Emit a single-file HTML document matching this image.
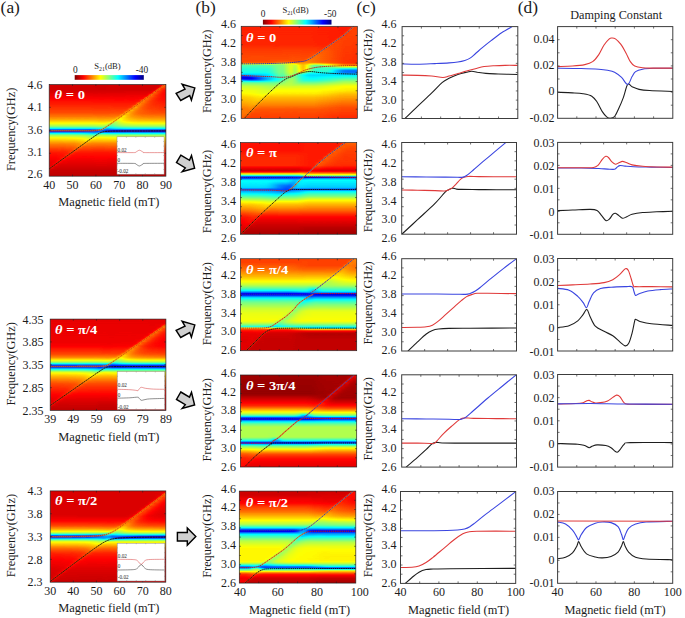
<!DOCTYPE html>
<html><head><meta charset="utf-8"><style>
html,body{margin:0;padding:0;background:#fff;}
body{width:685px;height:618px;overflow:hidden;}
svg text{font-family:'Liberation Serif',serif;}
.q0{stop-color:#000000}.q1{stop-color:#010101}.q2{stop-color:#020202}.q3{stop-color:#030303}.q4{stop-color:#040404}.q5{stop-color:#050505}.q6{stop-color:#060606}.q7{stop-color:#070707}.q8{stop-color:#080808}.q9{stop-color:#090909}.qa{stop-color:#0a0a0a}.qb{stop-color:#0b0b0b}.qc{stop-color:#0c0c0c}.qd{stop-color:#0d0d0d}.qe{stop-color:#0e0e0e}.qf{stop-color:#0f0f0f}.q10{stop-color:#101010}.q11{stop-color:#111111}.q12{stop-color:#121212}.q13{stop-color:#131313}.q14{stop-color:#141414}.q15{stop-color:#151515}.q16{stop-color:#161616}.q17{stop-color:#171717}.q18{stop-color:#181818}.q19{stop-color:#191919}.q1a{stop-color:#1a1a1a}.q1b{stop-color:#1b1b1b}.q1c{stop-color:#1c1c1c}.q1d{stop-color:#1d1d1d}.q1e{stop-color:#1e1e1e}.q1f{stop-color:#1f1f1f}.q20{stop-color:#202020}.q21{stop-color:#212121}.q22{stop-color:#222222}.q23{stop-color:#232323}.q24{stop-color:#242424}.q25{stop-color:#252525}.q26{stop-color:#262626}.q27{stop-color:#272727}.q28{stop-color:#282828}.q29{stop-color:#292929}.q2a{stop-color:#2a2a2a}.q2b{stop-color:#2b2b2b}.q2c{stop-color:#2c2c2c}.q2d{stop-color:#2d2d2d}.q2e{stop-color:#2e2e2e}.q2f{stop-color:#2f2f2f}.q30{stop-color:#303030}.q31{stop-color:#313131}.q32{stop-color:#323232}.q33{stop-color:#333333}.q34{stop-color:#343434}.q35{stop-color:#353535}.q36{stop-color:#363636}.q37{stop-color:#373737}.q38{stop-color:#383838}.q39{stop-color:#393939}.q3a{stop-color:#3a3a3a}.q3b{stop-color:#3b3b3b}.q3c{stop-color:#3c3c3c}.q3d{stop-color:#3d3d3d}.q3e{stop-color:#3e3e3e}.q3f{stop-color:#3f3f3f}.q40{stop-color:#404040}.q41{stop-color:#414141}.q42{stop-color:#424242}.q43{stop-color:#434343}.q44{stop-color:#444444}.q45{stop-color:#454545}.q46{stop-color:#464646}.q47{stop-color:#474747}.q48{stop-color:#484848}.q49{stop-color:#494949}.q4a{stop-color:#4a4a4a}.q4b{stop-color:#4b4b4b}.q4c{stop-color:#4c4c4c}.q4d{stop-color:#4d4d4d}.q4e{stop-color:#4e4e4e}.q4f{stop-color:#4f4f4f}.q50{stop-color:#505050}.q51{stop-color:#515151}.q52{stop-color:#525252}.q53{stop-color:#535353}.q54{stop-color:#545454}.q55{stop-color:#555555}.q56{stop-color:#565656}.q57{stop-color:#575757}.q58{stop-color:#585858}.q59{stop-color:#595959}.q5a{stop-color:#5a5a5a}.q5b{stop-color:#5b5b5b}.q5c{stop-color:#5c5c5c}.q5d{stop-color:#5d5d5d}.q5e{stop-color:#5e5e5e}.q5f{stop-color:#5f5f5f}.q60{stop-color:#606060}.q61{stop-color:#616161}.q62{stop-color:#626262}.q63{stop-color:#636363}.q64{stop-color:#646464}.q65{stop-color:#656565}.q66{stop-color:#666666}.q67{stop-color:#676767}.q68{stop-color:#686868}.q69{stop-color:#696969}.q6a{stop-color:#6a6a6a}.q6b{stop-color:#6b6b6b}.q6c{stop-color:#6c6c6c}.q6d{stop-color:#6d6d6d}.q6e{stop-color:#6e6e6e}.q6f{stop-color:#6f6f6f}.q70{stop-color:#707070}.q71{stop-color:#717171}.q72{stop-color:#727272}.q73{stop-color:#737373}.q74{stop-color:#747474}.q75{stop-color:#757575}.q76{stop-color:#767676}.q77{stop-color:#777777}.q78{stop-color:#787878}.q79{stop-color:#797979}.q7a{stop-color:#7a7a7a}.q7b{stop-color:#7b7b7b}.q7c{stop-color:#7c7c7c}.q7d{stop-color:#7d7d7d}.q7e{stop-color:#7e7e7e}.q7f{stop-color:#7f7f7f}.q80{stop-color:#808080}.q81{stop-color:#818181}.q82{stop-color:#828282}.q83{stop-color:#838383}.q84{stop-color:#848484}.q85{stop-color:#858585}.q86{stop-color:#868686}.q87{stop-color:#878787}.q88{stop-color:#888888}.q89{stop-color:#898989}.q8a{stop-color:#8a8a8a}.q8b{stop-color:#8b8b8b}.q8c{stop-color:#8c8c8c}.q8d{stop-color:#8d8d8d}.q8e{stop-color:#8e8e8e}.q8f{stop-color:#8f8f8f}.q90{stop-color:#909090}.q91{stop-color:#919191}.q92{stop-color:#929292}.q93{stop-color:#939393}.q94{stop-color:#949494}.q95{stop-color:#959595}.q96{stop-color:#969696}.q97{stop-color:#979797}.q98{stop-color:#989898}.q99{stop-color:#999999}.q9a{stop-color:#9a9a9a}.q9b{stop-color:#9b9b9b}.q9c{stop-color:#9c9c9c}.q9d{stop-color:#9d9d9d}.q9e{stop-color:#9e9e9e}.q9f{stop-color:#9f9f9f}.qa0{stop-color:#a0a0a0}.qa1{stop-color:#a1a1a1}.qa2{stop-color:#a2a2a2}.qa3{stop-color:#a3a3a3}.qa4{stop-color:#a4a4a4}.qa5{stop-color:#a5a5a5}.qa6{stop-color:#a6a6a6}.qa7{stop-color:#a7a7a7}.qa8{stop-color:#a8a8a8}.qa9{stop-color:#a9a9a9}.qaa{stop-color:#aaaaaa}.qab{stop-color:#ababab}.qac{stop-color:#acacac}.qad{stop-color:#adadad}.qae{stop-color:#aeaeae}.qaf{stop-color:#afafaf}.qb0{stop-color:#b0b0b0}.qb1{stop-color:#b1b1b1}.qb2{stop-color:#b2b2b2}.qb3{stop-color:#b3b3b3}.qb4{stop-color:#b4b4b4}.qb5{stop-color:#b5b5b5}.qb6{stop-color:#b6b6b6}.qb7{stop-color:#b7b7b7}.qb8{stop-color:#b8b8b8}.qb9{stop-color:#b9b9b9}.qba{stop-color:#bababa}.qbb{stop-color:#bbbbbb}.qbc{stop-color:#bcbcbc}.qbd{stop-color:#bdbdbd}.qbe{stop-color:#bebebe}.qbf{stop-color:#bfbfbf}.qc0{stop-color:#c0c0c0}.qc1{stop-color:#c1c1c1}.qc2{stop-color:#c2c2c2}.qc3{stop-color:#c3c3c3}.qc4{stop-color:#c4c4c4}.qc5{stop-color:#c5c5c5}.qc6{stop-color:#c6c6c6}.qc7{stop-color:#c7c7c7}.qc8{stop-color:#c8c8c8}.qc9{stop-color:#c9c9c9}.qca{stop-color:#cacaca}.qcb{stop-color:#cbcbcb}.qcc{stop-color:#cccccc}.qcd{stop-color:#cdcdcd}.qce{stop-color:#cecece}.qcf{stop-color:#cfcfcf}.qd0{stop-color:#d0d0d0}.qd1{stop-color:#d1d1d1}.qd2{stop-color:#d2d2d2}.qd3{stop-color:#d3d3d3}.qd4{stop-color:#d4d4d4}.qd5{stop-color:#d5d5d5}.qd6{stop-color:#d6d6d6}.qd7{stop-color:#d7d7d7}.qd8{stop-color:#d8d8d8}.qd9{stop-color:#d9d9d9}.qda{stop-color:#dadada}.qdb{stop-color:#dbdbdb}.qdc{stop-color:#dcdcdc}.qdd{stop-color:#dddddd}.qde{stop-color:#dedede}.qdf{stop-color:#dfdfdf}.qe0{stop-color:#e0e0e0}.qe1{stop-color:#e1e1e1}.qe2{stop-color:#e2e2e2}.qe3{stop-color:#e3e3e3}.qe4{stop-color:#e4e4e4}.qe5{stop-color:#e5e5e5}.qe6{stop-color:#e6e6e6}.qe7{stop-color:#e7e7e7}.qe8{stop-color:#e8e8e8}.qe9{stop-color:#e9e9e9}.qea{stop-color:#eaeaea}.qeb{stop-color:#ebebeb}.qec{stop-color:#ececec}.qed{stop-color:#ededed}.qee{stop-color:#eeeeee}.qef{stop-color:#efefef}.qf0{stop-color:#f0f0f0}.qf1{stop-color:#f1f1f1}.qf2{stop-color:#f2f2f2}.qf3{stop-color:#f3f3f3}.qf4{stop-color:#f4f4f4}.qf5{stop-color:#f5f5f5}.qf6{stop-color:#f6f6f6}.qf7{stop-color:#f7f7f7}.qf8{stop-color:#f8f8f8}.qf9{stop-color:#f9f9f9}.qfa{stop-color:#fafafa}.qfb{stop-color:#fbfbfb}.qfc{stop-color:#fcfcfc}.qfd{stop-color:#fdfdfd}.qfe{stop-color:#fefefe}.qff{stop-color:#ffffff}
</style></head><body>
<svg width="685" height="618" viewBox="0 0 685 618" style="display:block">
<defs><clipPath id="clip0"><rect x="49.2" y="84.4" width="116.70" height="91.80"/></clipPath><filter id="cm0" x="45.2" y="83.4" width="124.7" height="93.79999999999998" filterUnits="userSpaceOnUse" color-interpolation-filters="sRGB"><feGaussianBlur stdDeviation="1.6 0"/><feComponentTransfer><feFuncR type="table" tableValues="0.5000 1.0000 1.0000 1.0000 0.5000 0.0000 0.0000 0.0000 0.0000"/><feFuncG type="table" tableValues="0.0000 0.0000 0.5000 1.0000 1.0000 1.0000 0.5000 0.0000 0.0000"/><feFuncB type="table" tableValues="0.0000 0.0000 0.0000 0.0000 0.5000 1.0000 1.0000 1.0000 0.5000"/></feComponentTransfer></filter><linearGradient id="g0" x2="0" y2="1"><stop offset=.000 class=q15 /><stop offset=.065 class=q15 /><stop offset=.087 class=q17 /><stop offset=.305 class=q32 /><stop offset=.349 class=q3d /><stop offset=.381 class=q49 /><stop offset=.425 class=q61 /><stop offset=.447 class=q71 /><stop offset=.458 class=q7c /><stop offset=.468 class=q8b /><stop offset=.479 class=q9f /><stop offset=.490 class=qbd /><stop offset=.501 class=qe9 /><stop offset=.512 class=qe4 /><stop offset=.523 class=qbc /><stop offset=.534 class=qa0 /><stop offset=.545 class=q88 /><stop offset=.556 class=q76 /><stop offset=.577 class=q63 /><stop offset=.588 class=q5d /><stop offset=.610 class=q51 /><stop offset=.654 class=q3e /><stop offset=.730 class=q28 /><stop offset=.763 class=q23 /><stop offset=.882 class=q18 /><stop offset=.904 class=q18 /><stop offset=.915 class=q21 /><stop offset=.926 class=q1d /><stop offset=.937 class=q14 /><stop offset=.948 class=q12 /><stop offset=1.000 class=q10 /></linearGradient><linearGradient id="g1" x2="0" y2="1"><stop offset=.000 class=q15 /><stop offset=.065 class=q15 /><stop offset=.087 class=q17 /><stop offset=.305 class=q32 /><stop offset=.349 class=q3d /><stop offset=.381 class=q49 /><stop offset=.425 class=q61 /><stop offset=.447 class=q71 /><stop offset=.458 class=q7c /><stop offset=.468 class=q8b /><stop offset=.479 class=q9f /><stop offset=.490 class=qbd /><stop offset=.501 class=qe9 /><stop offset=.512 class=qe4 /><stop offset=.523 class=qbc /><stop offset=.534 class=qa0 /><stop offset=.545 class=q88 /><stop offset=.556 class=q76 /><stop offset=.577 class=q63 /><stop offset=.588 class=q5d /><stop offset=.610 class=q51 /><stop offset=.654 class=q3e /><stop offset=.719 class=q2b /><stop offset=.752 class=q24 /><stop offset=.763 class=q23 /><stop offset=.861 class=q1a /><stop offset=.882 class=q1a /><stop offset=.893 class=q1f /><stop offset=.904 class=q1f /><stop offset=.915 class=q1d /><stop offset=.926 class=q15 /><stop offset=.937 class=q13 /><stop offset=1.000 class=qf /></linearGradient><linearGradient id="g2" x2="0" y2="1"><stop offset=.000 class=q15 /><stop offset=.065 class=q15 /><stop offset=.087 class=q17 /><stop offset=.305 class=q32 /><stop offset=.349 class=q3d /><stop offset=.381 class=q49 /><stop offset=.425 class=q61 /><stop offset=.447 class=q71 /><stop offset=.458 class=q7c /><stop offset=.468 class=q8b /><stop offset=.479 class=q9f /><stop offset=.490 class=qbd /><stop offset=.501 class=qe9 /><stop offset=.512 class=qe4 /><stop offset=.523 class=qbc /><stop offset=.534 class=qa0 /><stop offset=.545 class=q88 /><stop offset=.556 class=q76 /><stop offset=.577 class=q63 /><stop offset=.588 class=q5d /><stop offset=.610 class=q51 /><stop offset=.654 class=q3e /><stop offset=.719 class=q2b /><stop offset=.752 class=q24 /><stop offset=.763 class=q23 /><stop offset=.828 class=q1d /><stop offset=.850 class=q1d /><stop offset=.861 class=q22 /><stop offset=.882 class=q20 /><stop offset=.893 class=q19 /><stop offset=.904 class=q16 /><stop offset=.937 class=q12 /><stop offset=1.000 class=qf /></linearGradient><linearGradient id="g3" x2="0" y2="1"><stop offset=.000 class=q15 /><stop offset=.065 class=q15 /><stop offset=.087 class=q17 /><stop offset=.305 class=q32 /><stop offset=.349 class=q3d /><stop offset=.381 class=q49 /><stop offset=.425 class=q61 /><stop offset=.447 class=q71 /><stop offset=.458 class=q7c /><stop offset=.468 class=q8b /><stop offset=.479 class=q9f /><stop offset=.490 class=qbe /><stop offset=.501 class=qe9 /><stop offset=.512 class=qe4 /><stop offset=.523 class=qbb /><stop offset=.534 class=qa0 /><stop offset=.545 class=q88 /><stop offset=.556 class=q77 /><stop offset=.577 class=q63 /><stop offset=.588 class=q5d /><stop offset=.610 class=q51 /><stop offset=.654 class=q3e /><stop offset=.741 class=q26 /><stop offset=.806 class=q20 /><stop offset=.817 class=q20 /><stop offset=.828 class=q25 /><stop offset=.839 class=q25 /><stop offset=.850 class=q23 /><stop offset=.861 class=q1c /><stop offset=.871 class=q19 /><stop offset=.937 class=q12 /><stop offset=1.000 class=qf /></linearGradient><linearGradient id="g4" x2="0" y2="1"><stop offset=.000 class=q15 /><stop offset=.065 class=q15 /><stop offset=.087 class=q17 /><stop offset=.305 class=q32 /><stop offset=.349 class=q3d /><stop offset=.381 class=q49 /><stop offset=.425 class=q61 /><stop offset=.447 class=q71 /><stop offset=.458 class=q7c /><stop offset=.468 class=q8b /><stop offset=.479 class=qa0 /><stop offset=.490 class=qbe /><stop offset=.501 class=qea /><stop offset=.512 class=qe3 /><stop offset=.523 class=qbb /><stop offset=.534 class=qa0 /><stop offset=.545 class=q88 /><stop offset=.556 class=q77 /><stop offset=.577 class=q63 /><stop offset=.588 class=q5d /><stop offset=.643 class=q42 /><stop offset=.697 class=q31 /><stop offset=.730 class=q29 /><stop offset=.773 class=q23 /><stop offset=.784 class=q23 /><stop offset=.806 class=q29 /><stop offset=.817 class=q26 /><stop offset=.828 class=q1f /><stop offset=.839 class=q1c /><stop offset=.871 class=q18 /><stop offset=.937 class=q12 /><stop offset=1.000 class=qf /></linearGradient><linearGradient id="g5" x2="0" y2="1"><stop offset=.000 class=q15 /><stop offset=.065 class=q15 /><stop offset=.087 class=q17 /><stop offset=.305 class=q32 /><stop offset=.349 class=q3d /><stop offset=.381 class=q49 /><stop offset=.425 class=q61 /><stop offset=.447 class=q71 /><stop offset=.458 class=q7c /><stop offset=.468 class=q8b /><stop offset=.479 class=qa0 /><stop offset=.490 class=qbe /><stop offset=.501 class=qea /><stop offset=.512 class=qe3 /><stop offset=.523 class=qbb /><stop offset=.534 class=qa0 /><stop offset=.545 class=q88 /><stop offset=.556 class=q77 /><stop offset=.577 class=q64 /><stop offset=.588 class=q5d /><stop offset=.654 class=q3f /><stop offset=.730 class=q2a /><stop offset=.752 class=q27 /><stop offset=.773 class=q2c /><stop offset=.784 class=q29 /><stop offset=.806 class=q1f /><stop offset=.937 class=q12 /><stop offset=1.000 class=qf /></linearGradient><linearGradient id="g6" x2="0" y2="1"><stop offset=.000 class=q15 /><stop offset=.065 class=q15 /><stop offset=.087 class=q17 /><stop offset=.305 class=q32 /><stop offset=.349 class=q3d /><stop offset=.381 class=q49 /><stop offset=.425 class=q61 /><stop offset=.447 class=q71 /><stop offset=.458 class=q7c /><stop offset=.468 class=q8b /><stop offset=.479 class=qa0 /><stop offset=.490 class=qbe /><stop offset=.501 class=qea /><stop offset=.512 class=qe2 /><stop offset=.523 class=qbb /><stop offset=.534 class=qa0 /><stop offset=.545 class=q89 /><stop offset=.556 class=q77 /><stop offset=.577 class=q64 /><stop offset=.588 class=q5e /><stop offset=.610 class=q52 /><stop offset=.643 class=q43 /><stop offset=.697 class=q33 /><stop offset=.719 class=q2f /><stop offset=.741 class=q30 /><stop offset=.752 class=q2d /><stop offset=.773 class=q23 /><stop offset=.828 class=q1c /><stop offset=.937 class=q12 /><stop offset=1.000 class=qf /></linearGradient><linearGradient id="g7" x2="0" y2="1"><stop offset=.000 class=q15 /><stop offset=.065 class=q15 /><stop offset=.087 class=q17 /><stop offset=.305 class=q32 /><stop offset=.349 class=q3d /><stop offset=.381 class=q49 /><stop offset=.425 class=q61 /><stop offset=.447 class=q71 /><stop offset=.458 class=q7c /><stop offset=.468 class=q8c /><stop offset=.479 class=qa0 /><stop offset=.490 class=qbe /><stop offset=.501 class=qea /><stop offset=.512 class=qe2 /><stop offset=.523 class=qbb /><stop offset=.545 class=q89 /><stop offset=.556 class=q78 /><stop offset=.577 class=q65 /><stop offset=.588 class=q5f /><stop offset=.610 class=q53 /><stop offset=.643 class=q44 /><stop offset=.686 class=q38 /><stop offset=.708 class=q39 /><stop offset=.719 class=q35 /><stop offset=.741 class=q27 /><stop offset=.752 class=q24 /><stop offset=.937 class=q12 /><stop offset=1.000 class=qf /></linearGradient><linearGradient id="g8" x2="0" y2="1"><stop offset=.000 class=q15 /><stop offset=.065 class=q15 /><stop offset=.087 class=q17 /><stop offset=.305 class=q32 /><stop offset=.349 class=q3d /><stop offset=.381 class=q49 /><stop offset=.425 class=q61 /><stop offset=.447 class=q71 /><stop offset=.458 class=q7c /><stop offset=.468 class=q8c /><stop offset=.479 class=qa0 /><stop offset=.490 class=qbf /><stop offset=.501 class=qeb /><stop offset=.512 class=qe1 /><stop offset=.523 class=qbb /><stop offset=.534 class=qa1 /><stop offset=.545 class=q8a /><stop offset=.556 class=q79 /><stop offset=.577 class=q66 /><stop offset=.599 class=q5a /><stop offset=.643 class=q47 /><stop offset=.654 class=q44 /><stop offset=.675 class=q43 /><stop offset=.686 class=q3e /><stop offset=.708 class=q2f /><stop offset=.741 class=q26 /><stop offset=.806 class=q1e /><stop offset=.937 class=q12 /><stop offset=1.000 class=qf /></linearGradient><linearGradient id="g9" x2="0" y2="1"><stop offset=.000 class=q15 /><stop offset=.065 class=q15 /><stop offset=.087 class=q17 /><stop offset=.305 class=q32 /><stop offset=.349 class=q3d /><stop offset=.381 class=q49 /><stop offset=.425 class=q61 /><stop offset=.447 class=q71 /><stop offset=.458 class=q7c /><stop offset=.468 class=q8c /><stop offset=.479 class=qa0 /><stop offset=.490 class=qbf /><stop offset=.501 class=qeb /><stop offset=.512 class=qe0 /><stop offset=.523 class=qbc /><stop offset=.534 class=qa2 /><stop offset=.545 class=q8b /><stop offset=.556 class=q7a /><stop offset=.577 class=q68 /><stop offset=.599 class=q5d /><stop offset=.621 class=q53 /><stop offset=.643 class=q4e /><stop offset=.654 class=q49 /><stop offset=.675 class=q39 /><stop offset=.686 class=q34 /><stop offset=.730 class=q28 /><stop offset=.752 class=q24 /><stop offset=.828 class=q1c /><stop offset=.937 class=q12 /><stop offset=1.000 class=qf /></linearGradient><linearGradient id="g10" x2="0" y2="1"><stop offset=.000 class=q15 /><stop offset=.065 class=q15 /><stop offset=.087 class=q17 /><stop offset=.305 class=q32 /><stop offset=.349 class=q3d /><stop offset=.381 class=q49 /><stop offset=.425 class=q61 /><stop offset=.447 class=q71 /><stop offset=.458 class=q7c /><stop offset=.468 class=q8c /><stop offset=.479 class=qa0 /><stop offset=.490 class=qc0 /><stop offset=.501 class=qec /><stop offset=.512 class=qde /><stop offset=.523 class=qbc /><stop offset=.545 class=q8e /><stop offset=.556 class=q7d /><stop offset=.566 class=q74 /><stop offset=.588 class=q66 /><stop offset=.610 class=q5f /><stop offset=.621 class=q58 /><stop offset=.643 class=q43 /><stop offset=.675 class=q37 /><stop offset=.730 class=q28 /><stop offset=.752 class=q24 /><stop offset=.828 class=q1c /><stop offset=.937 class=q12 /><stop offset=1.000 class=qf /></linearGradient><linearGradient id="g11" x2="0" y2="1"><stop offset=.000 class=q15 /><stop offset=.065 class=q15 /><stop offset=.087 class=q17 /><stop offset=.305 class=q32 /><stop offset=.349 class=q3d /><stop offset=.381 class=q49 /><stop offset=.425 class=q61 /><stop offset=.447 class=q71 /><stop offset=.458 class=q7c /><stop offset=.468 class=q8c /><stop offset=.479 class=qa0 /><stop offset=.490 class=qc1 /><stop offset=.501 class=qec /><stop offset=.512 class=qdc /><stop offset=.523 class=qbe /><stop offset=.534 class=qa7 /><stop offset=.545 class=q92 /><stop offset=.556 class=q82 /><stop offset=.588 class=q6a /><stop offset=.599 class=q5d /><stop offset=.610 class=q53 /><stop offset=.621 class=q4c /><stop offset=.643 class=q42 /><stop offset=.675 class=q37 /><stop offset=.730 class=q28 /><stop offset=.752 class=q24 /><stop offset=.828 class=q1c /><stop offset=.937 class=q12 /><stop offset=1.000 class=qf /></linearGradient><linearGradient id="g12" x2="0" y2="1"><stop offset=.000 class=q14 /><stop offset=.065 class=q15 /><stop offset=.098 class=q18 /><stop offset=.316 class=q33 /><stop offset=.381 class=q49 /><stop offset=.425 class=q61 /><stop offset=.447 class=q71 /><stop offset=.458 class=q7c /><stop offset=.468 class=q8b /><stop offset=.479 class=qa0 /><stop offset=.490 class=qc1 /><stop offset=.501 class=qe9 /><stop offset=.534 class=qad /><stop offset=.545 class=q96 /><stop offset=.556 class=q84 /><stop offset=.566 class=q76 /><stop offset=.577 class=q64 /><stop offset=.588 class=q5d /><stop offset=.643 class=q41 /><stop offset=.697 class=q30 /><stop offset=.741 class=q25 /><stop offset=.937 class=q12 /><stop offset=1.000 class=qf /></linearGradient><linearGradient id="g13" x2="0" y2="1"><stop offset=.000 class=q14 /><stop offset=.054 class=q14 /><stop offset=.098 class=q18 /><stop offset=.316 class=q33 /><stop offset=.359 class=q40 /><stop offset=.392 class=q4d /><stop offset=.425 class=q60 /><stop offset=.447 class=q6f /><stop offset=.458 class=q7a /><stop offset=.468 class=q89 /><stop offset=.479 class=q9d /><stop offset=.490 class=qc0 /><stop offset=.501 class=qcf /><stop offset=.512 class=qc7 /><stop offset=.523 class=qbb /><stop offset=.534 class=qa6 /><stop offset=.545 class=q88 /><stop offset=.556 class=q74 /><stop offset=.577 class=q61 /><stop offset=.643 class=q41 /><stop offset=.686 class=q33 /><stop offset=.741 class=q25 /><stop offset=.937 class=q12 /><stop offset=1.000 class=qf /></linearGradient><linearGradient id="g14" x2="0" y2="1"><stop offset=.000 class=q14 /><stop offset=.054 class=q14 /><stop offset=.098 class=q18 /><stop offset=.316 class=q33 /><stop offset=.370 class=q44 /><stop offset=.392 class=q4d /><stop offset=.425 class=q60 /><stop offset=.447 class=q6f /><stop offset=.458 class=q79 /><stop offset=.468 class=q89 /><stop offset=.479 class=q9e /><stop offset=.490 class=qbd /><stop offset=.501 class=qc8 /><stop offset=.512 class=qcb /><stop offset=.523 class=qc0 /><stop offset=.534 class=q9e /><stop offset=.545 class=q85 /><stop offset=.556 class=q74 /><stop offset=.577 class=q61 /><stop offset=.643 class=q41 /><stop offset=.686 class=q33 /><stop offset=.741 class=q25 /><stop offset=.937 class=q12 /><stop offset=1.000 class=qf /></linearGradient><linearGradient id="g15" x2="0" y2="1"><stop offset=.000 class=q14 /><stop offset=.065 class=q15 /><stop offset=.098 class=q18 /><stop offset=.316 class=q33 /><stop offset=.349 class=q3d /><stop offset=.392 class=q4d /><stop offset=.425 class=q61 /><stop offset=.447 class=q75 /><stop offset=.458 class=q8f /><stop offset=.468 class=qa0 /><stop offset=.490 class=qc1 /><stop offset=.501 class=qd6 /><stop offset=.512 class=qe8 /><stop offset=.523 class=qc2 /><stop offset=.534 class=qa2 /><stop offset=.545 class=q88 /><stop offset=.556 class=q76 /><stop offset=.577 class=q63 /><stop offset=.588 class=q5c /><stop offset=.643 class=q41 /><stop offset=.741 class=q25 /><stop offset=.937 class=q12 /><stop offset=1.000 class=qf /></linearGradient><linearGradient id="g16" x2="0" y2="1"><stop offset=.000 class=q15 /><stop offset=.065 class=q15 /><stop offset=.087 class=q17 /><stop offset=.305 class=q32 /><stop offset=.349 class=q3d /><stop offset=.392 class=q4e /><stop offset=.403 class=q55 /><stop offset=.414 class=q60 /><stop offset=.425 class=q77 /><stop offset=.436 class=q84 /><stop offset=.458 class=q90 /><stop offset=.468 class=q9b /><stop offset=.479 class=qa9 /><stop offset=.490 class=qbe /><stop offset=.501 class=qdc /><stop offset=.512 class=qec /><stop offset=.523 class=qc2 /><stop offset=.534 class=qa2 /><stop offset=.545 class=q89 /><stop offset=.556 class=q77 /><stop offset=.577 class=q63 /><stop offset=.588 class=q5d /><stop offset=.643 class=q41 /><stop offset=.730 class=q28 /><stop offset=.752 class=q24 /><stop offset=.828 class=q1c /><stop offset=.937 class=q12 /><stop offset=1.000 class=qf /></linearGradient><linearGradient id="g17" x2="0" y2="1"><stop offset=.000 class=q15 /><stop offset=.065 class=q15 /><stop offset=.087 class=q17 /><stop offset=.240 class=q29 /><stop offset=.316 class=q34 /><stop offset=.359 class=q41 /><stop offset=.370 class=q46 /><stop offset=.381 class=q4f /><stop offset=.392 class=q5d /><stop offset=.403 class=q70 /><stop offset=.414 class=q77 /><stop offset=.425 class=q78 /><stop offset=.447 class=q80 /><stop offset=.458 class=q88 /><stop offset=.468 class=q94 /><stop offset=.479 class=qa4 /><stop offset=.490 class=qbc /><stop offset=.501 class=qdf /><stop offset=.512 class=qec /><stop offset=.523 class=qc1 /><stop offset=.534 class=qa2 /><stop offset=.545 class=q89 /><stop offset=.556 class=q77 /><stop offset=.577 class=q63 /><stop offset=.588 class=q5d /><stop offset=.610 class=q51 /><stop offset=.643 class=q42 /><stop offset=.675 class=q37 /><stop offset=.730 class=q28 /><stop offset=.752 class=q24 /><stop offset=.828 class=q1c /><stop offset=.937 class=q12 /><stop offset=1.000 class=qf /></linearGradient><linearGradient id="g18" x2="0" y2="1"><stop offset=.000 class=q15 /><stop offset=.065 class=q15 /><stop offset=.087 class=q17 /><stop offset=.240 class=q29 /><stop offset=.316 class=q34 /><stop offset=.338 class=q3b /><stop offset=.349 class=q42 /><stop offset=.370 class=q62 /><stop offset=.381 class=q67 /><stop offset=.392 class=q65 /><stop offset=.414 class=q6a /><stop offset=.425 class=q6e /><stop offset=.447 class=q7a /><stop offset=.458 class=q83 /><stop offset=.468 class=q90 /><stop offset=.479 class=qa2 /><stop offset=.490 class=qbb /><stop offset=.501 class=qe0 /><stop offset=.512 class=qeb /><stop offset=.523 class=qc0 /><stop offset=.534 class=qa2 /><stop offset=.545 class=q89 /><stop offset=.556 class=q77 /><stop offset=.577 class=q63 /><stop offset=.588 class=q5d /><stop offset=.610 class=q51 /><stop offset=.643 class=q42 /><stop offset=.675 class=q37 /><stop offset=.730 class=q28 /><stop offset=.752 class=q24 /><stop offset=.828 class=q1c /><stop offset=.937 class=q12 /><stop offset=1.000 class=qf /></linearGradient><linearGradient id="g19" x2="0" y2="1"><stop offset=.000 class=q15 /><stop offset=.065 class=q15 /><stop offset=.087 class=q17 /><stop offset=.240 class=q29 /><stop offset=.305 class=q33 /><stop offset=.316 class=q37 /><stop offset=.338 class=q58 /><stop offset=.349 class=q5d /><stop offset=.359 class=q59 /><stop offset=.370 class=q59 /><stop offset=.392 class=q5b /><stop offset=.414 class=q64 /><stop offset=.436 class=q6f /><stop offset=.447 class=q76 /><stop offset=.458 class=q80 /><stop offset=.468 class=q8e /><stop offset=.479 class=qa0 /><stop offset=.490 class=qbb /><stop offset=.501 class=qe1 /><stop offset=.512 class=qeb /><stop offset=.523 class=qc0 /><stop offset=.534 class=qa2 /><stop offset=.545 class=q89 /><stop offset=.556 class=q77 /><stop offset=.577 class=q63 /><stop offset=.588 class=q5d /><stop offset=.610 class=q51 /><stop offset=.643 class=q42 /><stop offset=.675 class=q37 /><stop offset=.730 class=q28 /><stop offset=.752 class=q24 /><stop offset=.828 class=q1c /><stop offset=.937 class=q12 /><stop offset=1.000 class=qf /></linearGradient><linearGradient id="g20" x2="0" y2="1"><stop offset=.000 class=q15 /><stop offset=.065 class=q15 /><stop offset=.261 class=q2c /><stop offset=.283 class=q32 /><stop offset=.294 class=q40 /><stop offset=.316 class=q54 /><stop offset=.327 class=q4f /><stop offset=.359 class=q4f /><stop offset=.392 class=q56 /><stop offset=.414 class=q60 /><stop offset=.447 class=q74 /><stop offset=.458 class=q7e /><stop offset=.468 class=q8d /><stop offset=.479 class=q9f /><stop offset=.490 class=qba /><stop offset=.501 class=qe2 /><stop offset=.512 class=qea /><stop offset=.523 class=qbf /><stop offset=.534 class=qa1 /><stop offset=.545 class=q89 /><stop offset=.556 class=q77 /><stop offset=.577 class=q63 /><stop offset=.588 class=q5d /><stop offset=.610 class=q51 /><stop offset=.654 class=q3e /><stop offset=.730 class=q28 /><stop offset=.763 class=q23 /><stop offset=.937 class=q12 /><stop offset=1.000 class=qf /></linearGradient><linearGradient id="g21" x2="0" y2="1"><stop offset=.000 class=q15 /><stop offset=.065 class=q15 /><stop offset=.174 class=q21 /><stop offset=.240 class=q2a /><stop offset=.251 class=q2d /><stop offset=.261 class=q3c /><stop offset=.272 class=q45 /><stop offset=.283 class=q51 /><stop offset=.294 class=q4a /><stop offset=.316 class=q45 /><stop offset=.349 class=q47 /><stop offset=.392 class=q52 /><stop offset=.425 class=q64 /><stop offset=.447 class=q73 /><stop offset=.458 class=q7d /><stop offset=.468 class=q8c /><stop offset=.479 class=q9f /><stop offset=.490 class=qba /><stop offset=.501 class=qe3 /><stop offset=.512 class=qea /><stop offset=.523 class=qbf /><stop offset=.534 class=qa1 /><stop offset=.545 class=q89 /><stop offset=.556 class=q77 /><stop offset=.577 class=q63 /><stop offset=.588 class=q5d /><stop offset=.610 class=q51 /><stop offset=.654 class=q3e /><stop offset=.730 class=q28 /><stop offset=.763 class=q23 /><stop offset=.937 class=q12 /><stop offset=1.000 class=qf /></linearGradient><linearGradient id="g22" x2="0" y2="1"><stop offset=.000 class=q15 /><stop offset=.065 class=q15 /><stop offset=.196 class=q24 /><stop offset=.218 class=q29 /><stop offset=.229 class=q38 /><stop offset=.240 class=q41 /><stop offset=.251 class=q4e /><stop offset=.261 class=q46 /><stop offset=.283 class=q40 /><stop offset=.305 class=q3e /><stop offset=.327 class=q3f /><stop offset=.370 class=q49 /><stop offset=.403 class=q56 /><stop offset=.425 class=q63 /><stop offset=.447 class=q72 /><stop offset=.458 class=q7d /><stop offset=.468 class=q8b /><stop offset=.479 class=q9f /><stop offset=.490 class=qba /><stop offset=.501 class=qe3 /><stop offset=.512 class=qe9 /><stop offset=.523 class=qbf /><stop offset=.534 class=qa1 /><stop offset=.545 class=q89 /><stop offset=.556 class=q77 /><stop offset=.577 class=q63 /><stop offset=.588 class=q5d /><stop offset=.610 class=q51 /><stop offset=.654 class=q3e /><stop offset=.730 class=q28 /><stop offset=.763 class=q23 /><stop offset=.937 class=q12 /><stop offset=1.000 class=qf /></linearGradient><linearGradient id="g23" x2="0" y2="1"><stop offset=.000 class=q15 /><stop offset=.065 class=q15 /><stop offset=.174 class=q22 /><stop offset=.185 class=q25 /><stop offset=.196 class=q34 /><stop offset=.207 class=q3d /><stop offset=.218 class=q43 /><stop offset=.229 class=q42 /><stop offset=.251 class=q3c /><stop offset=.283 class=q39 /><stop offset=.316 class=q39 /><stop offset=.370 class=q47 /><stop offset=.392 class=q4f /><stop offset=.425 class=q62 /><stop offset=.447 class=q72 /><stop offset=.458 class=q7c /><stop offset=.468 class=q8b /><stop offset=.479 class=q9e /><stop offset=.490 class=qba /><stop offset=.501 class=qe4 /><stop offset=.512 class=qe9 /><stop offset=.523 class=qbf /><stop offset=.534 class=qa1 /><stop offset=.545 class=q89 /><stop offset=.556 class=q77 /><stop offset=.577 class=q63 /><stop offset=.588 class=q5d /><stop offset=.610 class=q51 /><stop offset=.654 class=q3e /><stop offset=.730 class=q28 /><stop offset=.763 class=q23 /><stop offset=.937 class=q12 /><stop offset=1.000 class=qf /></linearGradient><linearGradient id="g24" x2="0" y2="1"><stop offset=.000 class=q15 /><stop offset=.065 class=q15 /><stop offset=.120 class=q1b /><stop offset=.153 class=q21 /><stop offset=.163 class=q30 /><stop offset=.185 class=q40 /><stop offset=.196 class=q3f /><stop offset=.207 class=q3b /><stop offset=.229 class=q37 /><stop offset=.251 class=q35 /><stop offset=.316 class=q37 /><stop offset=.349 class=q3f /><stop offset=.392 class=q4f /><stop offset=.425 class=q62 /><stop offset=.447 class=q71 /><stop offset=.458 class=q7c /><stop offset=.468 class=q8b /><stop offset=.479 class=q9e /><stop offset=.490 class=qba /><stop offset=.501 class=qe4 /><stop offset=.512 class=qe9 /><stop offset=.523 class=qbe /><stop offset=.534 class=qa1 /><stop offset=.545 class=q89 /><stop offset=.556 class=q77 /><stop offset=.577 class=q63 /><stop offset=.588 class=q5d /><stop offset=.610 class=q51 /><stop offset=.654 class=q3e /><stop offset=.730 class=q28 /><stop offset=.763 class=q23 /><stop offset=.937 class=q12 /><stop offset=1.000 class=qf /></linearGradient><linearGradient id="g25" x2="0" y2="1"><stop offset=.000 class=q15 /><stop offset=.065 class=q15 /><stop offset=.109 class=q1a /><stop offset=.120 class=q1d /><stop offset=.131 class=q24 /><stop offset=.142 class=q36 /><stop offset=.153 class=q3c /><stop offset=.163 class=q3c /><stop offset=.185 class=q35 /><stop offset=.218 class=q31 /><stop offset=.261 class=q31 /><stop offset=.316 class=q36 /><stop offset=.359 class=q42 /><stop offset=.392 class=q4e /><stop offset=.425 class=q62 /><stop offset=.447 class=q71 /><stop offset=.458 class=q7c /><stop offset=.468 class=q8b /><stop offset=.479 class=q9e /><stop offset=.490 class=qbb /><stop offset=.501 class=qe4 /><stop offset=.512 class=qe9 /><stop offset=.523 class=qbe /><stop offset=.534 class=qa1 /><stop offset=.545 class=q89 /><stop offset=.556 class=q77 /><stop offset=.577 class=q63 /><stop offset=.588 class=q5d /><stop offset=.610 class=q51 /><stop offset=.654 class=q3e /><stop offset=.730 class=q28 /><stop offset=.763 class=q23 /><stop offset=.937 class=q12 /><stop offset=1.000 class=qf /></linearGradient><linearGradient id="g26" x2="0" y2="1"><stop offset=.000 class=q15 /><stop offset=.065 class=q15 /><stop offset=.087 class=q19 /><stop offset=.098 class=q20 /><stop offset=.109 class=q33 /><stop offset=.120 class=q39 /><stop offset=.131 class=q39 /><stop offset=.142 class=q34 /><stop offset=.153 class=q31 /><stop offset=.185 class=q2d /><stop offset=.251 class=q2e /><stop offset=.316 class=q35 /><stop offset=.359 class=q41 /><stop offset=.392 class=q4e /><stop offset=.425 class=q62 /><stop offset=.447 class=q71 /><stop offset=.458 class=q7c /><stop offset=.468 class=q8b /><stop offset=.479 class=q9e /><stop offset=.490 class=qbb /><stop offset=.501 class=qe4 /><stop offset=.512 class=qe9 /><stop offset=.523 class=qbe /><stop offset=.534 class=qa1 /><stop offset=.545 class=q89 /><stop offset=.556 class=q77 /><stop offset=.577 class=q63 /><stop offset=.588 class=q5d /><stop offset=.610 class=q51 /><stop offset=.654 class=q3e /><stop offset=.730 class=q28 /><stop offset=.763 class=q23 /><stop offset=.937 class=q12 /><stop offset=1.000 class=qf /></linearGradient><linearGradient id="g27" x2="0" y2="1"><stop offset=.000 class=q15 /><stop offset=.044 class=q15 /><stop offset=.054 class=q16 /><stop offset=.065 class=q1b /><stop offset=.087 class=q35 /><stop offset=.098 class=q36 /><stop offset=.120 class=q2e /><stop offset=.163 class=q29 /><stop offset=.218 class=q2a /><stop offset=.316 class=q34 /><stop offset=.370 class=q45 /><stop offset=.392 class=q4e /><stop offset=.425 class=q61 /><stop offset=.447 class=q71 /><stop offset=.458 class=q7c /><stop offset=.468 class=q8b /><stop offset=.479 class=q9e /><stop offset=.490 class=qbb /><stop offset=.501 class=qe5 /><stop offset=.512 class=qe9 /><stop offset=.523 class=qbe /><stop offset=.534 class=qa1 /><stop offset=.545 class=q88 /><stop offset=.556 class=q77 /><stop offset=.577 class=q63 /><stop offset=.588 class=q5d /><stop offset=.610 class=q51 /><stop offset=.654 class=q3e /><stop offset=.730 class=q28 /><stop offset=.763 class=q23 /><stop offset=.937 class=q12 /><stop offset=1.000 class=qf /></linearGradient><linearGradient id="g28" x2="0" y2="1"><stop offset=.000 class=q15 /><stop offset=.022 class=q16 /><stop offset=.033 class=q1a /><stop offset=.054 class=q33 /><stop offset=.065 class=q33 /><stop offset=.076 class=q2e /><stop offset=.109 class=q27 /><stop offset=.163 class=q25 /><stop offset=.272 class=q2e /><stop offset=.316 class=q34 /><stop offset=.370 class=q45 /><stop offset=.392 class=q4e /><stop offset=.425 class=q61 /><stop offset=.447 class=q71 /><stop offset=.458 class=q7c /><stop offset=.468 class=q8b /><stop offset=.479 class=q9e /><stop offset=.490 class=qbb /><stop offset=.501 class=qe5 /><stop offset=.512 class=qe8 /><stop offset=.523 class=qbe /><stop offset=.534 class=qa1 /><stop offset=.545 class=q88 /><stop offset=.556 class=q77 /><stop offset=.577 class=q63 /><stop offset=.588 class=q5d /><stop offset=.610 class=q51 /><stop offset=.654 class=q3e /><stop offset=.730 class=q28 /><stop offset=.763 class=q23 /><stop offset=.937 class=q12 /><stop offset=1.000 class=qf /></linearGradient><linearGradient id="g29" x2="0" y2="1"><stop offset=.000 class=q19 /><stop offset=.022 class=q34 /><stop offset=.033 class=q34 /><stop offset=.054 class=q28 /><stop offset=.065 class=q25 /><stop offset=.098 class=q22 /><stop offset=.163 class=q23 /><stop offset=.251 class=q2b /><stop offset=.305 class=q32 /><stop offset=.338 class=q3a /><stop offset=.370 class=q45 /><stop offset=.392 class=q4e /><stop offset=.425 class=q61 /><stop offset=.447 class=q71 /><stop offset=.458 class=q7c /><stop offset=.468 class=q8b /><stop offset=.479 class=q9e /><stop offset=.490 class=qbb /><stop offset=.501 class=qe5 /><stop offset=.512 class=qe8 /><stop offset=.523 class=qbe /><stop offset=.534 class=qa1 /><stop offset=.545 class=q88 /><stop offset=.556 class=q77 /><stop offset=.577 class=q63 /><stop offset=.588 class=q5d /><stop offset=.610 class=q51 /><stop offset=.654 class=q3e /><stop offset=.730 class=q28 /><stop offset=.763 class=q23 /><stop offset=.937 class=q12 /><stop offset=1.000 class=qf /></linearGradient><linearGradient id="g30" x2="0" y2="1"><stop offset=.000 class=q41 /><stop offset=.011 class=q32 /><stop offset=.022 class=q2c /><stop offset=.054 class=q22 /><stop offset=.065 class=q20 /><stop offset=.131 class=q20 /><stop offset=.207 class=q26 /><stop offset=.305 class=q32 /><stop offset=.338 class=q3a /><stop offset=.381 class=q49 /><stop offset=.425 class=q61 /><stop offset=.447 class=q71 /><stop offset=.458 class=q7c /><stop offset=.468 class=q8b /><stop offset=.479 class=q9e /><stop offset=.490 class=qbb /><stop offset=.501 class=qe5 /><stop offset=.512 class=qe8 /><stop offset=.523 class=qbe /><stop offset=.534 class=qa1 /><stop offset=.545 class=q88 /><stop offset=.556 class=q77 /><stop offset=.577 class=q63 /><stop offset=.588 class=q5d /><stop offset=.610 class=q51 /><stop offset=.654 class=q3e /><stop offset=.730 class=q28 /><stop offset=.763 class=q23 /><stop offset=.937 class=q12 /><stop offset=1.000 class=qf /></linearGradient><linearGradient id="g31" x2="0" y2="1"><stop offset=.000 class=q40 /><stop offset=.011 class=q32 /><stop offset=.022 class=q2c /><stop offset=.054 class=q22 /><stop offset=.065 class=q20 /><stop offset=.131 class=q20 /><stop offset=.218 class=q27 /><stop offset=.305 class=q32 /><stop offset=.338 class=q3a /><stop offset=.381 class=q49 /><stop offset=.425 class=q61 /><stop offset=.447 class=q71 /><stop offset=.458 class=q7c /><stop offset=.468 class=q8b /><stop offset=.479 class=q9e /><stop offset=.490 class=qbb /><stop offset=.501 class=qe5 /><stop offset=.512 class=qe8 /><stop offset=.523 class=qbe /><stop offset=.534 class=qa1 /><stop offset=.545 class=q88 /><stop offset=.556 class=q77 /><stop offset=.577 class=q63 /><stop offset=.588 class=q5d /><stop offset=.610 class=q51 /><stop offset=.654 class=q3e /><stop offset=.730 class=q28 /><stop offset=.763 class=q23 /><stop offset=.937 class=q12 /><stop offset=1.000 class=qf /></linearGradient><clipPath id="ov_a1"><rect x="49.2" y="84.4" width="116.70" height="91.80"/></clipPath><clipPath id="clip1"><rect x="50.2" y="319.1" width="115.70" height="91.40"/></clipPath><filter id="cm1" x="46.2" y="318.1" width="123.7" height="93.39999999999998" filterUnits="userSpaceOnUse" color-interpolation-filters="sRGB"><feGaussianBlur stdDeviation="1.6 0"/><feComponentTransfer><feFuncR type="table" tableValues="0.5000 1.0000 1.0000 1.0000 0.5000 0.0000 0.0000 0.0000 0.0000"/><feFuncG type="table" tableValues="0.0000 0.0000 0.5000 1.0000 1.0000 1.0000 0.5000 0.0000 0.0000"/><feFuncB type="table" tableValues="0.0000 0.0000 0.0000 0.0000 0.5000 1.0000 1.0000 1.0000 0.5000"/></feComponentTransfer></filter><linearGradient id="g32" x2="0" y2="1"><stop offset=.000 class=q1a /><stop offset=.252 class=q1c /><stop offset=.295 class=q1e /><stop offset=.306 class=q21 /><stop offset=.383 class=q31 /><stop offset=.416 class=q40 /><stop offset=.427 class=q49 /><stop offset=.460 class=q6a /><stop offset=.470 class=q76 /><stop offset=.481 class=q8c /><stop offset=.492 class=qad /><stop offset=.503 class=qc4 /><stop offset=.514 class=qee /><stop offset=.525 class=qe2 /><stop offset=.536 class=qbc /><stop offset=.558 class=q8d /><stop offset=.569 class=q79 /><stop offset=.580 class=q68 /><stop offset=.591 class=q5f /><stop offset=.624 class=q4e /><stop offset=.667 class=q3e /><stop offset=.711 class=q31 /><stop offset=.810 class=q22 /><stop offset=.864 class=q1b /><stop offset=.919 class=q16 /><stop offset=.930 class=q16 /><stop offset=.941 class=q20 /><stop offset=.952 class=q1c /><stop offset=.963 class=q14 /><stop offset=1.000 class=q10 /></linearGradient><linearGradient id="g33" x2="0" y2="1"><stop offset=.000 class=q1a /><stop offset=.252 class=q1c /><stop offset=.295 class=q1e /><stop offset=.306 class=q21 /><stop offset=.383 class=q31 /><stop offset=.416 class=q40 /><stop offset=.427 class=q49 /><stop offset=.460 class=q6a /><stop offset=.470 class=q76 /><stop offset=.481 class=q8c /><stop offset=.492 class=qad /><stop offset=.503 class=qc4 /><stop offset=.514 class=qee /><stop offset=.525 class=qe2 /><stop offset=.536 class=qbc /><stop offset=.558 class=q8d /><stop offset=.569 class=q79 /><stop offset=.580 class=q68 /><stop offset=.591 class=q5f /><stop offset=.624 class=q4e /><stop offset=.667 class=q3e /><stop offset=.711 class=q31 /><stop offset=.810 class=q22 /><stop offset=.897 class=q18 /><stop offset=.908 class=q18 /><stop offset=.919 class=q1d /><stop offset=.941 class=q1c /><stop offset=.952 class=q14 /><stop offset=.974 class=q11 /><stop offset=1.000 class=q10 /></linearGradient><linearGradient id="g34" x2="0" y2="1"><stop offset=.000 class=q1a /><stop offset=.252 class=q1c /><stop offset=.295 class=q1e /><stop offset=.306 class=q21 /><stop offset=.383 class=q31 /><stop offset=.416 class=q40 /><stop offset=.427 class=q49 /><stop offset=.460 class=q6a /><stop offset=.470 class=q76 /><stop offset=.481 class=q8c /><stop offset=.492 class=qad /><stop offset=.503 class=qc4 /><stop offset=.514 class=qee /><stop offset=.525 class=qe2 /><stop offset=.536 class=qbc /><stop offset=.558 class=q8d /><stop offset=.569 class=q79 /><stop offset=.580 class=q68 /><stop offset=.591 class=q5f /><stop offset=.624 class=q4e /><stop offset=.667 class=q3e /><stop offset=.711 class=q31 /><stop offset=.832 class=q1f /><stop offset=.864 class=q1c /><stop offset=.875 class=q1c /><stop offset=.886 class=q20 /><stop offset=.897 class=q21 /><stop offset=.908 class=q1f /><stop offset=.919 class=q17 /><stop offset=.930 class=q15 /><stop offset=1.000 class=qf /></linearGradient><linearGradient id="g35" x2="0" y2="1"><stop offset=.000 class=q1a /><stop offset=.252 class=q1c /><stop offset=.295 class=q1e /><stop offset=.306 class=q21 /><stop offset=.383 class=q31 /><stop offset=.416 class=q40 /><stop offset=.427 class=q49 /><stop offset=.460 class=q6a /><stop offset=.470 class=q76 /><stop offset=.481 class=q8c /><stop offset=.492 class=qad /><stop offset=.503 class=qc4 /><stop offset=.514 class=qee /><stop offset=.525 class=qe1 /><stop offset=.536 class=qbc /><stop offset=.558 class=q8d /><stop offset=.569 class=q79 /><stop offset=.580 class=q68 /><stop offset=.591 class=q5f /><stop offset=.613 class=q53 /><stop offset=.635 class=q4a /><stop offset=.711 class=q31 /><stop offset=.832 class=q20 /><stop offset=.842 class=q1f /><stop offset=.864 class=q25 /><stop offset=.875 class=q23 /><stop offset=.886 class=q1c /><stop offset=.908 class=q16 /><stop offset=1.000 class=qf /></linearGradient><linearGradient id="g36" x2="0" y2="1"><stop offset=.000 class=q1a /><stop offset=.252 class=q1c /><stop offset=.295 class=q1e /><stop offset=.306 class=q21 /><stop offset=.383 class=q31 /><stop offset=.416 class=q40 /><stop offset=.427 class=q49 /><stop offset=.460 class=q6a /><stop offset=.470 class=q76 /><stop offset=.481 class=q8c /><stop offset=.492 class=qad /><stop offset=.503 class=qc4 /><stop offset=.514 class=qee /><stop offset=.525 class=qe1 /><stop offset=.536 class=qbc /><stop offset=.558 class=q8d /><stop offset=.580 class=q68 /><stop offset=.591 class=q5f /><stop offset=.613 class=q53 /><stop offset=.635 class=q4a /><stop offset=.678 class=q3b /><stop offset=.711 class=q32 /><stop offset=.766 class=q29 /><stop offset=.810 class=q24 /><stop offset=.832 class=q28 /><stop offset=.842 class=q27 /><stop offset=.864 class=q1c /><stop offset=.897 class=q17 /><stop offset=1.000 class=qf /></linearGradient><linearGradient id="g37" x2="0" y2="1"><stop offset=.000 class=q1a /><stop offset=.252 class=q1c /><stop offset=.295 class=q1e /><stop offset=.306 class=q21 /><stop offset=.383 class=q31 /><stop offset=.416 class=q40 /><stop offset=.427 class=q49 /><stop offset=.460 class=q6a /><stop offset=.470 class=q76 /><stop offset=.481 class=q8c /><stop offset=.492 class=qad /><stop offset=.503 class=qc4 /><stop offset=.514 class=qee /><stop offset=.525 class=qe1 /><stop offset=.536 class=qbc /><stop offset=.547 class=qa6 /><stop offset=.558 class=q8d /><stop offset=.569 class=q7a /><stop offset=.580 class=q68 /><stop offset=.602 class=q59 /><stop offset=.624 class=q4f /><stop offset=.667 class=q3f /><stop offset=.711 class=q32 /><stop offset=.777 class=q29 /><stop offset=.788 class=q29 /><stop offset=.799 class=q2d /><stop offset=.810 class=q2c /><stop offset=.821 class=q28 /><stop offset=.832 class=q20 /><stop offset=.886 class=q18 /><stop offset=1.000 class=qf /></linearGradient><linearGradient id="g38" x2="0" y2="1"><stop offset=.000 class=q1a /><stop offset=.252 class=q1c /><stop offset=.295 class=q1e /><stop offset=.306 class=q21 /><stop offset=.383 class=q31 /><stop offset=.416 class=q40 /><stop offset=.427 class=q49 /><stop offset=.460 class=q6a /><stop offset=.470 class=q76 /><stop offset=.481 class=q8c /><stop offset=.492 class=qad /><stop offset=.503 class=qc4 /><stop offset=.514 class=qee /><stop offset=.525 class=qe1 /><stop offset=.536 class=qbc /><stop offset=.547 class=qa6 /><stop offset=.558 class=q8d /><stop offset=.569 class=q7a /><stop offset=.580 class=q69 /><stop offset=.591 class=q60 /><stop offset=.602 class=q5a /><stop offset=.624 class=q4f /><stop offset=.656 class=q43 /><stop offset=.711 class=q33 /><stop offset=.755 class=q2e /><stop offset=.766 class=q32 /><stop offset=.777 class=q31 /><stop offset=.788 class=q2e /><stop offset=.799 class=q26 /><stop offset=.821 class=q21 /><stop offset=.886 class=q18 /><stop offset=1.000 class=qf /></linearGradient><linearGradient id="g39" x2="0" y2="1"><stop offset=.000 class=q1a /><stop offset=.252 class=q1c /><stop offset=.295 class=q1e /><stop offset=.306 class=q21 /><stop offset=.383 class=q31 /><stop offset=.416 class=q40 /><stop offset=.427 class=q49 /><stop offset=.460 class=q6a /><stop offset=.470 class=q76 /><stop offset=.481 class=q8c /><stop offset=.492 class=qad /><stop offset=.503 class=qc4 /><stop offset=.514 class=qee /><stop offset=.525 class=qe1 /><stop offset=.536 class=qbc /><stop offset=.558 class=q8e /><stop offset=.569 class=q7a /><stop offset=.580 class=q69 /><stop offset=.591 class=q60 /><stop offset=.602 class=q5a /><stop offset=.624 class=q50 /><stop offset=.667 class=q40 /><stop offset=.711 class=q34 /><stop offset=.722 class=q33 /><stop offset=.733 class=q36 /><stop offset=.744 class=q36 /><stop offset=.755 class=q33 /><stop offset=.766 class=q2b /><stop offset=.821 class=q20 /><stop offset=.886 class=q18 /><stop offset=1.000 class=qf /></linearGradient><linearGradient id="g40" x2="0" y2="1"><stop offset=.000 class=q1a /><stop offset=.252 class=q1c /><stop offset=.295 class=q1e /><stop offset=.306 class=q21 /><stop offset=.383 class=q31 /><stop offset=.416 class=q40 /><stop offset=.427 class=q49 /><stop offset=.460 class=q6a /><stop offset=.470 class=q76 /><stop offset=.481 class=q8c /><stop offset=.492 class=qad /><stop offset=.503 class=qc4 /><stop offset=.514 class=qee /><stop offset=.525 class=qe1 /><stop offset=.536 class=qbc /><stop offset=.547 class=qa7 /><stop offset=.558 class=q8e /><stop offset=.569 class=q7b /><stop offset=.580 class=q6a /><stop offset=.591 class=q61 /><stop offset=.602 class=q5b /><stop offset=.624 class=q51 /><stop offset=.656 class=q45 /><stop offset=.689 class=q3c /><stop offset=.711 class=q3c /><stop offset=.722 class=q39 /><stop offset=.744 class=q2d /><stop offset=.821 class=q20 /><stop offset=.886 class=q18 /><stop offset=1.000 class=qf /></linearGradient><linearGradient id="g41" x2="0" y2="1"><stop offset=.000 class=q1a /><stop offset=.252 class=q1c /><stop offset=.295 class=q1e /><stop offset=.306 class=q21 /><stop offset=.383 class=q31 /><stop offset=.416 class=q40 /><stop offset=.427 class=q49 /><stop offset=.460 class=q6a /><stop offset=.470 class=q76 /><stop offset=.481 class=q8c /><stop offset=.492 class=qad /><stop offset=.503 class=qc5 /><stop offset=.514 class=qee /><stop offset=.525 class=qe1 /><stop offset=.536 class=qbd /><stop offset=.558 class=q8f /><stop offset=.569 class=q7c /><stop offset=.580 class=q6b /><stop offset=.602 class=q5d /><stop offset=.613 class=q57 /><stop offset=.646 class=q4b /><stop offset=.689 class=q43 /><stop offset=.711 class=q32 /><stop offset=.821 class=q20 /><stop offset=.886 class=q18 /><stop offset=1.000 class=qf /></linearGradient><linearGradient id="g42" x2="0" y2="1"><stop offset=.000 class=q1a /><stop offset=.252 class=q1c /><stop offset=.295 class=q1e /><stop offset=.306 class=q21 /><stop offset=.383 class=q31 /><stop offset=.416 class=q40 /><stop offset=.427 class=q49 /><stop offset=.460 class=q6a /><stop offset=.470 class=q76 /><stop offset=.481 class=q8c /><stop offset=.492 class=qad /><stop offset=.503 class=qc5 /><stop offset=.514 class=qef /><stop offset=.525 class=qe0 /><stop offset=.536 class=qbe /><stop offset=.547 class=qa9 /><stop offset=.558 class=q91 /><stop offset=.569 class=q7e /><stop offset=.580 class=q6d /><stop offset=.591 class=q65 /><stop offset=.602 class=q5f /><stop offset=.635 class=q53 /><stop offset=.646 class=q53 /><stop offset=.656 class=q4d /><stop offset=.678 class=q3c /><stop offset=.711 class=q31 /><stop offset=.821 class=q20 /><stop offset=.886 class=q18 /><stop offset=1.000 class=qf /></linearGradient><linearGradient id="g43" x2="0" y2="1"><stop offset=.000 class=q1a /><stop offset=.252 class=q1c /><stop offset=.295 class=q1e /><stop offset=.306 class=q21 /><stop offset=.383 class=q31 /><stop offset=.416 class=q40 /><stop offset=.427 class=q49 /><stop offset=.460 class=q6a /><stop offset=.470 class=q76 /><stop offset=.481 class=q8c /><stop offset=.492 class=qad /><stop offset=.503 class=qc5 /><stop offset=.514 class=qef /><stop offset=.525 class=qe0 /><stop offset=.536 class=qbf /><stop offset=.547 class=qab /><stop offset=.558 class=q94 /><stop offset=.569 class=q81 /><stop offset=.580 class=q71 /><stop offset=.591 class=q69 /><stop offset=.602 class=q64 /><stop offset=.613 class=q63 /><stop offset=.624 class=q5b /><stop offset=.635 class=q53 /><stop offset=.646 class=q48 /><stop offset=.656 class=q42 /><stop offset=.711 class=q31 /><stop offset=.821 class=q20 /><stop offset=.886 class=q18 /><stop offset=1.000 class=qf /></linearGradient><linearGradient id="g44" x2="0" y2="1"><stop offset=.000 class=q1a /><stop offset=.252 class=q1c /><stop offset=.295 class=q1e /><stop offset=.306 class=q21 /><stop offset=.383 class=q31 /><stop offset=.416 class=q40 /><stop offset=.438 class=q53 /><stop offset=.460 class=q6a /><stop offset=.470 class=q76 /><stop offset=.481 class=q8c /><stop offset=.492 class=qae /><stop offset=.503 class=qc5 /><stop offset=.514 class=qef /><stop offset=.525 class=qe0 /><stop offset=.536 class=qc1 /><stop offset=.547 class=qaf /><stop offset=.558 class=q98 /><stop offset=.569 class=q87 /><stop offset=.580 class=q79 /><stop offset=.602 class=q63 /><stop offset=.613 class=q56 /><stop offset=.635 class=q4a /><stop offset=.667 class=q3e /><stop offset=.711 class=q31 /><stop offset=.821 class=q20 /><stop offset=.886 class=q18 /><stop offset=1.000 class=qf /></linearGradient><linearGradient id="g45" x2="0" y2="1"><stop offset=.000 class=q1a /><stop offset=.252 class=q1c /><stop offset=.295 class=q1e /><stop offset=.306 class=q21 /><stop offset=.383 class=q31 /><stop offset=.416 class=q40 /><stop offset=.427 class=q48 /><stop offset=.460 class=q6a /><stop offset=.470 class=q75 /><stop offset=.481 class=q8b /><stop offset=.492 class=qad /><stop offset=.503 class=qc6 /><stop offset=.514 class=qed /><stop offset=.525 class=qde /><stop offset=.536 class=qc5 /><stop offset=.547 class=qb6 /><stop offset=.558 class=q9e /><stop offset=.569 class=q83 /><stop offset=.580 class=q6b /><stop offset=.591 class=q60 /><stop offset=.602 class=q59 /><stop offset=.624 class=q4e /><stop offset=.667 class=q3e /><stop offset=.711 class=q31 /><stop offset=.821 class=q20 /><stop offset=.919 class=q14 /><stop offset=1.000 class=qf /></linearGradient><linearGradient id="g46" x2="0" y2="1"><stop offset=.000 class=q1a /><stop offset=.252 class=q1c /><stop offset=.284 class=q1d /><stop offset=.306 class=q20 /><stop offset=.372 class=q2d /><stop offset=.416 class=q3f /><stop offset=.438 class=q52 /><stop offset=.460 class=q68 /><stop offset=.470 class=q73 /><stop offset=.481 class=q89 /><stop offset=.492 class=qaa /><stop offset=.503 class=qc1 /><stop offset=.514 class=qdb /><stop offset=.525 class=qd1 /><stop offset=.536 class=qc0 /><stop offset=.547 class=qa3 /><stop offset=.558 class=q8a /><stop offset=.569 class=q77 /><stop offset=.580 class=q66 /><stop offset=.591 class=q5d /><stop offset=.635 class=q49 /><stop offset=.678 class=q3a /><stop offset=.711 class=q31 /><stop offset=.799 class=q23 /><stop offset=.875 class=q19 /><stop offset=.919 class=q14 /><stop offset=1.000 class=qf /></linearGradient><linearGradient id="g47" x2="0" y2="1"><stop offset=.000 class=q1a /><stop offset=.252 class=q1c /><stop offset=.284 class=q1d /><stop offset=.306 class=q20 /><stop offset=.372 class=q2d /><stop offset=.416 class=q3f /><stop offset=.427 class=q47 /><stop offset=.460 class=q67 /><stop offset=.470 class=q72 /><stop offset=.481 class=q89 /><stop offset=.492 class=qb2 /><stop offset=.514 class=qd7 /><stop offset=.525 class=qd9 /><stop offset=.536 class=qb9 /><stop offset=.558 class=q8a /><stop offset=.580 class=q66 /><stop offset=.591 class=q5e /><stop offset=.613 class=q52 /><stop offset=.635 class=q49 /><stop offset=.678 class=q3a /><stop offset=.711 class=q31 /><stop offset=.799 class=q23 /><stop offset=.919 class=q14 /><stop offset=1.000 class=qf /></linearGradient><linearGradient id="g48" x2="0" y2="1"><stop offset=.000 class=q1a /><stop offset=.164 class=q1b /><stop offset=.252 class=q1c /><stop offset=.295 class=q1e /><stop offset=.328 class=q25 /><stop offset=.383 class=q31 /><stop offset=.416 class=q40 /><stop offset=.438 class=q53 /><stop offset=.449 class=q5f /><stop offset=.460 class=q6f /><stop offset=.481 class=qa2 /><stop offset=.492 class=qc1 /><stop offset=.503 class=qcc /><stop offset=.514 class=qe7 /><stop offset=.525 class=qe6 /><stop offset=.536 class=qbe /><stop offset=.558 class=q8d /><stop offset=.569 class=q79 /><stop offset=.580 class=q68 /><stop offset=.591 class=q5f /><stop offset=.624 class=q4e /><stop offset=.667 class=q3e /><stop offset=.711 class=q31 /><stop offset=.821 class=q20 /><stop offset=.919 class=q14 /><stop offset=1.000 class=qf /></linearGradient><linearGradient id="g49" x2="0" y2="1"><stop offset=.000 class=q1a /><stop offset=.252 class=q1c /><stop offset=.295 class=q1e /><stop offset=.306 class=q21 /><stop offset=.372 class=q2e /><stop offset=.383 class=q31 /><stop offset=.405 class=q3b /><stop offset=.416 class=q41 /><stop offset=.427 class=q4d /><stop offset=.438 class=q62 /><stop offset=.449 class=q7a /><stop offset=.460 class=q85 /><stop offset=.470 class=q8b /><stop offset=.481 class=q9c /><stop offset=.492 class=qb9 /><stop offset=.503 class=qc9 /><stop offset=.514 class=qe9 /><stop offset=.525 class=qe6 /><stop offset=.536 class=qbe /><stop offset=.558 class=q8d /><stop offset=.569 class=q79 /><stop offset=.580 class=q68 /><stop offset=.591 class=q5f /><stop offset=.624 class=q4e /><stop offset=.667 class=q3e /><stop offset=.711 class=q31 /><stop offset=.821 class=q20 /><stop offset=.886 class=q18 /><stop offset=1.000 class=qf /></linearGradient><linearGradient id="g50" x2="0" y2="1"><stop offset=.000 class=q1a /><stop offset=.252 class=q1c /><stop offset=.295 class=q1e /><stop offset=.306 class=q21 /><stop offset=.372 class=q2e /><stop offset=.383 class=q32 /><stop offset=.394 class=q3a /><stop offset=.416 class=q5e /><stop offset=.427 class=q67 /><stop offset=.438 class=q6b /><stop offset=.460 class=q79 /><stop offset=.470 class=q82 /><stop offset=.481 class=q95 /><stop offset=.492 class=qb4 /><stop offset=.503 class=qc6 /><stop offset=.514 class=qea /><stop offset=.525 class=qe5 /><stop offset=.536 class=qbe /><stop offset=.558 class=q8d /><stop offset=.569 class=q79 /><stop offset=.580 class=q68 /><stop offset=.591 class=q5f /><stop offset=.624 class=q4e /><stop offset=.667 class=q3e /><stop offset=.711 class=q31 /><stop offset=.821 class=q20 /><stop offset=.886 class=q18 /><stop offset=1.000 class=qf /></linearGradient><linearGradient id="g51" x2="0" y2="1"><stop offset=.000 class=q1a /><stop offset=.241 class=q1c /><stop offset=.295 class=q1e /><stop offset=.306 class=q21 /><stop offset=.350 class=q2a /><stop offset=.361 class=q2e /><stop offset=.372 class=q3e /><stop offset=.383 class=q49 /><stop offset=.394 class=q58 /><stop offset=.405 class=q54 /><stop offset=.416 class=q54 /><stop offset=.427 class=q59 /><stop offset=.438 class=q61 /><stop offset=.470 class=q7d /><stop offset=.481 class=q91 /><stop offset=.492 class=qb1 /><stop offset=.503 class=qc5 /><stop offset=.514 class=qeb /><stop offset=.525 class=qe5 /><stop offset=.536 class=qbd /><stop offset=.558 class=q8d /><stop offset=.569 class=q79 /><stop offset=.580 class=q68 /><stop offset=.591 class=q5f /><stop offset=.624 class=q4e /><stop offset=.667 class=q3e /><stop offset=.711 class=q31 /><stop offset=.821 class=q20 /><stop offset=.886 class=q18 /><stop offset=1.000 class=qf /></linearGradient><linearGradient id="g52" x2="0" y2="1"><stop offset=.000 class=q1a /><stop offset=.241 class=q1c /><stop offset=.274 class=q1d /><stop offset=.306 class=q21 /><stop offset=.328 class=q27 /><stop offset=.339 class=q38 /><stop offset=.361 class=q48 /><stop offset=.383 class=q47 /><stop offset=.416 class=q4c /><stop offset=.427 class=q53 /><stop offset=.449 class=q65 /><stop offset=.470 class=q7a /><stop offset=.481 class=q8f /><stop offset=.492 class=qaf /><stop offset=.503 class=qc4 /><stop offset=.514 class=qeb /><stop offset=.525 class=qe5 /><stop offset=.536 class=qbd /><stop offset=.558 class=q8d /><stop offset=.569 class=q79 /><stop offset=.580 class=q68 /><stop offset=.591 class=q5f /><stop offset=.624 class=q4e /><stop offset=.667 class=q3e /><stop offset=.711 class=q31 /><stop offset=.821 class=q20 /><stop offset=.886 class=q18 /><stop offset=1.000 class=qf /></linearGradient><linearGradient id="g53" x2="0" y2="1"><stop offset=.000 class=q1a /><stop offset=.241 class=q1c /><stop offset=.284 class=q1e /><stop offset=.295 class=q20 /><stop offset=.306 class=q28 /><stop offset=.317 class=q3c /><stop offset=.328 class=q43 /><stop offset=.339 class=q44 /><stop offset=.361 class=q3e /><stop offset=.383 class=q3e /><stop offset=.416 class=q47 /><stop offset=.438 class=q58 /><stop offset=.449 class=q63 /><stop offset=.470 class=q78 /><stop offset=.481 class=q8e /><stop offset=.492 class=qae /><stop offset=.503 class=qc3 /><stop offset=.514 class=qeb /><stop offset=.525 class=qe4 /><stop offset=.536 class=qbd /><stop offset=.558 class=q8d /><stop offset=.569 class=q79 /><stop offset=.580 class=q68 /><stop offset=.591 class=q5f /><stop offset=.624 class=q4e /><stop offset=.667 class=q3e /><stop offset=.711 class=q31 /><stop offset=.821 class=q20 /><stop offset=.886 class=q18 /><stop offset=1.000 class=qf /></linearGradient><linearGradient id="g54" x2="0" y2="1"><stop offset=.000 class=q1a /><stop offset=.164 class=q1b /><stop offset=.263 class=q1e /><stop offset=.274 class=q22 /><stop offset=.295 class=q3d /><stop offset=.306 class=q3f /><stop offset=.317 class=q3a /><stop offset=.350 class=q37 /><stop offset=.372 class=q37 /><stop offset=.383 class=q39 /><stop offset=.416 class=q44 /><stop offset=.427 class=q4c /><stop offset=.449 class=q61 /><stop offset=.470 class=q77 /><stop offset=.481 class=q8d /><stop offset=.492 class=qad /><stop offset=.503 class=qc3 /><stop offset=.514 class=qeb /><stop offset=.525 class=qe4 /><stop offset=.536 class=qbd /><stop offset=.558 class=q8d /><stop offset=.569 class=q79 /><stop offset=.580 class=q68 /><stop offset=.591 class=q5f /><stop offset=.624 class=q4e /><stop offset=.667 class=q3e /><stop offset=.711 class=q31 /><stop offset=.821 class=q20 /><stop offset=.886 class=q18 /><stop offset=1.000 class=qf /></linearGradient><linearGradient id="g55" x2="0" y2="1"><stop offset=.000 class=q1a /><stop offset=.219 class=q1c /><stop offset=.241 class=q20 /><stop offset=.252 class=q2d /><stop offset=.274 class=q3e /><stop offset=.284 class=q36 /><stop offset=.295 class=q32 /><stop offset=.339 class=q31 /><stop offset=.372 class=q33 /><stop offset=.394 class=q3a /><stop offset=.416 class=q43 /><stop offset=.427 class=q4b /><stop offset=.449 class=q60 /><stop offset=.470 class=q76 /><stop offset=.481 class=q8c /><stop offset=.492 class=qad /><stop offset=.503 class=qc3 /><stop offset=.514 class=qeb /><stop offset=.525 class=qe4 /><stop offset=.536 class=qbd /><stop offset=.558 class=q8d /><stop offset=.569 class=q79 /><stop offset=.580 class=q68 /><stop offset=.591 class=q5f /><stop offset=.624 class=q4e /><stop offset=.667 class=q3e /><stop offset=.711 class=q31 /><stop offset=.821 class=q20 /><stop offset=.886 class=q18 /><stop offset=1.000 class=qf /></linearGradient><linearGradient id="g56" x2="0" y2="1"><stop offset=.000 class=q1a /><stop offset=.153 class=q1b /><stop offset=.208 class=q1e /><stop offset=.219 class=q2c /><stop offset=.230 class=q34 /><stop offset=.241 class=q40 /><stop offset=.252 class=q36 /><stop offset=.274 class=q2e /><stop offset=.295 class=q2a /><stop offset=.372 class=q31 /><stop offset=.394 class=q38 /><stop offset=.416 class=q42 /><stop offset=.427 class=q4a /><stop offset=.460 class=q6a /><stop offset=.470 class=q76 /><stop offset=.481 class=q8c /><stop offset=.492 class=qad /><stop offset=.503 class=qc3 /><stop offset=.514 class=qec /><stop offset=.525 class=qe4 /><stop offset=.536 class=qbd /><stop offset=.558 class=q8d /><stop offset=.569 class=q79 /><stop offset=.580 class=q68 /><stop offset=.591 class=q5f /><stop offset=.624 class=q4e /><stop offset=.667 class=q3e /><stop offset=.711 class=q31 /><stop offset=.821 class=q20 /><stop offset=.886 class=q18 /><stop offset=1.000 class=qf /></linearGradient><linearGradient id="g57" x2="0" y2="1"><stop offset=.000 class=q1a /><stop offset=.142 class=q1b /><stop offset=.175 class=q1d /><stop offset=.186 class=q24 /><stop offset=.197 class=q34 /><stop offset=.208 class=q39 /><stop offset=.219 class=q37 /><stop offset=.252 class=q2b /><stop offset=.295 class=q25 /><stop offset=.361 class=q2e /><stop offset=.383 class=q33 /><stop offset=.416 class=q41 /><stop offset=.427 class=q49 /><stop offset=.460 class=q6a /><stop offset=.470 class=q76 /><stop offset=.481 class=q8c /><stop offset=.492 class=qad /><stop offset=.503 class=qc3 /><stop offset=.514 class=qec /><stop offset=.525 class=qe4 /><stop offset=.536 class=qbd /><stop offset=.558 class=q8d /><stop offset=.569 class=q79 /><stop offset=.580 class=q68 /><stop offset=.591 class=q5f /><stop offset=.624 class=q4e /><stop offset=.667 class=q3e /><stop offset=.711 class=q31 /><stop offset=.821 class=q20 /><stop offset=.886 class=q18 /><stop offset=1.000 class=qf /></linearGradient><linearGradient id="g58" x2="0" y2="1"><stop offset=.000 class=q1a /><stop offset=.077 class=q1a /><stop offset=.142 class=q1c /><stop offset=.153 class=q22 /><stop offset=.164 class=q35 /><stop offset=.175 class=q3a /><stop offset=.186 class=q38 /><stop offset=.208 class=q2f /><stop offset=.230 class=q29 /><stop offset=.274 class=q23 /><stop offset=.306 class=q24 /><stop offset=.350 class=q2b /><stop offset=.383 class=q32 /><stop offset=.416 class=q41 /><stop offset=.427 class=q49 /><stop offset=.460 class=q6a /><stop offset=.470 class=q76 /><stop offset=.481 class=q8c /><stop offset=.492 class=qad /><stop offset=.503 class=qc3 /><stop offset=.514 class=qec /><stop offset=.525 class=qe4 /><stop offset=.536 class=qbd /><stop offset=.558 class=q8d /><stop offset=.569 class=q79 /><stop offset=.580 class=q68 /><stop offset=.591 class=q5f /><stop offset=.624 class=q4e /><stop offset=.667 class=q3e /><stop offset=.711 class=q31 /><stop offset=.821 class=q20 /><stop offset=.886 class=q18 /><stop offset=1.000 class=qf /></linearGradient><linearGradient id="g59" x2="0" y2="1"><stop offset=.000 class=q1a /><stop offset=.098 class=q1b /><stop offset=.120 class=q1f /><stop offset=.142 class=q3a /><stop offset=.153 class=q3a /><stop offset=.164 class=q33 /><stop offset=.175 class=q2f /><stop offset=.197 class=q29 /><stop offset=.219 class=q25 /><stop offset=.263 class=q21 /><stop offset=.295 class=q21 /><stop offset=.372 class=q2f /><stop offset=.405 class=q3b /><stop offset=.416 class=q40 /><stop offset=.427 class=q49 /><stop offset=.460 class=q6a /><stop offset=.470 class=q76 /><stop offset=.481 class=q8c /><stop offset=.492 class=qad /><stop offset=.503 class=qc3 /><stop offset=.514 class=qec /><stop offset=.525 class=qe4 /><stop offset=.536 class=qbd /><stop offset=.558 class=q8d /><stop offset=.569 class=q79 /><stop offset=.580 class=q68 /><stop offset=.591 class=q5f /><stop offset=.624 class=q4e /><stop offset=.667 class=q3e /><stop offset=.711 class=q31 /><stop offset=.821 class=q20 /><stop offset=.886 class=q18 /><stop offset=1.000 class=qf /></linearGradient><linearGradient id="g60" x2="0" y2="1"><stop offset=.000 class=q1a /><stop offset=.055 class=q1a /><stop offset=.077 class=q1b /><stop offset=.088 class=q1d /><stop offset=.098 class=q2b /><stop offset=.120 class=q3d /><stop offset=.131 class=q34 /><stop offset=.142 class=q2f /><stop offset=.164 class=q29 /><stop offset=.186 class=q25 /><stop offset=.241 class=q20 /><stop offset=.295 class=q20 /><stop offset=.372 class=q2e /><stop offset=.394 class=q36 /><stop offset=.416 class=q40 /><stop offset=.427 class=q49 /><stop offset=.460 class=q6a /><stop offset=.470 class=q75 /><stop offset=.481 class=q8c /><stop offset=.492 class=qad /><stop offset=.503 class=qc3 /><stop offset=.514 class=qec /><stop offset=.525 class=qe4 /><stop offset=.536 class=qbd /><stop offset=.558 class=q8d /><stop offset=.569 class=q79 /><stop offset=.580 class=q68 /><stop offset=.591 class=q5f /><stop offset=.624 class=q4e /><stop offset=.667 class=q3e /><stop offset=.711 class=q31 /><stop offset=.821 class=q20 /><stop offset=.886 class=q18 /><stop offset=1.000 class=qf /></linearGradient><linearGradient id="g61" x2="0" y2="1"><stop offset=.000 class=q1a /><stop offset=.033 class=q1a /><stop offset=.055 class=q1c /><stop offset=.066 class=q2b /><stop offset=.077 class=q33 /><stop offset=.088 class=q3f /><stop offset=.098 class=q35 /><stop offset=.109 class=q30 /><stop offset=.120 class=q2c /><stop offset=.153 class=q25 /><stop offset=.208 class=q20 /><stop offset=.252 class=q1e /><stop offset=.306 class=q21 /><stop offset=.383 class=q31 /><stop offset=.416 class=q40 /><stop offset=.427 class=q49 /><stop offset=.460 class=q6a /><stop offset=.470 class=q75 /><stop offset=.481 class=q8c /><stop offset=.492 class=qad /><stop offset=.503 class=qc3 /><stop offset=.514 class=qec /><stop offset=.525 class=qe4 /><stop offset=.536 class=qbd /><stop offset=.558 class=q8d /><stop offset=.569 class=q79 /><stop offset=.580 class=q68 /><stop offset=.591 class=q5f /><stop offset=.624 class=q4e /><stop offset=.667 class=q3e /><stop offset=.711 class=q31 /><stop offset=.821 class=q20 /><stop offset=.886 class=q18 /><stop offset=1.000 class=qf /></linearGradient><linearGradient id="g62" x2="0" y2="1"><stop offset=.000 class=q1a /><stop offset=.044 class=q1c /><stop offset=.055 class=q21 /><stop offset=.066 class=q4b /><stop offset=.077 class=q39 /><stop offset=.088 class=q33 /><stop offset=.109 class=q2b /><stop offset=.153 class=q23 /><stop offset=.186 class=q20 /><stop offset=.230 class=q1e /><stop offset=.284 class=q1e /><stop offset=.306 class=q21 /><stop offset=.383 class=q31 /><stop offset=.416 class=q40 /><stop offset=.427 class=q49 /><stop offset=.460 class=q6a /><stop offset=.470 class=q75 /><stop offset=.481 class=q8c /><stop offset=.492 class=qad /><stop offset=.503 class=qc3 /><stop offset=.514 class=qec /><stop offset=.525 class=qe4 /><stop offset=.536 class=qbd /><stop offset=.558 class=q8d /><stop offset=.569 class=q79 /><stop offset=.580 class=q68 /><stop offset=.591 class=q5f /><stop offset=.624 class=q4e /><stop offset=.667 class=q3e /><stop offset=.711 class=q31 /><stop offset=.821 class=q20 /><stop offset=.886 class=q18 /><stop offset=1.000 class=qf /></linearGradient><clipPath id="ov_a2"><rect x="50.2" y="319.1" width="115.70" height="91.40"/></clipPath><clipPath id="clip2"><rect x="50.2" y="490.9" width="115.60" height="91.30"/></clipPath><filter id="cm2" x="46.2" y="489.9" width="123.60000000000001" height="93.30000000000007" filterUnits="userSpaceOnUse" color-interpolation-filters="sRGB"><feGaussianBlur stdDeviation="1.6 0"/><feComponentTransfer><feFuncR type="table" tableValues="0.5000 1.0000 1.0000 1.0000 0.5000 0.0000 0.0000 0.0000 0.0000"/><feFuncG type="table" tableValues="0.0000 0.0000 0.5000 1.0000 1.0000 1.0000 0.5000 0.0000 0.0000"/><feFuncB type="table" tableValues="0.0000 0.0000 0.0000 0.0000 0.5000 1.0000 1.0000 1.0000 0.5000"/></feComponentTransfer></filter><linearGradient id="g63" x2="0" y2="1"><stop offset=.000 class=q17 /><stop offset=.263 class=q17 /><stop offset=.329 class=q20 /><stop offset=.383 class=q32 /><stop offset=.416 class=q47 /><stop offset=.449 class=q64 /><stop offset=.460 class=q75 /><stop offset=.471 class=q8b /><stop offset=.482 class=qad /><stop offset=.493 class=qd8 /><stop offset=.504 class=qf2 /><stop offset=.515 class=qc9 /><stop offset=.526 class=qa5 /><stop offset=.548 class=q6d /><stop offset=.559 class=q61 /><stop offset=.570 class=q5a /><stop offset=.613 class=q42 /><stop offset=.635 class=q38 /><stop offset=.679 class=q29 /><stop offset=.745 class=q20 /><stop offset=.865 class=q17 /><stop offset=.953 class=q14 /><stop offset=.975 class=q15 /><stop offset=.986 class=q1c /><stop offset=.997 class=q1f /><stop offset=1.000 class=q19 /></linearGradient><linearGradient id="g64" x2="0" y2="1"><stop offset=.000 class=q17 /><stop offset=.263 class=q17 /><stop offset=.329 class=q20 /><stop offset=.383 class=q32 /><stop offset=.416 class=q47 /><stop offset=.449 class=q64 /><stop offset=.460 class=q75 /><stop offset=.471 class=q8b /><stop offset=.482 class=qad /><stop offset=.493 class=qd9 /><stop offset=.504 class=qf2 /><stop offset=.515 class=qc9 /><stop offset=.526 class=qa5 /><stop offset=.548 class=q6d /><stop offset=.559 class=q61 /><stop offset=.570 class=q5a /><stop offset=.613 class=q42 /><stop offset=.635 class=q38 /><stop offset=.679 class=q29 /><stop offset=.745 class=q20 /><stop offset=.865 class=q17 /><stop offset=.931 class=q15 /><stop offset=.953 class=q16 /><stop offset=.964 class=q1c /><stop offset=.975 class=q1c /><stop offset=.986 class=q1b /><stop offset=1.000 class=q13 /></linearGradient><linearGradient id="g65" x2="0" y2="1"><stop offset=.000 class=q17 /><stop offset=.263 class=q17 /><stop offset=.329 class=q20 /><stop offset=.383 class=q32 /><stop offset=.416 class=q47 /><stop offset=.449 class=q64 /><stop offset=.460 class=q75 /><stop offset=.471 class=q8c /><stop offset=.482 class=qae /><stop offset=.493 class=qd9 /><stop offset=.504 class=qf1 /><stop offset=.515 class=qc8 /><stop offset=.526 class=qa5 /><stop offset=.537 class=q87 /><stop offset=.548 class=q6d /><stop offset=.559 class=q61 /><stop offset=.570 class=q5a /><stop offset=.613 class=q42 /><stop offset=.646 class=q34 /><stop offset=.690 class=q27 /><stop offset=.745 class=q20 /><stop offset=.876 class=q17 /><stop offset=.920 class=q17 /><stop offset=.931 class=q1d /><stop offset=.942 class=q1d /><stop offset=.953 class=q1c /><stop offset=.964 class=q16 /><stop offset=1.000 class=q12 /></linearGradient><linearGradient id="g66" x2="0" y2="1"><stop offset=.000 class=q17 /><stop offset=.263 class=q17 /><stop offset=.329 class=q20 /><stop offset=.383 class=q32 /><stop offset=.416 class=q47 /><stop offset=.449 class=q64 /><stop offset=.460 class=q75 /><stop offset=.471 class=q8c /><stop offset=.482 class=qae /><stop offset=.493 class=qda /><stop offset=.504 class=qf0 /><stop offset=.515 class=qc7 /><stop offset=.526 class=qa4 /><stop offset=.537 class=q87 /><stop offset=.548 class=q6d /><stop offset=.559 class=q61 /><stop offset=.570 class=q5a /><stop offset=.613 class=q42 /><stop offset=.646 class=q34 /><stop offset=.690 class=q27 /><stop offset=.745 class=q20 /><stop offset=.865 class=q18 /><stop offset=.887 class=q19 /><stop offset=.898 class=q1f /><stop offset=.920 class=q1d /><stop offset=.931 class=q17 /><stop offset=.942 class=q15 /><stop offset=1.000 class=q12 /></linearGradient><linearGradient id="g67" x2="0" y2="1"><stop offset=.000 class=q17 /><stop offset=.263 class=q17 /><stop offset=.329 class=q20 /><stop offset=.383 class=q32 /><stop offset=.416 class=q47 /><stop offset=.449 class=q64 /><stop offset=.460 class=q76 /><stop offset=.471 class=q8c /><stop offset=.482 class=qaf /><stop offset=.493 class=qdb /><stop offset=.504 class=qf0 /><stop offset=.515 class=qc7 /><stop offset=.526 class=qa4 /><stop offset=.537 class=q87 /><stop offset=.548 class=q6d /><stop offset=.559 class=q61 /><stop offset=.570 class=q5a /><stop offset=.613 class=q42 /><stop offset=.635 class=q38 /><stop offset=.668 class=q2d /><stop offset=.701 class=q26 /><stop offset=.745 class=q21 /><stop offset=.843 class=q1a /><stop offset=.854 class=q1b /><stop offset=.865 class=q20 /><stop offset=.876 class=q20 /><stop offset=.887 class=q1f /><stop offset=.898 class=q18 /><stop offset=.909 class=q16 /><stop offset=1.000 class=q12 /></linearGradient><linearGradient id="g68" x2="0" y2="1"><stop offset=.000 class=q17 /><stop offset=.263 class=q17 /><stop offset=.329 class=q20 /><stop offset=.383 class=q32 /><stop offset=.416 class=q47 /><stop offset=.449 class=q64 /><stop offset=.460 class=q76 /><stop offset=.471 class=q8c /><stop offset=.482 class=qaf /><stop offset=.493 class=qdc /><stop offset=.504 class=qee /><stop offset=.515 class=qc6 /><stop offset=.526 class=qa4 /><stop offset=.548 class=q6c /><stop offset=.559 class=q61 /><stop offset=.570 class=q5a /><stop offset=.635 class=q38 /><stop offset=.668 class=q2d /><stop offset=.701 class=q26 /><stop offset=.745 class=q21 /><stop offset=.800 class=q1d /><stop offset=.811 class=q1d /><stop offset=.821 class=q1e /><stop offset=.832 class=q23 /><stop offset=.854 class=q20 /><stop offset=.865 class=q19 /><stop offset=.876 class=q17 /><stop offset=1.000 class=q12 /></linearGradient><linearGradient id="g69" x2="0" y2="1"><stop offset=.000 class=q17 /><stop offset=.263 class=q17 /><stop offset=.329 class=q20 /><stop offset=.383 class=q32 /><stop offset=.416 class=q47 /><stop offset=.449 class=q64 /><stop offset=.460 class=q76 /><stop offset=.471 class=q8c /><stop offset=.482 class=qb0 /><stop offset=.493 class=qde /><stop offset=.504 class=qed /><stop offset=.515 class=qc5 /><stop offset=.526 class=qa3 /><stop offset=.548 class=q6c /><stop offset=.559 class=q61 /><stop offset=.570 class=q5a /><stop offset=.624 class=q3d /><stop offset=.657 class=q31 /><stop offset=.679 class=q2a /><stop offset=.745 class=q21 /><stop offset=.789 class=q20 /><stop offset=.800 class=q25 /><stop offset=.821 class=q23 /><stop offset=.832 class=q1c /><stop offset=.854 class=q18 /><stop offset=1.000 class=q12 /></linearGradient><linearGradient id="g70" x2="0" y2="1"><stop offset=.000 class=q17 /><stop offset=.263 class=q17 /><stop offset=.329 class=q20 /><stop offset=.383 class=q32 /><stop offset=.416 class=q47 /><stop offset=.449 class=q64 /><stop offset=.460 class=q76 /><stop offset=.471 class=q8d /><stop offset=.482 class=qb1 /><stop offset=.493 class=qdf /><stop offset=.504 class=qeb /><stop offset=.515 class=qc3 /><stop offset=.526 class=qa3 /><stop offset=.548 class=q6c /><stop offset=.559 class=q61 /><stop offset=.570 class=q5a /><stop offset=.613 class=q43 /><stop offset=.635 class=q39 /><stop offset=.668 class=q2e /><stop offset=.701 class=q27 /><stop offset=.745 class=q23 /><stop offset=.756 class=q23 /><stop offset=.767 class=q28 /><stop offset=.789 class=q25 /><stop offset=.800 class=q1e /><stop offset=.811 class=q1c /><stop offset=.854 class=q18 /><stop offset=1.000 class=q12 /></linearGradient><linearGradient id="g71" x2="0" y2="1"><stop offset=.000 class=q17 /><stop offset=.274 class=q17 /><stop offset=.329 class=q20 /><stop offset=.383 class=q32 /><stop offset=.416 class=q47 /><stop offset=.449 class=q64 /><stop offset=.460 class=q76 /><stop offset=.471 class=q8d /><stop offset=.482 class=qb2 /><stop offset=.493 class=qe1 /><stop offset=.504 class=qe8 /><stop offset=.515 class=qc2 /><stop offset=.526 class=qa2 /><stop offset=.548 class=q6d /><stop offset=.559 class=q62 /><stop offset=.570 class=q5b /><stop offset=.624 class=q3e /><stop offset=.668 class=q2f /><stop offset=.690 class=q2a /><stop offset=.712 class=q28 /><stop offset=.723 class=q28 /><stop offset=.734 class=q2c /><stop offset=.756 class=q27 /><stop offset=.767 class=q20 /><stop offset=.811 class=q1b /><stop offset=.865 class=q17 /><stop offset=1.000 class=q12 /></linearGradient><linearGradient id="g72" x2="0" y2="1"><stop offset=.000 class=q17 /><stop offset=.274 class=q17 /><stop offset=.329 class=q20 /><stop offset=.383 class=q32 /><stop offset=.416 class=q47 /><stop offset=.449 class=q64 /><stop offset=.460 class=q76 /><stop offset=.471 class=q8e /><stop offset=.482 class=qb3 /><stop offset=.493 class=qe4 /><stop offset=.504 class=qe5 /><stop offset=.515 class=qc0 /><stop offset=.526 class=qa2 /><stop offset=.548 class=q6d /><stop offset=.559 class=q62 /><stop offset=.570 class=q5b /><stop offset=.624 class=q3f /><stop offset=.635 class=q3b /><stop offset=.679 class=q2e /><stop offset=.690 class=q2d /><stop offset=.701 class=q31 /><stop offset=.723 class=q2b /><stop offset=.734 class=q23 /><stop offset=.745 class=q21 /><stop offset=.865 class=q17 /><stop offset=1.000 class=q12 /></linearGradient><linearGradient id="g73" x2="0" y2="1"><stop offset=.000 class=q17 /><stop offset=.274 class=q17 /><stop offset=.329 class=q20 /><stop offset=.383 class=q32 /><stop offset=.416 class=q47 /><stop offset=.449 class=q65 /><stop offset=.460 class=q76 /><stop offset=.471 class=q8e /><stop offset=.482 class=qb5 /><stop offset=.493 class=qe6 /><stop offset=.504 class=qe0 /><stop offset=.515 class=qbe /><stop offset=.537 class=q87 /><stop offset=.548 class=q6e /><stop offset=.559 class=q63 /><stop offset=.570 class=q5d /><stop offset=.591 class=q51 /><stop offset=.635 class=q3d /><stop offset=.657 class=q38 /><stop offset=.668 class=q39 /><stop offset=.690 class=q2f /><stop offset=.701 class=q28 /><stop offset=.723 class=q23 /><stop offset=.745 class=q20 /><stop offset=.865 class=q17 /><stop offset=1.000 class=q12 /></linearGradient><linearGradient id="g74" x2="0" y2="1"><stop offset=.000 class=q17 /><stop offset=.274 class=q17 /><stop offset=.329 class=q20 /><stop offset=.361 class=q2a /><stop offset=.383 class=q32 /><stop offset=.394 class=q38 /><stop offset=.416 class=q47 /><stop offset=.449 class=q65 /><stop offset=.460 class=q77 /><stop offset=.471 class=q8f /><stop offset=.482 class=qb8 /><stop offset=.493 class=qe9 /><stop offset=.504 class=qd8 /><stop offset=.515 class=qbc /><stop offset=.548 class=q6f /><stop offset=.559 class=q65 /><stop offset=.570 class=q5f /><stop offset=.613 class=q4a /><stop offset=.624 class=q46 /><stop offset=.635 class=q45 /><stop offset=.657 class=q39 /><stop offset=.668 class=q2f /><stop offset=.679 class=q2a /><stop offset=.712 class=q24 /><stop offset=.767 class=q1e /><stop offset=.865 class=q17 /><stop offset=1.000 class=q12 /></linearGradient><linearGradient id="g75" x2="0" y2="1"><stop offset=.000 class=q17 /><stop offset=.274 class=q17 /><stop offset=.329 class=q20 /><stop offset=.361 class=q2a /><stop offset=.383 class=q32 /><stop offset=.394 class=q38 /><stop offset=.416 class=q47 /><stop offset=.449 class=q65 /><stop offset=.460 class=q77 /><stop offset=.471 class=q91 /><stop offset=.493 class=qe8 /><stop offset=.504 class=qce /><stop offset=.515 class=qbb /><stop offset=.548 class=q72 /><stop offset=.559 class=q68 /><stop offset=.581 class=q5e /><stop offset=.602 class=q52 /><stop offset=.613 class=q4e /><stop offset=.635 class=q3b /><stop offset=.646 class=q35 /><stop offset=.679 class=q29 /><stop offset=.690 class=q27 /><stop offset=.734 class=q21 /><stop offset=.865 class=q17 /><stop offset=1.000 class=q12 /></linearGradient><linearGradient id="g76" x2="0" y2="1"><stop offset=.000 class=q17 /><stop offset=.274 class=q17 /><stop offset=.329 class=q20 /><stop offset=.361 class=q2a /><stop offset=.383 class=q32 /><stop offset=.394 class=q38 /><stop offset=.416 class=q46 /><stop offset=.449 class=q64 /><stop offset=.460 class=q77 /><stop offset=.471 class=q93 /><stop offset=.482 class=qc5 /><stop offset=.493 class=qda /><stop offset=.504 class=qc1 /><stop offset=.515 class=qbb /><stop offset=.548 class=q77 /><stop offset=.559 class=q6f /><stop offset=.570 class=q63 /><stop offset=.581 class=q5f /><stop offset=.591 class=q57 /><stop offset=.613 class=q43 /><stop offset=.635 class=q38 /><stop offset=.679 class=q29 /><stop offset=.734 class=q21 /><stop offset=.821 class=q1a /><stop offset=.909 class=q15 /><stop offset=1.000 class=q12 /></linearGradient><linearGradient id="g77" x2="0" y2="1"><stop offset=.000 class=q17 /><stop offset=.274 class=q17 /><stop offset=.329 class=q20 /><stop offset=.383 class=q31 /><stop offset=.416 class=q46 /><stop offset=.449 class=q64 /><stop offset=.460 class=q78 /><stop offset=.471 class=q9a /><stop offset=.482 class=qc7 /><stop offset=.493 class=qbc /><stop offset=.504 class=qb6 /><stop offset=.515 class=qbf /><stop offset=.526 class=qad /><stop offset=.537 class=q8a /><stop offset=.548 class=q74 /><stop offset=.570 class=q64 /><stop offset=.581 class=q55 /><stop offset=.591 class=q4d /><stop offset=.635 class=q37 /><stop offset=.679 class=q29 /><stop offset=.701 class=q25 /><stop offset=.832 class=q19 /><stop offset=1.000 class=q12 /></linearGradient><linearGradient id="g78" x2="0" y2="1"><stop offset=.000 class=q17 /><stop offset=.274 class=q17 /><stop offset=.329 class=q20 /><stop offset=.340 class=q22 /><stop offset=.372 class=q2d /><stop offset=.394 class=q37 /><stop offset=.416 class=q45 /><stop offset=.427 class=q4e /><stop offset=.438 class=q58 /><stop offset=.449 class=q65 /><stop offset=.471 class=q9e /><stop offset=.493 class=qa9 /><stop offset=.504 class=qc0 /><stop offset=.515 class=qb2 /><stop offset=.526 class=q9d /><stop offset=.537 class=q99 /><stop offset=.559 class=q64 /><stop offset=.570 class=q5a /><stop offset=.581 class=q53 /><stop offset=.624 class=q3c /><stop offset=.635 class=q37 /><stop offset=.679 class=q29 /><stop offset=.734 class=q21 /><stop offset=.865 class=q17 /><stop offset=1.000 class=q12 /></linearGradient><linearGradient id="g79" x2="0" y2="1"><stop offset=.000 class=q17 /><stop offset=.274 class=q17 /><stop offset=.340 class=q22 /><stop offset=.383 class=q31 /><stop offset=.405 class=q3e /><stop offset=.427 class=q50 /><stop offset=.449 class=q6f /><stop offset=.460 class=q7a /><stop offset=.471 class=q91 /><stop offset=.482 class=qac /><stop offset=.493 class=qc1 /><stop offset=.504 class=qc8 /><stop offset=.515 class=qb9 /><stop offset=.526 class=qc3 /><stop offset=.537 class=q9d /><stop offset=.548 class=q73 /><stop offset=.559 class=q62 /><stop offset=.570 class=q5a /><stop offset=.624 class=q3c /><stop offset=.679 class=q29 /><stop offset=.701 class=q25 /><stop offset=.778 class=q1d /><stop offset=.865 class=q17 /><stop offset=1.000 class=q12 /></linearGradient><linearGradient id="g80" x2="0" y2="1"><stop offset=.000 class=q17 /><stop offset=.274 class=q17 /><stop offset=.329 class=q20 /><stop offset=.361 class=q2a /><stop offset=.383 class=q32 /><stop offset=.394 class=q38 /><stop offset=.405 class=q41 /><stop offset=.416 class=q4f /><stop offset=.427 class=q59 /><stop offset=.438 class=q6d /><stop offset=.449 class=q76 /><stop offset=.460 class=q88 /><stop offset=.471 class=q95 /><stop offset=.482 class=qaa /><stop offset=.504 class=qc9 /><stop offset=.515 class=qd6 /><stop offset=.526 class=qc7 /><stop offset=.537 class=q94 /><stop offset=.548 class=q71 /><stop offset=.559 class=q63 /><stop offset=.570 class=q5b /><stop offset=.613 class=q42 /><stop offset=.635 class=q38 /><stop offset=.679 class=q29 /><stop offset=.690 class=q27 /><stop offset=.734 class=q21 /><stop offset=.865 class=q17 /><stop offset=1.000 class=q12 /></linearGradient><linearGradient id="g81" x2="0" y2="1"><stop offset=.000 class=q17 /><stop offset=.274 class=q17 /><stop offset=.329 class=q20 /><stop offset=.372 class=q2f /><stop offset=.383 class=q39 /><stop offset=.394 class=q4a /><stop offset=.405 class=q57 /><stop offset=.416 class=q5d /><stop offset=.427 class=q68 /><stop offset=.449 class=q72 /><stop offset=.460 class=q7e /><stop offset=.471 class=q8e /><stop offset=.482 class=qa6 /><stop offset=.493 class=qb9 /><stop offset=.515 class=qe7 /><stop offset=.526 class=qbe /><stop offset=.537 class=q91 /><stop offset=.548 class=q71 /><stop offset=.559 class=q63 /><stop offset=.570 class=q5b /><stop offset=.613 class=q42 /><stop offset=.635 class=q38 /><stop offset=.679 class=q29 /><stop offset=.690 class=q27 /><stop offset=.734 class=q21 /><stop offset=.865 class=q17 /><stop offset=1.000 class=q12 /></linearGradient><linearGradient id="g82" x2="0" y2="1"><stop offset=.000 class=q17 /><stop offset=.274 class=q17 /><stop offset=.329 class=q21 /><stop offset=.340 class=q24 /><stop offset=.350 class=q2d /><stop offset=.361 class=q3c /><stop offset=.372 class=q46 /><stop offset=.383 class=q49 /><stop offset=.394 class=q52 /><stop offset=.416 class=q57 /><stop offset=.438 class=q64 /><stop offset=.449 class=q6b /><stop offset=.460 class=q79 /><stop offset=.471 class=q8a /><stop offset=.482 class=qa4 /><stop offset=.493 class=qba /><stop offset=.504 class=qd8 /><stop offset=.515 class=qea /><stop offset=.526 class=qb9 /><stop offset=.537 class=q90 /><stop offset=.548 class=q70 /><stop offset=.559 class=q63 /><stop offset=.581 class=q54 /><stop offset=.613 class=q42 /><stop offset=.635 class=q38 /><stop offset=.679 class=q29 /><stop offset=.712 class=q24 /><stop offset=.767 class=q1e /><stop offset=.865 class=q17 /><stop offset=1.000 class=q12 /></linearGradient><linearGradient id="g83" x2="0" y2="1"><stop offset=.000 class=q17 /><stop offset=.252 class=q17 /><stop offset=.285 class=q19 /><stop offset=.307 class=q1e /><stop offset=.318 class=q24 /><stop offset=.329 class=q32 /><stop offset=.340 class=q3b /><stop offset=.361 class=q44 /><stop offset=.383 class=q43 /><stop offset=.405 class=q4b /><stop offset=.416 class=q50 /><stop offset=.449 class=q67 /><stop offset=.460 class=q76 /><stop offset=.471 class=q88 /><stop offset=.493 class=qbc /><stop offset=.504 class=qde /><stop offset=.515 class=qe9 /><stop offset=.526 class=qb5 /><stop offset=.537 class=q8f /><stop offset=.548 class=q70 /><stop offset=.559 class=q63 /><stop offset=.570 class=q5b /><stop offset=.613 class=q42 /><stop offset=.635 class=q38 /><stop offset=.679 class=q29 /><stop offset=.690 class=q27 /><stop offset=.734 class=q21 /><stop offset=.865 class=q17 /><stop offset=1.000 class=q12 /></linearGradient><linearGradient id="g84" x2="0" y2="1"><stop offset=.000 class=q17 /><stop offset=.230 class=q17 /><stop offset=.274 class=q19 /><stop offset=.285 class=q1e /><stop offset=.296 class=q2d /><stop offset=.307 class=q35 /><stop offset=.329 class=q3a /><stop offset=.350 class=q38 /><stop offset=.383 class=q3c /><stop offset=.394 class=q40 /><stop offset=.416 class=q4c /><stop offset=.449 class=q65 /><stop offset=.460 class=q75 /><stop offset=.471 class=q87 /><stop offset=.493 class=qbd /><stop offset=.504 class=qe3 /><stop offset=.515 class=qe6 /><stop offset=.526 class=qb3 /><stop offset=.537 class=q8e /><stop offset=.548 class=q70 /><stop offset=.559 class=q63 /><stop offset=.570 class=q5b /><stop offset=.602 class=q48 /><stop offset=.635 class=q38 /><stop offset=.679 class=q29 /><stop offset=.690 class=q27 /><stop offset=.734 class=q21 /><stop offset=.865 class=q17 /><stop offset=1.000 class=q12 /></linearGradient><linearGradient id="g85" x2="0" y2="1"><stop offset=.000 class=q17 /><stop offset=.208 class=q17 /><stop offset=.241 class=q18 /><stop offset=.252 class=q1c /><stop offset=.263 class=q29 /><stop offset=.274 class=q30 /><stop offset=.296 class=q35 /><stop offset=.318 class=q30 /><stop offset=.340 class=q2f /><stop offset=.383 class=q37 /><stop offset=.416 class=q49 /><stop offset=.449 class=q64 /><stop offset=.460 class=q74 /><stop offset=.471 class=q87 /><stop offset=.482 class=qa3 /><stop offset=.493 class=qbf /><stop offset=.504 class=qe7 /><stop offset=.515 class=qe4 /><stop offset=.526 class=qb2 /><stop offset=.537 class=q8d /><stop offset=.548 class=q70 /><stop offset=.559 class=q63 /><stop offset=.570 class=q5b /><stop offset=.602 class=q48 /><stop offset=.635 class=q38 /><stop offset=.679 class=q29 /><stop offset=.690 class=q27 /><stop offset=.734 class=q21 /><stop offset=.865 class=q17 /><stop offset=1.000 class=q12 /></linearGradient><linearGradient id="g86" x2="0" y2="1"><stop offset=.000 class=q17 /><stop offset=.186 class=q17 /><stop offset=.208 class=q18 /><stop offset=.219 class=q1c /><stop offset=.230 class=q29 /><stop offset=.241 class=q30 /><stop offset=.252 class=q31 /><stop offset=.263 class=q31 /><stop offset=.274 class=q2c /><stop offset=.285 class=q2a /><stop offset=.329 class=q28 /><stop offset=.350 class=q2c /><stop offset=.383 class=q35 /><stop offset=.416 class=q48 /><stop offset=.449 class=q63 /><stop offset=.460 class=q73 /><stop offset=.471 class=q87 /><stop offset=.482 class=qa4 /><stop offset=.493 class=qc1 /><stop offset=.504 class=qea /><stop offset=.515 class=qe2 /><stop offset=.526 class=qb1 /><stop offset=.537 class=q8d /><stop offset=.548 class=q70 /><stop offset=.559 class=q63 /><stop offset=.570 class=q5b /><stop offset=.602 class=q48 /><stop offset=.635 class=q38 /><stop offset=.679 class=q29 /><stop offset=.690 class=q27 /><stop offset=.734 class=q21 /><stop offset=.865 class=q17 /><stop offset=1.000 class=q12 /></linearGradient><linearGradient id="g87" x2="0" y2="1"><stop offset=.000 class=q17 /><stop offset=.153 class=q17 /><stop offset=.175 class=q18 /><stop offset=.186 class=q1c /><stop offset=.197 class=q29 /><stop offset=.208 class=q30 /><stop offset=.219 class=q31 /><stop offset=.230 class=q31 /><stop offset=.241 class=q2c /><stop offset=.274 class=q23 /><stop offset=.307 class=q23 /><stop offset=.329 class=q25 /><stop offset=.350 class=q2a /><stop offset=.383 class=q34 /><stop offset=.416 class=q47 /><stop offset=.449 class=q63 /><stop offset=.460 class=q73 /><stop offset=.471 class=q87 /><stop offset=.482 class=qa4 /><stop offset=.493 class=qc2 /><stop offset=.504 class=qec /><stop offset=.515 class=qe0 /><stop offset=.526 class=qb0 /><stop offset=.537 class=q8c /><stop offset=.548 class=q6f /><stop offset=.559 class=q63 /><stop offset=.570 class=q5b /><stop offset=.602 class=q48 /><stop offset=.635 class=q38 /><stop offset=.679 class=q29 /><stop offset=.690 class=q27 /><stop offset=.734 class=q21 /><stop offset=.865 class=q17 /><stop offset=1.000 class=q12 /></linearGradient><linearGradient id="g88" x2="0" y2="1"><stop offset=.000 class=q17 /><stop offset=.120 class=q17 /><stop offset=.142 class=q18 /><stop offset=.153 class=q1c /><stop offset=.164 class=q28 /><stop offset=.175 class=q2f /><stop offset=.186 class=q39 /><stop offset=.197 class=q31 /><stop offset=.219 class=q28 /><stop offset=.252 class=q21 /><stop offset=.274 class=q1e /><stop offset=.307 class=q20 /><stop offset=.329 class=q23 /><stop offset=.350 class=q28 /><stop offset=.383 class=q33 /><stop offset=.416 class=q47 /><stop offset=.449 class=q63 /><stop offset=.460 class=q73 /><stop offset=.471 class=q87 /><stop offset=.482 class=qa4 /><stop offset=.493 class=qc3 /><stop offset=.504 class=qed /><stop offset=.515 class=qdf /><stop offset=.526 class=qaf /><stop offset=.537 class=q8c /><stop offset=.548 class=q6f /><stop offset=.559 class=q63 /><stop offset=.570 class=q5b /><stop offset=.602 class=q48 /><stop offset=.635 class=q38 /><stop offset=.679 class=q29 /><stop offset=.690 class=q27 /><stop offset=.734 class=q21 /><stop offset=.865 class=q17 /><stop offset=1.000 class=q12 /></linearGradient><linearGradient id="g89" x2="0" y2="1"><stop offset=.000 class=q17 /><stop offset=.088 class=q17 /><stop offset=.110 class=q18 /><stop offset=.120 class=q1c /><stop offset=.131 class=q28 /><stop offset=.153 class=q38 /><stop offset=.164 class=q30 /><stop offset=.186 class=q28 /><stop offset=.219 class=q21 /><stop offset=.274 class=q1b /><stop offset=.318 class=q20 /><stop offset=.340 class=q24 /><stop offset=.383 class=q32 /><stop offset=.427 class=q4f /><stop offset=.449 class=q63 /><stop offset=.460 class=q73 /><stop offset=.471 class=q87 /><stop offset=.482 class=qa5 /><stop offset=.493 class=qc4 /><stop offset=.504 class=qee /><stop offset=.515 class=qde /><stop offset=.526 class=qae /><stop offset=.537 class=q8c /><stop offset=.548 class=q6f /><stop offset=.559 class=q63 /><stop offset=.581 class=q54 /><stop offset=.635 class=q38 /><stop offset=.679 class=q29 /><stop offset=.712 class=q24 /><stop offset=.767 class=q1e /><stop offset=.865 class=q17 /><stop offset=1.000 class=q12 /></linearGradient><linearGradient id="g90" x2="0" y2="1"><stop offset=.000 class=q17 /><stop offset=.077 class=q18 /><stop offset=.088 class=q1c /><stop offset=.099 class=q28 /><stop offset=.120 class=q38 /><stop offset=.131 class=q30 /><stop offset=.153 class=q28 /><stop offset=.186 class=q21 /><stop offset=.241 class=q1b /><stop offset=.263 class=q1a /><stop offset=.296 class=q1c /><stop offset=.329 class=q21 /><stop offset=.383 class=q32 /><stop offset=.405 class=q3f /><stop offset=.427 class=q4f /><stop offset=.449 class=q63 /><stop offset=.460 class=q73 /><stop offset=.471 class=q87 /><stop offset=.482 class=qa5 /><stop offset=.493 class=qc5 /><stop offset=.504 class=qef /><stop offset=.515 class=qdd /><stop offset=.526 class=qae /><stop offset=.537 class=q8c /><stop offset=.548 class=q6f /><stop offset=.559 class=q63 /><stop offset=.581 class=q54 /><stop offset=.635 class=q38 /><stop offset=.679 class=q29 /><stop offset=.712 class=q24 /><stop offset=.767 class=q1e /><stop offset=.865 class=q17 /><stop offset=1.000 class=q12 /></linearGradient><linearGradient id="g91" x2="0" y2="1"><stop offset=.000 class=q17 /><stop offset=.044 class=q18 /><stop offset=.055 class=q1c /><stop offset=.066 class=q28 /><stop offset=.088 class=q38 /><stop offset=.099 class=q30 /><stop offset=.110 class=q2b /><stop offset=.131 class=q25 /><stop offset=.164 class=q1f /><stop offset=.208 class=q1b /><stop offset=.252 class=q19 /><stop offset=.285 class=q1a /><stop offset=.329 class=q21 /><stop offset=.340 class=q23 /><stop offset=.383 class=q32 /><stop offset=.416 class=q46 /><stop offset=.449 class=q63 /><stop offset=.460 class=q73 /><stop offset=.471 class=q88 /><stop offset=.482 class=qa5 /><stop offset=.493 class=qc5 /><stop offset=.504 class=qf0 /><stop offset=.515 class=qdc /><stop offset=.526 class=qae /><stop offset=.537 class=q8c /><stop offset=.548 class=q6f /><stop offset=.559 class=q62 /><stop offset=.581 class=q54 /><stop offset=.635 class=q38 /><stop offset=.679 class=q29 /><stop offset=.712 class=q24 /><stop offset=.767 class=q1e /><stop offset=.865 class=q17 /><stop offset=1.000 class=q12 /></linearGradient><linearGradient id="g92" x2="0" y2="1"><stop offset=.000 class=q18 /><stop offset=.011 class=q18 /><stop offset=.022 class=q1d /><stop offset=.033 class=q28 /><stop offset=.044 class=q2e /><stop offset=.055 class=q37 /><stop offset=.077 class=q2b /><stop offset=.099 class=q25 /><stop offset=.131 class=q1f /><stop offset=.186 class=q1a /><stop offset=.274 class=q18 /><stop offset=.329 class=q20 /><stop offset=.361 class=q2a /><stop offset=.383 class=q32 /><stop offset=.394 class=q38 /><stop offset=.416 class=q46 /><stop offset=.449 class=q63 /><stop offset=.460 class=q73 /><stop offset=.471 class=q88 /><stop offset=.482 class=qa6 /><stop offset=.493 class=qc6 /><stop offset=.504 class=qf1 /><stop offset=.515 class=qdb /><stop offset=.526 class=qad /><stop offset=.537 class=q8b /><stop offset=.548 class=q6f /><stop offset=.559 class=q62 /><stop offset=.581 class=q54 /><stop offset=.635 class=q38 /><stop offset=.679 class=q29 /><stop offset=.701 class=q26 /><stop offset=.734 class=q21 /><stop offset=.865 class=q17 /><stop offset=1.000 class=q12 /></linearGradient><linearGradient id="g93" x2="0" y2="1"><stop offset=.000 class=q18 /><stop offset=.011 class=q1a /><stop offset=.022 class=q2a /><stop offset=.033 class=q3d /><stop offset=.044 class=q33 /><stop offset=.055 class=q2e /><stop offset=.088 class=q24 /><stop offset=.110 class=q20 /><stop offset=.175 class=q1a /><stop offset=.241 class=q18 /><stop offset=.274 class=q18 /><stop offset=.329 class=q20 /><stop offset=.361 class=q2a /><stop offset=.383 class=q32 /><stop offset=.394 class=q38 /><stop offset=.416 class=q46 /><stop offset=.449 class=q63 /><stop offset=.460 class=q73 /><stop offset=.471 class=q88 /><stop offset=.482 class=qa6 /><stop offset=.493 class=qc6 /><stop offset=.504 class=qf1 /><stop offset=.515 class=qdb /><stop offset=.526 class=qad /><stop offset=.537 class=q8b /><stop offset=.548 class=q6f /><stop offset=.559 class=q62 /><stop offset=.581 class=q54 /><stop offset=.635 class=q38 /><stop offset=.679 class=q29 /><stop offset=.701 class=q26 /><stop offset=.734 class=q21 /><stop offset=.865 class=q17 /><stop offset=1.000 class=q12 /></linearGradient><clipPath id="ov_a3"><rect x="50.2" y="490.9" width="115.60" height="91.30"/></clipPath><clipPath id="clip3"><rect x="241.2" y="26.3" width="116.10" height="92.10"/></clipPath><filter id="cm3" x="237.2" y="25.3" width="124.10000000000002" height="94.10000000000001" filterUnits="userSpaceOnUse" color-interpolation-filters="sRGB"><feGaussianBlur stdDeviation="1.6 0"/><feComponentTransfer><feFuncR type="table" tableValues="0.5000 1.0000 1.0000 1.0000 0.5000 0.0000 0.0000 0.0000 0.0000"/><feFuncG type="table" tableValues="0.0000 0.0000 0.5000 1.0000 1.0000 1.0000 0.5000 0.0000 0.0000"/><feFuncB type="table" tableValues="0.0000 0.0000 0.0000 0.0000 0.5000 1.0000 1.0000 1.0000 0.5000"/></feComponentTransfer></filter><linearGradient id="g94" x2="0" y2="1"><stop offset=.000 class=q28 /><stop offset=.206 class=q29 /><stop offset=.239 class=q2d /><stop offset=.358 class=q32 /><stop offset=.391 class=q33 /><stop offset=.402 class=q49 /><stop offset=.413 class=q6e /><stop offset=.423 class=q8a /><stop offset=.467 class=q96 /><stop offset=.499 class=q9a /><stop offset=.510 class=qa1 /><stop offset=.521 class=qac /><stop offset=.532 class=qbe /><stop offset=.543 class=qd3 /><stop offset=.554 class=qe1 /><stop offset=.565 class=qe2 /><stop offset=.575 class=qd4 /><stop offset=.586 class=qb7 /><stop offset=.597 class=q9b /><stop offset=.608 class=q8b /><stop offset=.619 class=q80 /><stop offset=.641 class=q74 /><stop offset=.651 class=q6e /><stop offset=.684 class=q65 /><stop offset=.717 class=q61 /><stop offset=.771 class=q53 /><stop offset=.858 class=q46 /><stop offset=.890 class=q3f /><stop offset=.977 class=q3b /><stop offset=.988 class=q39 /><stop offset=.999 class=q2e /><stop offset=1.000 class=q2e /></linearGradient><linearGradient id="g95" x2="0" y2="1"><stop offset=.000 class=q28 /><stop offset=.206 class=q29 /><stop offset=.239 class=q2d /><stop offset=.358 class=q32 /><stop offset=.391 class=q33 /><stop offset=.402 class=q49 /><stop offset=.413 class=q6e /><stop offset=.423 class=q8a /><stop offset=.467 class=q96 /><stop offset=.499 class=q9a /><stop offset=.510 class=qa1 /><stop offset=.521 class=qab /><stop offset=.532 class=qbd /><stop offset=.543 class=qd3 /><stop offset=.554 class=qe3 /><stop offset=.565 class=qe4 /><stop offset=.575 class=qd8 /><stop offset=.597 class=q9d /><stop offset=.608 class=q8b /><stop offset=.619 class=q81 /><stop offset=.641 class=q74 /><stop offset=.651 class=q6e /><stop offset=.684 class=q65 /><stop offset=.717 class=q61 /><stop offset=.771 class=q53 /><stop offset=.858 class=q46 /><stop offset=.890 class=q3f /><stop offset=.977 class=q3b /><stop offset=.988 class=q39 /><stop offset=.999 class=q2e /><stop offset=1.000 class=q2e /></linearGradient><linearGradient id="g96" x2="0" y2="1"><stop offset=.000 class=q28 /><stop offset=.206 class=q29 /><stop offset=.239 class=q2d /><stop offset=.358 class=q32 /><stop offset=.391 class=q33 /><stop offset=.402 class=q49 /><stop offset=.413 class=q6e /><stop offset=.423 class=q8a /><stop offset=.467 class=q96 /><stop offset=.499 class=q99 /><stop offset=.510 class=qa1 /><stop offset=.521 class=qaa /><stop offset=.532 class=qba /><stop offset=.543 class=qd0 /><stop offset=.554 class=qe2 /><stop offset=.565 class=qe6 /><stop offset=.575 class=qdc /><stop offset=.586 class=qc0 /><stop offset=.597 class=qa0 /><stop offset=.608 class=q8c /><stop offset=.619 class=q81 /><stop offset=.641 class=q74 /><stop offset=.651 class=q6e /><stop offset=.662 class=q6b /><stop offset=.695 class=q63 /><stop offset=.717 class=q61 /><stop offset=.727 class=q60 /><stop offset=.771 class=q54 /><stop offset=.858 class=q47 /><stop offset=.890 class=q40 /><stop offset=.912 class=q3e /><stop offset=.945 class=q3e /><stop offset=.988 class=q2f /><stop offset=1.000 class=q2e /></linearGradient><linearGradient id="g97" x2="0" y2="1"><stop offset=.000 class=q28 /><stop offset=.206 class=q29 /><stop offset=.239 class=q2d /><stop offset=.337 class=q32 /><stop offset=.369 class=q32 /><stop offset=.391 class=q33 /><stop offset=.402 class=q49 /><stop offset=.413 class=q6e /><stop offset=.423 class=q8a /><stop offset=.467 class=q96 /><stop offset=.499 class=q99 /><stop offset=.510 class=qa0 /><stop offset=.521 class=qa9 /><stop offset=.532 class=qb6 /><stop offset=.554 class=qdc /><stop offset=.565 class=qe2 /><stop offset=.575 class=qdb /><stop offset=.586 class=qc3 /><stop offset=.597 class=qa3 /><stop offset=.608 class=q8d /><stop offset=.619 class=q81 /><stop offset=.651 class=q6f /><stop offset=.695 class=q64 /><stop offset=.727 class=q61 /><stop offset=.771 class=q55 /><stop offset=.858 class=q49 /><stop offset=.901 class=q41 /><stop offset=.945 class=q32 /><stop offset=1.000 class=q2e /></linearGradient><linearGradient id="g98" x2="0" y2="1"><stop offset=.000 class=q28 /><stop offset=.206 class=q29 /><stop offset=.239 class=q2d /><stop offset=.337 class=q32 /><stop offset=.369 class=q32 /><stop offset=.391 class=q33 /><stop offset=.402 class=q49 /><stop offset=.413 class=q6e /><stop offset=.423 class=q8a /><stop offset=.467 class=q96 /><stop offset=.499 class=q99 /><stop offset=.510 class=qa0 /><stop offset=.521 class=qa7 /><stop offset=.532 class=qb2 /><stop offset=.554 class=qd2 /><stop offset=.565 class=qd9 /><stop offset=.575 class=qd4 /><stop offset=.586 class=qc1 /><stop offset=.597 class=qa3 /><stop offset=.608 class=q8e /><stop offset=.619 class=q82 /><stop offset=.641 class=q75 /><stop offset=.651 class=q6f /><stop offset=.695 class=q65 /><stop offset=.706 class=q64 /><stop offset=.727 class=q62 /><stop offset=.782 class=q55 /><stop offset=.847 class=q4c /><stop offset=.879 class=q3d /><stop offset=.890 class=q3b /><stop offset=.901 class=q35 /><stop offset=1.000 class=q2e /></linearGradient><linearGradient id="g99" x2="0" y2="1"><stop offset=.000 class=q28 /><stop offset=.206 class=q29 /><stop offset=.239 class=q2d /><stop offset=.337 class=q32 /><stop offset=.369 class=q32 /><stop offset=.391 class=q33 /><stop offset=.402 class=q49 /><stop offset=.413 class=q6e /><stop offset=.423 class=q8a /><stop offset=.467 class=q96 /><stop offset=.499 class=q99 /><stop offset=.510 class=qa0 /><stop offset=.521 class=qa6 /><stop offset=.532 class=qaf /><stop offset=.543 class=qb9 /><stop offset=.554 class=qc6 /><stop offset=.565 class=qcd /><stop offset=.575 class=qca /><stop offset=.586 class=qbc /><stop offset=.597 class=qa2 /><stop offset=.608 class=q8e /><stop offset=.619 class=q82 /><stop offset=.630 class=q7c /><stop offset=.651 class=q70 /><stop offset=.695 class=q66 /><stop offset=.727 class=q64 /><stop offset=.760 class=q5b /><stop offset=.803 class=q54 /><stop offset=.847 class=q41 /><stop offset=.901 class=q35 /><stop offset=1.000 class=q2e /></linearGradient><linearGradient id="g100" x2="0" y2="1"><stop offset=.000 class=q28 /><stop offset=.206 class=q29 /><stop offset=.239 class=q2d /><stop offset=.337 class=q32 /><stop offset=.369 class=q32 /><stop offset=.391 class=q33 /><stop offset=.402 class=q49 /><stop offset=.413 class=q6e /><stop offset=.423 class=q8a /><stop offset=.467 class=q96 /><stop offset=.499 class=q99 /><stop offset=.510 class=qa0 /><stop offset=.543 class=qb2 /><stop offset=.554 class=qbb /><stop offset=.565 class=qc0 /><stop offset=.575 class=qbe /><stop offset=.586 class=qb4 /><stop offset=.597 class=q9f /><stop offset=.608 class=q8d /><stop offset=.619 class=q82 /><stop offset=.651 class=q72 /><stop offset=.662 class=q6f /><stop offset=.695 class=q68 /><stop offset=.727 class=q66 /><stop offset=.760 class=q5d /><stop offset=.803 class=q49 /><stop offset=.858 class=q3f /><stop offset=.890 class=q37 /><stop offset=.912 class=q34 /><stop offset=1.000 class=q2e /></linearGradient><linearGradient id="g101" x2="0" y2="1"><stop offset=.000 class=q28 /><stop offset=.206 class=q29 /><stop offset=.239 class=q2d /><stop offset=.358 class=q32 /><stop offset=.391 class=q33 /><stop offset=.402 class=q49 /><stop offset=.413 class=q6e /><stop offset=.423 class=q89 /><stop offset=.467 class=q95 /><stop offset=.499 class=q98 /><stop offset=.521 class=qa4 /><stop offset=.565 class=qb5 /><stop offset=.575 class=qb4 /><stop offset=.586 class=qac /><stop offset=.608 class=q8c /><stop offset=.619 class=q82 /><stop offset=.651 class=q73 /><stop offset=.695 class=q6a /><stop offset=.717 class=q68 /><stop offset=.727 class=q65 /><stop offset=.760 class=q52 /><stop offset=.771 class=q4f /><stop offset=.858 class=q3f /><stop offset=.890 class=q37 /><stop offset=.912 class=q34 /><stop offset=1.000 class=q2e /></linearGradient><linearGradient id="g102" x2="0" y2="1"><stop offset=.000 class=q28 /><stop offset=.206 class=q29 /><stop offset=.239 class=q2d /><stop offset=.369 class=q33 /><stop offset=.391 class=q34 /><stop offset=.402 class=q4b /><stop offset=.413 class=q6f /><stop offset=.423 class=q88 /><stop offset=.434 class=q89 /><stop offset=.467 class=q91 /><stop offset=.499 class=q94 /><stop offset=.532 class=qa2 /><stop offset=.565 class=qab /><stop offset=.575 class=qaa /><stop offset=.586 class=qa5 /><stop offset=.608 class=q8b /><stop offset=.619 class=q82 /><stop offset=.651 class=q75 /><stop offset=.684 class=q6e /><stop offset=.706 class=q64 /><stop offset=.749 class=q55 /><stop offset=.771 class=q4f /><stop offset=.803 class=q49 /><stop offset=.858 class=q3f /><stop offset=.901 class=q35 /><stop offset=1.000 class=q2e /></linearGradient><linearGradient id="g103" x2="0" y2="1"><stop offset=.000 class=q28 /><stop offset=.206 class=q29 /><stop offset=.261 class=q2e /><stop offset=.358 class=q32 /><stop offset=.380 class=q34 /><stop offset=.391 class=q37 /><stop offset=.402 class=q51 /><stop offset=.413 class=q72 /><stop offset=.423 class=q83 /><stop offset=.456 class=q86 /><stop offset=.499 class=q8a /><stop offset=.543 class=q97 /><stop offset=.565 class=qa1 /><stop offset=.575 class=qa2 /><stop offset=.586 class=q9e /><stop offset=.608 class=q89 /><stop offset=.619 class=q82 /><stop offset=.641 class=q7b /><stop offset=.651 class=q73 /><stop offset=.684 class=q62 /><stop offset=.727 class=q5c /><stop offset=.771 class=q4f /><stop offset=.858 class=q3f /><stop offset=.901 class=q35 /><stop offset=1.000 class=q2e /></linearGradient><linearGradient id="g104" x2="0" y2="1"><stop offset=.000 class=q28 /><stop offset=.206 class=q29 /><stop offset=.250 class=q2e /><stop offset=.282 class=q2f /><stop offset=.358 class=q32 /><stop offset=.380 class=q35 /><stop offset=.391 class=q3b /><stop offset=.402 class=q5c /><stop offset=.413 class=q74 /><stop offset=.423 class=q7f /><stop offset=.456 class=q80 /><stop offset=.499 class=q81 /><stop offset=.521 class=q85 /><stop offset=.543 class=q8c /><stop offset=.565 class=q98 /><stop offset=.575 class=q98 /><stop offset=.586 class=q95 /><stop offset=.630 class=q78 /><stop offset=.651 class=q6b /><stop offset=.684 class=q62 /><stop offset=.727 class=q5c /><stop offset=.771 class=q4f /><stop offset=.858 class=q3f /><stop offset=.901 class=q35 /><stop offset=1.000 class=q2e /></linearGradient><linearGradient id="g105" x2="0" y2="1"><stop offset=.000 class=q28 /><stop offset=.206 class=q29 /><stop offset=.250 class=q2e /><stop offset=.315 class=q31 /><stop offset=.358 class=q32 /><stop offset=.380 class=q35 /><stop offset=.391 class=q3b /><stop offset=.402 class=q5b /><stop offset=.413 class=q72 /><stop offset=.423 class=q7f /><stop offset=.499 class=q82 /><stop offset=.554 class=q8f /><stop offset=.565 class=q8f /><stop offset=.586 class=q89 /><stop offset=.608 class=q7d /><stop offset=.651 class=q6b /><stop offset=.684 class=q62 /><stop offset=.727 class=q5c /><stop offset=.771 class=q4f /><stop offset=.858 class=q3f /><stop offset=.901 class=q35 /><stop offset=1.000 class=q2e /></linearGradient><linearGradient id="g106" x2="0" y2="1"><stop offset=.000 class=q28 /><stop offset=.206 class=q29 /><stop offset=.250 class=q2e /><stop offset=.369 class=q33 /><stop offset=.391 class=q3b /><stop offset=.402 class=q57 /><stop offset=.413 class=q68 /><stop offset=.423 class=q70 /><stop offset=.434 class=q6f /><stop offset=.467 class=q72 /><stop offset=.489 class=q72 /><stop offset=.510 class=q75 /><stop offset=.554 class=q84 /><stop offset=.608 class=q75 /><stop offset=.641 class=q6f /><stop offset=.684 class=q62 /><stop offset=.727 class=q5c /><stop offset=.771 class=q4f /><stop offset=.858 class=q3f /><stop offset=.890 class=q37 /><stop offset=.912 class=q34 /><stop offset=1.000 class=q2e /></linearGradient><linearGradient id="g107" x2="0" y2="1"><stop offset=.000 class=q28 /><stop offset=.206 class=q29 /><stop offset=.250 class=q2e /><stop offset=.369 class=q34 /><stop offset=.380 class=q36 /><stop offset=.391 class=q3d /><stop offset=.402 class=q56 /><stop offset=.413 class=q61 /><stop offset=.423 class=q66 /><stop offset=.445 class=q65 /><stop offset=.499 class=q67 /><stop offset=.521 class=q6e /><stop offset=.543 class=q7d /><stop offset=.554 class=q7d /><stop offset=.575 class=q77 /><stop offset=.597 class=q74 /><stop offset=.641 class=q70 /><stop offset=.651 class=q6b /><stop offset=.684 class=q62 /><stop offset=.727 class=q5c /><stop offset=.771 class=q4f /><stop offset=.858 class=q3f /><stop offset=.901 class=q35 /><stop offset=1.000 class=q2e /></linearGradient><linearGradient id="g108" x2="0" y2="1"><stop offset=.000 class=q28 /><stop offset=.206 class=q29 /><stop offset=.250 class=q2e /><stop offset=.380 class=q34 /><stop offset=.391 class=q3d /><stop offset=.413 class=q61 /><stop offset=.423 class=q71 /><stop offset=.467 class=q77 /><stop offset=.499 class=q78 /><stop offset=.532 class=q87 /><stop offset=.565 class=q7f /><stop offset=.619 class=q78 /><stop offset=.641 class=q71 /><stop offset=.651 class=q6b /><stop offset=.684 class=q62 /><stop offset=.727 class=q5c /><stop offset=.771 class=q4f /><stop offset=.858 class=q3f /><stop offset=.890 class=q37 /><stop offset=.912 class=q34 /><stop offset=1.000 class=q2e /></linearGradient><linearGradient id="g109" x2="0" y2="1"><stop offset=.000 class=q28 /><stop offset=.206 class=q29 /><stop offset=.250 class=q2e /><stop offset=.380 class=q34 /><stop offset=.402 class=q4a /><stop offset=.423 class=q5c /><stop offset=.467 class=q60 /><stop offset=.489 class=q61 /><stop offset=.499 class=q66 /><stop offset=.510 class=q76 /><stop offset=.521 class=q8a /><stop offset=.532 class=q92 /><stop offset=.586 class=q8b /><stop offset=.608 class=q83 /><stop offset=.651 class=q6b /><stop offset=.684 class=q62 /><stop offset=.727 class=q5c /><stop offset=.771 class=q4f /><stop offset=.858 class=q3f /><stop offset=.901 class=q35 /><stop offset=1.000 class=q2e /></linearGradient><linearGradient id="g110" x2="0" y2="1"><stop offset=.000 class=q28 /><stop offset=.206 class=q29 /><stop offset=.250 class=q2e /><stop offset=.358 class=q32 /><stop offset=.369 class=q34 /><stop offset=.380 class=q3d /><stop offset=.413 class=q4b /><stop offset=.423 class=q4e /><stop offset=.467 class=q4f /><stop offset=.478 class=q51 /><stop offset=.489 class=q57 /><stop offset=.499 class=q6b /><stop offset=.510 class=q88 /><stop offset=.521 class=q99 /><stop offset=.532 class=q9f /><stop offset=.586 class=q95 /><stop offset=.630 class=q78 /><stop offset=.651 class=q6b /><stop offset=.684 class=q62 /><stop offset=.727 class=q5c /><stop offset=.771 class=q4f /><stop offset=.858 class=q3f /><stop offset=.901 class=q35 /><stop offset=1.000 class=q2e /></linearGradient><linearGradient id="g111" x2="0" y2="1"><stop offset=.000 class=q28 /><stop offset=.206 class=q29 /><stop offset=.239 class=q2d /><stop offset=.347 class=q32 /><stop offset=.380 class=q40 /><stop offset=.391 class=q41 /><stop offset=.402 class=q49 /><stop offset=.423 class=q5f /><stop offset=.456 class=q62 /><stop offset=.478 class=q67 /><stop offset=.489 class=q73 /><stop offset=.510 class=q99 /><stop offset=.521 class=qa2 /><stop offset=.532 class=qa6 /><stop offset=.586 class=q97 /><stop offset=.619 class=q7f /><stop offset=.651 class=q6b /><stop offset=.684 class=q62 /><stop offset=.727 class=q5c /><stop offset=.771 class=q4f /><stop offset=.858 class=q3f /><stop offset=.901 class=q35 /><stop offset=1.000 class=q2e /></linearGradient><linearGradient id="g112" x2="0" y2="1"><stop offset=.000 class=q28 /><stop offset=.206 class=q29 /><stop offset=.239 class=q2d /><stop offset=.326 class=q32 /><stop offset=.358 class=q3e /><stop offset=.369 class=q3e /><stop offset=.391 class=q3e /><stop offset=.402 class=q4d /><stop offset=.423 class=q79 /><stop offset=.478 class=q85 /><stop offset=.489 class=q8b /><stop offset=.499 class=q93 /><stop offset=.510 class=q9e /><stop offset=.521 class=qa4 /><stop offset=.532 class=qa8 /><stop offset=.575 class=q9c /><stop offset=.586 class=q97 /><stop offset=.619 class=q7f /><stop offset=.651 class=q6b /><stop offset=.684 class=q62 /><stop offset=.727 class=q5c /><stop offset=.771 class=q4f /><stop offset=.858 class=q3f /><stop offset=.901 class=q35 /><stop offset=1.000 class=q2e /></linearGradient><linearGradient id="g113" x2="0" y2="1"><stop offset=.000 class=q28 /><stop offset=.152 class=q28 /><stop offset=.206 class=q29 /><stop offset=.228 class=q2b /><stop offset=.250 class=q2e /><stop offset=.293 class=q30 /><stop offset=.315 class=q36 /><stop offset=.326 class=q3c /><stop offset=.391 class=q3b /><stop offset=.402 class=q4e /><stop offset=.423 class=q86 /><stop offset=.434 class=q88 /><stop offset=.467 class=q91 /><stop offset=.499 class=q97 /><stop offset=.510 class=q9f /><stop offset=.521 class=qa4 /><stop offset=.532 class=qa8 /><stop offset=.565 class=q9f /><stop offset=.586 class=q97 /><stop offset=.619 class=q7f /><stop offset=.651 class=q6b /><stop offset=.684 class=q62 /><stop offset=.727 class=q5c /><stop offset=.771 class=q4f /><stop offset=.858 class=q3f /><stop offset=.901 class=q35 /><stop offset=1.000 class=q2e /></linearGradient><linearGradient id="g114" x2="0" y2="1"><stop offset=.000 class=q27 /><stop offset=.195 class=q28 /><stop offset=.239 class=q2c /><stop offset=.271 class=q2e /><stop offset=.282 class=q33 /><stop offset=.304 class=q39 /><stop offset=.391 class=q39 /><stop offset=.402 class=q4b /><stop offset=.423 class=q82 /><stop offset=.434 class=q86 /><stop offset=.456 class=q90 /><stop offset=.499 class=q99 /><stop offset=.510 class=qa0 /><stop offset=.521 class=qa5 /><stop offset=.532 class=qa7 /><stop offset=.586 class=q95 /><stop offset=.619 class=q7d /><stop offset=.641 class=q70 /><stop offset=.651 class=q6a /><stop offset=.673 class=q64 /><stop offset=.727 class=q5b /><stop offset=.771 class=q4e /><stop offset=.901 class=q35 /><stop offset=1.000 class=q2d /></linearGradient><linearGradient id="g115" x2="0" y2="1"><stop offset=.000 class=q27 /><stop offset=.206 class=q28 /><stop offset=.239 class=q2b /><stop offset=.271 class=q37 /><stop offset=.391 class=q37 /><stop offset=.402 class=q47 /><stop offset=.423 class=q7a /><stop offset=.445 class=q8a /><stop offset=.456 class=q8f /><stop offset=.489 class=q94 /><stop offset=.499 class=q98 /><stop offset=.510 class=qa0 /><stop offset=.521 class=qa6 /><stop offset=.532 class=qa7 /><stop offset=.575 class=q97 /><stop offset=.586 class=q92 /><stop offset=.608 class=q82 /><stop offset=.651 class=q68 /><stop offset=.695 class=q5e /><stop offset=.727 class=q59 /><stop offset=.771 class=q4d /><stop offset=.901 class=q34 /><stop offset=1.000 class=q2d /></linearGradient><linearGradient id="g116" x2="0" y2="1"><stop offset=.000 class=q27 /><stop offset=.206 class=q28 /><stop offset=.217 class=q2b /><stop offset=.228 class=q31 /><stop offset=.250 class=q35 /><stop offset=.391 class=q35 /><stop offset=.402 class=q42 /><stop offset=.423 class=q71 /><stop offset=.445 class=q88 /><stop offset=.456 class=q8e /><stop offset=.489 class=q94 /><stop offset=.499 class=q98 /><stop offset=.510 class=qa1 /><stop offset=.521 class=qa6 /><stop offset=.532 class=qa6 /><stop offset=.565 class=q99 /><stop offset=.586 class=q8f /><stop offset=.619 class=q79 /><stop offset=.651 class=q67 /><stop offset=.662 class=q64 /><stop offset=.727 class=q58 /><stop offset=.771 class=q4c /><stop offset=.890 class=q35 /><stop offset=1.000 class=q2c /></linearGradient><linearGradient id="g117" x2="0" y2="1"><stop offset=.000 class=q27 /><stop offset=.174 class=q27 /><stop offset=.195 class=q2c /><stop offset=.206 class=q32 /><stop offset=.228 class=q32 /><stop offset=.304 class=q34 /><stop offset=.380 class=q33 /><stop offset=.391 class=q33 /><stop offset=.402 class=q3e /><stop offset=.413 class=q52 /><stop offset=.423 class=q69 /><stop offset=.434 class=q78 /><stop offset=.445 class=q85 /><stop offset=.456 class=q8f /><stop offset=.467 class=q96 /><stop offset=.478 class=q9b /><stop offset=.489 class=q9c /><stop offset=.510 class=qa4 /><stop offset=.521 class=qa7 /><stop offset=.532 class=qa5 /><stop offset=.554 class=q9c /><stop offset=.586 class=q8c /><stop offset=.619 class=q76 /><stop offset=.651 class=q65 /><stop offset=.717 class=q59 /><stop offset=.760 class=q4d /><stop offset=.879 class=q36 /><stop offset=.912 class=q32 /><stop offset=1.000 class=q2b /></linearGradient><linearGradient id="g118" x2="0" y2="1"><stop offset=.000 class=q27 /><stop offset=.141 class=q27 /><stop offset=.185 class=q31 /><stop offset=.391 class=q31 /><stop offset=.402 class=q39 /><stop offset=.413 class=q4a /><stop offset=.423 class=q60 /><stop offset=.434 class=q71 /><stop offset=.467 class=q9f /><stop offset=.478 class=qa8 /><stop offset=.499 class=qab /><stop offset=.521 class=qaa /><stop offset=.543 class=qa0 /><stop offset=.586 class=q89 /><stop offset=.608 class=q7a /><stop offset=.651 class=q63 /><stop offset=.695 class=q5d /><stop offset=.760 class=q4c /><stop offset=.879 class=q35 /><stop offset=1.000 class=q2a /></linearGradient><linearGradient id="g119" x2="0" y2="1"><stop offset=.000 class=q26 /><stop offset=.119 class=q27 /><stop offset=.130 class=q2c /><stop offset=.152 class=q31 /><stop offset=.391 class=q2f /><stop offset=.402 class=q35 /><stop offset=.413 class=q43 /><stop offset=.423 class=q56 /><stop offset=.445 class=q7a /><stop offset=.467 class=qa6 /><stop offset=.478 class=qb4 /><stop offset=.499 class=qb8 /><stop offset=.565 class=q93 /><stop offset=.597 class=q7e /><stop offset=.651 class=q62 /><stop offset=.695 class=q5c /><stop offset=.749 class=q4d /><stop offset=.879 class=q34 /><stop offset=1.000 class=q2a /></linearGradient><linearGradient id="g120" x2="0" y2="1"><stop offset=.000 class=q26 /><stop offset=.087 class=q26 /><stop offset=.109 class=q2e /><stop offset=.119 class=q30 /><stop offset=.391 class=q2d /><stop offset=.402 class=q30 /><stop offset=.413 class=q3b /><stop offset=.423 class=q4d /><stop offset=.445 class=q75 /><stop offset=.456 class=q92 /><stop offset=.467 class=qab /><stop offset=.478 class=qbd /><stop offset=.489 class=qc1 /><stop offset=.499 class=qc0 /><stop offset=.510 class=qb8 /><stop offset=.532 class=qa4 /><stop offset=.565 class=q91 /><stop offset=.597 class=q7b /><stop offset=.651 class=q60 /><stop offset=.695 class=q5c /><stop offset=.749 class=q4c /><stop offset=.879 class=q33 /><stop offset=1.000 class=q29 /></linearGradient><linearGradient id="g121" x2="0" y2="1"><stop offset=.000 class=q26 /><stop offset=.043 class=q26 /><stop offset=.087 class=q30 /><stop offset=.391 class=q2c /><stop offset=.402 class=q2e /><stop offset=.413 class=q38 /><stop offset=.423 class=q49 /><stop offset=.445 class=q73 /><stop offset=.456 class=q92 /><stop offset=.467 class=qad /><stop offset=.478 class=qc0 /><stop offset=.489 class=qc4 /><stop offset=.499 class=qc4 /><stop offset=.532 class=qa4 /><stop offset=.597 class=q7a /><stop offset=.651 class=q60 /><stop offset=.695 class=q5b /><stop offset=.738 class=q4e /><stop offset=.879 class=q33 /><stop offset=1.000 class=q29 /></linearGradient><linearGradient id="g122" x2="0" y2="1"><stop offset=.000 class=q26 /><stop offset=.011 class=q26 /><stop offset=.022 class=q2b /><stop offset=.043 class=q30 /><stop offset=.337 class=q2d /><stop offset=.391 class=q2b /><stop offset=.402 class=q2e /><stop offset=.413 class=q38 /><stop offset=.423 class=q49 /><stop offset=.445 class=q73 /><stop offset=.456 class=q92 /><stop offset=.467 class=qad /><stop offset=.478 class=qc0 /><stop offset=.489 class=qc4 /><stop offset=.499 class=qc4 /><stop offset=.532 class=qa4 /><stop offset=.597 class=q7a /><stop offset=.651 class=q60 /><stop offset=.695 class=q5b /><stop offset=.738 class=q4e /><stop offset=.879 class=q33 /><stop offset=1.000 class=q29 /></linearGradient><linearGradient id="g123" x2="0" y2="1"><stop offset=.000 class=q2e /><stop offset=.011 class=q30 /><stop offset=.054 class=q30 /><stop offset=.391 class=q2b /><stop offset=.402 class=q2e /><stop offset=.413 class=q38 /><stop offset=.423 class=q49 /><stop offset=.445 class=q73 /><stop offset=.456 class=q92 /><stop offset=.467 class=qad /><stop offset=.478 class=qc0 /><stop offset=.489 class=qc4 /><stop offset=.499 class=qc4 /><stop offset=.532 class=qa4 /><stop offset=.597 class=q7a /><stop offset=.651 class=q60 /><stop offset=.695 class=q5b /><stop offset=.738 class=q4e /><stop offset=.879 class=q33 /><stop offset=1.000 class=q29 /></linearGradient><linearGradient id="g124" x2="0" y2="1"><stop offset=.000 class=q30 /><stop offset=.315 class=q2d /><stop offset=.391 class=q2b /><stop offset=.402 class=q2e /><stop offset=.413 class=q38 /><stop offset=.423 class=q49 /><stop offset=.445 class=q73 /><stop offset=.456 class=q92 /><stop offset=.467 class=qad /><stop offset=.478 class=qc0 /><stop offset=.489 class=qc4 /><stop offset=.499 class=qc4 /><stop offset=.532 class=qa4 /><stop offset=.597 class=q7a /><stop offset=.651 class=q60 /><stop offset=.695 class=q5b /><stop offset=.738 class=q4e /><stop offset=.879 class=q33 /><stop offset=1.000 class=q29 /></linearGradient><clipPath id="clip4"><rect x="240.4" y="142.4" width="116.30" height="91.90"/></clipPath><filter id="cm4" x="236.4" y="141.4" width="124.29999999999998" height="93.9" filterUnits="userSpaceOnUse" color-interpolation-filters="sRGB"><feGaussianBlur stdDeviation="1.6 0"/><feComponentTransfer><feFuncR type="table" tableValues="0.5000 1.0000 1.0000 1.0000 0.5000 0.0000 0.0000 0.0000 0.0000"/><feFuncG type="table" tableValues="0.0000 0.0000 0.5000 1.0000 1.0000 1.0000 0.5000 0.0000 0.0000"/><feFuncB type="table" tableValues="0.0000 0.0000 0.0000 0.0000 0.5000 1.0000 1.0000 1.0000 0.5000"/></feComponentTransfer></filter><linearGradient id="g125" x2="0" y2="1"><stop offset=.000 class=q24 /><stop offset=.087 class=q24 /><stop offset=.163 class=q2a /><stop offset=.239 class=q2a /><stop offset=.250 class=q2a /><stop offset=.283 class=q1a /><stop offset=.305 class=q13 /><stop offset=.316 class=q1d /><stop offset=.326 class=q2c /><stop offset=.348 class=q6e /><stop offset=.359 class=q91 /><stop offset=.370 class=qbe /><stop offset=.381 class=qef /><stop offset=.392 class=qcf /><stop offset=.403 class=qb3 /><stop offset=.413 class=qa1 /><stop offset=.424 class=q9f /><stop offset=.490 class=qa8 /><stop offset=.501 class=qb7 /><stop offset=.511 class=qca /><stop offset=.522 class=qc0 /><stop offset=.533 class=qb3 /><stop offset=.642 class=q62 /><stop offset=.686 class=q4e /><stop offset=.729 class=q41 /><stop offset=.773 class=q30 /><stop offset=.816 class=q23 /><stop offset=.914 class=q19 /><stop offset=1.000 class=q16 /></linearGradient><linearGradient id="g126" x2="0" y2="1"><stop offset=.000 class=q24 /><stop offset=.087 class=q24 /><stop offset=.163 class=q2a /><stop offset=.239 class=q2a /><stop offset=.250 class=q2a /><stop offset=.283 class=q1a /><stop offset=.305 class=q13 /><stop offset=.316 class=q1d /><stop offset=.326 class=q2c /><stop offset=.348 class=q6e /><stop offset=.359 class=q91 /><stop offset=.370 class=qbe /><stop offset=.381 class=qef /><stop offset=.392 class=qcf /><stop offset=.403 class=qb3 /><stop offset=.413 class=qa1 /><stop offset=.424 class=q9f /><stop offset=.490 class=qa8 /><stop offset=.501 class=qb7 /><stop offset=.511 class=qca /><stop offset=.522 class=qc0 /><stop offset=.533 class=qb3 /><stop offset=.642 class=q62 /><stop offset=.675 class=q52 /><stop offset=.718 class=q45 /><stop offset=.805 class=q26 /><stop offset=.838 class=q21 /><stop offset=.914 class=q1a /><stop offset=.958 class=q19 /><stop offset=1.000 class=qa /></linearGradient><linearGradient id="g127" x2="0" y2="1"><stop offset=.000 class=q24 /><stop offset=.087 class=q24 /><stop offset=.163 class=q2a /><stop offset=.239 class=q2a /><stop offset=.250 class=q2a /><stop offset=.283 class=q1a /><stop offset=.305 class=q13 /><stop offset=.316 class=q1d /><stop offset=.326 class=q2c /><stop offset=.348 class=q6e /><stop offset=.359 class=q91 /><stop offset=.370 class=qbe /><stop offset=.381 class=qef /><stop offset=.392 class=qcf /><stop offset=.403 class=qb3 /><stop offset=.413 class=qa1 /><stop offset=.424 class=q9f /><stop offset=.490 class=qa8 /><stop offset=.501 class=qb7 /><stop offset=.511 class=qca /><stop offset=.522 class=qc0 /><stop offset=.533 class=qb3 /><stop offset=.642 class=q63 /><stop offset=.686 class=q4f /><stop offset=.729 class=q42 /><stop offset=.783 class=q2e /><stop offset=.816 class=q25 /><stop offset=.914 class=q1d /><stop offset=.958 class=qe /><stop offset=1.000 class=qa /></linearGradient><linearGradient id="g128" x2="0" y2="1"><stop offset=.000 class=q24 /><stop offset=.087 class=q24 /><stop offset=.163 class=q2a /><stop offset=.239 class=q2a /><stop offset=.250 class=q2a /><stop offset=.283 class=q1a /><stop offset=.305 class=q13 /><stop offset=.316 class=q1d /><stop offset=.326 class=q2c /><stop offset=.348 class=q6e /><stop offset=.359 class=q91 /><stop offset=.370 class=qbe /><stop offset=.381 class=qef /><stop offset=.392 class=qcf /><stop offset=.403 class=qb3 /><stop offset=.413 class=qa1 /><stop offset=.424 class=q9f /><stop offset=.490 class=qa8 /><stop offset=.501 class=qb7 /><stop offset=.511 class=qca /><stop offset=.522 class=qc0 /><stop offset=.533 class=qb3 /><stop offset=.588 class=q8c /><stop offset=.642 class=q63 /><stop offset=.675 class=q53 /><stop offset=.751 class=q3c /><stop offset=.773 class=q33 /><stop offset=.816 class=q27 /><stop offset=.871 class=q23 /><stop offset=.881 class=q1f /><stop offset=.914 class=q12 /><stop offset=1.000 class=qa /></linearGradient><linearGradient id="g129" x2="0" y2="1"><stop offset=.000 class=q24 /><stop offset=.087 class=q24 /><stop offset=.163 class=q2a /><stop offset=.239 class=q2a /><stop offset=.250 class=q2a /><stop offset=.283 class=q1a /><stop offset=.305 class=q13 /><stop offset=.316 class=q1d /><stop offset=.326 class=q2c /><stop offset=.348 class=q6e /><stop offset=.359 class=q91 /><stop offset=.370 class=qbe /><stop offset=.381 class=qef /><stop offset=.392 class=qcf /><stop offset=.403 class=qb3 /><stop offset=.413 class=qa1 /><stop offset=.424 class=q9f /><stop offset=.490 class=qa8 /><stop offset=.501 class=qb7 /><stop offset=.511 class=qca /><stop offset=.533 class=qb4 /><stop offset=.555 class=qa3 /><stop offset=.598 class=q85 /><stop offset=.642 class=q64 /><stop offset=.653 class=q5f /><stop offset=.675 class=q54 /><stop offset=.718 class=q48 /><stop offset=.773 class=q35 /><stop offset=.805 class=q2c /><stop offset=.827 class=q29 /><stop offset=.849 class=q20 /><stop offset=.871 class=q18 /><stop offset=.881 class=q16 /><stop offset=1.000 class=qa /></linearGradient><linearGradient id="g130" x2="0" y2="1"><stop offset=.000 class=q24 /><stop offset=.087 class=q24 /><stop offset=.163 class=q2a /><stop offset=.239 class=q2a /><stop offset=.250 class=q2a /><stop offset=.283 class=q1a /><stop offset=.305 class=q13 /><stop offset=.316 class=q1d /><stop offset=.326 class=q2c /><stop offset=.348 class=q6e /><stop offset=.359 class=q91 /><stop offset=.370 class=qbe /><stop offset=.381 class=qef /><stop offset=.392 class=qcf /><stop offset=.403 class=qb3 /><stop offset=.413 class=qa1 /><stop offset=.424 class=q9f /><stop offset=.490 class=qa8 /><stop offset=.501 class=qb7 /><stop offset=.511 class=qca /><stop offset=.522 class=qc1 /><stop offset=.533 class=qb4 /><stop offset=.642 class=q65 /><stop offset=.653 class=q60 /><stop offset=.686 class=q52 /><stop offset=.718 class=q4a /><stop offset=.783 class=q34 /><stop offset=.816 class=q22 /><stop offset=.827 class=q1e /><stop offset=.849 class=q1a /><stop offset=.903 class=q13 /><stop offset=1.000 class=qa /></linearGradient><linearGradient id="g131" x2="0" y2="1"><stop offset=.000 class=q24 /><stop offset=.087 class=q24 /><stop offset=.163 class=q2a /><stop offset=.239 class=q2a /><stop offset=.250 class=q2a /><stop offset=.283 class=q1a /><stop offset=.305 class=q13 /><stop offset=.316 class=q1d /><stop offset=.326 class=q2c /><stop offset=.348 class=q6e /><stop offset=.359 class=q91 /><stop offset=.370 class=qbe /><stop offset=.381 class=qef /><stop offset=.392 class=qcf /><stop offset=.403 class=qb3 /><stop offset=.413 class=qa1 /><stop offset=.424 class=q9f /><stop offset=.490 class=qa9 /><stop offset=.501 class=qb8 /><stop offset=.511 class=qca /><stop offset=.522 class=qc1 /><stop offset=.533 class=qb5 /><stop offset=.642 class=q66 /><stop offset=.675 class=q57 /><stop offset=.751 class=q42 /><stop offset=.762 class=q3b /><stop offset=.773 class=q30 /><stop offset=.783 class=q29 /><stop offset=.805 class=q22 /><stop offset=.849 class=q1a /><stop offset=.903 class=q13 /><stop offset=1.000 class=qa /></linearGradient><linearGradient id="g132" x2="0" y2="1"><stop offset=.000 class=q24 /><stop offset=.087 class=q24 /><stop offset=.163 class=q2a /><stop offset=.239 class=q2a /><stop offset=.250 class=q2a /><stop offset=.283 class=q1a /><stop offset=.305 class=q13 /><stop offset=.316 class=q1d /><stop offset=.326 class=q2c /><stop offset=.348 class=q6e /><stop offset=.359 class=q91 /><stop offset=.370 class=qbe /><stop offset=.381 class=qef /><stop offset=.392 class=qcf /><stop offset=.403 class=qb3 /><stop offset=.413 class=qa1 /><stop offset=.424 class=q9f /><stop offset=.490 class=qaa /><stop offset=.501 class=qb9 /><stop offset=.511 class=qcb /><stop offset=.533 class=qb5 /><stop offset=.598 class=q88 /><stop offset=.642 class=q68 /><stop offset=.675 class=q59 /><stop offset=.707 class=q51 /><stop offset=.740 class=q3e /><stop offset=.751 class=q36 /><stop offset=.783 class=q29 /><stop offset=.805 class=q22 /><stop offset=.849 class=q1a /><stop offset=.903 class=q13 /><stop offset=1.000 class=qa /></linearGradient><linearGradient id="g133" x2="0" y2="1"><stop offset=.000 class=q24 /><stop offset=.087 class=q24 /><stop offset=.163 class=q2a /><stop offset=.239 class=q2a /><stop offset=.250 class=q2a /><stop offset=.283 class=q1a /><stop offset=.305 class=q13 /><stop offset=.316 class=q1d /><stop offset=.326 class=q2c /><stop offset=.348 class=q6e /><stop offset=.359 class=q91 /><stop offset=.370 class=qbe /><stop offset=.381 class=qef /><stop offset=.392 class=qcf /><stop offset=.403 class=qb3 /><stop offset=.413 class=qa2 /><stop offset=.424 class=qa0 /><stop offset=.457 class=qa9 /><stop offset=.490 class=qae /><stop offset=.501 class=qbb /><stop offset=.511 class=qcb /><stop offset=.533 class=qb7 /><stop offset=.642 class=q6a /><stop offset=.664 class=q61 /><stop offset=.686 class=q52 /><stop offset=.707 class=q46 /><stop offset=.783 class=q29 /><stop offset=.805 class=q22 /><stop offset=.849 class=q1a /><stop offset=.903 class=q13 /><stop offset=1.000 class=qa /></linearGradient><linearGradient id="g134" x2="0" y2="1"><stop offset=.000 class=q24 /><stop offset=.087 class=q24 /><stop offset=.163 class=q2a /><stop offset=.239 class=q2a /><stop offset=.250 class=q2a /><stop offset=.283 class=q1a /><stop offset=.305 class=q13 /><stop offset=.316 class=q1d /><stop offset=.326 class=q2c /><stop offset=.348 class=q6e /><stop offset=.359 class=q91 /><stop offset=.370 class=qbe /><stop offset=.381 class=qef /><stop offset=.392 class=qcf /><stop offset=.403 class=qb3 /><stop offset=.413 class=qa2 /><stop offset=.424 class=qa2 /><stop offset=.457 class=qaf /><stop offset=.490 class=qb5 /><stop offset=.501 class=qbe /><stop offset=.511 class=qcb /><stop offset=.522 class=qc4 /><stop offset=.533 class=qb9 /><stop offset=.620 class=q7c /><stop offset=.642 class=q66 /><stop offset=.664 class=q55 /><stop offset=.675 class=q50 /><stop offset=.707 class=q46 /><stop offset=.783 class=q29 /><stop offset=.805 class=q22 /><stop offset=.849 class=q1a /><stop offset=.903 class=q13 /><stop offset=1.000 class=qa /></linearGradient><linearGradient id="g135" x2="0" y2="1"><stop offset=.000 class=q24 /><stop offset=.087 class=q24 /><stop offset=.163 class=q2a /><stop offset=.239 class=q2a /><stop offset=.250 class=q2a /><stop offset=.283 class=q1a /><stop offset=.305 class=q13 /><stop offset=.316 class=q1d /><stop offset=.326 class=q2c /><stop offset=.348 class=q6e /><stop offset=.359 class=q91 /><stop offset=.370 class=qbe /><stop offset=.381 class=qef /><stop offset=.392 class=qcf /><stop offset=.403 class=qb3 /><stop offset=.413 class=qa3 /><stop offset=.424 class=qa3 /><stop offset=.468 class=qba /><stop offset=.490 class=qbd /><stop offset=.501 class=qc3 /><stop offset=.511 class=qcc /><stop offset=.522 class=qc6 /><stop offset=.533 class=qbc /><stop offset=.588 class=q95 /><stop offset=.631 class=q69 /><stop offset=.642 class=q60 /><stop offset=.675 class=q50 /><stop offset=.707 class=q46 /><stop offset=.805 class=q22 /><stop offset=.849 class=q1a /><stop offset=.903 class=q13 /><stop offset=1.000 class=qa /></linearGradient><linearGradient id="g136" x2="0" y2="1"><stop offset=.000 class=q24 /><stop offset=.087 class=q24 /><stop offset=.163 class=q2a /><stop offset=.239 class=q2a /><stop offset=.250 class=q2a /><stop offset=.283 class=q1a /><stop offset=.305 class=q13 /><stop offset=.316 class=q1d /><stop offset=.326 class=q2c /><stop offset=.348 class=q6e /><stop offset=.359 class=q91 /><stop offset=.370 class=qbe /><stop offset=.381 class=qef /><stop offset=.392 class=qcf /><stop offset=.403 class=qb3 /><stop offset=.413 class=qa3 /><stop offset=.424 class=qa3 /><stop offset=.468 class=qbf /><stop offset=.501 class=qc7 /><stop offset=.511 class=qcd /><stop offset=.522 class=qc8 /><stop offset=.544 class=qb8 /><stop offset=.588 class=q8a /><stop offset=.642 class=q60 /><stop offset=.675 class=q50 /><stop offset=.707 class=q46 /><stop offset=.805 class=q22 /><stop offset=.849 class=q1a /><stop offset=.903 class=q13 /><stop offset=1.000 class=qa /></linearGradient><linearGradient id="g137" x2="0" y2="1"><stop offset=.000 class=q24 /><stop offset=.087 class=q24 /><stop offset=.163 class=q2a /><stop offset=.239 class=q2a /><stop offset=.250 class=q2a /><stop offset=.283 class=q1a /><stop offset=.305 class=q13 /><stop offset=.316 class=q1d /><stop offset=.326 class=q2c /><stop offset=.348 class=q6e /><stop offset=.359 class=q91 /><stop offset=.370 class=qbe /><stop offset=.381 class=qef /><stop offset=.392 class=qcf /><stop offset=.403 class=qb3 /><stop offset=.413 class=qa4 /><stop offset=.424 class=qa4 /><stop offset=.435 class=qaa /><stop offset=.468 class=qc1 /><stop offset=.479 class=qc6 /><stop offset=.511 class=qd0 /><stop offset=.522 class=qcb /><stop offset=.555 class=qa5 /><stop offset=.577 class=q92 /><stop offset=.609 class=q7a /><stop offset=.642 class=q60 /><stop offset=.675 class=q50 /><stop offset=.707 class=q46 /><stop offset=.805 class=q22 /><stop offset=.849 class=q1a /><stop offset=.903 class=q13 /><stop offset=1.000 class=qa /></linearGradient><linearGradient id="g138" x2="0" y2="1"><stop offset=.000 class=q24 /><stop offset=.087 class=q24 /><stop offset=.163 class=q2a /><stop offset=.239 class=q2a /><stop offset=.250 class=q2a /><stop offset=.283 class=q1a /><stop offset=.305 class=q13 /><stop offset=.316 class=q1d /><stop offset=.326 class=q2c /><stop offset=.348 class=q6e /><stop offset=.359 class=q91 /><stop offset=.370 class=qbe /><stop offset=.381 class=qef /><stop offset=.392 class=qcf /><stop offset=.403 class=qb4 /><stop offset=.413 class=qa7 /><stop offset=.424 class=qa9 /><stop offset=.468 class=qc5 /><stop offset=.479 class=qc9 /><stop offset=.501 class=qc9 /><stop offset=.511 class=qcf /><stop offset=.522 class=qc4 /><stop offset=.533 class=qb6 /><stop offset=.555 class=qa2 /><stop offset=.609 class=q7a /><stop offset=.642 class=q60 /><stop offset=.675 class=q50 /><stop offset=.707 class=q46 /><stop offset=.805 class=q22 /><stop offset=.849 class=q1a /><stop offset=.903 class=q13 /><stop offset=1.000 class=qa /></linearGradient><linearGradient id="g139" x2="0" y2="1"><stop offset=.000 class=q24 /><stop offset=.087 class=q24 /><stop offset=.163 class=q2a /><stop offset=.239 class=q2a /><stop offset=.250 class=q2a /><stop offset=.283 class=q1a /><stop offset=.305 class=q13 /><stop offset=.316 class=q1d /><stop offset=.326 class=q2c /><stop offset=.348 class=q6f /><stop offset=.359 class=q92 /><stop offset=.381 class=qec /><stop offset=.392 class=qcf /><stop offset=.403 class=qb8 /><stop offset=.413 class=qae /><stop offset=.446 class=qb7 /><stop offset=.468 class=qb5 /><stop offset=.490 class=qaf /><stop offset=.501 class=qba /><stop offset=.511 class=qcc /><stop offset=.533 class=qb3 /><stop offset=.566 class=q99 /><stop offset=.609 class=q7a /><stop offset=.642 class=q60 /><stop offset=.675 class=q50 /><stop offset=.707 class=q46 /><stop offset=.805 class=q22 /><stop offset=.849 class=q1a /><stop offset=.903 class=q13 /><stop offset=1.000 class=qa /></linearGradient><linearGradient id="g140" x2="0" y2="1"><stop offset=.000 class=q24 /><stop offset=.087 class=q24 /><stop offset=.152 class=q29 /><stop offset=.239 class=q29 /><stop offset=.250 class=q29 /><stop offset=.283 class=q1a /><stop offset=.305 class=q14 /><stop offset=.316 class=q1f /><stop offset=.326 class=q2f /><stop offset=.348 class=q70 /><stop offset=.359 class=q92 /><stop offset=.381 class=qea /><stop offset=.392 class=qcc /><stop offset=.403 class=qb6 /><stop offset=.413 class=qa8 /><stop offset=.424 class=qa5 /><stop offset=.457 class=qa5 /><stop offset=.490 class=qa9 /><stop offset=.501 class=qb8 /><stop offset=.511 class=qcc /><stop offset=.533 class=qb0 /><stop offset=.642 class=q5f /><stop offset=.675 class=q50 /><stop offset=.718 class=q42 /><stop offset=.805 class=q22 /><stop offset=.903 class=q13 /><stop offset=1.000 class=qa /></linearGradient><linearGradient id="g141" x2="0" y2="1"><stop offset=.000 class=q25 /><stop offset=.087 class=q25 /><stop offset=.152 class=q28 /><stop offset=.229 class=q28 /><stop offset=.250 class=q28 /><stop offset=.305 class=q17 /><stop offset=.316 class=q23 /><stop offset=.326 class=q33 /><stop offset=.348 class=q69 /><stop offset=.359 class=q86 /><stop offset=.370 class=qb7 /><stop offset=.381 class=qed /><stop offset=.392 class=qc6 /><stop offset=.403 class=qae /><stop offset=.413 class=qa0 /><stop offset=.446 class=qa3 /><stop offset=.490 class=qab /><stop offset=.501 class=qb9 /><stop offset=.511 class=qcc /><stop offset=.533 class=qab /><stop offset=.566 class=q92 /><stop offset=.588 class=q84 /><stop offset=.631 class=q63 /><stop offset=.664 class=q53 /><stop offset=.707 class=q45 /><stop offset=.805 class=q22 /><stop offset=.914 class=q11 /><stop offset=1.000 class=q9 /></linearGradient><linearGradient id="g142" x2="0" y2="1"><stop offset=.000 class=q26 /><stop offset=.218 class=q27 /><stop offset=.250 class=q27 /><stop offset=.283 class=q1e /><stop offset=.305 class=q17 /><stop offset=.316 class=q21 /><stop offset=.326 class=q30 /><stop offset=.337 class=q45 /><stop offset=.348 class=q5e /><stop offset=.359 class=q7a /><stop offset=.370 class=qb0 /><stop offset=.381 class=qed /><stop offset=.392 class=qbf /><stop offset=.403 class=qaa /><stop offset=.413 class=q9f /><stop offset=.490 class=qac /><stop offset=.501 class=qba /><stop offset=.511 class=qcc /><stop offset=.533 class=qa6 /><stop offset=.566 class=q8d /><stop offset=.588 class=q80 /><stop offset=.631 class=q60 /><stop offset=.653 class=q56 /><stop offset=.686 class=q4a /><stop offset=.729 class=q3d /><stop offset=.805 class=q22 /><stop offset=.925 class=qf /><stop offset=1.000 class=q8 /></linearGradient><linearGradient id="g143" x2="0" y2="1"><stop offset=.000 class=q26 /><stop offset=.218 class=q26 /><stop offset=.250 class=q26 /><stop offset=.272 class=q22 /><stop offset=.283 class=q1e /><stop offset=.305 class=q18 /><stop offset=.316 class=q23 /><stop offset=.326 class=q31 /><stop offset=.337 class=q42 /><stop offset=.348 class=q5a /><stop offset=.359 class=q75 /><stop offset=.370 class=qad /><stop offset=.381 class=qed /><stop offset=.392 class=qbc /><stop offset=.403 class=qa8 /><stop offset=.413 class=q9f /><stop offset=.490 class=qad /><stop offset=.501 class=qbb /><stop offset=.511 class=qcc /><stop offset=.522 class=qb9 /><stop offset=.533 class=qa3 /><stop offset=.555 class=q92 /><stop offset=.588 class=q7e /><stop offset=.620 class=q65 /><stop offset=.631 class=q5e /><stop offset=.675 class=q4d /><stop offset=.740 class=q39 /><stop offset=.805 class=q22 /><stop offset=.925 class=qf /><stop offset=1.000 class=q8 /></linearGradient><linearGradient id="g144" x2="0" y2="1"><stop offset=.000 class=q26 /><stop offset=.250 class=q26 /><stop offset=.261 class=q28 /><stop offset=.272 class=q28 /><stop offset=.283 class=q25 /><stop offset=.294 class=q22 /><stop offset=.305 class=q1b /><stop offset=.316 class=q22 /><stop offset=.326 class=q30 /><stop offset=.337 class=q42 /><stop offset=.359 class=q74 /><stop offset=.370 class=qad /><stop offset=.381 class=qed /><stop offset=.392 class=qbc /><stop offset=.403 class=qa8 /><stop offset=.413 class=q9f /><stop offset=.490 class=qad /><stop offset=.501 class=qbb /><stop offset=.511 class=qcc /><stop offset=.522 class=qb9 /><stop offset=.533 class=qa3 /><stop offset=.555 class=q92 /><stop offset=.588 class=q7e /><stop offset=.620 class=q65 /><stop offset=.631 class=q5e /><stop offset=.675 class=q4d /><stop offset=.740 class=q39 /><stop offset=.805 class=q22 /><stop offset=.925 class=qf /><stop offset=1.000 class=q8 /></linearGradient><linearGradient id="g145" x2="0" y2="1"><stop offset=.000 class=q26 /><stop offset=.207 class=q26 /><stop offset=.229 class=q30 /><stop offset=.250 class=q36 /><stop offset=.294 class=q1e /><stop offset=.305 class=q19 /><stop offset=.316 class=q21 /><stop offset=.326 class=q2f /><stop offset=.337 class=q42 /><stop offset=.359 class=q74 /><stop offset=.370 class=qad /><stop offset=.381 class=qed /><stop offset=.392 class=qbc /><stop offset=.403 class=qa8 /><stop offset=.413 class=q9f /><stop offset=.490 class=qad /><stop offset=.501 class=qbb /><stop offset=.511 class=qcc /><stop offset=.522 class=qb9 /><stop offset=.533 class=qa3 /><stop offset=.555 class=q92 /><stop offset=.588 class=q7e /><stop offset=.620 class=q65 /><stop offset=.631 class=q5e /><stop offset=.675 class=q4d /><stop offset=.740 class=q39 /><stop offset=.805 class=q22 /><stop offset=.925 class=qf /><stop offset=1.000 class=q8 /></linearGradient><linearGradient id="g146" x2="0" y2="1"><stop offset=.000 class=q26 /><stop offset=.174 class=q26 /><stop offset=.218 class=q37 /><stop offset=.250 class=q31 /><stop offset=.294 class=q1c /><stop offset=.305 class=q17 /><stop offset=.316 class=q20 /><stop offset=.326 class=q2f /><stop offset=.337 class=q42 /><stop offset=.359 class=q74 /><stop offset=.370 class=qad /><stop offset=.381 class=qed /><stop offset=.392 class=qbc /><stop offset=.403 class=qa8 /><stop offset=.413 class=q9f /><stop offset=.490 class=qad /><stop offset=.501 class=qbb /><stop offset=.511 class=qcc /><stop offset=.522 class=qb9 /><stop offset=.533 class=qa3 /><stop offset=.555 class=q92 /><stop offset=.588 class=q7e /><stop offset=.620 class=q65 /><stop offset=.631 class=q5e /><stop offset=.675 class=q4d /><stop offset=.740 class=q39 /><stop offset=.805 class=q22 /><stop offset=.925 class=qf /><stop offset=1.000 class=q8 /></linearGradient><linearGradient id="g147" x2="0" y2="1"><stop offset=.000 class=q26 /><stop offset=.141 class=q26 /><stop offset=.152 class=q30 /><stop offset=.174 class=q38 /><stop offset=.250 class=q2e /><stop offset=.294 class=q1b /><stop offset=.305 class=q17 /><stop offset=.316 class=q20 /><stop offset=.326 class=q2f /><stop offset=.337 class=q42 /><stop offset=.359 class=q74 /><stop offset=.370 class=qad /><stop offset=.381 class=qed /><stop offset=.392 class=qbc /><stop offset=.403 class=qa8 /><stop offset=.413 class=q9f /><stop offset=.490 class=qad /><stop offset=.501 class=qbb /><stop offset=.511 class=qcc /><stop offset=.522 class=qb9 /><stop offset=.533 class=qa3 /><stop offset=.555 class=q92 /><stop offset=.588 class=q7e /><stop offset=.620 class=q65 /><stop offset=.631 class=q5e /><stop offset=.675 class=q4d /><stop offset=.740 class=q39 /><stop offset=.805 class=q22 /><stop offset=.925 class=qf /><stop offset=1.000 class=q8 /></linearGradient><linearGradient id="g148" x2="0" y2="1"><stop offset=.000 class=q26 /><stop offset=.109 class=q26 /><stop offset=.120 class=q30 /><stop offset=.141 class=q37 /><stop offset=.163 class=q34 /><stop offset=.250 class=q2d /><stop offset=.283 class=q1f /><stop offset=.305 class=q16 /><stop offset=.316 class=q20 /><stop offset=.326 class=q2f /><stop offset=.337 class=q42 /><stop offset=.359 class=q74 /><stop offset=.370 class=qad /><stop offset=.381 class=qed /><stop offset=.392 class=qbc /><stop offset=.403 class=qa8 /><stop offset=.413 class=q9f /><stop offset=.490 class=qad /><stop offset=.501 class=qbb /><stop offset=.511 class=qcc /><stop offset=.522 class=qb9 /><stop offset=.533 class=qa3 /><stop offset=.555 class=q92 /><stop offset=.588 class=q7e /><stop offset=.620 class=q65 /><stop offset=.631 class=q5e /><stop offset=.675 class=q4d /><stop offset=.740 class=q39 /><stop offset=.805 class=q22 /><stop offset=.925 class=qf /><stop offset=1.000 class=q8 /></linearGradient><linearGradient id="g149" x2="0" y2="1"><stop offset=.000 class=q26 /><stop offset=.076 class=q26 /><stop offset=.087 class=q30 /><stop offset=.109 class=q37 /><stop offset=.163 class=q31 /><stop offset=.250 class=q2c /><stop offset=.283 class=q1f /><stop offset=.305 class=q16 /><stop offset=.316 class=q1f /><stop offset=.326 class=q2f /><stop offset=.337 class=q42 /><stop offset=.359 class=q74 /><stop offset=.370 class=qad /><stop offset=.381 class=qed /><stop offset=.392 class=qbc /><stop offset=.403 class=qa8 /><stop offset=.413 class=q9f /><stop offset=.490 class=qad /><stop offset=.501 class=qbb /><stop offset=.511 class=qcc /><stop offset=.522 class=qb9 /><stop offset=.533 class=qa3 /><stop offset=.555 class=q92 /><stop offset=.588 class=q7e /><stop offset=.620 class=q65 /><stop offset=.631 class=q5e /><stop offset=.675 class=q4d /><stop offset=.740 class=q39 /><stop offset=.805 class=q22 /><stop offset=.925 class=qf /><stop offset=1.000 class=q8 /></linearGradient><linearGradient id="g150" x2="0" y2="1"><stop offset=.000 class=q26 /><stop offset=.044 class=q26 /><stop offset=.054 class=q30 /><stop offset=.076 class=q37 /><stop offset=.131 class=q31 /><stop offset=.250 class=q2b /><stop offset=.283 class=q1f /><stop offset=.305 class=q16 /><stop offset=.316 class=q1f /><stop offset=.326 class=q2f /><stop offset=.337 class=q42 /><stop offset=.359 class=q74 /><stop offset=.370 class=qad /><stop offset=.381 class=qed /><stop offset=.392 class=qbc /><stop offset=.403 class=qa8 /><stop offset=.413 class=q9f /><stop offset=.490 class=qad /><stop offset=.501 class=qbb /><stop offset=.511 class=qcc /><stop offset=.522 class=qb9 /><stop offset=.533 class=qa3 /><stop offset=.555 class=q92 /><stop offset=.588 class=q7e /><stop offset=.620 class=q65 /><stop offset=.631 class=q5e /><stop offset=.675 class=q4d /><stop offset=.740 class=q39 /><stop offset=.805 class=q22 /><stop offset=.925 class=qf /><stop offset=1.000 class=q8 /></linearGradient><linearGradient id="g151" x2="0" y2="1"><stop offset=.000 class=q26 /><stop offset=.011 class=q26 /><stop offset=.022 class=q30 /><stop offset=.044 class=q37 /><stop offset=.065 class=q34 /><stop offset=.131 class=q2f /><stop offset=.250 class=q2b /><stop offset=.283 class=q1f /><stop offset=.305 class=q16 /><stop offset=.316 class=q1f /><stop offset=.326 class=q2f /><stop offset=.337 class=q42 /><stop offset=.359 class=q74 /><stop offset=.370 class=qad /><stop offset=.381 class=qed /><stop offset=.392 class=qbc /><stop offset=.403 class=qa8 /><stop offset=.413 class=q9f /><stop offset=.490 class=qad /><stop offset=.501 class=qbb /><stop offset=.511 class=qcc /><stop offset=.522 class=qb9 /><stop offset=.533 class=qa3 /><stop offset=.555 class=q92 /><stop offset=.588 class=q7e /><stop offset=.620 class=q65 /><stop offset=.631 class=q5e /><stop offset=.675 class=q4d /><stop offset=.740 class=q39 /><stop offset=.805 class=q22 /><stop offset=.925 class=qf /><stop offset=1.000 class=q8 /></linearGradient><linearGradient id="g152" x2="0" y2="1"><stop offset=.000 class=q34 /><stop offset=.011 class=q38 /><stop offset=.087 class=q30 /><stop offset=.152 class=q2d /><stop offset=.229 class=q2c /><stop offset=.250 class=q2a /><stop offset=.283 class=q1e /><stop offset=.305 class=q16 /><stop offset=.316 class=q1f /><stop offset=.326 class=q2f /><stop offset=.337 class=q42 /><stop offset=.359 class=q74 /><stop offset=.370 class=qad /><stop offset=.381 class=qed /><stop offset=.392 class=qbc /><stop offset=.403 class=qa8 /><stop offset=.413 class=q9f /><stop offset=.490 class=qad /><stop offset=.501 class=qbb /><stop offset=.511 class=qcc /><stop offset=.522 class=qb9 /><stop offset=.533 class=qa3 /><stop offset=.555 class=q92 /><stop offset=.588 class=q7e /><stop offset=.620 class=q65 /><stop offset=.631 class=q5e /><stop offset=.675 class=q4d /><stop offset=.740 class=q39 /><stop offset=.805 class=q22 /><stop offset=.925 class=qf /><stop offset=1.000 class=q8 /></linearGradient><linearGradient id="g153" x2="0" y2="1"><stop offset=.000 class=q39 /><stop offset=.044 class=q33 /><stop offset=.098 class=q2f /><stop offset=.229 class=q2c /><stop offset=.250 class=q2a /><stop offset=.283 class=q1e /><stop offset=.305 class=q16 /><stop offset=.316 class=q1f /><stop offset=.326 class=q2f /><stop offset=.337 class=q42 /><stop offset=.359 class=q74 /><stop offset=.370 class=qad /><stop offset=.381 class=qed /><stop offset=.392 class=qbc /><stop offset=.403 class=qa8 /><stop offset=.413 class=q9f /><stop offset=.490 class=qad /><stop offset=.501 class=qbb /><stop offset=.511 class=qcc /><stop offset=.522 class=qb9 /><stop offset=.533 class=qa3 /><stop offset=.555 class=q92 /><stop offset=.588 class=q7e /><stop offset=.620 class=q65 /><stop offset=.631 class=q5e /><stop offset=.675 class=q4d /><stop offset=.740 class=q39 /><stop offset=.805 class=q22 /><stop offset=.925 class=qf /><stop offset=1.000 class=q8 /></linearGradient><clipPath id="clip5"><rect x="240.4" y="258.7" width="116.30" height="92.00"/></clipPath><filter id="cm5" x="236.4" y="257.7" width="124.29999999999998" height="94.0" filterUnits="userSpaceOnUse" color-interpolation-filters="sRGB"><feGaussianBlur stdDeviation="1.6 0"/><feComponentTransfer><feFuncR type="table" tableValues="0.5000 1.0000 1.0000 1.0000 0.5000 0.0000 0.0000 0.0000 0.0000"/><feFuncG type="table" tableValues="0.0000 0.0000 0.5000 1.0000 1.0000 1.0000 0.5000 0.0000 0.0000"/><feFuncB type="table" tableValues="0.0000 0.0000 0.0000 0.0000 0.5000 1.0000 1.0000 1.0000 0.5000"/></feComponentTransfer></filter><linearGradient id="g154" x2="0" y2="1"><stop offset=.000 class=q30 /><stop offset=.043 class=q30 /><stop offset=.120 class=q3c /><stop offset=.196 class=q4f /><stop offset=.250 class=q61 /><stop offset=.283 class=q6e /><stop offset=.304 class=q7b /><stop offset=.326 class=q8b /><stop offset=.348 class=qa1 /><stop offset=.370 class=qca /><stop offset=.380 class=qe7 /><stop offset=.391 class=qe5 /><stop offset=.413 class=qb8 /><stop offset=.424 class=qa5 /><stop offset=.446 class=q92 /><stop offset=.457 class=q8b /><stop offset=.478 class=q81 /><stop offset=.543 class=q6c /><stop offset=.587 class=q66 /><stop offset=.620 class=q63 /><stop offset=.674 class=q61 /><stop offset=.685 class=q65 /><stop offset=.707 class=q73 /><stop offset=.728 class=q8a /><stop offset=.739 class=q99 /><stop offset=.750 class=q72 /><stop offset=.761 class=q45 /><stop offset=.772 class=q2a /><stop offset=.804 class=q1b /><stop offset=.880 class=q18 /><stop offset=.989 class=q19 /><stop offset=1.000 class=q12 /></linearGradient><linearGradient id="g155" x2="0" y2="1"><stop offset=.000 class=q30 /><stop offset=.043 class=q30 /><stop offset=.120 class=q3c /><stop offset=.196 class=q4f /><stop offset=.250 class=q61 /><stop offset=.283 class=q6e /><stop offset=.304 class=q7b /><stop offset=.326 class=q8b /><stop offset=.348 class=qa1 /><stop offset=.370 class=qca /><stop offset=.380 class=qe7 /><stop offset=.391 class=qe5 /><stop offset=.413 class=qb8 /><stop offset=.424 class=qa5 /><stop offset=.446 class=q92 /><stop offset=.457 class=q8b /><stop offset=.478 class=q81 /><stop offset=.543 class=q6c /><stop offset=.587 class=q66 /><stop offset=.620 class=q63 /><stop offset=.674 class=q61 /><stop offset=.685 class=q65 /><stop offset=.707 class=q73 /><stop offset=.728 class=q8a /><stop offset=.739 class=q99 /><stop offset=.750 class=q72 /><stop offset=.761 class=q45 /><stop offset=.772 class=q2a /><stop offset=.804 class=q1b /><stop offset=.880 class=q18 /><stop offset=.978 class=q19 /><stop offset=.989 class=q17 /><stop offset=1.000 class=q12 /></linearGradient><linearGradient id="g156" x2="0" y2="1"><stop offset=.000 class=q30 /><stop offset=.043 class=q30 /><stop offset=.120 class=q3c /><stop offset=.196 class=q4f /><stop offset=.250 class=q61 /><stop offset=.283 class=q6e /><stop offset=.304 class=q7b /><stop offset=.326 class=q8b /><stop offset=.348 class=qa1 /><stop offset=.370 class=qca /><stop offset=.380 class=qe7 /><stop offset=.391 class=qe5 /><stop offset=.413 class=qb8 /><stop offset=.424 class=qa5 /><stop offset=.446 class=q92 /><stop offset=.457 class=q8b /><stop offset=.478 class=q81 /><stop offset=.543 class=q6c /><stop offset=.587 class=q66 /><stop offset=.620 class=q63 /><stop offset=.674 class=q61 /><stop offset=.685 class=q65 /><stop offset=.707 class=q73 /><stop offset=.728 class=q8a /><stop offset=.739 class=q99 /><stop offset=.750 class=q72 /><stop offset=.761 class=q45 /><stop offset=.772 class=q2a /><stop offset=.783 class=q24 /><stop offset=.804 class=q1c /><stop offset=.815 class=q1a /><stop offset=.935 class=q19 /><stop offset=.978 class=q12 /><stop offset=1.000 class=q12 /></linearGradient><linearGradient id="g157" x2="0" y2="1"><stop offset=.000 class=q30 /><stop offset=.043 class=q30 /><stop offset=.120 class=q3c /><stop offset=.196 class=q4f /><stop offset=.250 class=q61 /><stop offset=.283 class=q6e /><stop offset=.304 class=q7b /><stop offset=.326 class=q8b /><stop offset=.348 class=qa1 /><stop offset=.370 class=qca /><stop offset=.380 class=qe7 /><stop offset=.391 class=qe5 /><stop offset=.413 class=qb8 /><stop offset=.424 class=qa5 /><stop offset=.446 class=q92 /><stop offset=.457 class=q8b /><stop offset=.478 class=q81 /><stop offset=.543 class=q6c /><stop offset=.587 class=q66 /><stop offset=.620 class=q63 /><stop offset=.674 class=q61 /><stop offset=.685 class=q65 /><stop offset=.707 class=q73 /><stop offset=.728 class=q8a /><stop offset=.739 class=q99 /><stop offset=.750 class=q72 /><stop offset=.761 class=q45 /><stop offset=.772 class=q2b /><stop offset=.804 class=q1c /><stop offset=.826 class=q1a /><stop offset=.891 class=q19 /><stop offset=.935 class=q12 /><stop offset=1.000 class=q12 /></linearGradient><linearGradient id="g158" x2="0" y2="1"><stop offset=.000 class=q30 /><stop offset=.043 class=q30 /><stop offset=.120 class=q3c /><stop offset=.196 class=q4f /><stop offset=.250 class=q61 /><stop offset=.283 class=q6e /><stop offset=.304 class=q7b /><stop offset=.326 class=q8b /><stop offset=.348 class=qa1 /><stop offset=.370 class=qca /><stop offset=.380 class=qe7 /><stop offset=.391 class=qe5 /><stop offset=.413 class=qb8 /><stop offset=.424 class=qa5 /><stop offset=.446 class=q92 /><stop offset=.457 class=q8b /><stop offset=.478 class=q81 /><stop offset=.543 class=q6c /><stop offset=.587 class=q66 /><stop offset=.620 class=q63 /><stop offset=.674 class=q61 /><stop offset=.685 class=q65 /><stop offset=.707 class=q73 /><stop offset=.728 class=q8a /><stop offset=.739 class=q99 /><stop offset=.750 class=q72 /><stop offset=.761 class=q45 /><stop offset=.772 class=q2b /><stop offset=.783 class=q25 /><stop offset=.804 class=q1d /><stop offset=.815 class=q1b /><stop offset=.848 class=q1a /><stop offset=.891 class=q12 /><stop offset=1.000 class=q12 /></linearGradient><linearGradient id="g159" x2="0" y2="1"><stop offset=.000 class=q30 /><stop offset=.043 class=q30 /><stop offset=.120 class=q3c /><stop offset=.196 class=q4f /><stop offset=.250 class=q61 /><stop offset=.283 class=q6e /><stop offset=.304 class=q7b /><stop offset=.326 class=q8b /><stop offset=.348 class=qa1 /><stop offset=.370 class=qca /><stop offset=.380 class=qe7 /><stop offset=.391 class=qe5 /><stop offset=.413 class=qb8 /><stop offset=.424 class=qa5 /><stop offset=.446 class=q92 /><stop offset=.457 class=q8b /><stop offset=.478 class=q81 /><stop offset=.543 class=q6c /><stop offset=.587 class=q66 /><stop offset=.620 class=q63 /><stop offset=.674 class=q61 /><stop offset=.685 class=q65 /><stop offset=.707 class=q73 /><stop offset=.728 class=q8a /><stop offset=.739 class=q99 /><stop offset=.750 class=q72 /><stop offset=.761 class=q45 /><stop offset=.772 class=q2b /><stop offset=.783 class=q25 /><stop offset=.804 class=q1d /><stop offset=.848 class=q13 /><stop offset=1.000 class=q12 /></linearGradient><linearGradient id="g160" x2="0" y2="1"><stop offset=.000 class=q30 /><stop offset=.043 class=q30 /><stop offset=.120 class=q3c /><stop offset=.196 class=q4f /><stop offset=.250 class=q61 /><stop offset=.283 class=q6e /><stop offset=.304 class=q7b /><stop offset=.326 class=q8b /><stop offset=.348 class=qa1 /><stop offset=.370 class=qca /><stop offset=.380 class=qe7 /><stop offset=.391 class=qe5 /><stop offset=.413 class=qb8 /><stop offset=.424 class=qa5 /><stop offset=.446 class=q92 /><stop offset=.457 class=q8b /><stop offset=.478 class=q81 /><stop offset=.543 class=q6c /><stop offset=.587 class=q66 /><stop offset=.620 class=q63 /><stop offset=.674 class=q61 /><stop offset=.685 class=q65 /><stop offset=.707 class=q73 /><stop offset=.728 class=q8a /><stop offset=.739 class=q99 /><stop offset=.750 class=q7a /><stop offset=.761 class=q45 /><stop offset=.772 class=q2b /><stop offset=.783 class=q26 /><stop offset=.793 class=q1e /><stop offset=.815 class=q14 /><stop offset=.870 class=q12 /><stop offset=1.000 class=q12 /></linearGradient><linearGradient id="g161" x2="0" y2="1"><stop offset=.000 class=q30 /><stop offset=.043 class=q30 /><stop offset=.120 class=q3c /><stop offset=.196 class=q4f /><stop offset=.250 class=q61 /><stop offset=.283 class=q6e /><stop offset=.304 class=q7b /><stop offset=.326 class=q8b /><stop offset=.348 class=qa1 /><stop offset=.370 class=qca /><stop offset=.380 class=qe7 /><stop offset=.391 class=qe5 /><stop offset=.413 class=qb8 /><stop offset=.424 class=qa5 /><stop offset=.446 class=q92 /><stop offset=.457 class=q8b /><stop offset=.489 class=q7d /><stop offset=.533 class=q70 /><stop offset=.543 class=q6c /><stop offset=.587 class=q66 /><stop offset=.663 class=q61 /><stop offset=.674 class=q61 /><stop offset=.685 class=q65 /><stop offset=.707 class=q73 /><stop offset=.728 class=q8a /><stop offset=.739 class=qa7 /><stop offset=.750 class=q7b /><stop offset=.761 class=q44 /><stop offset=.772 class=q2a /><stop offset=.783 class=q20 /><stop offset=.804 class=q16 /><stop offset=.815 class=q14 /><stop offset=.870 class=q12 /><stop offset=1.000 class=q12 /></linearGradient><linearGradient id="g162" x2="0" y2="1"><stop offset=.000 class=q30 /><stop offset=.043 class=q30 /><stop offset=.120 class=q3c /><stop offset=.196 class=q4f /><stop offset=.250 class=q61 /><stop offset=.283 class=q6e /><stop offset=.304 class=q7b /><stop offset=.326 class=q8b /><stop offset=.348 class=qa1 /><stop offset=.370 class=qca /><stop offset=.380 class=qe7 /><stop offset=.391 class=qe5 /><stop offset=.413 class=qb8 /><stop offset=.424 class=qa5 /><stop offset=.446 class=q92 /><stop offset=.457 class=q8b /><stop offset=.489 class=q7d /><stop offset=.533 class=q70 /><stop offset=.543 class=q6c /><stop offset=.587 class=q66 /><stop offset=.663 class=q61 /><stop offset=.674 class=q61 /><stop offset=.685 class=q65 /><stop offset=.696 class=q6b /><stop offset=.717 class=q8d /><stop offset=.728 class=qa2 /><stop offset=.739 class=qa7 /><stop offset=.750 class=q78 /><stop offset=.761 class=q43 /><stop offset=.772 class=q27 /><stop offset=.783 class=q20 /><stop offset=.804 class=q16 /><stop offset=.815 class=q14 /><stop offset=.870 class=q12 /><stop offset=1.000 class=q12 /></linearGradient><linearGradient id="g163" x2="0" y2="1"><stop offset=.000 class=q30 /><stop offset=.043 class=q30 /><stop offset=.120 class=q3c /><stop offset=.196 class=q4f /><stop offset=.250 class=q61 /><stop offset=.283 class=q6e /><stop offset=.304 class=q7b /><stop offset=.326 class=q8b /><stop offset=.348 class=qa1 /><stop offset=.370 class=qca /><stop offset=.380 class=qe7 /><stop offset=.391 class=qe5 /><stop offset=.413 class=qb8 /><stop offset=.424 class=qa5 /><stop offset=.446 class=q92 /><stop offset=.457 class=q8b /><stop offset=.489 class=q7d /><stop offset=.533 class=q70 /><stop offset=.543 class=q6c /><stop offset=.587 class=q66 /><stop offset=.663 class=q61 /><stop offset=.685 class=q75 /><stop offset=.696 class=q89 /><stop offset=.707 class=q8c /><stop offset=.728 class=q99 /><stop offset=.739 class=qa2 /><stop offset=.750 class=q76 /><stop offset=.761 class=q41 /><stop offset=.772 class=q27 /><stop offset=.783 class=q1f /><stop offset=.804 class=q16 /><stop offset=.815 class=q14 /><stop offset=.870 class=q12 /><stop offset=1.000 class=q12 /></linearGradient><linearGradient id="g164" x2="0" y2="1"><stop offset=.000 class=q30 /><stop offset=.043 class=q30 /><stop offset=.120 class=q3c /><stop offset=.196 class=q4f /><stop offset=.250 class=q61 /><stop offset=.283 class=q6e /><stop offset=.304 class=q7b /><stop offset=.326 class=q8b /><stop offset=.348 class=qa1 /><stop offset=.370 class=qca /><stop offset=.380 class=qe7 /><stop offset=.391 class=qe5 /><stop offset=.413 class=qb8 /><stop offset=.424 class=qa5 /><stop offset=.446 class=q92 /><stop offset=.457 class=q8b /><stop offset=.478 class=q81 /><stop offset=.522 class=q73 /><stop offset=.554 class=q6a /><stop offset=.598 class=q65 /><stop offset=.641 class=q62 /><stop offset=.652 class=q72 /><stop offset=.674 class=q7c /><stop offset=.685 class=q7b /><stop offset=.707 class=q83 /><stop offset=.739 class=q9e /><stop offset=.750 class=q75 /><stop offset=.761 class=q40 /><stop offset=.772 class=q26 /><stop offset=.783 class=q1f /><stop offset=.804 class=q16 /><stop offset=.815 class=q14 /><stop offset=.870 class=q12 /><stop offset=1.000 class=q12 /></linearGradient><linearGradient id="g165" x2="0" y2="1"><stop offset=.000 class=q30 /><stop offset=.043 class=q30 /><stop offset=.120 class=q3c /><stop offset=.196 class=q4f /><stop offset=.250 class=q61 /><stop offset=.283 class=q6e /><stop offset=.304 class=q7b /><stop offset=.326 class=q8b /><stop offset=.348 class=qa1 /><stop offset=.370 class=qca /><stop offset=.380 class=qe7 /><stop offset=.391 class=qe5 /><stop offset=.413 class=qb8 /><stop offset=.424 class=qa5 /><stop offset=.435 class=q9b /><stop offset=.457 class=q8b /><stop offset=.489 class=q7d /><stop offset=.543 class=q6c /><stop offset=.598 class=q65 /><stop offset=.609 class=q6d /><stop offset=.630 class=q79 /><stop offset=.641 class=q7d /><stop offset=.674 class=q71 /><stop offset=.696 class=q76 /><stop offset=.717 class=q86 /><stop offset=.739 class=q9c /><stop offset=.750 class=q74 /><stop offset=.761 class=q40 /><stop offset=.772 class=q26 /><stop offset=.783 class=q1f /><stop offset=.804 class=q16 /><stop offset=.815 class=q14 /><stop offset=.870 class=q12 /><stop offset=1.000 class=q12 /></linearGradient><linearGradient id="g166" x2="0" y2="1"><stop offset=.000 class=q30 /><stop offset=.043 class=q30 /><stop offset=.130 class=q3e /><stop offset=.196 class=q4f /><stop offset=.250 class=q61 /><stop offset=.283 class=q6e /><stop offset=.304 class=q7b /><stop offset=.326 class=q8b /><stop offset=.348 class=qa1 /><stop offset=.370 class=qc9 /><stop offset=.380 class=qe6 /><stop offset=.391 class=qe5 /><stop offset=.413 class=qb8 /><stop offset=.424 class=qa5 /><stop offset=.435 class=q9b /><stop offset=.457 class=q8b /><stop offset=.478 class=q81 /><stop offset=.543 class=q6c /><stop offset=.565 class=q69 /><stop offset=.587 class=q75 /><stop offset=.609 class=q7c /><stop offset=.630 class=q74 /><stop offset=.652 class=q6e /><stop offset=.674 class=q6a /><stop offset=.685 class=q6d /><stop offset=.696 class=q71 /><stop offset=.707 class=q79 /><stop offset=.728 class=q8d /><stop offset=.739 class=q9a /><stop offset=.750 class=q77 /><stop offset=.761 class=q44 /><stop offset=.772 class=q29 /><stop offset=.783 class=q20 /><stop offset=.804 class=q16 /><stop offset=.826 class=q13 /><stop offset=1.000 class=q12 /></linearGradient><linearGradient id="g167" x2="0" y2="1"><stop offset=.000 class=q30 /><stop offset=.043 class=q30 /><stop offset=.120 class=q3b /><stop offset=.196 class=q4f /><stop offset=.250 class=q61 /><stop offset=.283 class=q6e /><stop offset=.315 class=q83 /><stop offset=.326 class=q8b /><stop offset=.348 class=q9f /><stop offset=.359 class=qb1 /><stop offset=.370 class=qc7 /><stop offset=.380 class=qe5 /><stop offset=.391 class=qe5 /><stop offset=.413 class=qb8 /><stop offset=.424 class=qa5 /><stop offset=.435 class=q9b /><stop offset=.457 class=q8b /><stop offset=.478 class=q81 /><stop offset=.522 class=q73 /><stop offset=.565 class=q81 /><stop offset=.587 class=q77 /><stop offset=.609 class=q70 /><stop offset=.674 class=q65 /><stop offset=.696 class=q6e /><stop offset=.707 class=q76 /><stop offset=.728 class=q8c /><stop offset=.739 class=q99 /><stop offset=.750 class=q81 /><stop offset=.761 class=q4f /><stop offset=.772 class=q2f /><stop offset=.783 class=q22 /><stop offset=.793 class=q1a /><stop offset=.815 class=q12 /><stop offset=1.000 class=q11 /></linearGradient><linearGradient id="g168" x2="0" y2="1"><stop offset=.000 class=q30 /><stop offset=.043 class=q30 /><stop offset=.087 class=q34 /><stop offset=.120 class=q3a /><stop offset=.196 class=q4f /><stop offset=.250 class=q61 /><stop offset=.283 class=q6e /><stop offset=.304 class=q7b /><stop offset=.337 class=q94 /><stop offset=.348 class=q9d /><stop offset=.359 class=qae /><stop offset=.370 class=qc5 /><stop offset=.380 class=qe5 /><stop offset=.391 class=qe5 /><stop offset=.413 class=qb8 /><stop offset=.424 class=qa5 /><stop offset=.435 class=q9b /><stop offset=.457 class=q8b /><stop offset=.478 class=q81 /><stop offset=.489 class=q8d /><stop offset=.511 class=q92 /><stop offset=.533 class=q83 /><stop offset=.554 class=q77 /><stop offset=.565 class=q73 /><stop offset=.609 class=q69 /><stop offset=.663 class=q63 /><stop offset=.674 class=q63 /><stop offset=.685 class=q66 /><stop offset=.696 class=q6c /><stop offset=.707 class=q75 /><stop offset=.728 class=q8b /><stop offset=.739 class=q98 /><stop offset=.750 class=q8b /><stop offset=.761 class=q5b /><stop offset=.772 class=q35 /><stop offset=.783 class=q24 /><stop offset=.793 class=q1a /><stop offset=.804 class=q14 /><stop offset=.815 class=q11 /><stop offset=1.000 class=q11 /></linearGradient><linearGradient id="g169" x2="0" y2="1"><stop offset=.000 class=q30 /><stop offset=.065 class=q31 /><stop offset=.087 class=q33 /><stop offset=.120 class=q39 /><stop offset=.196 class=q4f /><stop offset=.250 class=q61 /><stop offset=.283 class=q6e /><stop offset=.304 class=q7b /><stop offset=.337 class=q93 /><stop offset=.348 class=q9c /><stop offset=.359 class=qaa /><stop offset=.370 class=qc2 /><stop offset=.380 class=qe4 /><stop offset=.391 class=qe5 /><stop offset=.413 class=qb8 /><stop offset=.424 class=qa5 /><stop offset=.435 class=q9b /><stop offset=.446 class=q9a /><stop offset=.467 class=q9c /><stop offset=.478 class=q9b /><stop offset=.511 class=q86 /><stop offset=.543 class=q75 /><stop offset=.576 class=q6a /><stop offset=.620 class=q65 /><stop offset=.674 class=q61 /><stop offset=.685 class=q65 /><stop offset=.696 class=q6b /><stop offset=.707 class=q74 /><stop offset=.728 class=q8b /><stop offset=.739 class=q98 /><stop offset=.750 class=q95 /><stop offset=.761 class=q66 /><stop offset=.772 class=q3b /><stop offset=.783 class=q26 /><stop offset=.793 class=q1a /><stop offset=.804 class=q13 /><stop offset=.815 class=qf /><stop offset=.870 class=q11 /><stop offset=1.000 class=q11 /></linearGradient><linearGradient id="g170" x2="0" y2="1"><stop offset=.000 class=q30 /><stop offset=.076 class=q31 /><stop offset=.120 class=q38 /><stop offset=.250 class=q61 /><stop offset=.283 class=q6e /><stop offset=.293 class=q74 /><stop offset=.348 class=q9d /><stop offset=.359 class=qa9 /><stop offset=.370 class=qc0 /><stop offset=.380 class=qe2 /><stop offset=.391 class=qe4 /><stop offset=.413 class=qb8 /><stop offset=.424 class=qac /><stop offset=.435 class=qb1 /><stop offset=.446 class=qad /><stop offset=.457 class=qa2 /><stop offset=.489 class=q8b /><stop offset=.533 class=q76 /><stop offset=.565 class=q69 /><stop offset=.576 class=q67 /><stop offset=.663 class=q61 /><stop offset=.674 class=q61 /><stop offset=.685 class=q65 /><stop offset=.696 class=q6b /><stop offset=.707 class=q74 /><stop offset=.728 class=q8a /><stop offset=.739 class=q97 /><stop offset=.750 class=q9f /><stop offset=.772 class=q41 /><stop offset=.783 class=q27 /><stop offset=.793 class=q1a /><stop offset=.804 class=q12 /><stop offset=.815 class=qe /><stop offset=.880 class=q11 /><stop offset=1.000 class=q11 /></linearGradient><linearGradient id="g171" x2="0" y2="1"><stop offset=.000 class=q30 /><stop offset=.076 class=q30 /><stop offset=.120 class=q38 /><stop offset=.250 class=q61 /><stop offset=.283 class=q6e /><stop offset=.293 class=q75 /><stop offset=.337 class=qa1 /><stop offset=.359 class=qb0 /><stop offset=.370 class=qbf /><stop offset=.380 class=qdc /><stop offset=.391 class=qe1 /><stop offset=.402 class=qd4 /><stop offset=.413 class=qce /><stop offset=.424 class=qbc /><stop offset=.446 class=qa4 /><stop offset=.457 class=q9b /><stop offset=.478 class=q8c /><stop offset=.511 class=q7d /><stop offset=.565 class=q67 /><stop offset=.576 class=q66 /><stop offset=.674 class=q60 /><stop offset=.696 class=q6b /><stop offset=.707 class=q74 /><stop offset=.728 class=q8a /><stop offset=.750 class=qa4 /><stop offset=.761 class=q76 /><stop offset=.772 class=q44 /><stop offset=.783 class=q28 /><stop offset=.793 class=q1a /><stop offset=.804 class=q12 /><stop offset=.815 class=qd /><stop offset=.891 class=q11 /><stop offset=1.000 class=q11 /></linearGradient><linearGradient id="g172" x2="0" y2="1"><stop offset=.000 class=q30 /><stop offset=.076 class=q30 /><stop offset=.120 class=q38 /><stop offset=.250 class=q61 /><stop offset=.283 class=q6f /><stop offset=.293 class=q76 /><stop offset=.304 class=q81 /><stop offset=.326 class=q9e /><stop offset=.337 class=qab /><stop offset=.348 class=qb2 /><stop offset=.359 class=qb6 /><stop offset=.370 class=qbf /><stop offset=.380 class=qd8 /><stop offset=.391 class=qe4 /><stop offset=.413 class=qc8 /><stop offset=.424 class=qb6 /><stop offset=.446 class=q9f /><stop offset=.478 class=q89 /><stop offset=.489 class=q84 /><stop offset=.565 class=q67 /><stop offset=.587 class=q64 /><stop offset=.674 class=q60 /><stop offset=.685 class=q64 /><stop offset=.707 class=q74 /><stop offset=.728 class=q8a /><stop offset=.750 class=qa4 /><stop offset=.761 class=q76 /><stop offset=.772 class=q44 /><stop offset=.783 class=q28 /><stop offset=.793 class=q1a /><stop offset=.804 class=q12 /><stop offset=.815 class=qd /><stop offset=.891 class=q11 /><stop offset=1.000 class=q11 /></linearGradient><linearGradient id="g173" x2="0" y2="1"><stop offset=.000 class=q30 /><stop offset=.076 class=q30 /><stop offset=.120 class=q38 /><stop offset=.250 class=q61 /><stop offset=.283 class=q6e /><stop offset=.293 class=q75 /><stop offset=.337 class=q9e /><stop offset=.348 class=qa5 /><stop offset=.359 class=qae /><stop offset=.370 class=qbf /><stop offset=.380 class=qdf /><stop offset=.391 class=qe6 /><stop offset=.413 class=qc7 /><stop offset=.424 class=qb5 /><stop offset=.446 class=q9e /><stop offset=.467 class=q8f /><stop offset=.500 class=q7f /><stop offset=.565 class=q67 /><stop offset=.587 class=q64 /><stop offset=.674 class=q60 /><stop offset=.685 class=q64 /><stop offset=.707 class=q74 /><stop offset=.728 class=q8a /><stop offset=.750 class=qa4 /><stop offset=.761 class=q76 /><stop offset=.772 class=q44 /><stop offset=.783 class=q28 /><stop offset=.793 class=q1a /><stop offset=.804 class=q12 /><stop offset=.815 class=qd /><stop offset=.891 class=q11 /><stop offset=1.000 class=q11 /></linearGradient><linearGradient id="g174" x2="0" y2="1"><stop offset=.000 class=q30 /><stop offset=.076 class=q30 /><stop offset=.120 class=q38 /><stop offset=.250 class=q61 /><stop offset=.261 class=q66 /><stop offset=.283 class=q77 /><stop offset=.304 class=q7d /><stop offset=.348 class=q9b /><stop offset=.359 class=qa7 /><stop offset=.370 class=qbf /><stop offset=.380 class=qe3 /><stop offset=.391 class=qe9 /><stop offset=.424 class=qb5 /><stop offset=.446 class=q9e /><stop offset=.467 class=q8f /><stop offset=.500 class=q7f /><stop offset=.554 class=q6a /><stop offset=.576 class=q65 /><stop offset=.587 class=q64 /><stop offset=.674 class=q60 /><stop offset=.685 class=q64 /><stop offset=.707 class=q74 /><stop offset=.728 class=q8a /><stop offset=.750 class=qa4 /><stop offset=.761 class=q76 /><stop offset=.772 class=q44 /><stop offset=.783 class=q28 /><stop offset=.793 class=q1a /><stop offset=.804 class=q12 /><stop offset=.815 class=qd /><stop offset=.891 class=q11 /><stop offset=1.000 class=q11 /></linearGradient><linearGradient id="g175" x2="0" y2="1"><stop offset=.000 class=q30 /><stop offset=.076 class=q30 /><stop offset=.130 class=q3b /><stop offset=.207 class=q53 /><stop offset=.228 class=q5a /><stop offset=.239 class=q62 /><stop offset=.250 class=q6f /><stop offset=.261 class=q76 /><stop offset=.293 class=q78 /><stop offset=.304 class=q7d /><stop offset=.348 class=q99 /><stop offset=.359 class=qa6 /><stop offset=.370 class=qbf /><stop offset=.380 class=qe4 /><stop offset=.391 class=qe9 /><stop offset=.424 class=qb5 /><stop offset=.446 class=q9e /><stop offset=.467 class=q8f /><stop offset=.500 class=q7f /><stop offset=.554 class=q6a /><stop offset=.576 class=q65 /><stop offset=.587 class=q64 /><stop offset=.674 class=q60 /><stop offset=.685 class=q64 /><stop offset=.707 class=q74 /><stop offset=.728 class=q8a /><stop offset=.750 class=qa4 /><stop offset=.761 class=q76 /><stop offset=.772 class=q44 /><stop offset=.783 class=q28 /><stop offset=.793 class=q1a /><stop offset=.804 class=q12 /><stop offset=.815 class=qd /><stop offset=.891 class=q11 /><stop offset=1.000 class=q11 /></linearGradient><linearGradient id="g176" x2="0" y2="1"><stop offset=.000 class=q30 /><stop offset=.076 class=q30 /><stop offset=.130 class=q3b /><stop offset=.196 class=q4f /><stop offset=.207 class=q5d /><stop offset=.228 class=q6b /><stop offset=.261 class=q72 /><stop offset=.283 class=q74 /><stop offset=.304 class=q7c /><stop offset=.348 class=q99 /><stop offset=.359 class=qa6 /><stop offset=.370 class=qbf /><stop offset=.380 class=qe4 /><stop offset=.391 class=qe9 /><stop offset=.424 class=qb5 /><stop offset=.446 class=q9e /><stop offset=.467 class=q8f /><stop offset=.500 class=q7f /><stop offset=.565 class=q67 /><stop offset=.587 class=q64 /><stop offset=.674 class=q60 /><stop offset=.685 class=q64 /><stop offset=.707 class=q74 /><stop offset=.728 class=q8a /><stop offset=.750 class=qa4 /><stop offset=.761 class=q76 /><stop offset=.772 class=q44 /><stop offset=.783 class=q28 /><stop offset=.793 class=q1a /><stop offset=.804 class=q12 /><stop offset=.815 class=qd /><stop offset=.891 class=q11 /><stop offset=1.000 class=q11 /></linearGradient><linearGradient id="g177" x2="0" y2="1"><stop offset=.000 class=q30 /><stop offset=.076 class=q30 /><stop offset=.130 class=q3b /><stop offset=.152 class=q42 /><stop offset=.196 class=q60 /><stop offset=.228 class=q66 /><stop offset=.293 class=q76 /><stop offset=.337 class=q91 /><stop offset=.348 class=q99 /><stop offset=.359 class=qa6 /><stop offset=.370 class=qbf /><stop offset=.380 class=qe4 /><stop offset=.391 class=qe9 /><stop offset=.424 class=qb5 /><stop offset=.446 class=q9e /><stop offset=.467 class=q8f /><stop offset=.500 class=q7f /><stop offset=.565 class=q67 /><stop offset=.587 class=q64 /><stop offset=.674 class=q60 /><stop offset=.685 class=q64 /><stop offset=.707 class=q74 /><stop offset=.728 class=q8a /><stop offset=.750 class=qa4 /><stop offset=.761 class=q76 /><stop offset=.772 class=q44 /><stop offset=.783 class=q28 /><stop offset=.793 class=q1a /><stop offset=.804 class=q12 /><stop offset=.815 class=qd /><stop offset=.891 class=q11 /><stop offset=1.000 class=q11 /></linearGradient><linearGradient id="g178" x2="0" y2="1"><stop offset=.000 class=q30 /><stop offset=.076 class=q30 /><stop offset=.120 class=q38 /><stop offset=.163 class=q56 /><stop offset=.185 class=q59 /><stop offset=.217 class=q60 /><stop offset=.293 class=q75 /><stop offset=.348 class=q99 /><stop offset=.359 class=qa6 /><stop offset=.370 class=qbf /><stop offset=.380 class=qe4 /><stop offset=.391 class=qe9 /><stop offset=.424 class=qb5 /><stop offset=.446 class=q9e /><stop offset=.467 class=q8f /><stop offset=.500 class=q7f /><stop offset=.565 class=q67 /><stop offset=.587 class=q64 /><stop offset=.674 class=q60 /><stop offset=.685 class=q64 /><stop offset=.707 class=q74 /><stop offset=.728 class=q8a /><stop offset=.750 class=qa4 /><stop offset=.761 class=q76 /><stop offset=.772 class=q44 /><stop offset=.783 class=q28 /><stop offset=.793 class=q1a /><stop offset=.804 class=q12 /><stop offset=.815 class=qd /><stop offset=.891 class=q11 /><stop offset=1.000 class=q11 /></linearGradient><linearGradient id="g179" x2="0" y2="1"><stop offset=.000 class=q30 /><stop offset=.076 class=q30 /><stop offset=.087 class=q32 /><stop offset=.098 class=q39 /><stop offset=.109 class=q44 /><stop offset=.120 class=q4a /><stop offset=.196 class=q58 /><stop offset=.283 class=q70 /><stop offset=.293 class=q75 /><stop offset=.337 class=q91 /><stop offset=.348 class=q99 /><stop offset=.359 class=qa6 /><stop offset=.370 class=qbf /><stop offset=.380 class=qe4 /><stop offset=.391 class=qe9 /><stop offset=.424 class=qb5 /><stop offset=.446 class=q9e /><stop offset=.467 class=q8f /><stop offset=.500 class=q7f /><stop offset=.565 class=q67 /><stop offset=.587 class=q64 /><stop offset=.674 class=q60 /><stop offset=.685 class=q64 /><stop offset=.707 class=q74 /><stop offset=.728 class=q8a /><stop offset=.750 class=qa4 /><stop offset=.761 class=q76 /><stop offset=.772 class=q44 /><stop offset=.783 class=q28 /><stop offset=.793 class=q1a /><stop offset=.804 class=q12 /><stop offset=.815 class=qd /><stop offset=.891 class=q11 /><stop offset=1.000 class=q11 /></linearGradient><linearGradient id="g180" x2="0" y2="1"><stop offset=.000 class=q30 /><stop offset=.054 class=q30 /><stop offset=.065 class=q3a /><stop offset=.087 class=q43 /><stop offset=.120 class=q45 /><stop offset=.152 class=q4b /><stop offset=.207 class=q59 /><stop offset=.272 class=q6c /><stop offset=.293 class=q75 /><stop offset=.337 class=q91 /><stop offset=.348 class=q99 /><stop offset=.359 class=qa6 /><stop offset=.370 class=qbf /><stop offset=.380 class=qe4 /><stop offset=.391 class=qe9 /><stop offset=.424 class=qb5 /><stop offset=.446 class=q9e /><stop offset=.467 class=q8f /><stop offset=.500 class=q7f /><stop offset=.565 class=q67 /><stop offset=.587 class=q64 /><stop offset=.674 class=q60 /><stop offset=.685 class=q64 /><stop offset=.707 class=q74 /><stop offset=.728 class=q8a /><stop offset=.750 class=qa4 /><stop offset=.761 class=q76 /><stop offset=.772 class=q44 /><stop offset=.783 class=q28 /><stop offset=.793 class=q1a /><stop offset=.804 class=q12 /><stop offset=.815 class=qd /><stop offset=.891 class=q11 /><stop offset=1.000 class=q11 /></linearGradient><linearGradient id="g181" x2="0" y2="1"><stop offset=.000 class=q30 /><stop offset=.011 class=q30 /><stop offset=.033 class=q3a /><stop offset=.054 class=q41 /><stop offset=.076 class=q3e /><stop offset=.120 class=q41 /><stop offset=.163 class=q4b /><stop offset=.250 class=q64 /><stop offset=.293 class=q74 /><stop offset=.348 class=q99 /><stop offset=.359 class=qa6 /><stop offset=.370 class=qbf /><stop offset=.380 class=qe4 /><stop offset=.391 class=qe9 /><stop offset=.424 class=qb5 /><stop offset=.446 class=q9e /><stop offset=.467 class=q8f /><stop offset=.500 class=q7f /><stop offset=.565 class=q67 /><stop offset=.587 class=q64 /><stop offset=.674 class=q60 /><stop offset=.685 class=q64 /><stop offset=.707 class=q74 /><stop offset=.728 class=q8a /><stop offset=.750 class=qa4 /><stop offset=.761 class=q76 /><stop offset=.772 class=q44 /><stop offset=.783 class=q28 /><stop offset=.793 class=q1a /><stop offset=.804 class=q12 /><stop offset=.815 class=qd /><stop offset=.891 class=q11 /><stop offset=1.000 class=q11 /></linearGradient><linearGradient id="g182" x2="0" y2="1"><stop offset=.000 class=q30 /><stop offset=.011 class=q43 /><stop offset=.076 class=q3b /><stop offset=.120 class=q3f /><stop offset=.217 class=q59 /><stop offset=.250 class=q63 /><stop offset=.293 class=q74 /><stop offset=.348 class=q99 /><stop offset=.359 class=qa6 /><stop offset=.370 class=qbf /><stop offset=.380 class=qe4 /><stop offset=.391 class=qe9 /><stop offset=.424 class=qb5 /><stop offset=.446 class=q9e /><stop offset=.467 class=q8f /><stop offset=.500 class=q7f /><stop offset=.565 class=q67 /><stop offset=.587 class=q64 /><stop offset=.674 class=q60 /><stop offset=.685 class=q64 /><stop offset=.707 class=q74 /><stop offset=.728 class=q8a /><stop offset=.750 class=qa4 /><stop offset=.761 class=q76 /><stop offset=.772 class=q44 /><stop offset=.783 class=q28 /><stop offset=.793 class=q1a /><stop offset=.804 class=q12 /><stop offset=.815 class=qd /><stop offset=.891 class=q11 /><stop offset=1.000 class=q11 /></linearGradient><linearGradient id="g183" x2="0" y2="1"><stop offset=.000 class=q30 /><stop offset=.011 class=q43 /><stop offset=.076 class=q3b /><stop offset=.098 class=q3c /><stop offset=.141 class=q44 /><stop offset=.250 class=q63 /><stop offset=.293 class=q74 /><stop offset=.348 class=q99 /><stop offset=.359 class=qa6 /><stop offset=.370 class=qbf /><stop offset=.380 class=qe4 /><stop offset=.391 class=qe9 /><stop offset=.424 class=qb5 /><stop offset=.446 class=q9e /><stop offset=.467 class=q8f /><stop offset=.500 class=q7f /><stop offset=.565 class=q67 /><stop offset=.587 class=q64 /><stop offset=.674 class=q60 /><stop offset=.685 class=q64 /><stop offset=.707 class=q74 /><stop offset=.728 class=q8a /><stop offset=.750 class=qa4 /><stop offset=.761 class=q76 /><stop offset=.772 class=q44 /><stop offset=.783 class=q28 /><stop offset=.793 class=q1a /><stop offset=.804 class=q12 /><stop offset=.815 class=qd /><stop offset=.891 class=q11 /><stop offset=1.000 class=q11 /></linearGradient><clipPath id="clip6"><rect x="240.4" y="375.0" width="116.30" height="92.00"/></clipPath><filter id="cm6" x="236.4" y="374.0" width="124.29999999999998" height="94.0" filterUnits="userSpaceOnUse" color-interpolation-filters="sRGB"><feGaussianBlur stdDeviation="1.6 0"/><feComponentTransfer><feFuncR type="table" tableValues="0.5000 1.0000 1.0000 1.0000 0.5000 0.0000 0.0000 0.0000 0.0000"/><feFuncG type="table" tableValues="0.0000 0.0000 0.5000 1.0000 1.0000 1.0000 0.5000 0.0000 0.0000"/><feFuncB type="table" tableValues="0.0000 0.0000 0.0000 0.0000 0.5000 1.0000 1.0000 1.0000 0.5000"/></feComponentTransfer></filter><linearGradient id="g184" x2="0" y2="1"><stop offset=.000 class=q8 /><stop offset=.207 class=q5 /><stop offset=.304 class=q20 /><stop offset=.337 class=q2b /><stop offset=.402 class=q60 /><stop offset=.424 class=q73 /><stop offset=.435 class=q83 /><stop offset=.446 class=q96 /><stop offset=.457 class=qbc /><stop offset=.467 class=qd9 /><stop offset=.478 class=qf2 /><stop offset=.489 class=qcb /><stop offset=.500 class=qaf /><stop offset=.511 class=q9e /><stop offset=.522 class=q91 /><stop offset=.533 class=q85 /><stop offset=.565 class=q73 /><stop offset=.674 class=q73 /><stop offset=.696 class=q85 /><stop offset=.717 class=qa4 /><stop offset=.739 class=qe6 /><stop offset=.750 class=qb9 /><stop offset=.761 class=q97 /><stop offset=.772 class=q85 /><stop offset=.783 class=q78 /><stop offset=.815 class=q59 /><stop offset=.837 class=q46 /><stop offset=.859 class=q36 /><stop offset=.902 class=q28 /><stop offset=.957 class=q23 /><stop offset=.989 class=q24 /><stop offset=1.000 class=q1a /></linearGradient><linearGradient id="g185" x2="0" y2="1"><stop offset=.000 class=q8 /><stop offset=.207 class=q5 /><stop offset=.304 class=q20 /><stop offset=.337 class=q2b /><stop offset=.402 class=q60 /><stop offset=.424 class=q73 /><stop offset=.435 class=q83 /><stop offset=.446 class=q96 /><stop offset=.457 class=qbc /><stop offset=.467 class=qd9 /><stop offset=.478 class=qf2 /><stop offset=.489 class=qcb /><stop offset=.500 class=qaf /><stop offset=.511 class=q9e /><stop offset=.522 class=q91 /><stop offset=.533 class=q85 /><stop offset=.565 class=q73 /><stop offset=.674 class=q73 /><stop offset=.696 class=q85 /><stop offset=.717 class=qa4 /><stop offset=.739 class=qe6 /><stop offset=.750 class=qba /><stop offset=.761 class=q98 /><stop offset=.772 class=q85 /><stop offset=.783 class=q78 /><stop offset=.815 class=q59 /><stop offset=.859 class=q36 /><stop offset=.902 class=q29 /><stop offset=.957 class=q24 /><stop offset=1.000 class=q1a /></linearGradient><linearGradient id="g186" x2="0" y2="1"><stop offset=.000 class=q8 /><stop offset=.207 class=q5 /><stop offset=.304 class=q20 /><stop offset=.337 class=q2b /><stop offset=.402 class=q60 /><stop offset=.424 class=q73 /><stop offset=.435 class=q83 /><stop offset=.446 class=q96 /><stop offset=.457 class=qbc /><stop offset=.467 class=qd9 /><stop offset=.478 class=qf2 /><stop offset=.489 class=qcb /><stop offset=.500 class=qaf /><stop offset=.511 class=q9e /><stop offset=.522 class=q91 /><stop offset=.533 class=q85 /><stop offset=.565 class=q73 /><stop offset=.674 class=q73 /><stop offset=.696 class=q85 /><stop offset=.717 class=qa4 /><stop offset=.739 class=qe6 /><stop offset=.750 class=qba /><stop offset=.761 class=q98 /><stop offset=.772 class=q85 /><stop offset=.793 class=q6e /><stop offset=.815 class=q5b /><stop offset=.837 class=q48 /><stop offset=.859 class=q38 /><stop offset=.902 class=q2b /><stop offset=.924 class=q27 /><stop offset=.946 class=q1f /><stop offset=.967 class=q1b /><stop offset=1.000 class=q1a /></linearGradient><linearGradient id="g187" x2="0" y2="1"><stop offset=.000 class=q8 /><stop offset=.207 class=q5 /><stop offset=.304 class=q20 /><stop offset=.337 class=q2b /><stop offset=.402 class=q60 /><stop offset=.424 class=q73 /><stop offset=.435 class=q83 /><stop offset=.446 class=q96 /><stop offset=.457 class=qbc /><stop offset=.467 class=qd9 /><stop offset=.478 class=qf2 /><stop offset=.489 class=qcb /><stop offset=.500 class=qaf /><stop offset=.511 class=q9e /><stop offset=.522 class=q91 /><stop offset=.533 class=q85 /><stop offset=.565 class=q73 /><stop offset=.674 class=q73 /><stop offset=.696 class=q85 /><stop offset=.717 class=qa4 /><stop offset=.739 class=qe6 /><stop offset=.750 class=qba /><stop offset=.761 class=q99 /><stop offset=.772 class=q86 /><stop offset=.783 class=q7a /><stop offset=.815 class=q5c /><stop offset=.837 class=q4a /><stop offset=.859 class=q3b /><stop offset=.913 class=q22 /><stop offset=.967 class=q1b /><stop offset=1.000 class=q1a /></linearGradient><linearGradient id="g188" x2="0" y2="1"><stop offset=.000 class=q8 /><stop offset=.207 class=q5 /><stop offset=.304 class=q20 /><stop offset=.337 class=q2b /><stop offset=.402 class=q60 /><stop offset=.424 class=q73 /><stop offset=.435 class=q83 /><stop offset=.446 class=q96 /><stop offset=.457 class=qbc /><stop offset=.467 class=qd9 /><stop offset=.478 class=qf2 /><stop offset=.489 class=qcb /><stop offset=.500 class=qaf /><stop offset=.511 class=q9e /><stop offset=.522 class=q91 /><stop offset=.533 class=q85 /><stop offset=.565 class=q73 /><stop offset=.674 class=q73 /><stop offset=.696 class=q85 /><stop offset=.717 class=qa4 /><stop offset=.739 class=qe6 /><stop offset=.750 class=qbb /><stop offset=.761 class=q9a /><stop offset=.772 class=q88 /><stop offset=.793 class=q71 /><stop offset=.815 class=q5e /><stop offset=.837 class=q4d /><stop offset=.870 class=q2f /><stop offset=.902 class=q24 /><stop offset=.924 class=q20 /><stop offset=.967 class=q1b /><stop offset=1.000 class=q1a /></linearGradient><linearGradient id="g189" x2="0" y2="1"><stop offset=.000 class=q8 /><stop offset=.207 class=q5 /><stop offset=.304 class=q20 /><stop offset=.337 class=q2b /><stop offset=.402 class=q60 /><stop offset=.424 class=q73 /><stop offset=.435 class=q83 /><stop offset=.446 class=q96 /><stop offset=.457 class=qbc /><stop offset=.467 class=qd9 /><stop offset=.478 class=qf2 /><stop offset=.489 class=qcb /><stop offset=.500 class=qaf /><stop offset=.511 class=q9e /><stop offset=.522 class=q91 /><stop offset=.533 class=q85 /><stop offset=.565 class=q73 /><stop offset=.674 class=q73 /><stop offset=.696 class=q85 /><stop offset=.717 class=qa4 /><stop offset=.728 class=qc4 /><stop offset=.739 class=qe7 /><stop offset=.750 class=qbc /><stop offset=.761 class=q9b /><stop offset=.772 class=q89 /><stop offset=.804 class=q6a /><stop offset=.815 class=q5e /><stop offset=.837 class=q44 /><stop offset=.859 class=q33 /><stop offset=.902 class=q24 /><stop offset=.924 class=q20 /><stop offset=.967 class=q1b /><stop offset=1.000 class=q1a /></linearGradient><linearGradient id="g190" x2="0" y2="1"><stop offset=.000 class=q8 /><stop offset=.207 class=q5 /><stop offset=.304 class=q20 /><stop offset=.337 class=q2b /><stop offset=.402 class=q60 /><stop offset=.424 class=q73 /><stop offset=.435 class=q83 /><stop offset=.446 class=q96 /><stop offset=.457 class=qbc /><stop offset=.467 class=qd9 /><stop offset=.478 class=qf2 /><stop offset=.489 class=qcb /><stop offset=.500 class=qaf /><stop offset=.511 class=q9e /><stop offset=.522 class=q91 /><stop offset=.533 class=q85 /><stop offset=.565 class=q73 /><stop offset=.674 class=q73 /><stop offset=.696 class=q86 /><stop offset=.717 class=qa4 /><stop offset=.728 class=qc4 /><stop offset=.739 class=qe7 /><stop offset=.750 class=qbd /><stop offset=.761 class=q9d /><stop offset=.783 class=q7b /><stop offset=.804 class=q61 /><stop offset=.815 class=q57 /><stop offset=.837 class=q44 /><stop offset=.859 class=q33 /><stop offset=.880 class=q2b /><stop offset=.902 class=q24 /><stop offset=.924 class=q20 /><stop offset=.967 class=q1b /><stop offset=1.000 class=q1a /></linearGradient><linearGradient id="g191" x2="0" y2="1"><stop offset=.000 class=q8 /><stop offset=.207 class=q5 /><stop offset=.304 class=q20 /><stop offset=.337 class=q2b /><stop offset=.402 class=q60 /><stop offset=.424 class=q73 /><stop offset=.435 class=q83 /><stop offset=.446 class=q96 /><stop offset=.457 class=qbc /><stop offset=.467 class=qd9 /><stop offset=.478 class=qf2 /><stop offset=.489 class=qcb /><stop offset=.500 class=qaf /><stop offset=.511 class=q9e /><stop offset=.522 class=q91 /><stop offset=.533 class=q85 /><stop offset=.565 class=q73 /><stop offset=.674 class=q74 /><stop offset=.696 class=q8b /><stop offset=.717 class=qa9 /><stop offset=.728 class=qc5 /><stop offset=.739 class=qe6 /><stop offset=.750 class=qbd /><stop offset=.761 class=q98 /><stop offset=.772 class=q83 /><stop offset=.815 class=q57 /><stop offset=.837 class=q44 /><stop offset=.859 class=q33 /><stop offset=.880 class=q2b /><stop offset=.902 class=q24 /><stop offset=.924 class=q20 /><stop offset=.967 class=q1b /><stop offset=1.000 class=q1a /></linearGradient><linearGradient id="g192" x2="0" y2="1"><stop offset=.000 class=q8 /><stop offset=.207 class=q5 /><stop offset=.304 class=q20 /><stop offset=.337 class=q2b /><stop offset=.402 class=q60 /><stop offset=.424 class=q73 /><stop offset=.435 class=q83 /><stop offset=.446 class=q96 /><stop offset=.457 class=qbc /><stop offset=.467 class=qd9 /><stop offset=.478 class=qf2 /><stop offset=.489 class=qcb /><stop offset=.500 class=qaf /><stop offset=.511 class=q9e /><stop offset=.522 class=q91 /><stop offset=.533 class=q85 /><stop offset=.565 class=q73 /><stop offset=.663 class=q74 /><stop offset=.674 class=q77 /><stop offset=.685 class=q8a /><stop offset=.696 class=qa2 /><stop offset=.707 class=qb6 /><stop offset=.717 class=qbd /><stop offset=.728 class=qc8 /><stop offset=.739 class=qe3 /><stop offset=.750 class=qba /><stop offset=.761 class=q97 /><stop offset=.772 class=q83 /><stop offset=.815 class=q57 /><stop offset=.837 class=q44 /><stop offset=.859 class=q33 /><stop offset=.880 class=q2b /><stop offset=.902 class=q24 /><stop offset=.924 class=q20 /><stop offset=.967 class=q1b /><stop offset=1.000 class=q1a /></linearGradient><linearGradient id="g193" x2="0" y2="1"><stop offset=.000 class=q8 /><stop offset=.207 class=q5 /><stop offset=.304 class=q20 /><stop offset=.337 class=q2b /><stop offset=.402 class=q60 /><stop offset=.424 class=q73 /><stop offset=.435 class=q83 /><stop offset=.446 class=q96 /><stop offset=.457 class=qbc /><stop offset=.467 class=qd9 /><stop offset=.478 class=qf2 /><stop offset=.489 class=qcb /><stop offset=.500 class=qaf /><stop offset=.511 class=q9e /><stop offset=.522 class=q91 /><stop offset=.533 class=q85 /><stop offset=.565 class=q73 /><stop offset=.663 class=q73 /><stop offset=.674 class=q77 /><stop offset=.685 class=q88 /><stop offset=.696 class=q9e /><stop offset=.707 class=qb1 /><stop offset=.717 class=qb9 /><stop offset=.728 class=qc7 /><stop offset=.739 class=qe3 /><stop offset=.750 class=qba /><stop offset=.761 class=q97 /><stop offset=.772 class=q83 /><stop offset=.815 class=q57 /><stop offset=.837 class=q44 /><stop offset=.859 class=q33 /><stop offset=.880 class=q2b /><stop offset=.902 class=q24 /><stop offset=.924 class=q20 /><stop offset=.967 class=q1b /><stop offset=1.000 class=q1a /></linearGradient><linearGradient id="g194" x2="0" y2="1"><stop offset=.000 class=q8 /><stop offset=.207 class=q5 /><stop offset=.304 class=q20 /><stop offset=.337 class=q2b /><stop offset=.402 class=q60 /><stop offset=.424 class=q73 /><stop offset=.435 class=q83 /><stop offset=.446 class=q96 /><stop offset=.457 class=qbc /><stop offset=.467 class=qd9 /><stop offset=.478 class=qf2 /><stop offset=.489 class=qcb /><stop offset=.500 class=qaf /><stop offset=.511 class=q9e /><stop offset=.522 class=q91 /><stop offset=.533 class=q85 /><stop offset=.565 class=q73 /><stop offset=.674 class=q73 /><stop offset=.696 class=q89 /><stop offset=.707 class=q98 /><stop offset=.717 class=qa7 /><stop offset=.739 class=qe5 /><stop offset=.750 class=qb9 /><stop offset=.761 class=q97 /><stop offset=.772 class=q83 /><stop offset=.815 class=q57 /><stop offset=.837 class=q44 /><stop offset=.859 class=q33 /><stop offset=.880 class=q2b /><stop offset=.902 class=q24 /><stop offset=.924 class=q20 /><stop offset=.967 class=q1b /><stop offset=1.000 class=q1a /></linearGradient><linearGradient id="g195" x2="0" y2="1"><stop offset=.000 class=q8 /><stop offset=.207 class=q5 /><stop offset=.304 class=q20 /><stop offset=.337 class=q2b /><stop offset=.402 class=q60 /><stop offset=.424 class=q73 /><stop offset=.435 class=q83 /><stop offset=.446 class=q96 /><stop offset=.457 class=qbc /><stop offset=.467 class=qd9 /><stop offset=.478 class=qf2 /><stop offset=.489 class=qcb /><stop offset=.500 class=qaf /><stop offset=.511 class=q9e /><stop offset=.522 class=q91 /><stop offset=.533 class=q85 /><stop offset=.565 class=q73 /><stop offset=.674 class=q73 /><stop offset=.696 class=q85 /><stop offset=.707 class=q94 /><stop offset=.717 class=qa4 /><stop offset=.739 class=qe5 /><stop offset=.750 class=qb9 /><stop offset=.761 class=q96 /><stop offset=.772 class=q83 /><stop offset=.815 class=q57 /><stop offset=.837 class=q44 /><stop offset=.859 class=q33 /><stop offset=.880 class=q2b /><stop offset=.902 class=q24 /><stop offset=.924 class=q20 /><stop offset=.967 class=q1b /><stop offset=1.000 class=q1a /></linearGradient><linearGradient id="g196" x2="0" y2="1"><stop offset=.000 class=q8 /><stop offset=.207 class=q5 /><stop offset=.304 class=q20 /><stop offset=.337 class=q2b /><stop offset=.402 class=q60 /><stop offset=.424 class=q74 /><stop offset=.435 class=q83 /><stop offset=.446 class=q97 /><stop offset=.457 class=qbc /><stop offset=.467 class=qd9 /><stop offset=.478 class=qf2 /><stop offset=.489 class=qcb /><stop offset=.500 class=qaf /><stop offset=.511 class=q9e /><stop offset=.522 class=q91 /><stop offset=.533 class=q85 /><stop offset=.565 class=q73 /><stop offset=.674 class=q73 /><stop offset=.696 class=q85 /><stop offset=.707 class=q94 /><stop offset=.717 class=qa4 /><stop offset=.739 class=qe5 /><stop offset=.750 class=qb9 /><stop offset=.761 class=q96 /><stop offset=.772 class=q83 /><stop offset=.815 class=q57 /><stop offset=.837 class=q44 /><stop offset=.859 class=q33 /><stop offset=.880 class=q2b /><stop offset=.902 class=q24 /><stop offset=.924 class=q20 /><stop offset=.967 class=q1b /><stop offset=1.000 class=q1a /></linearGradient><linearGradient id="g197" x2="0" y2="1"><stop offset=.000 class=q8 /><stop offset=.207 class=q5 /><stop offset=.304 class=q20 /><stop offset=.337 class=q2b /><stop offset=.370 class=q45 /><stop offset=.402 class=q61 /><stop offset=.424 class=q79 /><stop offset=.446 class=q9f /><stop offset=.457 class=qbe /><stop offset=.478 class=qf1 /><stop offset=.489 class=qcb /><stop offset=.500 class=qaf /><stop offset=.511 class=q9e /><stop offset=.522 class=q91 /><stop offset=.533 class=q85 /><stop offset=.565 class=q73 /><stop offset=.674 class=q73 /><stop offset=.696 class=q85 /><stop offset=.707 class=q94 /><stop offset=.717 class=qa4 /><stop offset=.739 class=qe5 /><stop offset=.750 class=qb9 /><stop offset=.761 class=q96 /><stop offset=.772 class=q83 /><stop offset=.815 class=q57 /><stop offset=.837 class=q44 /><stop offset=.859 class=q33 /><stop offset=.880 class=q2b /><stop offset=.902 class=q24 /><stop offset=.924 class=q20 /><stop offset=.967 class=q1b /><stop offset=1.000 class=q1a /></linearGradient><linearGradient id="g198" x2="0" y2="1"><stop offset=.000 class=q8 /><stop offset=.207 class=q5 /><stop offset=.304 class=q20 /><stop offset=.337 class=q2b /><stop offset=.380 class=q4e /><stop offset=.402 class=q63 /><stop offset=.413 class=q72 /><stop offset=.424 class=q8a /><stop offset=.435 class=qa6 /><stop offset=.457 class=qc4 /><stop offset=.467 class=qd5 /><stop offset=.478 class=qef /><stop offset=.489 class=qcb /><stop offset=.500 class=qaf /><stop offset=.511 class=q9e /><stop offset=.533 class=q85 /><stop offset=.565 class=q73 /><stop offset=.674 class=q73 /><stop offset=.696 class=q85 /><stop offset=.707 class=q94 /><stop offset=.717 class=qa4 /><stop offset=.739 class=qe6 /><stop offset=.750 class=qb9 /><stop offset=.761 class=q96 /><stop offset=.772 class=q83 /><stop offset=.815 class=q57 /><stop offset=.837 class=q44 /><stop offset=.859 class=q33 /><stop offset=.880 class=q2b /><stop offset=.902 class=q24 /><stop offset=.924 class=q20 /><stop offset=.967 class=q1b /><stop offset=1.000 class=q1a /></linearGradient><linearGradient id="g199" x2="0" y2="1"><stop offset=.000 class=q8 /><stop offset=.207 class=q5 /><stop offset=.304 class=q20 /><stop offset=.337 class=q2b /><stop offset=.380 class=q4e /><stop offset=.402 class=q63 /><stop offset=.413 class=q74 /><stop offset=.424 class=q8f /><stop offset=.435 class=qad /><stop offset=.446 class=qbc /><stop offset=.457 class=qc5 /><stop offset=.467 class=qd5 /><stop offset=.478 class=qee /><stop offset=.489 class=qcb /><stop offset=.500 class=qaf /><stop offset=.511 class=q9e /><stop offset=.533 class=q85 /><stop offset=.565 class=q73 /><stop offset=.674 class=q73 /><stop offset=.696 class=q85 /><stop offset=.707 class=q94 /><stop offset=.717 class=qa4 /><stop offset=.739 class=qe6 /><stop offset=.750 class=qb9 /><stop offset=.761 class=q96 /><stop offset=.772 class=q83 /><stop offset=.815 class=q57 /><stop offset=.837 class=q44 /><stop offset=.859 class=q33 /><stop offset=.880 class=q2b /><stop offset=.902 class=q24 /><stop offset=.924 class=q20 /><stop offset=.967 class=q1b /><stop offset=1.000 class=q1a /></linearGradient><linearGradient id="g200" x2="0" y2="1"><stop offset=.000 class=q8 /><stop offset=.207 class=q5 /><stop offset=.304 class=q1f /><stop offset=.337 class=q2a /><stop offset=.391 class=q56 /><stop offset=.402 class=q61 /><stop offset=.413 class=q6d /><stop offset=.424 class=q7d /><stop offset=.435 class=q92 /><stop offset=.446 class=qa4 /><stop offset=.467 class=qd8 /><stop offset=.478 class=qee /><stop offset=.489 class=qca /><stop offset=.500 class=qaf /><stop offset=.511 class=q9e /><stop offset=.522 class=q90 /><stop offset=.533 class=q85 /><stop offset=.565 class=q73 /><stop offset=.674 class=q73 /><stop offset=.696 class=q85 /><stop offset=.707 class=q94 /><stop offset=.717 class=qa5 /><stop offset=.728 class=qc6 /><stop offset=.739 class=qe4 /><stop offset=.750 class=qb7 /><stop offset=.761 class=q96 /><stop offset=.772 class=q83 /><stop offset=.783 class=q76 /><stop offset=.793 class=q6a /><stop offset=.815 class=q56 /><stop offset=.859 class=q33 /><stop offset=.880 class=q2b /><stop offset=.902 class=q24 /><stop offset=.924 class=q20 /><stop offset=.967 class=q1b /><stop offset=1.000 class=q1a /></linearGradient><linearGradient id="g201" x2="0" y2="1"><stop offset=.000 class=q8 /><stop offset=.207 class=q6 /><stop offset=.250 class=qe /><stop offset=.315 class=q21 /><stop offset=.337 class=q29 /><stop offset=.370 class=q41 /><stop offset=.413 class=q68 /><stop offset=.424 class=q73 /><stop offset=.435 class=q82 /><stop offset=.446 class=q95 /><stop offset=.467 class=qda /><stop offset=.478 class=qeb /><stop offset=.489 class=qc9 /><stop offset=.500 class=qae /><stop offset=.511 class=q9d /><stop offset=.533 class=q85 /><stop offset=.565 class=q73 /><stop offset=.674 class=q73 /><stop offset=.696 class=q85 /><stop offset=.707 class=q94 /><stop offset=.717 class=qa5 /><stop offset=.728 class=qc8 /><stop offset=.739 class=qe0 /><stop offset=.750 class=qb3 /><stop offset=.761 class=q95 /><stop offset=.772 class=q82 /><stop offset=.793 class=q68 /><stop offset=.804 class=q5e /><stop offset=.826 class=q4b /><stop offset=.859 class=q33 /><stop offset=.880 class=q2b /><stop offset=.902 class=q24 /><stop offset=.924 class=q20 /><stop offset=.967 class=q1b /><stop offset=1.000 class=q1a /></linearGradient><linearGradient id="g202" x2="0" y2="1"><stop offset=.000 class=q9 /><stop offset=.207 class=q7 /><stop offset=.250 class=qc /><stop offset=.304 class=q1c /><stop offset=.315 class=q24 /><stop offset=.326 class=q29 /><stop offset=.337 class=q2a /><stop offset=.359 class=q36 /><stop offset=.370 class=q3e /><stop offset=.413 class=q67 /><stop offset=.424 class=q70 /><stop offset=.435 class=q7e /><stop offset=.446 class=q92 /><stop offset=.457 class=qb4 /><stop offset=.467 class=qdc /><stop offset=.478 class=qe7 /><stop offset=.489 class=qc8 /><stop offset=.500 class=qae /><stop offset=.511 class=q9c /><stop offset=.533 class=q85 /><stop offset=.565 class=q73 /><stop offset=.674 class=q73 /><stop offset=.696 class=q85 /><stop offset=.707 class=q94 /><stop offset=.717 class=qa5 /><stop offset=.728 class=qca /><stop offset=.739 class=qdc /><stop offset=.750 class=qb0 /><stop offset=.761 class=q93 /><stop offset=.772 class=q81 /><stop offset=.783 class=q72 /><stop offset=.793 class=q66 /><stop offset=.804 class=q5d /><stop offset=.826 class=q4a /><stop offset=.859 class=q33 /><stop offset=.880 class=q2b /><stop offset=.902 class=q24 /><stop offset=.924 class=q20 /><stop offset=.967 class=q1b /><stop offset=1.000 class=q1a /></linearGradient><linearGradient id="g203" x2="0" y2="1"><stop offset=.000 class=qa /><stop offset=.196 class=q7 /><stop offset=.239 class=q9 /><stop offset=.250 class=qa /><stop offset=.272 class=q10 /><stop offset=.283 class=q19 /><stop offset=.304 class=q25 /><stop offset=.315 class=q28 /><stop offset=.326 class=q26 /><stop offset=.337 class=q27 /><stop offset=.370 class=q3b /><stop offset=.413 class=q66 /><stop offset=.424 class=q6f /><stop offset=.435 class=q7d /><stop offset=.446 class=q90 /><stop offset=.457 class=qb1 /><stop offset=.467 class=qdd /><stop offset=.478 class=qe2 /><stop offset=.489 class=qc6 /><stop offset=.500 class=qad /><stop offset=.511 class=q9b /><stop offset=.533 class=q85 /><stop offset=.565 class=q73 /><stop offset=.674 class=q73 /><stop offset=.696 class=q85 /><stop offset=.707 class=q95 /><stop offset=.717 class=qa6 /><stop offset=.728 class=qcc /><stop offset=.739 class=qd8 /><stop offset=.750 class=qac /><stop offset=.761 class=q92 /><stop offset=.772 class=q81 /><stop offset=.783 class=q71 /><stop offset=.793 class=q64 /><stop offset=.804 class=q5b /><stop offset=.826 class=q49 /><stop offset=.859 class=q33 /><stop offset=.880 class=q2b /><stop offset=.902 class=q24 /><stop offset=.924 class=q20 /><stop offset=.967 class=q1b /><stop offset=1.000 class=q1a /></linearGradient><linearGradient id="g204" x2="0" y2="1"><stop offset=.000 class=qa /><stop offset=.239 class=q8 /><stop offset=.250 class=qd /><stop offset=.261 class=q19 /><stop offset=.272 class=q1e /><stop offset=.293 class=q1c /><stop offset=.326 class=q22 /><stop offset=.337 class=q25 /><stop offset=.370 class=q38 /><stop offset=.402 class=q5b /><stop offset=.413 class=q65 /><stop offset=.424 class=q6e /><stop offset=.435 class=q7b /><stop offset=.446 class=q8e /><stop offset=.457 class=qae /><stop offset=.467 class=qde /><stop offset=.478 class=qde /><stop offset=.500 class=qad /><stop offset=.511 class=q9a /><stop offset=.533 class=q85 /><stop offset=.565 class=q73 /><stop offset=.674 class=q73 /><stop offset=.696 class=q85 /><stop offset=.707 class=q95 /><stop offset=.717 class=qa6 /><stop offset=.728 class=qce /><stop offset=.739 class=qd5 /><stop offset=.750 class=qa8 /><stop offset=.761 class=q91 /><stop offset=.783 class=q6f /><stop offset=.793 class=q62 /><stop offset=.826 class=q48 /><stop offset=.859 class=q33 /><stop offset=.880 class=q2b /><stop offset=.902 class=q24 /><stop offset=.924 class=q20 /><stop offset=.967 class=q1b /><stop offset=1.000 class=q1a /></linearGradient><linearGradient id="g205" x2="0" y2="1"><stop offset=.000 class=qa /><stop offset=.196 class=q8 /><stop offset=.217 class=q12 /><stop offset=.239 class=q16 /><stop offset=.250 class=q12 /><stop offset=.283 class=q14 /><stop offset=.326 class=q20 /><stop offset=.337 class=q24 /><stop offset=.370 class=q37 /><stop offset=.402 class=q5b /><stop offset=.413 class=q65 /><stop offset=.424 class=q6d /><stop offset=.435 class=q7a /><stop offset=.446 class=q8e /><stop offset=.457 class=qad /><stop offset=.467 class=qde /><stop offset=.478 class=qdd /><stop offset=.500 class=qad /><stop offset=.511 class=q9a /><stop offset=.533 class=q85 /><stop offset=.565 class=q73 /><stop offset=.652 class=q73 /><stop offset=.674 class=q73 /><stop offset=.685 class=q7c /><stop offset=.696 class=q85 /><stop offset=.717 class=qa6 /><stop offset=.728 class=qce /><stop offset=.739 class=qd4 /><stop offset=.750 class=qa7 /><stop offset=.761 class=q90 /><stop offset=.783 class=q6e /><stop offset=.793 class=q62 /><stop offset=.826 class=q47 /><stop offset=.859 class=q33 /><stop offset=.880 class=q2b /><stop offset=.902 class=q24 /><stop offset=.924 class=q20 /><stop offset=.967 class=q1b /><stop offset=1.000 class=q1a /></linearGradient><linearGradient id="g206" x2="0" y2="1"><stop offset=.000 class=qa /><stop offset=.163 class=q9 /><stop offset=.185 class=q11 /><stop offset=.196 class=q19 /><stop offset=.207 class=q14 /><stop offset=.228 class=qe /><stop offset=.250 class=qb /><stop offset=.272 class=qf /><stop offset=.304 class=q18 /><stop offset=.326 class=q20 /><stop offset=.337 class=q24 /><stop offset=.370 class=q37 /><stop offset=.402 class=q5b /><stop offset=.413 class=q65 /><stop offset=.424 class=q6d /><stop offset=.435 class=q7a /><stop offset=.446 class=q8e /><stop offset=.457 class=qad /><stop offset=.467 class=qde /><stop offset=.478 class=qdd /><stop offset=.500 class=qad /><stop offset=.511 class=q9a /><stop offset=.533 class=q85 /><stop offset=.565 class=q73 /><stop offset=.652 class=q73 /><stop offset=.674 class=q73 /><stop offset=.685 class=q7c /><stop offset=.696 class=q85 /><stop offset=.717 class=qa6 /><stop offset=.728 class=qce /><stop offset=.739 class=qd4 /><stop offset=.750 class=qa7 /><stop offset=.761 class=q90 /><stop offset=.783 class=q6e /><stop offset=.793 class=q62 /><stop offset=.826 class=q47 /><stop offset=.859 class=q33 /><stop offset=.880 class=q2b /><stop offset=.902 class=q24 /><stop offset=.924 class=q20 /><stop offset=.967 class=q1b /><stop offset=1.000 class=q1a /></linearGradient><linearGradient id="g207" x2="0" y2="1"><stop offset=.000 class=qa /><stop offset=.130 class=q9 /><stop offset=.141 class=q13 /><stop offset=.163 class=q18 /><stop offset=.174 class=q13 /><stop offset=.207 class=qc /><stop offset=.250 class=q9 /><stop offset=.293 class=q14 /><stop offset=.326 class=q20 /><stop offset=.337 class=q24 /><stop offset=.370 class=q37 /><stop offset=.402 class=q5b /><stop offset=.413 class=q65 /><stop offset=.424 class=q6d /><stop offset=.435 class=q7a /><stop offset=.446 class=q8e /><stop offset=.457 class=qad /><stop offset=.467 class=qde /><stop offset=.478 class=qdd /><stop offset=.500 class=qad /><stop offset=.511 class=q9a /><stop offset=.533 class=q85 /><stop offset=.565 class=q73 /><stop offset=.652 class=q73 /><stop offset=.674 class=q73 /><stop offset=.685 class=q7c /><stop offset=.696 class=q85 /><stop offset=.717 class=qa6 /><stop offset=.728 class=qce /><stop offset=.739 class=qd4 /><stop offset=.750 class=qa7 /><stop offset=.761 class=q90 /><stop offset=.783 class=q6e /><stop offset=.793 class=q62 /><stop offset=.826 class=q47 /><stop offset=.859 class=q33 /><stop offset=.880 class=q2b /><stop offset=.902 class=q24 /><stop offset=.924 class=q20 /><stop offset=.967 class=q1b /><stop offset=1.000 class=q1a /></linearGradient><linearGradient id="g208" x2="0" y2="1"><stop offset=.000 class=qa /><stop offset=.087 class=q9 /><stop offset=.109 class=q13 /><stop offset=.130 class=q16 /><stop offset=.163 class=qd /><stop offset=.207 class=q9 /><stop offset=.250 class=q8 /><stop offset=.293 class=q14 /><stop offset=.326 class=q20 /><stop offset=.337 class=q24 /><stop offset=.370 class=q37 /><stop offset=.402 class=q5b /><stop offset=.413 class=q65 /><stop offset=.424 class=q6d /><stop offset=.435 class=q7a /><stop offset=.446 class=q8e /><stop offset=.457 class=qad /><stop offset=.467 class=qde /><stop offset=.478 class=qdd /><stop offset=.500 class=qad /><stop offset=.511 class=q9a /><stop offset=.533 class=q85 /><stop offset=.565 class=q73 /><stop offset=.652 class=q73 /><stop offset=.674 class=q73 /><stop offset=.685 class=q7c /><stop offset=.696 class=q85 /><stop offset=.717 class=qa6 /><stop offset=.728 class=qce /><stop offset=.739 class=qd4 /><stop offset=.750 class=qa7 /><stop offset=.761 class=q90 /><stop offset=.783 class=q6e /><stop offset=.793 class=q62 /><stop offset=.826 class=q47 /><stop offset=.859 class=q33 /><stop offset=.880 class=q2b /><stop offset=.902 class=q24 /><stop offset=.924 class=q20 /><stop offset=.967 class=q1b /><stop offset=1.000 class=q1a /></linearGradient><linearGradient id="g209" x2="0" y2="1"><stop offset=.000 class=qa /><stop offset=.054 class=qa /><stop offset=.065 class=qf /><stop offset=.076 class=q18 /><stop offset=.087 class=q1a /><stop offset=.098 class=q15 /><stop offset=.130 class=qd /><stop offset=.185 class=q9 /><stop offset=.250 class=q8 /><stop offset=.293 class=q14 /><stop offset=.326 class=q20 /><stop offset=.337 class=q24 /><stop offset=.370 class=q37 /><stop offset=.402 class=q5b /><stop offset=.413 class=q65 /><stop offset=.424 class=q6d /><stop offset=.435 class=q7a /><stop offset=.446 class=q8e /><stop offset=.457 class=qad /><stop offset=.467 class=qde /><stop offset=.478 class=qdd /><stop offset=.500 class=qad /><stop offset=.511 class=q9a /><stop offset=.533 class=q85 /><stop offset=.565 class=q73 /><stop offset=.652 class=q73 /><stop offset=.674 class=q73 /><stop offset=.685 class=q7c /><stop offset=.696 class=q85 /><stop offset=.717 class=qa6 /><stop offset=.728 class=qce /><stop offset=.739 class=qd4 /><stop offset=.750 class=qa7 /><stop offset=.761 class=q90 /><stop offset=.783 class=q6e /><stop offset=.793 class=q62 /><stop offset=.826 class=q47 /><stop offset=.859 class=q33 /><stop offset=.880 class=q2b /><stop offset=.902 class=q24 /><stop offset=.924 class=q20 /><stop offset=.967 class=q1b /><stop offset=1.000 class=q1a /></linearGradient><linearGradient id="g210" x2="0" y2="1"><stop offset=.000 class=qa /><stop offset=.011 class=qa /><stop offset=.033 class=q14 /><stop offset=.054 class=q18 /><stop offset=.076 class=q11 /><stop offset=.098 class=qd /><stop offset=.130 class=qa /><stop offset=.250 class=q8 /><stop offset=.293 class=q14 /><stop offset=.326 class=q20 /><stop offset=.337 class=q24 /><stop offset=.370 class=q37 /><stop offset=.402 class=q5b /><stop offset=.413 class=q65 /><stop offset=.424 class=q6d /><stop offset=.435 class=q7a /><stop offset=.446 class=q8e /><stop offset=.457 class=qad /><stop offset=.467 class=qde /><stop offset=.478 class=qdd /><stop offset=.500 class=qad /><stop offset=.511 class=q9a /><stop offset=.533 class=q85 /><stop offset=.565 class=q73 /><stop offset=.652 class=q73 /><stop offset=.674 class=q73 /><stop offset=.685 class=q7c /><stop offset=.696 class=q85 /><stop offset=.717 class=qa6 /><stop offset=.728 class=qce /><stop offset=.739 class=qd4 /><stop offset=.750 class=qa7 /><stop offset=.761 class=q90 /><stop offset=.783 class=q6e /><stop offset=.793 class=q62 /><stop offset=.826 class=q47 /><stop offset=.859 class=q33 /><stop offset=.880 class=q2b /><stop offset=.902 class=q24 /><stop offset=.924 class=q20 /><stop offset=.967 class=q1b /><stop offset=1.000 class=q1a /></linearGradient><linearGradient id="g211" x2="0" y2="1"><stop offset=.000 class=qa /><stop offset=.011 class=q19 /><stop offset=.022 class=q1a /><stop offset=.033 class=q15 /><stop offset=.054 class=qf /><stop offset=.087 class=qb /><stop offset=.130 class=q9 /><stop offset=.250 class=q8 /><stop offset=.293 class=q14 /><stop offset=.326 class=q20 /><stop offset=.337 class=q24 /><stop offset=.370 class=q37 /><stop offset=.402 class=q5b /><stop offset=.413 class=q65 /><stop offset=.424 class=q6d /><stop offset=.435 class=q7a /><stop offset=.446 class=q8e /><stop offset=.457 class=qad /><stop offset=.467 class=qde /><stop offset=.478 class=qdd /><stop offset=.500 class=qad /><stop offset=.511 class=q9a /><stop offset=.533 class=q85 /><stop offset=.565 class=q73 /><stop offset=.652 class=q73 /><stop offset=.674 class=q73 /><stop offset=.685 class=q7c /><stop offset=.696 class=q85 /><stop offset=.717 class=qa6 /><stop offset=.728 class=qce /><stop offset=.739 class=qd4 /><stop offset=.750 class=qa7 /><stop offset=.761 class=q90 /><stop offset=.783 class=q6e /><stop offset=.793 class=q62 /><stop offset=.826 class=q47 /><stop offset=.859 class=q33 /><stop offset=.880 class=q2b /><stop offset=.902 class=q24 /><stop offset=.924 class=q20 /><stop offset=.967 class=q1b /><stop offset=1.000 class=q1a /></linearGradient><linearGradient id="g212" x2="0" y2="1"><stop offset=.000 class=qa /><stop offset=.011 class=q1e /><stop offset=.022 class=q18 /><stop offset=.043 class=q11 /><stop offset=.087 class=qb /><stop offset=.130 class=q9 /><stop offset=.250 class=q8 /><stop offset=.293 class=q14 /><stop offset=.326 class=q20 /><stop offset=.337 class=q24 /><stop offset=.370 class=q37 /><stop offset=.402 class=q5b /><stop offset=.413 class=q65 /><stop offset=.424 class=q6d /><stop offset=.435 class=q7a /><stop offset=.446 class=q8e /><stop offset=.457 class=qad /><stop offset=.467 class=qde /><stop offset=.478 class=qdd /><stop offset=.500 class=qad /><stop offset=.511 class=q9a /><stop offset=.533 class=q85 /><stop offset=.565 class=q73 /><stop offset=.652 class=q73 /><stop offset=.674 class=q73 /><stop offset=.685 class=q7c /><stop offset=.696 class=q85 /><stop offset=.717 class=qa6 /><stop offset=.728 class=qce /><stop offset=.739 class=qd4 /><stop offset=.750 class=qa7 /><stop offset=.761 class=q90 /><stop offset=.783 class=q6e /><stop offset=.793 class=q62 /><stop offset=.826 class=q47 /><stop offset=.859 class=q33 /><stop offset=.880 class=q2b /><stop offset=.902 class=q24 /><stop offset=.924 class=q20 /><stop offset=.967 class=q1b /><stop offset=1.000 class=q1a /></linearGradient><clipPath id="clip7"><rect x="239.3" y="491.1" width="116.50" height="92.00"/></clipPath><filter id="cm7" x="235.3" y="490.1" width="124.5" height="94.0" filterUnits="userSpaceOnUse" color-interpolation-filters="sRGB"><feGaussianBlur stdDeviation="1.6 0"/><feComponentTransfer><feFuncR type="table" tableValues="0.5000 1.0000 1.0000 1.0000 0.5000 0.0000 0.0000 0.0000 0.0000"/><feFuncG type="table" tableValues="0.0000 0.0000 0.5000 1.0000 1.0000 1.0000 0.5000 0.0000 0.0000"/><feFuncB type="table" tableValues="0.0000 0.0000 0.0000 0.0000 0.5000 1.0000 1.0000 1.0000 0.5000"/></feComponentTransfer></filter><linearGradient id="g213" x2="0" y2="1"><stop offset=.000 class=q14 /><stop offset=.043 class=q14 /><stop offset=.087 class=q1c /><stop offset=.130 class=q20 /><stop offset=.174 class=q30 /><stop offset=.217 class=q3a /><stop offset=.283 class=q51 /><stop offset=.326 class=q63 /><stop offset=.359 class=q71 /><stop offset=.370 class=q7b /><stop offset=.391 class=q94 /><stop offset=.402 class=qa7 /><stop offset=.424 class=qda /><stop offset=.435 class=qef /><stop offset=.446 class=qcf /><stop offset=.457 class=qb7 /><stop offset=.467 class=qa5 /><stop offset=.478 class=q9a /><stop offset=.489 class=q92 /><stop offset=.522 class=q7d /><stop offset=.543 class=q71 /><stop offset=.587 class=q65 /><stop offset=.620 class=q5e /><stop offset=.761 class=q5e /><stop offset=.772 class=q63 /><stop offset=.783 class=q6d /><stop offset=.793 class=q80 /><stop offset=.815 class=qae /><stop offset=.826 class=qd1 /><stop offset=.837 class=qc1 /><stop offset=.848 class=q97 /><stop offset=.859 class=q84 /><stop offset=.870 class=q69 /><stop offset=.880 class=q50 /><stop offset=.902 class=q2b /><stop offset=.935 class=q20 /><stop offset=.946 class=q1c /><stop offset=.989 class=q1e /><stop offset=1.000 class=qf /></linearGradient><linearGradient id="g214" x2="0" y2="1"><stop offset=.000 class=q14 /><stop offset=.043 class=q14 /><stop offset=.087 class=q1c /><stop offset=.130 class=q20 /><stop offset=.174 class=q30 /><stop offset=.217 class=q3a /><stop offset=.283 class=q51 /><stop offset=.326 class=q63 /><stop offset=.359 class=q71 /><stop offset=.370 class=q7b /><stop offset=.391 class=q94 /><stop offset=.402 class=qa7 /><stop offset=.424 class=qda /><stop offset=.435 class=qef /><stop offset=.446 class=qcf /><stop offset=.457 class=qb7 /><stop offset=.467 class=qa5 /><stop offset=.478 class=q9a /><stop offset=.489 class=q92 /><stop offset=.522 class=q7d /><stop offset=.543 class=q71 /><stop offset=.587 class=q65 /><stop offset=.620 class=q5e /><stop offset=.761 class=q5e /><stop offset=.772 class=q63 /><stop offset=.783 class=q6d /><stop offset=.793 class=q80 /><stop offset=.815 class=qae /><stop offset=.826 class=qd1 /><stop offset=.837 class=qc1 /><stop offset=.848 class=q97 /><stop offset=.859 class=q84 /><stop offset=.870 class=q69 /><stop offset=.880 class=q50 /><stop offset=.902 class=q2b /><stop offset=.935 class=q20 /><stop offset=.946 class=q1d /><stop offset=.978 class=q1e /><stop offset=.989 class=q1b /><stop offset=1.000 class=qf /></linearGradient><linearGradient id="g215" x2="0" y2="1"><stop offset=.000 class=q14 /><stop offset=.043 class=q14 /><stop offset=.087 class=q1c /><stop offset=.130 class=q20 /><stop offset=.174 class=q30 /><stop offset=.217 class=q3a /><stop offset=.283 class=q51 /><stop offset=.326 class=q63 /><stop offset=.359 class=q71 /><stop offset=.370 class=q7b /><stop offset=.391 class=q94 /><stop offset=.402 class=qa7 /><stop offset=.424 class=qda /><stop offset=.435 class=qef /><stop offset=.446 class=qcf /><stop offset=.457 class=qb7 /><stop offset=.467 class=qa5 /><stop offset=.478 class=q9a /><stop offset=.489 class=q92 /><stop offset=.522 class=q7d /><stop offset=.543 class=q71 /><stop offset=.587 class=q65 /><stop offset=.620 class=q5e /><stop offset=.761 class=q5e /><stop offset=.772 class=q63 /><stop offset=.783 class=q6d /><stop offset=.793 class=q80 /><stop offset=.815 class=qad /><stop offset=.826 class=qce /><stop offset=.837 class=qbd /><stop offset=.848 class=q94 /><stop offset=.859 class=q82 /><stop offset=.880 class=q53 /><stop offset=.902 class=q2e /><stop offset=.935 class=q24 /><stop offset=.946 class=q1e /><stop offset=.978 class=q11 /><stop offset=1.000 class=qf /></linearGradient><linearGradient id="g216" x2="0" y2="1"><stop offset=.000 class=q14 /><stop offset=.043 class=q14 /><stop offset=.087 class=q1c /><stop offset=.130 class=q20 /><stop offset=.174 class=q30 /><stop offset=.217 class=q3a /><stop offset=.283 class=q51 /><stop offset=.326 class=q63 /><stop offset=.359 class=q71 /><stop offset=.370 class=q7b /><stop offset=.391 class=q94 /><stop offset=.402 class=qa7 /><stop offset=.424 class=qda /><stop offset=.435 class=qef /><stop offset=.446 class=qcf /><stop offset=.457 class=qb7 /><stop offset=.467 class=qa5 /><stop offset=.478 class=q9a /><stop offset=.489 class=q92 /><stop offset=.522 class=q7d /><stop offset=.543 class=q71 /><stop offset=.587 class=q65 /><stop offset=.620 class=q5e /><stop offset=.761 class=q5e /><stop offset=.772 class=q63 /><stop offset=.783 class=q6d /><stop offset=.804 class=q94 /><stop offset=.815 class=qa6 /><stop offset=.826 class=qba /><stop offset=.837 class=q9f /><stop offset=.848 class=q7c /><stop offset=.870 class=q65 /><stop offset=.880 class=q57 /><stop offset=.902 class=q35 /><stop offset=.946 class=q14 /><stop offset=.957 class=q13 /><stop offset=1.000 class=qf /></linearGradient><linearGradient id="g217" x2="0" y2="1"><stop offset=.000 class=q14 /><stop offset=.043 class=q14 /><stop offset=.087 class=q1c /><stop offset=.130 class=q20 /><stop offset=.174 class=q30 /><stop offset=.217 class=q3a /><stop offset=.283 class=q51 /><stop offset=.326 class=q63 /><stop offset=.359 class=q71 /><stop offset=.370 class=q7b /><stop offset=.391 class=q94 /><stop offset=.402 class=qa7 /><stop offset=.424 class=qda /><stop offset=.435 class=qef /><stop offset=.446 class=qcf /><stop offset=.457 class=qb7 /><stop offset=.467 class=qa5 /><stop offset=.478 class=q9a /><stop offset=.489 class=q92 /><stop offset=.522 class=q7d /><stop offset=.543 class=q71 /><stop offset=.587 class=q65 /><stop offset=.620 class=q5e /><stop offset=.761 class=q5e /><stop offset=.772 class=q63 /><stop offset=.783 class=q6d /><stop offset=.804 class=q93 /><stop offset=.815 class=qa9 /><stop offset=.826 class=qba /><stop offset=.837 class=q93 /><stop offset=.848 class=q73 /><stop offset=.870 class=q64 /><stop offset=.880 class=q58 /><stop offset=.891 class=q43 /><stop offset=.902 class=q2b /><stop offset=.924 class=q1e /><stop offset=.946 class=q14 /><stop offset=1.000 class=qf /></linearGradient><linearGradient id="g218" x2="0" y2="1"><stop offset=.000 class=q14 /><stop offset=.043 class=q14 /><stop offset=.087 class=q1c /><stop offset=.130 class=q20 /><stop offset=.174 class=q30 /><stop offset=.217 class=q3a /><stop offset=.283 class=q51 /><stop offset=.326 class=q63 /><stop offset=.359 class=q71 /><stop offset=.370 class=q7b /><stop offset=.391 class=q94 /><stop offset=.402 class=qa7 /><stop offset=.424 class=qda /><stop offset=.435 class=qef /><stop offset=.446 class=qcf /><stop offset=.457 class=qb7 /><stop offset=.467 class=qa5 /><stop offset=.478 class=q9a /><stop offset=.489 class=q92 /><stop offset=.522 class=q7d /><stop offset=.543 class=q71 /><stop offset=.587 class=q65 /><stop offset=.620 class=q5e /><stop offset=.761 class=q5e /><stop offset=.772 class=q63 /><stop offset=.783 class=q6d /><stop offset=.804 class=qa3 /><stop offset=.815 class=qbe /><stop offset=.826 class=qd2 /><stop offset=.837 class=qb6 /><stop offset=.848 class=q91 /><stop offset=.859 class=q81 /><stop offset=.880 class=q4e /><stop offset=.891 class=q3a /><stop offset=.902 class=q27 /><stop offset=.924 class=q1d /><stop offset=.946 class=q14 /><stop offset=1.000 class=qf /></linearGradient><linearGradient id="g219" x2="0" y2="1"><stop offset=.000 class=q14 /><stop offset=.043 class=q14 /><stop offset=.087 class=q1c /><stop offset=.130 class=q20 /><stop offset=.174 class=q30 /><stop offset=.217 class=q3a /><stop offset=.283 class=q51 /><stop offset=.326 class=q63 /><stop offset=.359 class=q71 /><stop offset=.370 class=q7b /><stop offset=.391 class=q94 /><stop offset=.402 class=qa7 /><stop offset=.424 class=qda /><stop offset=.435 class=qef /><stop offset=.446 class=qcf /><stop offset=.457 class=qb7 /><stop offset=.467 class=qa5 /><stop offset=.478 class=q9a /><stop offset=.489 class=q92 /><stop offset=.522 class=q7d /><stop offset=.543 class=q71 /><stop offset=.587 class=q65 /><stop offset=.620 class=q5e /><stop offset=.761 class=q5e /><stop offset=.772 class=q75 /><stop offset=.783 class=q84 /><stop offset=.793 class=q9b /><stop offset=.804 class=qaa /><stop offset=.815 class=qbb /><stop offset=.826 class=qd7 /><stop offset=.837 class=qbf /><stop offset=.848 class=q99 /><stop offset=.859 class=q81 /><stop offset=.870 class=q65 /><stop offset=.880 class=q4c /><stop offset=.891 class=q38 /><stop offset=.902 class=q26 /><stop offset=.924 class=q1d /><stop offset=.946 class=q14 /><stop offset=1.000 class=qf /></linearGradient><linearGradient id="g220" x2="0" y2="1"><stop offset=.000 class=q14 /><stop offset=.043 class=q14 /><stop offset=.087 class=q1c /><stop offset=.130 class=q20 /><stop offset=.174 class=q30 /><stop offset=.217 class=q3a /><stop offset=.283 class=q51 /><stop offset=.326 class=q63 /><stop offset=.359 class=q71 /><stop offset=.370 class=q7b /><stop offset=.391 class=q94 /><stop offset=.402 class=qa7 /><stop offset=.424 class=qda /><stop offset=.435 class=qef /><stop offset=.446 class=qcf /><stop offset=.457 class=qb7 /><stop offset=.467 class=qa5 /><stop offset=.478 class=q9a /><stop offset=.489 class=q92 /><stop offset=.522 class=q7d /><stop offset=.543 class=q71 /><stop offset=.587 class=q65 /><stop offset=.620 class=q5e /><stop offset=.728 class=q5e /><stop offset=.739 class=q67 /><stop offset=.750 class=q78 /><stop offset=.761 class=q7d /><stop offset=.772 class=q7d /><stop offset=.783 class=q82 /><stop offset=.793 class=q91 /><stop offset=.804 class=qa3 /><stop offset=.815 class=qb6 /><stop offset=.826 class=qd5 /><stop offset=.837 class=qbf /><stop offset=.848 class=q95 /><stop offset=.859 class=q81 /><stop offset=.880 class=q4c /><stop offset=.891 class=q38 /><stop offset=.902 class=q26 /><stop offset=.924 class=q1d /><stop offset=.946 class=q14 /><stop offset=1.000 class=qf /></linearGradient><linearGradient id="g221" x2="0" y2="1"><stop offset=.000 class=q14 /><stop offset=.043 class=q14 /><stop offset=.087 class=q1c /><stop offset=.130 class=q20 /><stop offset=.174 class=q30 /><stop offset=.217 class=q3a /><stop offset=.283 class=q51 /><stop offset=.326 class=q63 /><stop offset=.359 class=q71 /><stop offset=.370 class=q7b /><stop offset=.391 class=q94 /><stop offset=.402 class=qa7 /><stop offset=.424 class=qda /><stop offset=.435 class=qef /><stop offset=.446 class=qcf /><stop offset=.457 class=qb7 /><stop offset=.467 class=qa5 /><stop offset=.478 class=q9a /><stop offset=.489 class=q92 /><stop offset=.522 class=q7d /><stop offset=.543 class=q71 /><stop offset=.587 class=q65 /><stop offset=.620 class=q5e /><stop offset=.696 class=q5e /><stop offset=.717 class=q6f /><stop offset=.728 class=q7e /><stop offset=.761 class=q71 /><stop offset=.772 class=q73 /><stop offset=.783 class=q7a /><stop offset=.793 class=q8b /><stop offset=.815 class=qb3 /><stop offset=.826 class=qd4 /><stop offset=.837 class=qbf /><stop offset=.848 class=q95 /><stop offset=.859 class=q81 /><stop offset=.880 class=q4c /><stop offset=.891 class=q38 /><stop offset=.902 class=q26 /><stop offset=.913 class=q21 /><stop offset=.946 class=q14 /><stop offset=1.000 class=qf /></linearGradient><linearGradient id="g222" x2="0" y2="1"><stop offset=.000 class=q14 /><stop offset=.043 class=q14 /><stop offset=.087 class=q1c /><stop offset=.130 class=q20 /><stop offset=.174 class=q30 /><stop offset=.217 class=q3a /><stop offset=.283 class=q51 /><stop offset=.326 class=q63 /><stop offset=.359 class=q71 /><stop offset=.370 class=q7b /><stop offset=.391 class=q94 /><stop offset=.402 class=qa7 /><stop offset=.424 class=qda /><stop offset=.435 class=qef /><stop offset=.446 class=qcf /><stop offset=.457 class=qb7 /><stop offset=.467 class=qa5 /><stop offset=.478 class=q9a /><stop offset=.489 class=q92 /><stop offset=.522 class=q7d /><stop offset=.543 class=q71 /><stop offset=.587 class=q65 /><stop offset=.620 class=q5e /><stop offset=.663 class=q5e /><stop offset=.674 class=q68 /><stop offset=.685 class=q6f /><stop offset=.696 class=q7f /><stop offset=.728 class=q72 /><stop offset=.750 class=q6c /><stop offset=.761 class=q6a /><stop offset=.772 class=q6d /><stop offset=.783 class=q75 /><stop offset=.804 class=q9b /><stop offset=.815 class=qb1 /><stop offset=.826 class=qd3 /><stop offset=.837 class=qbf /><stop offset=.848 class=q95 /><stop offset=.859 class=q81 /><stop offset=.870 class=q65 /><stop offset=.880 class=q4c /><stop offset=.891 class=q38 /><stop offset=.902 class=q26 /><stop offset=.913 class=q21 /><stop offset=.946 class=q14 /><stop offset=1.000 class=qf /></linearGradient><linearGradient id="g223" x2="0" y2="1"><stop offset=.000 class=q14 /><stop offset=.043 class=q14 /><stop offset=.087 class=q1c /><stop offset=.130 class=q20 /><stop offset=.174 class=q30 /><stop offset=.217 class=q3a /><stop offset=.283 class=q51 /><stop offset=.326 class=q63 /><stop offset=.359 class=q71 /><stop offset=.370 class=q7b /><stop offset=.391 class=q94 /><stop offset=.402 class=qa7 /><stop offset=.424 class=qda /><stop offset=.435 class=qef /><stop offset=.446 class=qcf /><stop offset=.457 class=qb7 /><stop offset=.467 class=qa5 /><stop offset=.478 class=q9a /><stop offset=.489 class=q92 /><stop offset=.522 class=q7d /><stop offset=.543 class=q71 /><stop offset=.587 class=q65 /><stop offset=.620 class=q5e /><stop offset=.641 class=q5e /><stop offset=.652 class=q70 /><stop offset=.674 class=q7b /><stop offset=.707 class=q6f /><stop offset=.739 class=q69 /><stop offset=.761 class=q66 /><stop offset=.772 class=q69 /><stop offset=.783 class=q72 /><stop offset=.793 class=q84 /><stop offset=.804 class=q99 /><stop offset=.815 class=qb0 /><stop offset=.826 class=qd3 /><stop offset=.837 class=qbf /><stop offset=.848 class=q95 /><stop offset=.859 class=q81 /><stop offset=.870 class=q65 /><stop offset=.880 class=q4c /><stop offset=.891 class=q38 /><stop offset=.902 class=q26 /><stop offset=.913 class=q21 /><stop offset=.946 class=q14 /><stop offset=1.000 class=qf /></linearGradient><linearGradient id="g224" x2="0" y2="1"><stop offset=.000 class=q14 /><stop offset=.043 class=q14 /><stop offset=.087 class=q1c /><stop offset=.130 class=q20 /><stop offset=.174 class=q30 /><stop offset=.217 class=q3a /><stop offset=.283 class=q51 /><stop offset=.326 class=q63 /><stop offset=.359 class=q71 /><stop offset=.370 class=q7b /><stop offset=.391 class=q94 /><stop offset=.402 class=qa7 /><stop offset=.424 class=qda /><stop offset=.435 class=qef /><stop offset=.446 class=qcf /><stop offset=.457 class=qb7 /><stop offset=.467 class=qa5 /><stop offset=.478 class=q9a /><stop offset=.522 class=q7d /><stop offset=.543 class=q71 /><stop offset=.598 class=q63 /><stop offset=.609 class=q6a /><stop offset=.641 class=q7b /><stop offset=.652 class=q76 /><stop offset=.685 class=q6d /><stop offset=.717 class=q67 /><stop offset=.761 class=q63 /><stop offset=.772 class=q67 /><stop offset=.783 class=q70 /><stop offset=.793 class=q83 /><stop offset=.815 class=qaf /><stop offset=.826 class=qd2 /><stop offset=.837 class=qbf /><stop offset=.848 class=q95 /><stop offset=.859 class=q81 /><stop offset=.870 class=q65 /><stop offset=.880 class=q4c /><stop offset=.902 class=q26 /><stop offset=.946 class=q14 /><stop offset=1.000 class=qf /></linearGradient><linearGradient id="g225" x2="0" y2="1"><stop offset=.000 class=q14 /><stop offset=.043 class=q14 /><stop offset=.087 class=q1c /><stop offset=.130 class=q20 /><stop offset=.174 class=q30 /><stop offset=.217 class=q3a /><stop offset=.283 class=q51 /><stop offset=.326 class=q63 /><stop offset=.359 class=q71 /><stop offset=.370 class=q7b /><stop offset=.391 class=q94 /><stop offset=.402 class=qa7 /><stop offset=.424 class=qda /><stop offset=.435 class=qef /><stop offset=.446 class=qcf /><stop offset=.457 class=qb7 /><stop offset=.467 class=qa5 /><stop offset=.478 class=q9a /><stop offset=.522 class=q7d /><stop offset=.543 class=q71 /><stop offset=.565 class=q6b /><stop offset=.587 class=q75 /><stop offset=.598 class=q82 /><stop offset=.620 class=q75 /><stop offset=.641 class=q6e /><stop offset=.696 class=q65 /><stop offset=.750 class=q61 /><stop offset=.761 class=q61 /><stop offset=.772 class=q65 /><stop offset=.783 class=q6e /><stop offset=.793 class=q81 /><stop offset=.815 class=qaf /><stop offset=.826 class=qd2 /><stop offset=.837 class=qbe /><stop offset=.848 class=q95 /><stop offset=.859 class=q81 /><stop offset=.870 class=q65 /><stop offset=.880 class=q4c /><stop offset=.902 class=q26 /><stop offset=.946 class=q14 /><stop offset=1.000 class=qf /></linearGradient><linearGradient id="g226" x2="0" y2="1"><stop offset=.000 class=q14 /><stop offset=.043 class=q14 /><stop offset=.087 class=q1c /><stop offset=.130 class=q20 /><stop offset=.174 class=q30 /><stop offset=.217 class=q3a /><stop offset=.283 class=q51 /><stop offset=.326 class=q63 /><stop offset=.359 class=q71 /><stop offset=.370 class=q7b /><stop offset=.391 class=q94 /><stop offset=.402 class=qa7 /><stop offset=.424 class=qd9 /><stop offset=.435 class=qed /><stop offset=.446 class=qce /><stop offset=.457 class=qb6 /><stop offset=.467 class=qa5 /><stop offset=.478 class=q9a /><stop offset=.522 class=q7d /><stop offset=.565 class=q87 /><stop offset=.598 class=q74 /><stop offset=.620 class=q6b /><stop offset=.663 class=q65 /><stop offset=.739 class=q60 /><stop offset=.761 class=q60 /><stop offset=.772 class=q64 /><stop offset=.783 class=q6e /><stop offset=.804 class=q96 /><stop offset=.815 class=qae /><stop offset=.826 class=qd2 /><stop offset=.837 class=qbe /><stop offset=.848 class=q95 /><stop offset=.859 class=q81 /><stop offset=.870 class=q65 /><stop offset=.880 class=q4c /><stop offset=.902 class=q26 /><stop offset=.946 class=q14 /><stop offset=1.000 class=qf /></linearGradient><linearGradient id="g227" x2="0" y2="1"><stop offset=.000 class=q14 /><stop offset=.043 class=q14 /><stop offset=.087 class=q1c /><stop offset=.130 class=q20 /><stop offset=.174 class=q30 /><stop offset=.217 class=q3a /><stop offset=.283 class=q51 /><stop offset=.326 class=q63 /><stop offset=.359 class=q71 /><stop offset=.370 class=q7b /><stop offset=.391 class=q94 /><stop offset=.402 class=qa7 /><stop offset=.424 class=qce /><stop offset=.435 class=qdc /><stop offset=.446 class=qc6 /><stop offset=.457 class=qb4 /><stop offset=.467 class=qa5 /><stop offset=.478 class=q9a /><stop offset=.489 class=q92 /><stop offset=.500 class=q94 /><stop offset=.511 class=q94 /><stop offset=.522 class=q9d /><stop offset=.543 class=q88 /><stop offset=.565 class=q7b /><stop offset=.587 class=q71 /><stop offset=.620 class=q65 /><stop offset=.674 class=q61 /><stop offset=.739 class=q5f /><stop offset=.761 class=q5f /><stop offset=.772 class=q64 /><stop offset=.783 class=q6d /><stop offset=.793 class=q80 /><stop offset=.815 class=qae /><stop offset=.826 class=qd2 /><stop offset=.837 class=qbe /><stop offset=.848 class=q95 /><stop offset=.859 class=q81 /><stop offset=.870 class=q65 /><stop offset=.880 class=q4c /><stop offset=.902 class=q26 /><stop offset=.946 class=q14 /><stop offset=1.000 class=qf /></linearGradient><linearGradient id="g228" x2="0" y2="1"><stop offset=.000 class=q14 /><stop offset=.043 class=q14 /><stop offset=.087 class=q1c /><stop offset=.130 class=q20 /><stop offset=.174 class=q30 /><stop offset=.217 class=q3a /><stop offset=.283 class=q51 /><stop offset=.326 class=q63 /><stop offset=.359 class=q71 /><stop offset=.370 class=q7b /><stop offset=.391 class=q95 /><stop offset=.402 class=qa6 /><stop offset=.413 class=qb3 /><stop offset=.435 class=qb8 /><stop offset=.457 class=qae /><stop offset=.467 class=qa4 /><stop offset=.478 class=qa9 /><stop offset=.489 class=qb2 /><stop offset=.511 class=q9b /><stop offset=.533 class=q87 /><stop offset=.543 class=q7f /><stop offset=.576 class=q70 /><stop offset=.598 class=q69 /><stop offset=.620 class=q63 /><stop offset=.641 class=q61 /><stop offset=.717 class=q5f /><stop offset=.761 class=q5f /><stop offset=.772 class=q64 /><stop offset=.783 class=q6d /><stop offset=.793 class=q80 /><stop offset=.815 class=qae /><stop offset=.826 class=qd2 /><stop offset=.837 class=qbe /><stop offset=.848 class=q95 /><stop offset=.859 class=q81 /><stop offset=.870 class=q65 /><stop offset=.880 class=q4c /><stop offset=.902 class=q26 /><stop offset=.946 class=q14 /><stop offset=1.000 class=qf /></linearGradient><linearGradient id="g229" x2="0" y2="1"><stop offset=.000 class=q14 /><stop offset=.043 class=q14 /><stop offset=.087 class=q1c /><stop offset=.130 class=q20 /><stop offset=.174 class=q30 /><stop offset=.217 class=q3a /><stop offset=.283 class=q51 /><stop offset=.326 class=q63 /><stop offset=.359 class=q71 /><stop offset=.370 class=q7b /><stop offset=.391 class=q95 /><stop offset=.402 class=qa6 /><stop offset=.413 class=qb4 /><stop offset=.435 class=qbc /><stop offset=.446 class=qb6 /><stop offset=.467 class=qba /><stop offset=.478 class=qb2 /><stop offset=.511 class=q94 /><stop offset=.533 class=q82 /><stop offset=.554 class=q76 /><stop offset=.587 class=q6a /><stop offset=.620 class=q61 /><stop offset=.685 class=q5f /><stop offset=.761 class=q5f /><stop offset=.772 class=q63 /><stop offset=.783 class=q6d /><stop offset=.793 class=q80 /><stop offset=.815 class=qae /><stop offset=.826 class=qd2 /><stop offset=.837 class=qbe /><stop offset=.848 class=q95 /><stop offset=.859 class=q81 /><stop offset=.870 class=q65 /><stop offset=.880 class=q4c /><stop offset=.902 class=q26 /><stop offset=.946 class=q14 /><stop offset=1.000 class=qf /></linearGradient><linearGradient id="g230" x2="0" y2="1"><stop offset=.000 class=q14 /><stop offset=.043 class=q15 /><stop offset=.087 class=q1c /><stop offset=.130 class=q20 /><stop offset=.163 class=q2c /><stop offset=.228 class=q3d /><stop offset=.293 class=q55 /><stop offset=.326 class=q63 /><stop offset=.359 class=q72 /><stop offset=.370 class=q7c /><stop offset=.402 class=qaa /><stop offset=.424 class=qd0 /><stop offset=.435 class=qe1 /><stop offset=.446 class=qcf /><stop offset=.457 class=qc2 /><stop offset=.489 class=qa4 /><stop offset=.500 class=q9a /><stop offset=.533 class=q80 /><stop offset=.543 class=q79 /><stop offset=.554 class=q75 /><stop offset=.587 class=q69 /><stop offset=.620 class=q61 /><stop offset=.663 class=q5f /><stop offset=.761 class=q5e /><stop offset=.772 class=q63 /><stop offset=.783 class=q6d /><stop offset=.793 class=q7f /><stop offset=.804 class=q94 /><stop offset=.815 class=qac /><stop offset=.826 class=qce /><stop offset=.837 class=qc2 /><stop offset=.848 class=q97 /><stop offset=.859 class=q81 /><stop offset=.870 class=q64 /><stop offset=.880 class=q4c /><stop offset=.902 class=q26 /><stop offset=.946 class=q14 /><stop offset=1.000 class=qe /></linearGradient><linearGradient id="g231" x2="0" y2="1"><stop offset=.000 class=q14 /><stop offset=.043 class=q15 /><stop offset=.130 class=q20 /><stop offset=.239 class=q3f /><stop offset=.272 class=q4b /><stop offset=.326 class=q64 /><stop offset=.337 class=q6a /><stop offset=.359 class=q7b /><stop offset=.370 class=q89 /><stop offset=.391 class=q9b /><stop offset=.402 class=qaa /><stop offset=.413 class=qbe /><stop offset=.435 class=qee /><stop offset=.446 class=qd7 /><stop offset=.457 class=qc4 /><stop offset=.467 class=qb8 /><stop offset=.511 class=q90 /><stop offset=.543 class=q79 /><stop offset=.554 class=q74 /><stop offset=.576 class=q6c /><stop offset=.609 class=q63 /><stop offset=.652 class=q5f /><stop offset=.761 class=q5e /><stop offset=.772 class=q63 /><stop offset=.783 class=q6c /><stop offset=.804 class=q91 /><stop offset=.815 class=qa7 /><stop offset=.826 class=qc6 /><stop offset=.837 class=qc8 /><stop offset=.848 class=q9c /><stop offset=.870 class=q61 /><stop offset=.880 class=q4a /><stop offset=.902 class=q27 /><stop offset=.913 class=q20 /><stop offset=.946 class=q13 /><stop offset=1.000 class=qd /></linearGradient><linearGradient id="g232" x2="0" y2="1"><stop offset=.000 class=q14 /><stop offset=.054 class=q16 /><stop offset=.087 class=q1b /><stop offset=.098 class=q1b /><stop offset=.130 class=q1f /><stop offset=.185 class=q2f /><stop offset=.217 class=q36 /><stop offset=.272 class=q4a /><stop offset=.304 class=q59 /><stop offset=.315 class=q62 /><stop offset=.326 class=q6f /><stop offset=.337 class=q78 /><stop offset=.359 class=q80 /><stop offset=.370 class=q86 /><stop offset=.391 class=q9a /><stop offset=.402 class=qaa /><stop offset=.413 class=qbd /><stop offset=.435 class=qef /><stop offset=.446 class=qd7 /><stop offset=.457 class=qc3 /><stop offset=.467 class=qb7 /><stop offset=.478 class=qac /><stop offset=.511 class=q90 /><stop offset=.533 class=q80 /><stop offset=.554 class=q73 /><stop offset=.609 class=q63 /><stop offset=.641 class=q5f /><stop offset=.728 class=q5d /><stop offset=.761 class=q5e /><stop offset=.772 class=q64 /><stop offset=.783 class=q6c /><stop offset=.804 class=q8e /><stop offset=.815 class=qa2 /><stop offset=.826 class=qbe /><stop offset=.837 class=qcf /><stop offset=.848 class=qa1 /><stop offset=.859 class=q7d /><stop offset=.870 class=q5e /><stop offset=.880 class=q49 /><stop offset=.902 class=q28 /><stop offset=.913 class=q20 /><stop offset=.946 class=q13 /><stop offset=1.000 class=qb /></linearGradient><linearGradient id="g233" x2="0" y2="1"><stop offset=.000 class=q14 /><stop offset=.043 class=q16 /><stop offset=.130 class=q1f /><stop offset=.174 class=q2b /><stop offset=.207 class=q32 /><stop offset=.261 class=q44 /><stop offset=.304 class=q66 /><stop offset=.370 class=q84 /><stop offset=.391 class=q9a /><stop offset=.402 class=qa9 /><stop offset=.413 class=qbc /><stop offset=.424 class=qd4 /><stop offset=.435 class=qef /><stop offset=.457 class=qc1 /><stop offset=.478 class=qac /><stop offset=.511 class=q90 /><stop offset=.533 class=q80 /><stop offset=.554 class=q73 /><stop offset=.609 class=q63 /><stop offset=.641 class=q5f /><stop offset=.685 class=q5d /><stop offset=.761 class=q5d /><stop offset=.772 class=q64 /><stop offset=.783 class=q6b /><stop offset=.793 class=q7a /><stop offset=.804 class=q8b /><stop offset=.815 class=q9d /><stop offset=.826 class=qb7 /><stop offset=.837 class=qd5 /><stop offset=.848 class=qa6 /><stop offset=.859 class=q7c /><stop offset=.870 class=q5b /><stop offset=.880 class=q48 /><stop offset=.891 class=q38 /><stop offset=.902 class=q29 /><stop offset=.913 class=q1f /><stop offset=.946 class=q12 /><stop offset=1.000 class=qa /></linearGradient><linearGradient id="g234" x2="0" y2="1"><stop offset=.000 class=q14 /><stop offset=.087 class=q19 /><stop offset=.109 class=q1b /><stop offset=.141 class=q21 /><stop offset=.217 class=q33 /><stop offset=.228 class=q37 /><stop offset=.272 class=q53 /><stop offset=.304 class=q61 /><stop offset=.337 class=q75 /><stop offset=.370 class=q83 /><stop offset=.391 class=q9a /><stop offset=.402 class=qa9 /><stop offset=.413 class=qbb /><stop offset=.424 class=qd2 /><stop offset=.435 class=qef /><stop offset=.457 class=qc0 /><stop offset=.511 class=q90 /><stop offset=.554 class=q72 /><stop offset=.620 class=q61 /><stop offset=.641 class=q5f /><stop offset=.663 class=q5d /><stop offset=.717 class=q5c /><stop offset=.761 class=q5d /><stop offset=.772 class=q64 /><stop offset=.783 class=q6b /><stop offset=.793 class=q79 /><stop offset=.815 class=q98 /><stop offset=.826 class=qaf /><stop offset=.837 class=qdc /><stop offset=.859 class=q7a /><stop offset=.870 class=q58 /><stop offset=.891 class=q37 /><stop offset=.902 class=q29 /><stop offset=.913 class=q1f /><stop offset=.946 class=q12 /><stop offset=1.000 class=q8 /></linearGradient><linearGradient id="g235" x2="0" y2="1"><stop offset=.000 class=q14 /><stop offset=.098 class=q1a /><stop offset=.120 class=q1c /><stop offset=.185 class=q2b /><stop offset=.196 class=q2e /><stop offset=.207 class=q34 /><stop offset=.228 class=q44 /><stop offset=.272 class=q4f /><stop offset=.315 class=q65 /><stop offset=.337 class=q73 /><stop offset=.370 class=q82 /><stop offset=.391 class=q9a /><stop offset=.402 class=qa9 /><stop offset=.413 class=qbb /><stop offset=.424 class=qd2 /><stop offset=.435 class=qef /><stop offset=.457 class=qc0 /><stop offset=.511 class=q90 /><stop offset=.554 class=q72 /><stop offset=.598 class=q66 /><stop offset=.641 class=q5f /><stop offset=.707 class=q5c /><stop offset=.761 class=q5d /><stop offset=.772 class=q64 /><stop offset=.783 class=q6b /><stop offset=.793 class=q78 /><stop offset=.815 class=q97 /><stop offset=.826 class=qac /><stop offset=.837 class=qde /><stop offset=.859 class=q7a /><stop offset=.870 class=q57 /><stop offset=.891 class=q37 /><stop offset=.902 class=q2a /><stop offset=.913 class=q1f /><stop offset=.946 class=q12 /><stop offset=1.000 class=q8 /></linearGradient><linearGradient id="g236" x2="0" y2="1"><stop offset=.000 class=q14 /><stop offset=.087 class=q19 /><stop offset=.120 class=q1c /><stop offset=.141 class=q21 /><stop offset=.152 class=q24 /><stop offset=.196 class=q3b /><stop offset=.217 class=q3d /><stop offset=.272 class=q4c /><stop offset=.315 class=q63 /><stop offset=.337 class=q72 /><stop offset=.370 class=q81 /><stop offset=.391 class=q9a /><stop offset=.402 class=qa9 /><stop offset=.413 class=qbb /><stop offset=.424 class=qd2 /><stop offset=.435 class=qef /><stop offset=.457 class=qc0 /><stop offset=.511 class=q90 /><stop offset=.554 class=q72 /><stop offset=.598 class=q66 /><stop offset=.641 class=q5f /><stop offset=.707 class=q5c /><stop offset=.761 class=q5d /><stop offset=.772 class=q64 /><stop offset=.783 class=q6b /><stop offset=.793 class=q78 /><stop offset=.815 class=q97 /><stop offset=.826 class=qac /><stop offset=.837 class=qde /><stop offset=.859 class=q7a /><stop offset=.870 class=q57 /><stop offset=.891 class=q37 /><stop offset=.902 class=q2a /><stop offset=.913 class=q1f /><stop offset=.946 class=q12 /><stop offset=1.000 class=q8 /></linearGradient><linearGradient id="g237" x2="0" y2="1"><stop offset=.000 class=q14 /><stop offset=.109 class=q1b /><stop offset=.120 class=q1c /><stop offset=.130 class=q22 /><stop offset=.163 class=q33 /><stop offset=.217 class=q3a /><stop offset=.261 class=q47 /><stop offset=.283 class=q50 /><stop offset=.315 class=q62 /><stop offset=.337 class=q71 /><stop offset=.370 class=q81 /><stop offset=.391 class=q99 /><stop offset=.402 class=qa9 /><stop offset=.413 class=qbb /><stop offset=.424 class=qd2 /><stop offset=.435 class=qef /><stop offset=.457 class=qc0 /><stop offset=.511 class=q90 /><stop offset=.554 class=q72 /><stop offset=.598 class=q66 /><stop offset=.641 class=q5f /><stop offset=.707 class=q5c /><stop offset=.761 class=q5d /><stop offset=.772 class=q64 /><stop offset=.783 class=q6b /><stop offset=.793 class=q78 /><stop offset=.815 class=q97 /><stop offset=.826 class=qac /><stop offset=.837 class=qde /><stop offset=.859 class=q7a /><stop offset=.870 class=q57 /><stop offset=.891 class=q37 /><stop offset=.902 class=q2a /><stop offset=.913 class=q1f /><stop offset=.946 class=q12 /><stop offset=1.000 class=q8 /></linearGradient><linearGradient id="g238" x2="0" y2="1"><stop offset=.000 class=q14 /><stop offset=.076 class=q18 /><stop offset=.087 class=q19 /><stop offset=.109 class=q22 /><stop offset=.120 class=q2a /><stop offset=.163 class=q2f /><stop offset=.217 class=q38 /><stop offset=.272 class=q49 /><stop offset=.315 class=q61 /><stop offset=.337 class=q70 /><stop offset=.370 class=q80 /><stop offset=.391 class=q99 /><stop offset=.402 class=qa9 /><stop offset=.413 class=qbb /><stop offset=.424 class=qd2 /><stop offset=.435 class=qef /><stop offset=.457 class=qc0 /><stop offset=.511 class=q90 /><stop offset=.554 class=q72 /><stop offset=.598 class=q66 /><stop offset=.641 class=q5f /><stop offset=.707 class=q5c /><stop offset=.761 class=q5d /><stop offset=.772 class=q64 /><stop offset=.783 class=q6b /><stop offset=.793 class=q78 /><stop offset=.815 class=q97 /><stop offset=.826 class=qac /><stop offset=.837 class=qde /><stop offset=.859 class=q7a /><stop offset=.870 class=q57 /><stop offset=.891 class=q37 /><stop offset=.902 class=q2a /><stop offset=.913 class=q1f /><stop offset=.946 class=q12 /><stop offset=1.000 class=q8 /></linearGradient><linearGradient id="g239" x2="0" y2="1"><stop offset=.000 class=q14 /><stop offset=.054 class=q17 /><stop offset=.065 class=q1b /><stop offset=.076 class=q23 /><stop offset=.087 class=q26 /><stop offset=.130 class=q27 /><stop offset=.217 class=q37 /><stop offset=.272 class=q48 /><stop offset=.315 class=q61 /><stop offset=.337 class=q70 /><stop offset=.370 class=q80 /><stop offset=.391 class=q99 /><stop offset=.402 class=qa9 /><stop offset=.413 class=qbb /><stop offset=.424 class=qd2 /><stop offset=.435 class=qef /><stop offset=.457 class=qc0 /><stop offset=.511 class=q90 /><stop offset=.554 class=q72 /><stop offset=.598 class=q66 /><stop offset=.641 class=q5f /><stop offset=.707 class=q5c /><stop offset=.761 class=q5d /><stop offset=.772 class=q64 /><stop offset=.783 class=q6b /><stop offset=.793 class=q78 /><stop offset=.815 class=q97 /><stop offset=.826 class=qac /><stop offset=.837 class=qde /><stop offset=.859 class=q7a /><stop offset=.870 class=q57 /><stop offset=.891 class=q37 /><stop offset=.902 class=q2a /><stop offset=.913 class=q1f /><stop offset=.946 class=q12 /><stop offset=1.000 class=q8 /></linearGradient><linearGradient id="g240" x2="0" y2="1"><stop offset=.000 class=q14 /><stop offset=.022 class=q16 /><stop offset=.033 class=q1d /><stop offset=.043 class=q21 /><stop offset=.054 class=q24 /><stop offset=.098 class=q22 /><stop offset=.130 class=q25 /><stop offset=.217 class=q36 /><stop offset=.272 class=q48 /><stop offset=.315 class=q60 /><stop offset=.337 class=q6f /><stop offset=.370 class=q80 /><stop offset=.391 class=q99 /><stop offset=.402 class=qa9 /><stop offset=.413 class=qbb /><stop offset=.424 class=qd2 /><stop offset=.435 class=qef /><stop offset=.457 class=qc0 /><stop offset=.511 class=q90 /><stop offset=.554 class=q72 /><stop offset=.598 class=q66 /><stop offset=.641 class=q5f /><stop offset=.707 class=q5c /><stop offset=.761 class=q5d /><stop offset=.772 class=q64 /><stop offset=.783 class=q6b /><stop offset=.793 class=q78 /><stop offset=.815 class=q97 /><stop offset=.826 class=qac /><stop offset=.837 class=qde /><stop offset=.859 class=q7a /><stop offset=.870 class=q57 /><stop offset=.891 class=q37 /><stop offset=.902 class=q2a /><stop offset=.913 class=q1f /><stop offset=.946 class=q12 /><stop offset=1.000 class=q8 /></linearGradient><linearGradient id="g241" x2="0" y2="1"><stop offset=.000 class=q14 /><stop offset=.011 class=q20 /><stop offset=.022 class=q23 /><stop offset=.087 class=q20 /><stop offset=.130 class=q23 /><stop offset=.217 class=q35 /><stop offset=.272 class=q47 /><stop offset=.315 class=q60 /><stop offset=.337 class=q6f /><stop offset=.370 class=q7f /><stop offset=.391 class=q99 /><stop offset=.402 class=qa9 /><stop offset=.413 class=qbb /><stop offset=.424 class=qd2 /><stop offset=.435 class=qef /><stop offset=.457 class=qc0 /><stop offset=.511 class=q90 /><stop offset=.554 class=q72 /><stop offset=.598 class=q66 /><stop offset=.641 class=q5f /><stop offset=.707 class=q5c /><stop offset=.761 class=q5d /><stop offset=.772 class=q64 /><stop offset=.783 class=q6b /><stop offset=.793 class=q78 /><stop offset=.815 class=q97 /><stop offset=.826 class=qac /><stop offset=.837 class=qde /><stop offset=.859 class=q7a /><stop offset=.870 class=q57 /><stop offset=.891 class=q37 /><stop offset=.902 class=q2a /><stop offset=.913 class=q1f /><stop offset=.946 class=q12 /><stop offset=1.000 class=q8 /></linearGradient><linearGradient id="g242" x2="0" y2="1"><stop offset=.000 class=q14 /><stop offset=.011 class=q23 /><stop offset=.098 class=q20 /><stop offset=.130 class=q23 /><stop offset=.217 class=q35 /><stop offset=.272 class=q47 /><stop offset=.315 class=q60 /><stop offset=.337 class=q6f /><stop offset=.370 class=q7f /><stop offset=.391 class=q99 /><stop offset=.402 class=qa9 /><stop offset=.413 class=qbb /><stop offset=.424 class=qd2 /><stop offset=.435 class=qef /><stop offset=.457 class=qc0 /><stop offset=.511 class=q90 /><stop offset=.554 class=q72 /><stop offset=.598 class=q66 /><stop offset=.641 class=q5f /><stop offset=.707 class=q5c /><stop offset=.761 class=q5d /><stop offset=.772 class=q64 /><stop offset=.783 class=q6b /><stop offset=.793 class=q78 /><stop offset=.815 class=q97 /><stop offset=.826 class=qac /><stop offset=.837 class=qde /><stop offset=.859 class=q7a /><stop offset=.870 class=q57 /><stop offset=.891 class=q37 /><stop offset=.902 class=q2a /><stop offset=.913 class=q1f /><stop offset=.946 class=q12 /><stop offset=1.000 class=q8 /></linearGradient><clipPath id="ov_b1"><rect x="241.2" y="26.3" width="116.10" height="92.10"/></clipPath><clipPath id="ov_b2"><rect x="240.4" y="142.4" width="116.30" height="91.90"/></clipPath><clipPath id="ov_b3"><rect x="240.4" y="258.7" width="116.30" height="92.00"/></clipPath><clipPath id="ov_b4"><rect x="240.4" y="375.0" width="116.30" height="92.00"/></clipPath><clipPath id="ov_b5"><rect x="239.3" y="491.1" width="116.50" height="92.00"/></clipPath><clipPath id="pc_c1"><rect x="402.1" y="26.6" width="115.70" height="91.90"/></clipPath><clipPath id="pc_c2"><rect x="401.7" y="142.5" width="114.80" height="91.70"/></clipPath><clipPath id="pc_c3"><rect x="401.7" y="258.7" width="114.80" height="92.30"/></clipPath><clipPath id="pc_c4"><rect x="401.7" y="374.8" width="114.80" height="92.30"/></clipPath><clipPath id="pc_c5"><rect x="400.5" y="491.5" width="115.20" height="91.90"/></clipPath><clipPath id="pc_d1"><rect x="557.6" y="26.6" width="115.20" height="91.70"/></clipPath><clipPath id="pc_d2"><rect x="557.6" y="142.4" width="115.10" height="91.90"/></clipPath><clipPath id="pc_d3"><rect x="557.6" y="258.5" width="115.10" height="92.50"/></clipPath><clipPath id="pc_d4"><rect x="557.6" y="374.5" width="115.10" height="92.60"/></clipPath><clipPath id="pc_d5"><rect x="557.6" y="491.5" width="115.10" height="91.80"/></clipPath><linearGradient id="cbA" x1="0" y1="0" x2="1" y2="0"><stop offset="0.000" stop-color="#800000"/><stop offset="0.125" stop-color="#ff0000"/><stop offset="0.250" stop-color="#ff8000"/><stop offset="0.375" stop-color="#ffff00"/><stop offset="0.500" stop-color="#80ff80"/><stop offset="0.625" stop-color="#00ffff"/><stop offset="0.750" stop-color="#0080ff"/><stop offset="0.875" stop-color="#0000ff"/><stop offset="1.000" stop-color="#000080"/></linearGradient><linearGradient id="cbB" x1="0" y1="0" x2="1" y2="0"><stop offset="0.000" stop-color="#800000"/><stop offset="0.125" stop-color="#ff0000"/><stop offset="0.250" stop-color="#ff8000"/><stop offset="0.375" stop-color="#ffff00"/><stop offset="0.500" stop-color="#80ff80"/><stop offset="0.625" stop-color="#00ffff"/><stop offset="0.750" stop-color="#0080ff"/><stop offset="0.875" stop-color="#0000ff"/><stop offset="1.000" stop-color="#000080"/></linearGradient></defs>
<rect width="685" height="618" fill="#fff"/>
<g clip-path="url(#clip0)"><g filter="url(#cm0)"><rect x="45.2" y="84.4" width="5.5" height="91.8" fill="url(#g0)"/><rect x="49.2" y="84.4" width="5.5" height="91.8" fill="url(#g1)"/><rect x="53.2" y="84.4" width="5.5" height="91.8" fill="url(#g2)"/><rect x="57.2" y="84.4" width="5.5" height="91.8" fill="url(#g3)"/><rect x="61.2" y="84.4" width="5.5" height="91.8" fill="url(#g4)"/><rect x="65.2" y="84.4" width="5.5" height="91.8" fill="url(#g5)"/><rect x="69.2" y="84.4" width="5.5" height="91.8" fill="url(#g6)"/><rect x="73.2" y="84.4" width="5.5" height="91.8" fill="url(#g7)"/><rect x="77.2" y="84.4" width="5.5" height="91.8" fill="url(#g8)"/><rect x="81.2" y="84.4" width="5.5" height="91.8" fill="url(#g9)"/><rect x="85.2" y="84.4" width="5.5" height="91.8" fill="url(#g10)"/><rect x="89.2" y="84.4" width="5.5" height="91.8" fill="url(#g11)"/><rect x="93.2" y="84.4" width="5.5" height="91.8" fill="url(#g12)"/><rect x="97.2" y="84.4" width="5.5" height="91.8" fill="url(#g13)"/><rect x="101.2" y="84.4" width="5.5" height="91.8" fill="url(#g14)"/><rect x="105.2" y="84.4" width="5.5" height="91.8" fill="url(#g15)"/><rect x="109.2" y="84.4" width="5.5" height="91.8" fill="url(#g16)"/><rect x="113.2" y="84.4" width="5.5" height="91.8" fill="url(#g17)"/><rect x="117.2" y="84.4" width="5.5" height="91.8" fill="url(#g18)"/><rect x="121.2" y="84.4" width="5.5" height="91.8" fill="url(#g19)"/><rect x="125.2" y="84.4" width="5.5" height="91.8" fill="url(#g20)"/><rect x="129.2" y="84.4" width="5.5" height="91.8" fill="url(#g21)"/><rect x="133.2" y="84.4" width="5.5" height="91.8" fill="url(#g22)"/><rect x="137.2" y="84.4" width="5.5" height="91.8" fill="url(#g23)"/><rect x="141.2" y="84.4" width="5.5" height="91.8" fill="url(#g24)"/><rect x="145.2" y="84.4" width="5.5" height="91.8" fill="url(#g25)"/><rect x="149.2" y="84.4" width="5.5" height="91.8" fill="url(#g26)"/><rect x="153.2" y="84.4" width="5.5" height="91.8" fill="url(#g27)"/><rect x="157.2" y="84.4" width="5.5" height="91.8" fill="url(#g28)"/><rect x="161.2" y="84.4" width="5.5" height="91.8" fill="url(#g29)"/><rect x="165.2" y="84.4" width="5.5" height="91.8" fill="url(#g30)"/><rect x="169.2" y="84.4" width="5.5" height="91.8" fill="url(#g31)"/></g></g>
<g clip-path="url(#ov_a1)" fill="none"><path d="M49.2,130.8 50.3,130.8 51.3,130.8 52.4,130.8 53.5,130.8 54.6,130.8 55.6,130.8 56.7,130.8 57.8,130.8 58.8,130.8 59.9,130.8 61.0,130.8 62.0,130.8 63.1,130.8 64.2,130.8 65.3,130.8 66.3,130.8 67.4,130.8 68.5,130.8 69.5,130.8 70.6,130.8 71.7,130.8 72.8,130.8 73.8,130.8 74.9,130.8 76.0,130.8 77.0,130.8 78.1,130.8 79.2,130.8 80.2,130.8 81.3,130.8 82.4,130.8 83.5,130.8 84.5,130.7 85.6,130.7 86.7,130.7 87.7,130.7 88.8,130.7 89.9,130.7 91.0,130.7 92.0,130.6 93.1,130.6 94.2,130.6 95.2,130.5 96.3,130.4 97.4,130.3 98.4,130.2 99.5,130.0 100.6,129.8 101.7,129.4 102.7,128.9 103.8,128.4 104.9,127.7 105.9,127.1 107.0,126.4 108.1,125.6 109.2,124.9 110.2,124.2 111.3,123.4 112.4,122.7 113.4,121.9 114.5,121.1 115.6,120.4 116.7,119.6 117.7,118.8 118.8,118.1 119.9,117.3 120.9,116.5 122.0,115.8 123.1,115.0 124.1,114.2 125.2,113.4 126.3,112.7 127.4,111.9 128.4,111.1 129.5,110.4 130.6,109.6 131.6,108.8 132.7,108.0 133.8,107.3 134.9,106.5 135.9,105.7 137.0,104.9 138.1,104.1 139.1,103.4 140.2,102.6 141.3,101.8 142.3,101.0 143.4,100.3 144.5,99.5 145.6,98.7 146.6,97.9 147.7,97.2 148.8,96.4 149.8,95.6 150.9,94.8 152.0,94.1 153.1,93.3 154.1,92.5 155.2,91.7 156.3,90.9 157.3,90.2 158.4,89.4 159.5,88.6 160.5,87.8 161.6,87.1 162.7,86.3 163.8,85.5 164.8,84.7 165.9,83.9" stroke="#ffb000" stroke-opacity="0.55" stroke-width="1.6"/><path d="M49.2,168.9 50.3,168.1 51.3,167.3 52.4,166.5 53.5,165.8 54.6,165.0 55.6,164.2 56.7,163.4 57.8,162.6 58.8,161.9 59.9,161.1 61.0,160.3 62.0,159.5 63.1,158.8 64.2,158.0 65.3,157.2 66.3,156.4 67.4,155.7 68.5,154.9 69.5,154.1 70.6,153.3 71.7,152.6 72.8,151.8 73.8,151.0 74.9,150.2 76.0,149.5 77.0,148.7 78.1,147.9 79.2,147.1 80.2,146.4 81.3,145.6 82.4,144.8 83.5,144.1 84.5,143.3 85.6,142.5 86.7,141.7 87.7,141.0 88.8,140.2 89.9,139.5 91.0,138.7 92.0,138.0 93.1,137.2 94.2,136.5 95.2,135.7 96.3,135.0 97.4,134.3 98.4,133.7 99.5,133.1 100.6,132.6 101.7,132.2 102.7,131.9 103.8,131.6 104.9,131.5 105.9,131.4 107.0,131.3 108.1,131.3 109.2,131.2 110.2,131.2 111.3,131.2 112.4,131.1 113.4,131.1 114.5,131.1 115.6,131.1 116.7,131.1 117.7,131.1 118.8,131.0 119.9,131.0 120.9,131.0 122.0,131.0 123.1,131.0 124.1,131.0 125.2,131.0 126.3,131.0 127.4,131.0 128.4,131.0 129.5,131.0 130.6,131.0 131.6,131.0 132.7,131.0 133.8,131.0 134.9,131.0 135.9,131.0 137.0,131.0 138.1,131.0 139.1,131.0 140.2,131.0 141.3,131.0 142.3,131.0 143.4,131.0 144.5,131.0 145.6,131.0 146.6,131.0 147.7,131.0 148.8,131.0 149.8,131.0 150.9,130.9 152.0,130.9 153.1,130.9 154.1,130.9 155.2,130.9 156.3,130.9 157.3,130.9 158.4,130.9 159.5,130.9 160.5,130.9 161.6,130.9 162.7,130.9 163.8,130.9 164.8,130.9 165.9,130.9" stroke="#ffb000" stroke-opacity="0.2" stroke-width="1.4"/><path d="M49.2,130.8 50.3,130.8 51.3,130.8 52.4,130.8 53.5,130.8 54.6,130.8 55.6,130.8 56.7,130.8 57.8,130.8 58.8,130.8 59.9,130.8 61.0,130.8 62.0,130.8 63.1,130.8 64.2,130.8 65.3,130.8 66.3,130.8 67.4,130.8 68.5,130.8 69.5,130.8 70.6,130.8 71.7,130.8 72.8,130.8 73.8,130.8 74.9,130.8 76.0,130.8 77.0,130.8 78.1,130.8 79.2,130.8 80.2,130.8 81.3,130.8 82.4,130.8 83.5,130.8 84.5,130.7 85.6,130.7 86.7,130.7 87.7,130.7 88.8,130.7 89.9,130.7 91.0,130.7 92.0,130.6 93.1,130.6 94.2,130.6 95.2,130.5 96.3,130.4 97.4,130.3 98.4,130.2 99.5,130.0 100.6,129.8 101.7,129.4 102.7,128.9 103.8,128.4 104.9,127.7 105.9,127.1 107.0,126.4 108.1,125.6 109.2,124.9 110.2,124.2 111.3,123.4 112.4,122.7 113.4,121.9 114.5,121.1 115.6,120.4 116.7,119.6 117.7,118.8 118.8,118.1 119.9,117.3 120.9,116.5 122.0,115.8 123.1,115.0 124.1,114.2 125.2,113.4 126.3,112.7 127.4,111.9 128.4,111.1 129.5,110.4 130.6,109.6 131.6,108.8 132.7,108.0 133.8,107.3 134.9,106.5 135.9,105.7 137.0,104.9 138.1,104.1 139.1,103.4 140.2,102.6 141.3,101.8 142.3,101.0 143.4,100.3 144.5,99.5 145.6,98.7 146.6,97.9 147.7,97.2 148.8,96.4 149.8,95.6 150.9,94.8 152.0,94.1 153.1,93.3 154.1,92.5 155.2,91.7 156.3,90.9 157.3,90.2 158.4,89.4 159.5,88.6 160.5,87.8 161.6,87.1 162.7,86.3 163.8,85.5 164.8,84.7 165.9,83.9" stroke="#c01818" stroke-width="0.8" stroke-dasharray="1.1 0.9"/><path d="M49.2,168.9 50.3,168.1 51.3,167.3 52.4,166.5 53.5,165.8 54.6,165.0 55.6,164.2 56.7,163.4 57.8,162.6 58.8,161.9 59.9,161.1 61.0,160.3 62.0,159.5 63.1,158.8 64.2,158.0 65.3,157.2 66.3,156.4 67.4,155.7 68.5,154.9 69.5,154.1 70.6,153.3 71.7,152.6 72.8,151.8 73.8,151.0 74.9,150.2 76.0,149.5 77.0,148.7 78.1,147.9 79.2,147.1 80.2,146.4 81.3,145.6 82.4,144.8 83.5,144.1 84.5,143.3 85.6,142.5 86.7,141.7 87.7,141.0 88.8,140.2 89.9,139.5 91.0,138.7 92.0,138.0 93.1,137.2 94.2,136.5 95.2,135.7 96.3,135.0 97.4,134.3 98.4,133.7 99.5,133.1 100.6,132.6 101.7,132.2 102.7,131.9 103.8,131.6 104.9,131.5 105.9,131.4 107.0,131.3 108.1,131.3 109.2,131.2 110.2,131.2 111.3,131.2 112.4,131.1 113.4,131.1 114.5,131.1 115.6,131.1 116.7,131.1 117.7,131.1 118.8,131.0 119.9,131.0 120.9,131.0 122.0,131.0 123.1,131.0 124.1,131.0 125.2,131.0 126.3,131.0 127.4,131.0 128.4,131.0 129.5,131.0 130.6,131.0 131.6,131.0 132.7,131.0 133.8,131.0 134.9,131.0 135.9,131.0 137.0,131.0 138.1,131.0 139.1,131.0 140.2,131.0 141.3,131.0 142.3,131.0 143.4,131.0 144.5,131.0 145.6,131.0 146.6,131.0 147.7,131.0 148.8,131.0 149.8,131.0 150.9,130.9 152.0,130.9 153.1,130.9 154.1,130.9 155.2,130.9 156.3,130.9 157.3,130.9 158.4,130.9 159.5,130.9 160.5,130.9 161.6,130.9 162.7,130.9 163.8,130.9 164.8,130.9 165.9,130.9" stroke="#101010" stroke-width="0.9" stroke-dasharray="2.2 0.5"/></g>
<g clip-path="url(#clip1)"><g filter="url(#cm1)"><rect x="46.2" y="319.1" width="5.5" height="91.4" fill="url(#g32)"/><rect x="50.2" y="319.1" width="5.5" height="91.4" fill="url(#g33)"/><rect x="54.2" y="319.1" width="5.5" height="91.4" fill="url(#g34)"/><rect x="58.2" y="319.1" width="5.5" height="91.4" fill="url(#g35)"/><rect x="62.2" y="319.1" width="5.5" height="91.4" fill="url(#g36)"/><rect x="66.2" y="319.1" width="5.5" height="91.4" fill="url(#g37)"/><rect x="70.2" y="319.1" width="5.5" height="91.4" fill="url(#g38)"/><rect x="74.2" y="319.1" width="5.5" height="91.4" fill="url(#g39)"/><rect x="78.2" y="319.1" width="5.5" height="91.4" fill="url(#g40)"/><rect x="82.2" y="319.1" width="5.5" height="91.4" fill="url(#g41)"/><rect x="86.2" y="319.1" width="5.5" height="91.4" fill="url(#g42)"/><rect x="90.2" y="319.1" width="5.5" height="91.4" fill="url(#g43)"/><rect x="94.2" y="319.1" width="5.5" height="91.4" fill="url(#g44)"/><rect x="98.2" y="319.1" width="5.5" height="91.4" fill="url(#g45)"/><rect x="102.2" y="319.1" width="5.5" height="91.4" fill="url(#g46)"/><rect x="106.2" y="319.1" width="5.5" height="91.4" fill="url(#g47)"/><rect x="110.2" y="319.1" width="5.5" height="91.4" fill="url(#g48)"/><rect x="114.2" y="319.1" width="5.5" height="91.4" fill="url(#g49)"/><rect x="118.2" y="319.1" width="5.5" height="91.4" fill="url(#g50)"/><rect x="122.2" y="319.1" width="5.5" height="91.4" fill="url(#g51)"/><rect x="126.2" y="319.1" width="5.5" height="91.4" fill="url(#g52)"/><rect x="130.2" y="319.1" width="5.5" height="91.4" fill="url(#g53)"/><rect x="134.2" y="319.1" width="5.5" height="91.4" fill="url(#g54)"/><rect x="138.2" y="319.1" width="5.5" height="91.4" fill="url(#g55)"/><rect x="142.2" y="319.1" width="5.5" height="91.4" fill="url(#g56)"/><rect x="146.2" y="319.1" width="5.5" height="91.4" fill="url(#g57)"/><rect x="150.2" y="319.1" width="5.5" height="91.4" fill="url(#g58)"/><rect x="154.2" y="319.1" width="5.5" height="91.4" fill="url(#g59)"/><rect x="158.2" y="319.1" width="5.5" height="91.4" fill="url(#g60)"/><rect x="162.2" y="319.1" width="5.5" height="91.4" fill="url(#g61)"/><rect x="166.2" y="319.1" width="5.5" height="91.4" fill="url(#g62)"/></g></g>
<g clip-path="url(#ov_a2)" fill="none"><path d="M50.2,366.5 51.3,366.5 52.3,366.5 53.4,366.5 54.4,366.5 55.5,366.5 56.6,366.5 57.6,366.5 58.7,366.5 59.8,366.5 60.8,366.5 61.9,366.5 62.9,366.5 64.0,366.5 65.1,366.5 66.1,366.5 67.2,366.5 68.2,366.5 69.3,366.5 70.4,366.5 71.4,366.5 72.5,366.5 73.6,366.5 74.6,366.5 75.7,366.5 76.7,366.5 77.8,366.4 78.9,366.4 79.9,366.4 81.0,366.4 82.0,366.4 83.1,366.4 84.2,366.4 85.2,366.4 86.3,366.4 87.4,366.4 88.4,366.4 89.5,366.4 90.5,366.4 91.6,366.4 92.7,366.4 93.7,366.4 94.8,366.4 95.8,366.4 96.9,366.4 98.0,366.3 99.0,366.3 100.1,366.3 101.2,366.3 102.2,366.2 103.3,366.1 104.3,366.0 105.4,365.8 106.5,365.5 107.5,365.0 108.6,364.4 109.6,363.8 110.7,363.1 111.8,362.4 112.8,361.7 113.9,361.0 114.9,360.2 116.0,359.5 117.1,358.8 118.1,358.0 119.2,357.3 120.3,356.6 121.3,355.8 122.4,355.1 123.4,354.4 124.5,353.6 125.6,352.9 126.6,352.2 127.7,351.4 128.7,350.7 129.8,350.0 130.9,349.2 131.9,348.5 133.0,347.7 134.1,347.0 135.1,346.3 136.2,345.5 137.2,344.8 138.3,344.1 139.4,343.3 140.4,342.6 141.5,341.8 142.5,341.1 143.6,340.4 144.7,339.6 145.7,338.9 146.8,338.1 147.9,337.4 148.9,336.7 150.0,335.9 151.0,335.2 152.1,334.4 153.2,333.7 154.2,333.0 155.3,332.2 156.3,331.5 157.4,330.7 158.5,330.0 159.5,329.3 160.6,328.5 161.7,327.8 162.7,327.0 163.8,326.3 164.8,325.6 165.9,324.8" stroke="#ffb000" stroke-opacity="0.55" stroke-width="1.6"/><path d="M50.2,405.5 51.3,404.8 52.3,404.1 53.4,403.3 54.4,402.6 55.5,401.8 56.6,401.1 57.6,400.4 58.7,399.6 59.8,398.9 60.8,398.1 61.9,397.4 62.9,396.7 64.0,395.9 65.1,395.2 66.1,394.4 67.2,393.7 68.2,393.0 69.3,392.2 70.4,391.5 71.4,390.7 72.5,390.0 73.6,389.3 74.6,388.5 75.7,387.8 76.7,387.0 77.8,386.3 78.9,385.6 79.9,384.8 81.0,384.1 82.0,383.4 83.1,382.6 84.2,381.9 85.2,381.1 86.3,380.4 87.4,379.7 88.4,378.9 89.5,378.2 90.5,377.5 91.6,376.7 92.7,376.0 93.7,375.3 94.8,374.5 95.8,373.8 96.9,373.1 98.0,372.4 99.0,371.6 100.1,370.9 101.2,370.2 102.2,369.5 103.3,368.9 104.3,368.2 105.4,367.7 106.5,367.3 107.5,367.0 108.6,366.9 109.6,366.8 110.7,366.7 111.8,366.7 112.8,366.7 113.9,366.6 114.9,366.6 116.0,366.6 117.1,366.6 118.1,366.6 119.2,366.6 120.3,366.6 121.3,366.6 122.4,366.6 123.4,366.6 124.5,366.6 125.6,366.6 126.6,366.5 127.7,366.5 128.7,366.5 129.8,366.5 130.9,366.5 131.9,366.5 133.0,366.5 134.1,366.5 135.1,366.5 136.2,366.5 137.2,366.5 138.3,366.5 139.4,366.5 140.4,366.5 141.5,366.5 142.5,366.5 143.6,366.5 144.7,366.5 145.7,366.5 146.8,366.5 147.9,366.5 148.9,366.5 150.0,366.5 151.0,366.5 152.1,366.5 153.2,366.5 154.2,366.5 155.3,366.5 156.3,366.5 157.4,366.5 158.5,366.5 159.5,366.5 160.6,366.5 161.7,366.5 162.7,366.5 163.8,366.5 164.8,366.5 165.9,366.5" stroke="#ffb000" stroke-opacity="0.2" stroke-width="1.4"/><path d="M50.2,366.5 51.3,366.5 52.3,366.5 53.4,366.5 54.4,366.5 55.5,366.5 56.6,366.5 57.6,366.5 58.7,366.5 59.8,366.5 60.8,366.5 61.9,366.5 62.9,366.5 64.0,366.5 65.1,366.5 66.1,366.5 67.2,366.5 68.2,366.5 69.3,366.5 70.4,366.5 71.4,366.5 72.5,366.5 73.6,366.5 74.6,366.5 75.7,366.5 76.7,366.5 77.8,366.4 78.9,366.4 79.9,366.4 81.0,366.4 82.0,366.4 83.1,366.4 84.2,366.4 85.2,366.4 86.3,366.4 87.4,366.4 88.4,366.4 89.5,366.4 90.5,366.4 91.6,366.4 92.7,366.4 93.7,366.4 94.8,366.4 95.8,366.4 96.9,366.4 98.0,366.3 99.0,366.3 100.1,366.3 101.2,366.3 102.2,366.2 103.3,366.1 104.3,366.0 105.4,365.8 106.5,365.5 107.5,365.0 108.6,364.4 109.6,363.8 110.7,363.1 111.8,362.4 112.8,361.7 113.9,361.0 114.9,360.2 116.0,359.5 117.1,358.8 118.1,358.0 119.2,357.3 120.3,356.6 121.3,355.8 122.4,355.1 123.4,354.4 124.5,353.6 125.6,352.9 126.6,352.2 127.7,351.4 128.7,350.7 129.8,350.0 130.9,349.2 131.9,348.5 133.0,347.7 134.1,347.0 135.1,346.3 136.2,345.5 137.2,344.8 138.3,344.1 139.4,343.3 140.4,342.6 141.5,341.8 142.5,341.1 143.6,340.4 144.7,339.6 145.7,338.9 146.8,338.1 147.9,337.4 148.9,336.7 150.0,335.9 151.0,335.2 152.1,334.4 153.2,333.7 154.2,333.0 155.3,332.2 156.3,331.5 157.4,330.7 158.5,330.0 159.5,329.3 160.6,328.5 161.7,327.8 162.7,327.0 163.8,326.3 164.8,325.6 165.9,324.8" stroke="#c01818" stroke-width="0.8" stroke-dasharray="1.1 0.9"/><path d="M50.2,405.5 51.3,404.8 52.3,404.1 53.4,403.3 54.4,402.6 55.5,401.8 56.6,401.1 57.6,400.4 58.7,399.6 59.8,398.9 60.8,398.1 61.9,397.4 62.9,396.7 64.0,395.9 65.1,395.2 66.1,394.4 67.2,393.7 68.2,393.0 69.3,392.2 70.4,391.5 71.4,390.7 72.5,390.0 73.6,389.3 74.6,388.5 75.7,387.8 76.7,387.0 77.8,386.3 78.9,385.6 79.9,384.8 81.0,384.1 82.0,383.4 83.1,382.6 84.2,381.9 85.2,381.1 86.3,380.4 87.4,379.7 88.4,378.9 89.5,378.2 90.5,377.5 91.6,376.7 92.7,376.0 93.7,375.3 94.8,374.5 95.8,373.8 96.9,373.1 98.0,372.4 99.0,371.6 100.1,370.9 101.2,370.2 102.2,369.5 103.3,368.9 104.3,368.2 105.4,367.7 106.5,367.3 107.5,367.0 108.6,366.9 109.6,366.8 110.7,366.7 111.8,366.7 112.8,366.7 113.9,366.6 114.9,366.6 116.0,366.6 117.1,366.6 118.1,366.6 119.2,366.6 120.3,366.6 121.3,366.6 122.4,366.6 123.4,366.6 124.5,366.6 125.6,366.6 126.6,366.5 127.7,366.5 128.7,366.5 129.8,366.5 130.9,366.5 131.9,366.5 133.0,366.5 134.1,366.5 135.1,366.5 136.2,366.5 137.2,366.5 138.3,366.5 139.4,366.5 140.4,366.5 141.5,366.5 142.5,366.5 143.6,366.5 144.7,366.5 145.7,366.5 146.8,366.5 147.9,366.5 148.9,366.5 150.0,366.5 151.0,366.5 152.1,366.5 153.2,366.5 154.2,366.5 155.3,366.5 156.3,366.5 157.4,366.5 158.5,366.5 159.5,366.5 160.6,366.5 161.7,366.5 162.7,366.5 163.8,366.5 164.8,366.5 165.9,366.5" stroke="#101010" stroke-width="0.9" stroke-dasharray="2.2 0.5"/></g>
<g clip-path="url(#clip2)"><g filter="url(#cm2)"><rect x="46.2" y="490.9" width="5.5" height="91.3" fill="url(#g63)"/><rect x="50.2" y="490.9" width="5.5" height="91.3" fill="url(#g64)"/><rect x="54.2" y="490.9" width="5.5" height="91.3" fill="url(#g65)"/><rect x="58.2" y="490.9" width="5.5" height="91.3" fill="url(#g66)"/><rect x="62.2" y="490.9" width="5.5" height="91.3" fill="url(#g67)"/><rect x="66.2" y="490.9" width="5.5" height="91.3" fill="url(#g68)"/><rect x="70.2" y="490.9" width="5.5" height="91.3" fill="url(#g69)"/><rect x="74.2" y="490.9" width="5.5" height="91.3" fill="url(#g70)"/><rect x="78.2" y="490.9" width="5.5" height="91.3" fill="url(#g71)"/><rect x="82.2" y="490.9" width="5.5" height="91.3" fill="url(#g72)"/><rect x="86.2" y="490.9" width="5.5" height="91.3" fill="url(#g73)"/><rect x="90.2" y="490.9" width="5.5" height="91.3" fill="url(#g74)"/><rect x="94.2" y="490.9" width="5.5" height="91.3" fill="url(#g75)"/><rect x="98.2" y="490.9" width="5.5" height="91.3" fill="url(#g76)"/><rect x="102.2" y="490.9" width="5.5" height="91.3" fill="url(#g77)"/><rect x="106.2" y="490.9" width="5.5" height="91.3" fill="url(#g78)"/><rect x="110.2" y="490.9" width="5.5" height="91.3" fill="url(#g79)"/><rect x="114.2" y="490.9" width="5.5" height="91.3" fill="url(#g80)"/><rect x="118.2" y="490.9" width="5.5" height="91.3" fill="url(#g81)"/><rect x="122.2" y="490.9" width="5.5" height="91.3" fill="url(#g82)"/><rect x="126.2" y="490.9" width="5.5" height="91.3" fill="url(#g83)"/><rect x="130.2" y="490.9" width="5.5" height="91.3" fill="url(#g84)"/><rect x="134.2" y="490.9" width="5.5" height="91.3" fill="url(#g85)"/><rect x="138.2" y="490.9" width="5.5" height="91.3" fill="url(#g86)"/><rect x="142.2" y="490.9" width="5.5" height="91.3" fill="url(#g87)"/><rect x="146.2" y="490.9" width="5.5" height="91.3" fill="url(#g88)"/><rect x="150.2" y="490.9" width="5.5" height="91.3" fill="url(#g89)"/><rect x="154.2" y="490.9" width="5.5" height="91.3" fill="url(#g90)"/><rect x="158.2" y="490.9" width="5.5" height="91.3" fill="url(#g91)"/><rect x="162.2" y="490.9" width="5.5" height="91.3" fill="url(#g92)"/><rect x="166.2" y="490.9" width="5.5" height="91.3" fill="url(#g93)"/></g></g>
<g clip-path="url(#ov_a3)" fill="none"><path d="M50.2,536.7 51.3,536.7 52.3,536.7 53.4,536.7 54.4,536.7 55.5,536.7 56.6,536.7 57.6,536.7 58.7,536.6 59.7,536.6 60.8,536.6 61.9,536.6 62.9,536.6 64.0,536.6 65.0,536.6 66.1,536.6 67.2,536.6 68.2,536.6 69.3,536.6 70.4,536.6 71.4,536.6 72.5,536.5 73.5,536.5 74.6,536.5 75.7,536.5 76.7,536.5 77.8,536.5 78.8,536.5 79.9,536.5 81.0,536.4 82.0,536.4 83.1,536.4 84.1,536.4 85.2,536.4 86.3,536.3 87.3,536.3 88.4,536.3 89.4,536.2 90.5,536.2 91.6,536.2 92.6,536.1 93.7,536.1 94.7,536.0 95.8,536.0 96.9,535.9 97.9,535.8 99.0,535.7 100.0,535.6 101.1,535.5 102.2,535.3 103.2,535.1 104.3,534.9 105.3,534.7 106.4,534.4 107.5,534.1 108.5,533.7 109.6,533.3 110.7,532.8 111.7,532.3 112.8,531.7 113.8,531.1 114.9,530.5 116.0,529.8 117.0,529.1 118.1,528.4 119.1,527.7 120.2,527.0 121.3,526.3 122.3,525.5 123.4,524.8 124.4,524.0 125.5,523.3 126.6,522.5 127.6,521.7 128.7,520.9 129.7,520.2 130.8,519.4 131.9,518.6 132.9,517.8 134.0,517.0 135.0,516.3 136.1,515.5 137.2,514.7 138.2,513.9 139.3,513.1 140.3,512.3 141.4,511.5 142.5,510.7 143.5,509.9 144.6,509.1 145.6,508.3 146.7,507.5 147.8,506.7 148.8,505.9 149.9,505.1 151.0,504.3 152.0,503.5 153.1,502.7 154.1,501.9 155.2,501.1 156.3,500.3 157.3,499.5 158.4,498.7 159.4,497.9 160.5,497.1 161.6,496.3 162.6,495.5 163.7,494.7 164.7,493.9 165.8,493.1" stroke="#ffb000" stroke-opacity="0.55" stroke-width="1.6"/><path d="M50.2,581.5 51.3,580.7 52.3,579.9 53.4,579.1 54.4,578.3 55.5,577.5 56.6,576.7 57.6,575.9 58.7,575.1 59.7,574.3 60.8,573.5 61.9,572.7 62.9,571.9 64.0,571.1 65.0,570.3 66.1,569.5 67.2,568.7 68.2,567.9 69.3,567.1 70.4,566.3 71.4,565.5 72.5,564.7 73.5,563.9 74.6,563.1 75.7,562.3 76.7,561.5 77.8,560.7 78.8,559.9 79.9,559.1 81.0,558.3 82.0,557.6 83.1,556.8 84.1,556.0 85.2,555.2 86.3,554.4 87.3,553.6 88.4,552.9 89.4,552.1 90.5,551.3 91.6,550.5 92.6,549.8 93.7,549.0 94.7,548.3 95.8,547.5 96.9,546.8 97.9,546.1 99.0,545.4 100.0,544.7 101.1,544.0 102.2,543.3 103.2,542.7 104.3,542.1 105.3,541.5 106.4,541.0 107.5,540.5 108.5,540.1 109.6,539.7 110.7,539.4 111.7,539.1 112.8,538.9 113.8,538.7 114.9,538.5 116.0,538.4 117.0,538.2 118.1,538.1 119.1,538.0 120.2,537.9 121.3,537.9 122.3,537.8 123.4,537.8 124.4,537.7 125.5,537.7 126.6,537.6 127.6,537.6 128.7,537.6 129.7,537.5 130.8,537.5 131.9,537.5 132.9,537.5 134.0,537.4 135.0,537.4 136.1,537.4 137.2,537.4 138.2,537.4 139.3,537.3 140.3,537.3 141.4,537.3 142.5,537.3 143.5,537.3 144.6,537.3 145.6,537.3 146.7,537.3 147.8,537.3 148.8,537.2 149.9,537.2 151.0,537.2 152.0,537.2 153.1,537.2 154.1,537.2 155.2,537.2 156.3,537.2 157.3,537.2 158.4,537.2 159.4,537.2 160.5,537.2 161.6,537.2 162.6,537.2 163.7,537.2 164.7,537.2 165.8,537.1" stroke="#ffb000" stroke-opacity="0.2" stroke-width="1.4"/><path d="M50.2,536.7 51.3,536.7 52.3,536.7 53.4,536.7 54.4,536.7 55.5,536.7 56.6,536.7 57.6,536.7 58.7,536.6 59.7,536.6 60.8,536.6 61.9,536.6 62.9,536.6 64.0,536.6 65.0,536.6 66.1,536.6 67.2,536.6 68.2,536.6 69.3,536.6 70.4,536.6 71.4,536.6 72.5,536.5 73.5,536.5 74.6,536.5 75.7,536.5 76.7,536.5 77.8,536.5 78.8,536.5 79.9,536.5 81.0,536.4 82.0,536.4 83.1,536.4 84.1,536.4 85.2,536.4 86.3,536.3 87.3,536.3 88.4,536.3 89.4,536.2 90.5,536.2 91.6,536.2 92.6,536.1 93.7,536.1 94.7,536.0 95.8,536.0 96.9,535.9 97.9,535.8 99.0,535.7 100.0,535.6 101.1,535.5 102.2,535.3 103.2,535.1 104.3,534.9 105.3,534.7 106.4,534.4 107.5,534.1 108.5,533.7 109.6,533.3 110.7,532.8 111.7,532.3 112.8,531.7 113.8,531.1 114.9,530.5 116.0,529.8 117.0,529.1 118.1,528.4 119.1,527.7 120.2,527.0 121.3,526.3 122.3,525.5 123.4,524.8 124.4,524.0 125.5,523.3 126.6,522.5 127.6,521.7 128.7,520.9 129.7,520.2 130.8,519.4 131.9,518.6 132.9,517.8 134.0,517.0 135.0,516.3 136.1,515.5 137.2,514.7 138.2,513.9 139.3,513.1 140.3,512.3 141.4,511.5 142.5,510.7 143.5,509.9 144.6,509.1 145.6,508.3 146.7,507.5 147.8,506.7 148.8,505.9 149.9,505.1 151.0,504.3 152.0,503.5 153.1,502.7 154.1,501.9 155.2,501.1 156.3,500.3 157.3,499.5 158.4,498.7 159.4,497.9 160.5,497.1 161.6,496.3 162.6,495.5 163.7,494.7 164.7,493.9 165.8,493.1" stroke="#c01818" stroke-width="0.8" stroke-dasharray="1.1 0.9"/><path d="M50.2,581.5 51.3,580.7 52.3,579.9 53.4,579.1 54.4,578.3 55.5,577.5 56.6,576.7 57.6,575.9 58.7,575.1 59.7,574.3 60.8,573.5 61.9,572.7 62.9,571.9 64.0,571.1 65.0,570.3 66.1,569.5 67.2,568.7 68.2,567.9 69.3,567.1 70.4,566.3 71.4,565.5 72.5,564.7 73.5,563.9 74.6,563.1 75.7,562.3 76.7,561.5 77.8,560.7 78.8,559.9 79.9,559.1 81.0,558.3 82.0,557.6 83.1,556.8 84.1,556.0 85.2,555.2 86.3,554.4 87.3,553.6 88.4,552.9 89.4,552.1 90.5,551.3 91.6,550.5 92.6,549.8 93.7,549.0 94.7,548.3 95.8,547.5 96.9,546.8 97.9,546.1 99.0,545.4 100.0,544.7 101.1,544.0 102.2,543.3 103.2,542.7 104.3,542.1 105.3,541.5 106.4,541.0 107.5,540.5 108.5,540.1 109.6,539.7 110.7,539.4 111.7,539.1 112.8,538.9 113.8,538.7 114.9,538.5 116.0,538.4 117.0,538.2 118.1,538.1 119.1,538.0 120.2,537.9 121.3,537.9 122.3,537.8 123.4,537.8 124.4,537.7 125.5,537.7 126.6,537.6 127.6,537.6 128.7,537.6 129.7,537.5 130.8,537.5 131.9,537.5 132.9,537.5 134.0,537.4 135.0,537.4 136.1,537.4 137.2,537.4 138.2,537.4 139.3,537.3 140.3,537.3 141.4,537.3 142.5,537.3 143.5,537.3 144.6,537.3 145.6,537.3 146.7,537.3 147.8,537.3 148.8,537.2 149.9,537.2 151.0,537.2 152.0,537.2 153.1,537.2 154.1,537.2 155.2,537.2 156.3,537.2 157.3,537.2 158.4,537.2 159.4,537.2 160.5,537.2 161.6,537.2 162.6,537.2 163.7,537.2 164.7,537.2 165.8,537.1" stroke="#101010" stroke-width="0.9" stroke-dasharray="2.2 0.5"/></g>
<g clip-path="url(#clip3)"><g filter="url(#cm3)"><rect x="237.2" y="26.3" width="5.5" height="92.1" fill="url(#g94)"/><rect x="241.2" y="26.3" width="5.5" height="92.1" fill="url(#g95)"/><rect x="245.2" y="26.3" width="5.5" height="92.1" fill="url(#g96)"/><rect x="249.2" y="26.3" width="5.5" height="92.1" fill="url(#g97)"/><rect x="253.2" y="26.3" width="5.5" height="92.1" fill="url(#g98)"/><rect x="257.2" y="26.3" width="5.5" height="92.1" fill="url(#g99)"/><rect x="261.2" y="26.3" width="5.5" height="92.1" fill="url(#g100)"/><rect x="265.2" y="26.3" width="5.5" height="92.1" fill="url(#g101)"/><rect x="269.2" y="26.3" width="5.5" height="92.1" fill="url(#g102)"/><rect x="273.2" y="26.3" width="5.5" height="92.1" fill="url(#g103)"/><rect x="277.2" y="26.3" width="5.5" height="92.1" fill="url(#g104)"/><rect x="281.2" y="26.3" width="5.5" height="92.1" fill="url(#g105)"/><rect x="285.2" y="26.3" width="5.5" height="92.1" fill="url(#g106)"/><rect x="289.2" y="26.3" width="5.5" height="92.1" fill="url(#g107)"/><rect x="293.2" y="26.3" width="5.5" height="92.1" fill="url(#g108)"/><rect x="297.2" y="26.3" width="5.5" height="92.1" fill="url(#g109)"/><rect x="301.2" y="26.3" width="5.5" height="92.1" fill="url(#g110)"/><rect x="305.2" y="26.3" width="5.5" height="92.1" fill="url(#g111)"/><rect x="309.2" y="26.3" width="5.5" height="92.1" fill="url(#g112)"/><rect x="313.2" y="26.3" width="5.5" height="92.1" fill="url(#g113)"/><rect x="317.2" y="26.3" width="5.5" height="92.1" fill="url(#g114)"/><rect x="321.2" y="26.3" width="5.5" height="92.1" fill="url(#g115)"/><rect x="325.2" y="26.3" width="5.5" height="92.1" fill="url(#g116)"/><rect x="329.2" y="26.3" width="5.5" height="92.1" fill="url(#g117)"/><rect x="333.2" y="26.3" width="5.5" height="92.1" fill="url(#g118)"/><rect x="337.2" y="26.3" width="5.5" height="92.1" fill="url(#g119)"/><rect x="341.2" y="26.3" width="5.5" height="92.1" fill="url(#g120)"/><rect x="345.2" y="26.3" width="5.5" height="92.1" fill="url(#g121)"/><rect x="349.2" y="26.3" width="5.5" height="92.1" fill="url(#g122)"/><rect x="353.2" y="26.3" width="5.5" height="92.1" fill="url(#g123)"/><rect x="357.2" y="26.3" width="5.5" height="92.1" fill="url(#g124)"/><rect x="361.2" y="26.3" width="5.5" height="92.1" fill="url(#g124)"/></g></g>
<g clip-path="url(#clip4)"><g filter="url(#cm4)"><rect x="236.4" y="142.4" width="5.5" height="91.9" fill="url(#g125)"/><rect x="240.4" y="142.4" width="5.5" height="91.9" fill="url(#g126)"/><rect x="244.4" y="142.4" width="5.5" height="91.9" fill="url(#g127)"/><rect x="248.4" y="142.4" width="5.5" height="91.9" fill="url(#g128)"/><rect x="252.4" y="142.4" width="5.5" height="91.9" fill="url(#g129)"/><rect x="256.4" y="142.4" width="5.5" height="91.9" fill="url(#g130)"/><rect x="260.4" y="142.4" width="5.5" height="91.9" fill="url(#g131)"/><rect x="264.4" y="142.4" width="5.5" height="91.9" fill="url(#g132)"/><rect x="268.4" y="142.4" width="5.5" height="91.9" fill="url(#g133)"/><rect x="272.4" y="142.4" width="5.5" height="91.9" fill="url(#g134)"/><rect x="276.4" y="142.4" width="5.5" height="91.9" fill="url(#g135)"/><rect x="280.4" y="142.4" width="5.5" height="91.9" fill="url(#g136)"/><rect x="284.4" y="142.4" width="5.5" height="91.9" fill="url(#g137)"/><rect x="288.4" y="142.4" width="5.5" height="91.9" fill="url(#g138)"/><rect x="292.4" y="142.4" width="5.5" height="91.9" fill="url(#g139)"/><rect x="296.4" y="142.4" width="5.5" height="91.9" fill="url(#g140)"/><rect x="300.4" y="142.4" width="5.5" height="91.9" fill="url(#g141)"/><rect x="304.4" y="142.4" width="5.5" height="91.9" fill="url(#g142)"/><rect x="308.4" y="142.4" width="5.5" height="91.9" fill="url(#g143)"/><rect x="312.4" y="142.4" width="5.5" height="91.9" fill="url(#g144)"/><rect x="316.4" y="142.4" width="5.5" height="91.9" fill="url(#g145)"/><rect x="320.4" y="142.4" width="5.5" height="91.9" fill="url(#g146)"/><rect x="324.4" y="142.4" width="5.5" height="91.9" fill="url(#g147)"/><rect x="328.4" y="142.4" width="5.5" height="91.9" fill="url(#g148)"/><rect x="332.4" y="142.4" width="5.5" height="91.9" fill="url(#g149)"/><rect x="336.4" y="142.4" width="5.5" height="91.9" fill="url(#g150)"/><rect x="340.4" y="142.4" width="5.5" height="91.9" fill="url(#g151)"/><rect x="344.4" y="142.4" width="5.5" height="91.9" fill="url(#g152)"/><rect x="348.4" y="142.4" width="5.5" height="91.9" fill="url(#g153)"/><rect x="352.4" y="142.4" width="5.5" height="91.9" fill="url(#g153)"/><rect x="356.4" y="142.4" width="5.5" height="91.9" fill="url(#g153)"/><rect x="360.4" y="142.4" width="5.5" height="91.9" fill="url(#g153)"/></g></g>
<g clip-path="url(#clip5)"><g filter="url(#cm5)"><rect x="236.4" y="258.7" width="5.5" height="92.0" fill="url(#g154)"/><rect x="240.4" y="258.7" width="5.5" height="92.0" fill="url(#g154)"/><rect x="244.4" y="258.7" width="5.5" height="92.0" fill="url(#g155)"/><rect x="248.4" y="258.7" width="5.5" height="92.0" fill="url(#g156)"/><rect x="252.4" y="258.7" width="5.5" height="92.0" fill="url(#g157)"/><rect x="256.4" y="258.7" width="5.5" height="92.0" fill="url(#g158)"/><rect x="260.4" y="258.7" width="5.5" height="92.0" fill="url(#g159)"/><rect x="264.4" y="258.7" width="5.5" height="92.0" fill="url(#g160)"/><rect x="268.4" y="258.7" width="5.5" height="92.0" fill="url(#g161)"/><rect x="272.4" y="258.7" width="5.5" height="92.0" fill="url(#g162)"/><rect x="276.4" y="258.7" width="5.5" height="92.0" fill="url(#g163)"/><rect x="280.4" y="258.7" width="5.5" height="92.0" fill="url(#g164)"/><rect x="284.4" y="258.7" width="5.5" height="92.0" fill="url(#g165)"/><rect x="288.4" y="258.7" width="5.5" height="92.0" fill="url(#g166)"/><rect x="292.4" y="258.7" width="5.5" height="92.0" fill="url(#g167)"/><rect x="296.4" y="258.7" width="5.5" height="92.0" fill="url(#g168)"/><rect x="300.4" y="258.7" width="5.5" height="92.0" fill="url(#g169)"/><rect x="304.4" y="258.7" width="5.5" height="92.0" fill="url(#g170)"/><rect x="308.4" y="258.7" width="5.5" height="92.0" fill="url(#g171)"/><rect x="312.4" y="258.7" width="5.5" height="92.0" fill="url(#g172)"/><rect x="316.4" y="258.7" width="5.5" height="92.0" fill="url(#g173)"/><rect x="320.4" y="258.7" width="5.5" height="92.0" fill="url(#g174)"/><rect x="324.4" y="258.7" width="5.5" height="92.0" fill="url(#g175)"/><rect x="328.4" y="258.7" width="5.5" height="92.0" fill="url(#g176)"/><rect x="332.4" y="258.7" width="5.5" height="92.0" fill="url(#g177)"/><rect x="336.4" y="258.7" width="5.5" height="92.0" fill="url(#g178)"/><rect x="340.4" y="258.7" width="5.5" height="92.0" fill="url(#g179)"/><rect x="344.4" y="258.7" width="5.5" height="92.0" fill="url(#g180)"/><rect x="348.4" y="258.7" width="5.5" height="92.0" fill="url(#g181)"/><rect x="352.4" y="258.7" width="5.5" height="92.0" fill="url(#g182)"/><rect x="356.4" y="258.7" width="5.5" height="92.0" fill="url(#g183)"/><rect x="360.4" y="258.7" width="5.5" height="92.0" fill="url(#g183)"/></g></g>
<g clip-path="url(#clip6)"><g filter="url(#cm6)"><rect x="236.4" y="375.0" width="5.5" height="92.0" fill="url(#g184)"/><rect x="240.4" y="375.0" width="5.5" height="92.0" fill="url(#g184)"/><rect x="244.4" y="375.0" width="5.5" height="92.0" fill="url(#g185)"/><rect x="248.4" y="375.0" width="5.5" height="92.0" fill="url(#g186)"/><rect x="252.4" y="375.0" width="5.5" height="92.0" fill="url(#g187)"/><rect x="256.4" y="375.0" width="5.5" height="92.0" fill="url(#g188)"/><rect x="260.4" y="375.0" width="5.5" height="92.0" fill="url(#g189)"/><rect x="264.4" y="375.0" width="5.5" height="92.0" fill="url(#g190)"/><rect x="268.4" y="375.0" width="5.5" height="92.0" fill="url(#g191)"/><rect x="272.4" y="375.0" width="5.5" height="92.0" fill="url(#g192)"/><rect x="276.4" y="375.0" width="5.5" height="92.0" fill="url(#g193)"/><rect x="280.4" y="375.0" width="5.5" height="92.0" fill="url(#g194)"/><rect x="284.4" y="375.0" width="5.5" height="92.0" fill="url(#g195)"/><rect x="288.4" y="375.0" width="5.5" height="92.0" fill="url(#g195)"/><rect x="292.4" y="375.0" width="5.5" height="92.0" fill="url(#g196)"/><rect x="296.4" y="375.0" width="5.5" height="92.0" fill="url(#g197)"/><rect x="300.4" y="375.0" width="5.5" height="92.0" fill="url(#g198)"/><rect x="304.4" y="375.0" width="5.5" height="92.0" fill="url(#g199)"/><rect x="308.4" y="375.0" width="5.5" height="92.0" fill="url(#g200)"/><rect x="312.4" y="375.0" width="5.5" height="92.0" fill="url(#g201)"/><rect x="316.4" y="375.0" width="5.5" height="92.0" fill="url(#g202)"/><rect x="320.4" y="375.0" width="5.5" height="92.0" fill="url(#g203)"/><rect x="324.4" y="375.0" width="5.5" height="92.0" fill="url(#g204)"/><rect x="328.4" y="375.0" width="5.5" height="92.0" fill="url(#g205)"/><rect x="332.4" y="375.0" width="5.5" height="92.0" fill="url(#g206)"/><rect x="336.4" y="375.0" width="5.5" height="92.0" fill="url(#g207)"/><rect x="340.4" y="375.0" width="5.5" height="92.0" fill="url(#g208)"/><rect x="344.4" y="375.0" width="5.5" height="92.0" fill="url(#g209)"/><rect x="348.4" y="375.0" width="5.5" height="92.0" fill="url(#g210)"/><rect x="352.4" y="375.0" width="5.5" height="92.0" fill="url(#g211)"/><rect x="356.4" y="375.0" width="5.5" height="92.0" fill="url(#g212)"/><rect x="360.4" y="375.0" width="5.5" height="92.0" fill="url(#g212)"/></g></g>
<g clip-path="url(#clip7)"><g filter="url(#cm7)"><rect x="235.3" y="491.1" width="5.5" height="92.0" fill="url(#g213)"/><rect x="239.3" y="491.1" width="5.5" height="92.0" fill="url(#g213)"/><rect x="243.3" y="491.1" width="5.5" height="92.0" fill="url(#g214)"/><rect x="247.3" y="491.1" width="5.5" height="92.0" fill="url(#g215)"/><rect x="251.3" y="491.1" width="5.5" height="92.0" fill="url(#g216)"/><rect x="255.3" y="491.1" width="5.5" height="92.0" fill="url(#g217)"/><rect x="259.3" y="491.1" width="5.5" height="92.0" fill="url(#g218)"/><rect x="263.3" y="491.1" width="5.5" height="92.0" fill="url(#g219)"/><rect x="267.3" y="491.1" width="5.5" height="92.0" fill="url(#g220)"/><rect x="271.3" y="491.1" width="5.5" height="92.0" fill="url(#g221)"/><rect x="275.3" y="491.1" width="5.5" height="92.0" fill="url(#g222)"/><rect x="279.3" y="491.1" width="5.5" height="92.0" fill="url(#g223)"/><rect x="283.3" y="491.1" width="5.5" height="92.0" fill="url(#g224)"/><rect x="287.3" y="491.1" width="5.5" height="92.0" fill="url(#g225)"/><rect x="291.3" y="491.1" width="5.5" height="92.0" fill="url(#g226)"/><rect x="295.3" y="491.1" width="5.5" height="92.0" fill="url(#g227)"/><rect x="299.3" y="491.1" width="5.5" height="92.0" fill="url(#g228)"/><rect x="303.3" y="491.1" width="5.5" height="92.0" fill="url(#g229)"/><rect x="307.3" y="491.1" width="5.5" height="92.0" fill="url(#g230)"/><rect x="311.3" y="491.1" width="5.5" height="92.0" fill="url(#g231)"/><rect x="315.3" y="491.1" width="5.5" height="92.0" fill="url(#g232)"/><rect x="319.3" y="491.1" width="5.5" height="92.0" fill="url(#g233)"/><rect x="323.3" y="491.1" width="5.5" height="92.0" fill="url(#g234)"/><rect x="327.3" y="491.1" width="5.5" height="92.0" fill="url(#g235)"/><rect x="331.3" y="491.1" width="5.5" height="92.0" fill="url(#g236)"/><rect x="335.3" y="491.1" width="5.5" height="92.0" fill="url(#g237)"/><rect x="339.3" y="491.1" width="5.5" height="92.0" fill="url(#g238)"/><rect x="343.3" y="491.1" width="5.5" height="92.0" fill="url(#g239)"/><rect x="347.3" y="491.1" width="5.5" height="92.0" fill="url(#g240)"/><rect x="351.3" y="491.1" width="5.5" height="92.0" fill="url(#g241)"/><rect x="355.3" y="491.1" width="5.5" height="92.0" fill="url(#g242)"/><rect x="359.3" y="491.1" width="5.5" height="92.0" fill="url(#g242)"/></g></g>
<g clip-path="url(#ov_b1)" fill="none"><path d="M244.6,118.1 L245.9,116.7 L247.1,115.4 L248.4,114.0 L249.7,112.7 L250.9,111.3 L252.2,109.9 L253.5,108.6 L254.7,107.2 L256.0,105.9 L257.3,104.6 L258.5,103.4 L259.8,102.1 L261.0,100.9 L262.3,99.6 L263.6,98.3 L264.8,97.1 L266.1,95.8 L267.4,94.5 L268.6,93.3 L269.9,92.2 L271.2,91.0 L272.4,89.8 L273.7,88.6 L275.0,87.5 L276.2,86.3 L277.5,85.1 L278.8,84.0 L280.0,83.1 L281.3,82.2 L282.6,81.4 L283.8,80.5 L285.1,79.6 L286.4,78.7" stroke="#ffd21e" stroke-opacity="0.22" stroke-width="1.3" stroke-linecap="round"/><path d="M293.9,75.8 L295.2,75.2 L296.5,74.6" stroke="#ffd21e" stroke-opacity="0.22" stroke-width="1.3" stroke-linecap="round"/><path d="M307.3,59.8 L308.6,59.1 L309.9,58.4 L311.1,57.7 L312.4,57.0 L313.7,56.3 L314.9,55.4 L316.2,54.6 L317.5,53.7 L318.7,52.8 L320.0,52.0 L321.3,51.1 L322.5,50.2 L323.8,49.3 L325.1,48.4 L326.3,47.5 L327.6,46.6 L328.9,45.7 L330.1,44.9 L331.4,44.0 L332.7,43.1 L333.9,42.2 L335.2,41.3 L336.5,40.4 L337.7,39.5 L339.0,38.6 L340.3,37.8 L341.5,36.9 L342.8,36.0 L344.1,35.1 L345.3,34.0 L346.6,32.8 L347.9,31.7 L349.1,30.5 L350.4,29.4 L351.7,28.2 L352.9,27.2 L354.2,26.2" stroke="#ffd21e" stroke-opacity="0.5" stroke-width="1.3" stroke-linecap="round"/><path d="M244.60,118.10 C246.40,116.17 251.55,110.48 255.40,106.50 C259.25,102.52 263.85,97.92 267.70,94.20 C271.55,90.48 275.42,86.77 278.50,84.20 C281.58,81.63 283.90,80.08 286.20,78.80 C288.50,77.52 290.33,77.32 292.30,76.50 C294.27,75.68 295.77,74.67 298.00,73.90 C300.23,73.13 303.40,72.28 305.70,71.90 C308.00,71.52 309.23,71.47 311.80,71.60 C314.37,71.73 316.98,72.37 321.10,72.70 C325.22,73.03 330.48,73.35 336.50,73.60 C342.52,73.85 353.75,74.10 357.20,74.20" stroke="#121212" stroke-width="0.95" stroke-dasharray="1.5 0.6"/><path d="M241.50,75.50 C243.82,75.60 250.52,75.90 255.40,76.10 C260.28,76.30 266.45,76.50 270.80,76.70 C275.15,76.90 278.43,77.33 281.50,77.30 C284.57,77.27 286.88,76.97 289.20,76.50 C291.52,76.03 293.60,75.18 295.40,74.50 C297.20,73.82 298.28,73.17 300.00,72.40 C301.72,71.63 303.47,70.65 305.70,69.90 C307.93,69.15 310.83,68.42 313.40,67.90 C315.97,67.38 317.25,67.13 321.10,66.80 C324.95,66.47 330.48,66.12 336.50,65.90 C342.52,65.68 353.75,65.57 357.20,65.50" stroke="#c41c1c" stroke-width="0.95" stroke-dasharray="1.5 0.6"/><path d="M241.50,63.90 C246.38,63.83 263.35,63.65 270.80,63.50 C278.25,63.35 281.67,63.27 286.20,63.00 C290.73,62.73 294.75,62.28 298.00,61.90 C301.25,61.52 303.13,61.60 305.70,60.70 C308.27,59.80 310.83,58.08 313.40,56.50 C315.97,54.92 318.53,52.98 321.10,51.20 C323.67,49.42 326.23,47.60 328.80,45.80 C331.37,44.00 333.93,42.20 336.50,40.40 C339.07,38.60 341.65,37.05 344.20,35.00 C346.75,32.95 350.13,29.57 351.80,28.10 C353.47,26.63 353.80,26.52 354.20,26.20" stroke="#2a2ab8" stroke-width="0.95" stroke-dasharray="1.5 0.6"/></g>
<g clip-path="url(#ov_b2)" fill="none"><path d="M240.0,234.8 L241.3,233.5 L242.6,232.2 L243.9,230.9 L245.3,229.6 L246.6,228.3 L247.9,227.0 L249.2,225.7 L250.5,224.4 L251.8,223.1 L253.1,221.9 L254.5,220.6 L255.8,219.3 L257.1,218.0 L258.4,216.7 L259.7,215.4 L261.0,214.1 L262.3,212.9 L263.7,211.7 L265.0,210.5 L266.3,209.3 L267.6,208.1 L268.9,206.8 L270.2,205.6 L271.6,204.4 L272.9,203.2 L274.2,202.0 L275.5,200.8 L276.8,199.5 L278.1,198.3 L279.4,197.2 L280.8,196.0 L282.1,194.8 L283.4,193.8 L284.7,192.7 L286.0,191.6 L287.3,191.0" stroke="#ffd21e" stroke-opacity="0.22" stroke-width="1.3" stroke-linecap="round"/><path d="M290.2,189.1 L291.5,188.3 L292.8,187.4 L294.1,186.1 L295.4,184.8 L296.7,183.5 L298.0,182.2 L299.4,180.8 L300.7,179.5 L302.0,178.2 L303.3,177.5" stroke="#ffd21e" stroke-opacity="0.5" stroke-width="1.3" stroke-linecap="round"/><path d="M303.3,176.5 L304.5,175.7 L305.7,174.8 L306.8,174.0 L308.0,172.9 L309.2,171.9 L310.4,170.9 L311.6,169.8 L312.8,168.7 L314.0,167.5 L315.2,166.4 L316.3,165.4 L317.5,164.4 L318.7,163.4 L319.9,162.4 L321.1,161.4 L322.3,160.3 L323.5,159.3 L324.6,158.3 L325.8,157.3 L327.0,156.3 L328.2,155.3 L329.4,154.4 L330.6,153.5 L331.8,152.6 L332.9,151.8 L334.1,150.9 L335.3,150.0 L336.5,149.1 L337.7,148.2 L338.9,147.3 L340.1,146.4 L341.3,145.5 L342.4,144.7 L343.6,143.8 L344.8,142.9 L346.0,142.0" stroke="#ffd21e" stroke-opacity="0.5" stroke-width="1.3" stroke-linecap="round"/><path d="M240.00,234.80 C243.33,231.52 253.75,221.08 260.00,215.10 C266.25,209.12 273.83,202.27 277.50,198.90 C281.17,195.53 280.58,196.12 282.00,194.90 C283.42,193.68 284.75,192.42 286.00,191.60 C287.25,190.78 288.42,190.37 289.50,190.00 C290.58,189.63 290.75,189.48 292.50,189.40 C294.25,189.32 289.25,189.48 300.00,189.50 C310.75,189.52 347.50,189.50 357.00,189.50" stroke="#121212" stroke-width="0.95" stroke-dasharray="1.5 0.6"/><path d="M240.40,189.90 C245.47,189.95 263.30,190.03 270.80,190.20 C278.30,190.37 282.37,190.97 285.40,190.90 C288.43,190.83 287.82,190.33 289.00,189.80 C290.18,189.27 291.05,188.92 292.50,187.70 C293.95,186.48 296.08,184.12 297.70,182.50 C299.32,180.88 300.92,178.98 302.20,178.00 C303.48,177.02 304.10,176.82 305.40,176.60 C306.70,176.38 301.40,176.58 310.00,176.70 C318.60,176.82 349.17,177.20 357.00,177.30" stroke="#c41c1c" stroke-width="0.95" stroke-dasharray="1.5 0.6"/><path d="M240.40,177.50 C248.00,177.48 275.70,177.43 286.00,177.40 C296.30,177.37 298.75,177.85 302.20,177.30 C305.65,176.75 305.20,175.28 306.70,174.10 C308.20,172.92 309.90,171.38 311.20,170.20 C312.50,169.02 311.73,169.43 314.50,167.00 C317.27,164.57 322.55,159.77 327.80,155.60 C333.05,151.43 342.97,144.27 346.00,142.00" stroke="#2a2ab8" stroke-width="0.95" stroke-dasharray="1.5 0.6"/></g>
<g clip-path="url(#ov_b3)" fill="none"><path d="M246.9,350.1 L248.1,348.9 L249.4,347.6 L250.6,346.4 L251.8,345.2 L253.1,343.9 L254.3,342.7 L255.6,341.4 L256.8,340.2 L258.0,339.0 L259.3,337.7 L260.5,336.5 L261.7,335.3 L263.0,334.0 L264.2,333.2 L265.5,332.4 L266.7,331.7 L267.9,330.9" stroke="#ffc21e" stroke-opacity="0.22" stroke-width="1.3" stroke-linecap="round"/><path d="M271.8,326.0 L273.2,325.2 L274.5,324.3 L275.8,323.4 L277.1,322.6 L278.4,321.7 L279.7,320.8 L281.0,319.8 L282.3,318.9 L283.6,318.0 L284.9,317.1 L286.3,316.2 L287.6,315.0 L288.9,313.8 L290.2,312.6 L291.5,311.4 L292.8,310.2 L294.1,308.9 L295.4,307.3 L296.7,305.7 L298.0,304.2 L299.4,303.1 L300.7,302.1 L302.0,301.1 L303.3,300.0 L304.6,299.2 L305.9,298.4 L307.2,297.5 L308.5,296.7 L309.8,295.9 L311.1,295.3 L312.5,294.6" stroke="#ffc21e" stroke-opacity="0.5" stroke-width="1.3" stroke-linecap="round"/><path d="M311.8,292.0 L313.1,291.1 L314.4,290.3 L315.6,289.4 L316.9,288.6 L318.2,287.6 L319.5,286.6 L320.7,285.6 L322.0,284.6 L323.3,283.6 L324.6,282.6 L325.8,281.6 L327.1,280.6 L328.4,279.6 L329.7,278.6 L330.9,277.5 L332.2,276.5 L333.5,275.5 L334.8,274.4 L336.0,273.4 L337.3,272.4 L338.6,271.3 L339.9,270.3 L341.1,269.2 L342.4,268.2 L343.7,267.2 L345.0,266.1 L346.2,265.1 L347.5,264.0 L348.8,263.0 L350.1,261.9 L351.3,260.9 L352.6,259.8 L353.9,258.8" stroke="#ffc21e" stroke-opacity="0.5" stroke-width="1.3" stroke-linecap="round"/><path d="M246.90,350.10 C248.32,348.68 252.70,344.30 255.40,341.60 C258.10,338.90 260.80,335.82 263.10,333.90 C265.40,331.98 267.15,330.97 269.20,330.10 C271.25,329.23 272.57,329.02 275.40,328.70 C278.23,328.38 272.60,328.28 286.20,328.20 C299.80,328.12 345.20,328.20 357.00,328.20" stroke="#121212" stroke-width="0.95" stroke-dasharray="1.5 0.6"/><path d="M240.40,328.10 C243.67,328.10 255.45,328.20 260.00,328.10 C264.55,328.00 265.65,327.88 267.70,327.50 C269.75,327.12 270.50,326.78 272.30,325.80 C274.10,324.82 276.18,323.20 278.50,321.60 C280.82,320.00 283.65,318.25 286.20,316.20 C288.75,314.15 291.83,311.30 293.80,309.30 C295.77,307.30 296.43,305.73 298.00,304.20 C299.57,302.67 301.32,301.43 303.20,300.10 C305.08,298.77 307.52,297.23 309.30,296.20 C311.08,295.17 312.10,294.35 313.90,293.90 C315.70,293.45 312.92,293.55 320.10,293.50 C327.28,293.45 350.85,293.58 357.00,293.60" stroke="#c41c1c" stroke-width="0.95" stroke-dasharray="1.5 0.6"/><path d="M240.40,294.20 C251.12,294.20 292.97,294.45 304.70,294.20 C316.43,293.95 308.75,293.65 310.80,292.70 C312.85,291.75 314.17,290.60 317.00,288.50 C319.83,286.40 323.95,283.17 327.80,280.10 C331.65,277.03 335.75,273.65 340.10,270.10 C344.45,266.55 351.60,260.68 353.90,258.80" stroke="#2a2ab8" stroke-width="0.95" stroke-dasharray="1.5 0.6"/></g>
<g clip-path="url(#ov_b4)" fill="none"><path d="M245.4,466.1 L246.7,464.8 L247.9,463.6 L249.2,462.3 L250.4,461.1 L251.7,459.8 L252.9,458.6 L254.2,457.3 L255.4,456.1 L256.7,455.1 L257.9,454.0 L259.2,453.0 L260.4,452.0 L261.7,451.0 L263.0,450.0 L264.2,449.0 L265.5,447.9 L266.7,447.0 L268.0,446.2 L269.2,445.4 L270.5,444.6" stroke="#ff5a1e" stroke-opacity="0.22" stroke-width="1.3" stroke-linecap="round"/><path d="M273.2,440.8 L274.5,440.1 L275.8,439.3 L277.1,438.5 L278.4,437.7 L279.7,436.5 L281.0,435.3 L282.3,434.2 L283.6,433.0 L284.9,431.8 L286.3,430.7 L287.6,429.5 L288.9,428.4 L290.2,427.3 L291.5,426.2 L292.8,425.1 L294.1,424.0 L295.4,422.8 L296.7,421.7 L298.0,421.0 L299.4,420.3 L300.7,419.7" stroke="#ff5a1e" stroke-opacity="0.5" stroke-width="1.3" stroke-linecap="round"/><path d="M304.2,417.0 L305.4,416.2 L306.7,415.1 L308.0,414.0 L309.3,412.9 L310.5,411.9 L311.8,410.8 L313.1,409.7 L314.4,408.6 L315.6,407.6 L316.9,406.5 L318.2,405.4 L319.5,404.3 L320.7,403.3 L322.0,402.2 L323.3,401.1 L324.6,400.0 L325.8,398.9 L327.1,397.8 L328.4,396.7 L329.7,395.7 L330.9,394.6 L332.2,393.5 L333.5,392.4 L334.8,391.3 L336.0,390.2 L337.3,389.2 L338.6,388.1 L339.9,387.0 L341.1,386.0 L342.4,384.9 L343.7,383.8 L345.0,382.8 L346.2,381.7 L347.5,380.6 L348.8,379.6 L350.1,378.5 L351.3,377.4 L352.6,376.4 L353.9,375.3" stroke="#ff5a1e" stroke-opacity="0.5" stroke-width="1.3" stroke-linecap="round"/><path d="M245.40,466.10 C247.07,464.43 251.97,459.20 255.40,456.10 C258.83,453.00 263.23,449.58 266.00,447.50 C268.77,445.42 270.00,444.35 272.00,443.60 C274.00,442.85 263.83,443.10 278.00,443.00 C292.17,442.90 343.83,443.00 357.00,443.00" stroke="#121212" stroke-width="0.95" stroke-dasharray="1.5 0.6"/><path d="M240.40,443.00 C245.00,443.00 262.40,443.43 268.00,443.00 C273.60,442.57 272.25,441.30 274.00,440.40 C275.75,439.50 276.47,439.22 278.50,437.60 C280.53,435.98 283.12,433.38 286.20,430.70 C289.28,428.02 294.37,423.45 297.00,421.50 C299.63,419.55 300.50,419.50 302.00,419.00 C303.50,418.50 296.83,418.58 306.00,418.50 C315.17,418.42 348.50,418.50 357.00,418.50" stroke="#c41c1c" stroke-width="0.95" stroke-dasharray="1.5 0.6"/><path d="M240.40,418.80 C250.00,418.80 287.28,419.13 298.00,418.80 C308.72,418.47 301.02,419.30 304.70,416.80 C308.38,414.30 314.97,408.15 320.10,403.80 C325.23,399.45 329.87,395.45 335.50,390.70 C341.13,385.95 350.83,377.87 353.90,375.30" stroke="#2a2ab8" stroke-width="0.95" stroke-dasharray="1.5 0.6"/></g>
<g clip-path="url(#ov_b5)" fill="none"><path d="M244.9,583.1 L246.1,582.0 L247.4,581.0 L248.6,579.9 L249.9,578.8 L251.1,577.8 L252.4,576.7 L253.6,575.6 L254.9,574.5 L256.1,573.4 L257.4,572.6 L258.6,571.9 L259.9,571.2 L261.1,570.5" stroke="#ffd21e" stroke-opacity="0.22" stroke-width="1.3" stroke-linecap="round"/><path d="M261.6,564.8 L262.9,563.9 L264.2,563.0 L265.5,562.2 L266.8,561.3 L268.1,560.4 L269.5,559.5 L270.8,558.6 L272.1,557.7 L273.4,556.8 L274.7,555.9 L276.0,554.9 L277.3,554.0 L278.6,553.1 L279.9,552.2 L281.3,551.3 L282.6,550.3 L283.9,549.4 L285.2,548.3 L286.5,547.2 L287.8,546.0 L289.1,544.9 L290.4,543.8 L291.7,542.6 L293.1,541.5 L294.4,540.3 L295.7,539.2 L297.0,538.1 L298.3,537.1 L299.6,536.1 L300.9,535.2 L302.2,534.5 L303.6,533.7 L304.9,533.0" stroke="#ffd21e" stroke-opacity="0.5" stroke-width="1.3" stroke-linecap="round"/><path d="M306.9,528.1 L308.2,527.3 L309.5,526.6 L310.8,525.8 L312.1,524.9 L313.3,523.8 L314.6,522.8 L315.9,521.8 L317.2,520.8 L318.4,519.7 L319.7,518.7 L321.0,517.6 L322.3,516.5 L323.5,515.4 L324.8,514.4 L326.1,513.3 L327.4,512.2 L328.6,511.1 L329.9,510.1 L331.2,509.0 L332.5,507.9 L333.8,506.8 L335.0,505.8 L336.3,504.8 L337.6,503.7 L338.9,502.7 L340.1,501.7 L341.4,500.7 L342.7,499.7 L344.0,498.6 L345.2,497.6 L346.5,496.6 L347.8,495.6 L349.1,494.6 L350.3,493.5 L351.6,492.5 L352.9,491.5" stroke="#ffd21e" stroke-opacity="0.5" stroke-width="1.3" stroke-linecap="round"/><path d="M244.90,583.10 C245.80,582.33 248.37,580.17 250.30,578.50 C252.23,576.83 254.45,574.57 256.50,573.10 C258.55,571.63 260.55,570.42 262.60,569.70 C264.65,568.98 265.20,568.98 268.80,568.80 C272.40,568.62 269.67,568.65 284.20,568.60 C298.73,568.55 344.03,568.52 356.00,568.50" stroke="#121212" stroke-width="0.95" stroke-dasharray="1.5 0.6"/><path d="M239.30,567.70 C241.13,567.70 247.43,567.83 250.30,567.70 C253.17,567.57 254.70,567.33 256.50,566.90 C258.30,566.47 259.05,566.25 261.10,565.10 C263.15,563.95 264.95,562.65 268.80,560.00 C272.65,557.35 279.67,552.72 284.20,549.20 C288.73,545.68 293.27,541.20 296.00,538.90 C298.73,536.60 299.07,536.42 300.60,535.40 C302.13,534.38 303.67,533.45 305.20,532.80 C306.73,532.15 307.48,531.77 309.80,531.50 C312.12,531.23 311.40,531.25 319.10,531.20 C326.80,531.15 349.85,531.20 356.00,531.20" stroke="#c41c1c" stroke-width="0.95" stroke-dasharray="1.5 0.6"/><path d="M239.30,530.80 C248.75,530.72 285.52,530.48 296.00,530.30 C306.48,530.12 300.40,530.05 302.20,529.70 C304.00,529.35 305.27,528.92 306.80,528.20 C308.33,527.48 309.35,526.90 311.40,525.40 C313.45,523.90 315.25,522.40 319.10,519.20 C322.95,516.00 328.87,510.82 334.50,506.20 C340.13,501.58 349.83,493.95 352.90,491.50" stroke="#2a2ab8" stroke-width="0.95" stroke-dasharray="1.5 0.6"/></g>
<g clip-path="url(#pc_c1)" fill="none" stroke-width="1.1" stroke-linejoin="round"><path d="M404.91,118.60 C407.01,116.55 413.08,110.57 417.52,106.34 C421.96,102.10 427.45,97.14 431.53,93.20 C435.62,89.26 439.12,85.17 442.04,82.69 C444.96,80.20 446.42,79.68 449.05,78.31 C451.68,76.93 454.89,75.47 457.81,74.45 C460.73,73.43 464.23,72.70 466.57,72.18 C468.91,71.65 470.07,71.30 471.82,71.30 C473.58,71.30 474.74,71.82 477.08,72.18 C479.42,72.53 482.34,73.11 485.84,73.40 C489.34,73.69 492.79,73.75 498.10,73.93 C503.42,74.10 514.45,74.36 517.72,74.45" stroke="#1e1e1e"/><path d="M402.10,75.15 C404.67,75.18 412.61,75.18 417.52,75.33 C422.42,75.47 427.30,75.68 431.53,76.03 C435.77,76.38 440.00,77.43 442.92,77.43 C445.84,77.43 446.57,76.67 449.05,76.03 C451.53,75.39 454.89,74.42 457.81,73.58 C460.73,72.73 463.65,71.77 466.57,70.95 C469.49,70.13 472.41,69.40 475.33,68.67 C478.25,67.94 480.88,67.07 484.09,66.57 C487.30,66.07 491.09,65.90 494.60,65.69 C498.10,65.49 501.26,65.40 505.11,65.34 C508.96,65.28 515.62,65.34 517.72,65.34" stroke="#e03a3a"/><path d="M402.10,63.94 C404.67,64.00 412.03,64.35 417.52,64.29 C423.01,64.23 429.78,63.82 435.04,63.59 C440.29,63.36 445.26,63.15 449.05,62.89 C452.85,62.63 455.18,62.42 457.81,62.01 C460.44,61.61 462.77,61.08 464.82,60.44 C466.86,59.80 468.32,59.27 470.07,58.16 C471.82,57.05 473.28,55.53 475.33,53.78 C477.37,52.03 479.71,49.84 482.34,47.65 C484.96,45.46 487.88,43.12 491.09,40.64 C494.31,38.16 498.10,35.09 501.61,32.76 C505.11,30.42 510.36,27.65 512.12,26.63" stroke="#3a45e0"/></g>
<g clip-path="url(#pc_c2)" fill="none" stroke-width="1.1" stroke-linejoin="round"><path d="M401.75,234.25 C404.38,231.82 411.97,224.85 417.52,219.71 C423.07,214.57 430.51,207.94 435.04,203.42 C439.56,198.89 442.48,194.80 444.67,192.55 C446.86,190.31 446.86,190.66 448.18,189.93 C449.49,189.20 451.24,188.32 452.55,188.18 C453.87,188.03 454.60,188.85 456.06,189.05 C457.52,189.26 457.52,189.31 461.31,189.40 C465.11,189.49 472.99,189.52 478.83,189.58 C484.67,189.64 490.07,189.72 496.35,189.75 C502.63,189.78 513.14,189.75 516.50,189.75" stroke="#1e1e1e"/><path d="M401.75,189.93 C404.38,189.99 411.97,190.16 417.52,190.28 C423.07,190.39 430.51,190.51 435.04,190.63 C439.56,190.74 442.34,191.15 444.67,190.98 C447.01,190.80 447.74,190.13 449.05,189.58 C450.36,189.02 451.39,188.55 452.55,187.65 C453.72,186.74 454.74,185.52 456.06,184.15 C457.37,182.77 459.12,180.55 460.44,179.42 C461.75,178.28 462.63,177.81 463.94,177.31 C465.26,176.82 465.84,176.55 468.32,176.44 C470.80,176.32 474.16,176.55 478.83,176.61 C483.50,176.67 490.07,176.76 496.35,176.79 C502.63,176.82 513.14,176.79 516.50,176.79" stroke="#e03a3a"/><path d="M401.75,176.79 C405.84,176.82 419.27,176.91 426.28,176.96 C433.28,177.02 438.54,177.08 443.80,177.14 C449.05,177.20 454.60,177.31 457.81,177.31 C461.02,177.31 461.61,177.43 463.07,177.14 C464.53,176.85 464.82,176.79 466.57,175.56 C468.32,174.34 470.66,172.26 473.58,169.78 C476.50,167.30 480.58,163.65 484.09,160.67 C487.59,157.69 490.95,154.95 494.60,151.91 C498.25,148.88 504.09,144.03 505.99,142.45" stroke="#3a45e0"/></g>
<g clip-path="url(#pc_c3)" fill="none" stroke-width="1.1" stroke-linejoin="round"><path d="M407.88,351.12 C409.49,349.58 414.45,344.70 417.52,341.84 C420.58,338.98 423.80,335.85 426.28,333.96 C428.76,332.06 430.36,331.27 432.41,330.45 C434.45,329.64 435.77,329.40 438.54,329.05 C441.31,328.70 443.80,328.50 449.05,328.35 C454.31,328.20 458.83,328.23 470.07,328.18 C481.31,328.12 508.76,328.03 516.50,328.00" stroke="#1e1e1e"/><path d="M401.75,327.47 C404.38,327.45 413.43,327.42 417.52,327.30 C421.61,327.18 423.80,327.12 426.28,326.77 C428.76,326.42 430.51,326.04 432.41,325.20 C434.31,324.35 435.47,323.45 437.66,321.69 C439.85,319.94 442.77,317.17 445.55,314.69 C448.32,312.20 451.68,309.14 454.31,306.80 C456.93,304.47 459.27,302.36 461.31,300.67 C463.36,298.98 464.82,297.66 466.57,296.64 C468.32,295.62 470.07,295.09 471.82,294.54 C473.58,293.99 474.45,293.52 477.08,293.31 C479.71,293.11 481.02,293.26 487.59,293.31 C494.16,293.37 511.68,293.61 516.50,293.66" stroke="#e03a3a"/><path d="M401.75,294.01 C405.84,294.01 417.81,293.99 426.28,294.01 C434.74,294.04 445.99,294.13 452.55,294.19 C459.12,294.25 462.77,294.48 465.69,294.36 C468.61,294.25 468.47,294.04 470.07,293.49 C471.68,292.93 473.58,292.09 475.33,291.04 C477.08,289.99 477.96,289.28 480.58,287.18 C483.21,285.08 487.30,281.52 491.09,278.42 C494.89,275.33 499.12,271.91 503.36,268.61 C507.59,265.31 514.31,260.29 516.50,258.63" stroke="#3a45e0"/></g>
<g clip-path="url(#pc_c4)" fill="none" stroke-width="1.1" stroke-linejoin="round"><path d="M406.13,467.12 C408.03,465.49 414.16,460.26 417.52,457.31 C420.88,454.36 423.80,451.74 426.28,449.43 C428.76,447.12 430.66,444.64 432.41,443.47 C434.16,442.31 435.18,442.51 436.79,442.42 C438.39,442.34 437.96,442.83 442.04,442.95 C446.13,443.07 448.91,443.09 461.31,443.12 C473.72,443.15 507.30,443.12 516.50,443.12" stroke="#1e1e1e"/><path d="M401.75,443.12 C404.38,443.12 412.55,443.07 417.52,443.12 C422.48,443.18 428.61,443.53 431.53,443.47 C434.45,443.42 432.99,444.47 435.04,442.77 C437.08,441.08 440.88,436.20 443.80,433.31 C446.72,430.42 449.93,427.71 452.55,425.43 C455.18,423.15 457.52,420.91 459.56,419.65 C461.61,418.39 462.48,418.10 464.82,417.90 C467.15,417.69 468.32,418.31 473.58,418.42 C478.83,418.54 489.20,418.54 496.35,418.60 C503.50,418.66 513.14,418.74 516.50,418.77" stroke="#e03a3a"/><path d="M401.75,418.77 C405.84,418.80 418.39,418.86 426.28,418.95 C434.16,419.04 443.50,419.21 449.05,419.30 C454.60,419.39 456.93,419.71 459.56,419.47 C462.19,419.24 462.48,419.39 464.82,417.90 C467.15,416.41 469.78,413.81 473.58,410.54 C477.37,407.27 482.92,402.25 487.59,398.28 C492.26,394.31 496.79,390.66 501.61,386.72 C506.42,382.77 514.01,376.64 516.50,374.63" stroke="#3a45e0"/></g>
<g clip-path="url(#pc_c5)" fill="none" stroke-width="1.1" stroke-linejoin="round"><path d="M405.01,583.60 C406.18,582.58 409.68,579.36 412.01,577.47 C414.35,575.57 416.69,573.53 419.02,572.21 C421.36,570.90 423.69,570.11 426.03,569.58 C428.36,569.06 428.95,569.20 433.04,569.06 C437.12,568.91 436.77,568.82 450.55,568.71 C464.34,568.59 504.86,568.42 515.72,568.36" stroke="#1e1e1e"/><path d="M400.45,567.48 C402.38,567.45 408.92,567.54 412.01,567.31 C415.11,567.07 416.69,566.87 419.02,566.08 C421.36,565.29 423.69,564.04 426.03,562.58 C428.36,561.12 430.12,559.66 433.04,557.32 C435.96,554.99 440.04,551.48 443.55,548.56 C447.05,545.64 450.85,542.26 454.06,539.80 C457.27,537.35 460.48,535.16 462.82,533.85 C465.15,532.53 465.74,532.36 468.07,531.92 C470.41,531.48 468.89,531.34 476.83,531.22 C484.77,531.10 509.24,531.22 515.72,531.22" stroke="#e03a3a"/><path d="M400.45,530.69 C404.42,530.69 416.51,530.72 424.28,530.69 C432.04,530.66 441.50,530.64 447.05,530.52 C452.60,530.40 454.64,530.26 457.56,529.99 C460.48,529.73 462.53,529.50 464.57,528.94 C466.61,528.39 468.07,527.69 469.82,526.66 C471.58,525.64 472.45,524.85 475.08,522.81 C477.71,520.77 481.50,517.55 485.59,514.40 C489.68,511.25 494.58,507.69 499.61,503.89 C504.63,500.09 513.04,493.67 515.72,491.63" stroke="#3a45e0"/></g>
<g clip-path="url(#pc_d1)" fill="none" stroke-width="1.1" stroke-linejoin="round"><path d="M557.63,92.32 C560.11,92.41 568.28,92.61 572.52,92.85 C576.75,93.08 579.82,93.17 583.03,93.72 C586.24,94.28 589.45,94.80 591.79,96.18 C594.12,97.55 595.29,99.39 597.04,101.96 C598.80,104.53 600.69,109.11 602.30,111.59 C603.91,114.07 605.36,115.74 606.68,116.85 C607.99,117.96 608.87,118.31 610.18,118.25 C611.50,118.19 613.10,118.19 614.56,116.50 C616.02,114.80 617.48,111.24 618.94,108.09 C620.40,104.93 621.86,101.52 623.32,97.58 C624.78,93.64 626.24,86.25 627.70,84.44 C629.16,82.63 630.18,85.90 632.08,86.72 C633.98,87.53 636.17,88.70 639.09,89.34 C642.01,89.99 643.99,90.22 649.60,90.57 C655.20,90.92 668.87,91.30 672.72,91.45" stroke="#1e1e1e"/><path d="M557.63,68.15 C561.57,68.20 574.42,68.32 581.28,68.50 C588.14,68.67 594.42,68.91 598.80,69.20 C603.18,69.49 604.93,69.75 607.55,70.25 C610.18,70.74 612.23,70.98 614.56,72.18 C616.90,73.37 619.38,75.39 621.57,77.43 C623.76,79.47 625.95,84.58 627.70,84.44 C629.45,84.29 630.77,78.69 632.08,76.55 C633.39,74.42 633.83,72.88 635.58,71.65 C637.34,70.42 639.67,69.75 642.59,69.20 C645.51,68.64 648.08,68.47 653.10,68.32 C658.12,68.18 669.45,68.32 672.72,68.32" stroke="#3a45e0"/><path d="M557.63,66.57 C560.11,66.48 567.99,66.36 572.52,66.04 C577.04,65.72 581.42,65.37 584.78,64.64 C588.14,63.91 590.33,63.33 592.66,61.66 C595.00,60.00 596.90,57.43 598.80,54.66 C600.69,51.88 602.30,47.65 604.05,45.02 C605.80,42.39 607.99,40.06 609.31,38.89 C610.62,37.72 610.91,38.01 611.93,38.01 C612.96,38.01 613.98,37.87 615.44,38.89 C616.90,39.91 618.94,41.81 620.69,44.15 C622.45,46.48 624.34,49.99 625.95,52.91 C627.55,55.82 628.87,59.47 630.33,61.66 C631.79,63.85 632.66,65.02 634.71,66.04 C636.75,67.07 639.53,67.45 642.59,67.80 C645.66,68.15 648.08,68.09 653.10,68.15 C658.12,68.20 669.45,68.15 672.72,68.15" stroke="#e03a3a"/></g>
<g clip-path="url(#pc_d2)" fill="none" stroke-width="1.1" stroke-linejoin="round"><path d="M557.63,210.60 C560.11,210.51 567.12,210.28 572.52,210.07 C577.92,209.87 585.95,209.31 590.04,209.37 C594.12,209.43 595.15,209.43 597.04,210.42 C598.94,211.42 599.96,213.64 601.42,215.33 C602.88,217.02 604.49,219.94 605.80,220.58 C607.12,221.23 608.14,220.20 609.31,219.18 C610.47,218.16 611.79,215.45 612.81,214.45 C613.83,213.46 614.42,213.02 615.44,213.23 C616.46,213.43 617.77,214.83 618.94,215.68 C620.11,216.53 621.13,218.13 622.45,218.31 C623.76,218.48 625.22,217.40 626.82,216.73 C628.43,216.06 629.45,214.98 632.08,214.28 C634.71,213.58 638.50,212.93 642.59,212.53 C646.68,212.12 651.58,212.03 656.61,211.82 C661.63,211.62 670.04,211.39 672.72,211.30" stroke="#1e1e1e"/><path d="M557.63,168.03 C561.57,168.03 574.42,167.94 581.28,168.03 C588.14,168.12 594.42,168.38 598.80,168.55 C603.18,168.73 604.93,168.96 607.55,169.08 C610.18,169.20 612.96,169.58 614.56,169.26 C616.17,168.93 616.31,167.77 617.19,167.15 C618.07,166.54 618.50,165.75 619.82,165.58 C621.13,165.40 622.74,165.90 625.07,166.10 C627.41,166.31 629.45,166.63 633.83,166.80 C638.21,166.98 644.87,167.04 651.35,167.15 C657.83,167.27 669.16,167.45 672.72,167.50" stroke="#3a45e0"/><path d="M557.63,167.68 C561.57,167.68 575.29,167.71 581.28,167.68 C587.26,167.65 590.77,167.88 593.54,167.50 C596.31,167.12 596.46,166.77 597.92,165.40 C599.38,164.03 600.99,160.79 602.30,159.27 C603.61,157.75 604.78,156.58 605.80,156.29 C606.82,156.00 607.41,156.58 608.43,157.52 C609.45,158.45 610.77,160.79 611.93,161.90 C613.10,163.01 614.27,164.03 615.44,164.18 C616.61,164.32 617.77,163.24 618.94,162.77 C620.11,162.31 621.13,161.37 622.45,161.37 C623.76,161.37 625.22,162.19 626.82,162.77 C628.43,163.36 629.45,164.29 632.08,164.88 C634.71,165.46 638.50,165.93 642.59,166.28 C646.68,166.63 651.58,166.83 656.61,166.98 C661.63,167.12 670.04,167.12 672.72,167.15" stroke="#e03a3a"/></g>
<g clip-path="url(#pc_d3)" fill="none" stroke-width="1.1" stroke-linejoin="round"><path d="M557.63,327.47 C559.53,327.18 565.66,326.83 569.01,325.72 C572.37,324.61 575.44,322.66 577.77,320.82 C580.11,318.98 581.51,316.58 583.03,314.69 C584.55,312.79 585.72,309.14 586.88,309.43 C588.05,309.72 588.64,313.66 590.04,316.44 C591.44,319.21 592.96,323.59 595.29,326.07 C597.63,328.55 601.13,329.72 604.05,331.33 C606.97,332.93 610.18,333.96 612.81,335.71 C615.44,337.46 617.77,340.15 619.82,341.84 C621.86,343.53 623.61,345.58 625.07,345.87 C626.53,346.16 627.41,345.72 628.58,343.59 C629.74,341.46 631.06,336.88 632.08,333.08 C633.10,329.28 634.07,323.09 634.71,320.82 C635.35,318.54 634.91,319.27 635.93,319.42 C636.96,319.56 638.27,320.96 640.84,321.69 C643.41,322.42 646.04,323.18 651.35,323.80 C656.66,324.41 669.16,325.11 672.72,325.37" stroke="#1e1e1e"/><path d="M557.63,288.41 C559.53,288.70 565.66,288.85 569.01,290.16 C572.37,291.47 575.44,294.25 577.77,296.29 C580.11,298.34 581.57,300.53 583.03,302.42 C584.49,304.32 585.51,307.82 586.53,307.68 C587.55,307.53 587.99,304.03 589.16,301.55 C590.33,299.07 591.64,294.98 593.54,292.79 C595.44,290.60 597.63,289.34 600.55,288.41 C603.47,287.47 606.97,287.47 611.06,287.18 C615.15,286.89 621.57,286.74 625.07,286.66 C628.58,286.57 630.62,285.93 632.08,286.66 C633.54,287.39 633.25,289.58 633.83,291.04 C634.42,292.50 634.71,294.98 635.58,295.42 C636.46,295.85 637.04,294.39 639.09,293.66 C641.13,292.93 644.34,291.71 647.85,291.04 C651.35,290.36 655.96,289.99 660.11,289.64 C664.26,289.28 670.62,289.05 672.72,288.93" stroke="#3a45e0"/><path d="M557.63,285.43 C560.11,285.34 567.12,285.14 572.52,284.91 C577.92,284.67 584.78,284.41 590.04,284.03 C595.29,283.65 600.26,283.36 604.05,282.63 C607.85,281.90 610.18,281.02 612.81,279.65 C615.44,278.28 617.92,276.06 619.82,274.39 C621.72,272.73 623.09,270.63 624.20,269.66 C625.31,268.70 625.74,268.41 626.47,268.61 C627.20,268.82 627.79,269.20 628.58,270.89 C629.36,272.58 630.39,276.23 631.20,278.77 C632.02,281.31 632.75,284.82 633.48,286.13 C634.21,287.45 632.61,286.57 635.58,286.66 C638.56,286.74 645.16,286.63 651.35,286.66 C657.54,286.69 669.16,286.80 672.72,286.83" stroke="#e03a3a"/></g>
<g clip-path="url(#pc_d4)" fill="none" stroke-width="1.1" stroke-linejoin="round"><path d="M557.63,443.47 C560.99,443.59 573.25,443.82 577.77,444.18 C582.30,444.53 582.88,444.99 584.78,445.58 C586.68,446.16 587.85,447.62 589.16,447.68 C590.47,447.74 591.35,446.39 592.66,445.93 C593.98,445.46 594.85,444.93 597.04,444.88 C599.23,444.82 603.47,445.11 605.80,445.58 C608.14,446.04 609.60,446.80 611.06,447.68 C612.52,448.55 613.54,450.07 614.56,450.83 C615.58,451.59 616.31,452.38 617.19,452.23 C618.07,452.09 618.65,451.30 619.82,449.96 C620.99,448.61 622.45,445.40 624.20,444.18 C625.95,442.95 622.24,442.86 630.33,442.60 C638.42,442.34 665.66,442.60 672.72,442.60" stroke="#1e1e1e"/><path d="M557.63,404.06 C560.69,403.97 571.79,403.77 576.02,403.53 C580.26,403.30 581.28,403.09 583.03,402.66 C584.78,402.22 585.51,401.28 586.53,400.91 C587.55,400.53 588.28,400.23 589.16,400.38 C590.04,400.53 590.77,401.34 591.79,401.78 C592.81,402.22 593.83,402.86 595.29,403.01 C596.75,403.15 598.50,403.01 600.55,402.66 C602.59,402.31 605.51,401.78 607.55,400.91 C609.60,400.03 611.29,398.36 612.81,397.40 C614.33,396.44 615.50,395.27 616.66,395.12 C617.83,394.98 618.71,395.42 619.82,396.53 C620.93,397.64 622.30,400.55 623.32,401.78 C624.34,403.01 624.20,403.47 625.95,403.88 C627.70,404.29 626.04,404.15 633.83,404.23 C641.63,404.32 666.24,404.38 672.72,404.41" stroke="#e03a3a"/><path d="M557.63,403.88 C563.03,403.82 578.80,403.50 590.04,403.53 C601.28,403.56 611.29,403.94 625.07,404.06 C638.85,404.18 664.78,404.20 672.72,404.23" stroke="#3a45e0"/></g>
<g clip-path="url(#pc_d5)" fill="none" stroke-width="1.1" stroke-linejoin="round"><path d="M557.63,558.72 C558.94,558.49 563.03,558.28 565.51,557.32 C567.99,556.36 570.62,554.84 572.52,552.94 C574.42,551.04 575.88,547.83 576.90,545.93 C577.92,544.04 577.92,541.41 578.65,541.55 C579.38,541.70 579.96,544.77 581.28,546.81 C582.59,548.85 584.20,552.12 586.53,553.82 C588.87,555.51 592.66,556.30 595.29,556.97 C597.92,557.64 599.67,557.93 602.30,557.85 C604.93,557.76 608.43,557.41 611.06,556.45 C613.69,555.48 616.31,553.82 618.07,552.07 C619.82,550.31 620.69,547.69 621.57,545.93 C622.45,544.18 622.74,541.55 623.32,541.55 C623.91,541.55 624.20,544.18 625.07,545.93 C625.95,547.69 626.82,550.17 628.58,552.07 C630.33,553.96 632.66,556.15 635.58,557.32 C638.50,558.49 639.91,558.66 646.09,559.07 C652.28,559.48 668.28,559.66 672.72,559.77" stroke="#1e1e1e"/><path d="M557.63,521.93 C558.94,522.28 563.03,522.66 565.51,524.04 C567.99,525.41 570.62,527.98 572.52,530.17 C574.42,532.36 575.88,535.57 576.90,537.18 C577.92,538.78 577.92,540.24 578.65,539.80 C579.38,539.36 579.96,536.59 581.28,534.55 C582.59,532.50 584.20,529.44 586.53,527.54 C588.87,525.64 592.66,524.09 595.29,523.16 C597.92,522.23 599.67,522.02 602.30,521.93 C604.93,521.85 608.43,521.85 611.06,522.64 C613.69,523.42 616.31,524.68 618.07,526.66 C619.82,528.65 620.69,532.36 621.57,534.55 C622.45,536.74 622.74,539.66 623.32,539.80 C623.91,539.95 624.20,537.32 625.07,535.42 C625.95,533.53 626.82,530.31 628.58,528.42 C630.33,526.52 632.66,525.12 635.58,524.04 C638.50,522.96 639.91,522.40 646.09,521.93 C652.28,521.47 668.28,521.35 672.72,521.23" stroke="#3a45e0"/><path d="M557.63,521.06 L672.72,521.23" stroke="#e03a3a"/></g>
<path d="M421.38,118.50v-2.0M421.38,26.60v2.0M440.67,118.50v-2.0M440.67,26.60v2.0M459.95,118.50v-2.0M459.95,26.60v2.0M479.23,118.50v-2.0M479.23,26.60v2.0M498.52,118.50v-2.0M498.52,26.60v2.0M402.10,35.79h2.0M517.80,35.79h-2.0M402.10,44.98h2.0M517.80,44.98h-2.0M402.10,54.17h2.0M517.80,54.17h-2.0M402.10,63.36h2.0M517.80,63.36h-2.0M402.10,72.55h2.0M517.80,72.55h-2.0M402.10,81.74h2.0M517.80,81.74h-2.0M402.10,90.93h2.0M517.80,90.93h-2.0M402.10,100.12h2.0M517.80,100.12h-2.0M402.10,109.31h2.0M517.80,109.31h-2.0" stroke="#333" stroke-width="0.7" fill="none"/>
<rect x="402.1" y="26.6" width="115.70" height="91.90" fill="none" stroke="#3c3c3c" stroke-width="1.0"/>
<path d="M424.66,234.20v-2.0M424.66,142.50v2.0M447.62,234.20v-2.0M447.62,142.50v2.0M470.58,234.20v-2.0M470.58,142.50v2.0M493.54,234.20v-2.0M493.54,142.50v2.0M401.70,151.67h2.0M516.50,151.67h-2.0M401.70,160.84h2.0M516.50,160.84h-2.0M401.70,170.01h2.0M516.50,170.01h-2.0M401.70,179.18h2.0M516.50,179.18h-2.0M401.70,188.35h2.0M516.50,188.35h-2.0M401.70,197.52h2.0M516.50,197.52h-2.0M401.70,206.69h2.0M516.50,206.69h-2.0M401.70,215.86h2.0M516.50,215.86h-2.0M401.70,225.03h2.0M516.50,225.03h-2.0" stroke="#333" stroke-width="0.7" fill="none"/>
<rect x="401.7" y="142.5" width="114.80" height="91.70" fill="none" stroke="#3c3c3c" stroke-width="1.0"/>
<path d="M424.66,351.00v-2.0M424.66,258.70v2.0M447.62,351.00v-2.0M447.62,258.70v2.0M470.58,351.00v-2.0M470.58,258.70v2.0M493.54,351.00v-2.0M493.54,258.70v2.0M401.70,267.93h2.0M516.50,267.93h-2.0M401.70,277.16h2.0M516.50,277.16h-2.0M401.70,286.39h2.0M516.50,286.39h-2.0M401.70,295.62h2.0M516.50,295.62h-2.0M401.70,304.85h2.0M516.50,304.85h-2.0M401.70,314.08h2.0M516.50,314.08h-2.0M401.70,323.31h2.0M516.50,323.31h-2.0M401.70,332.54h2.0M516.50,332.54h-2.0M401.70,341.77h2.0M516.50,341.77h-2.0" stroke="#333" stroke-width="0.7" fill="none"/>
<rect x="401.7" y="258.7" width="114.80" height="92.30" fill="none" stroke="#3c3c3c" stroke-width="1.0"/>
<path d="M420.83,467.10v-2.0M420.83,374.80v2.0M439.97,467.10v-2.0M439.97,374.80v2.0M459.10,467.10v-2.0M459.10,374.80v2.0M478.23,467.10v-2.0M478.23,374.80v2.0M497.37,467.10v-2.0M497.37,374.80v2.0M401.70,384.03h2.0M516.50,384.03h-2.0M401.70,393.26h2.0M516.50,393.26h-2.0M401.70,402.49h2.0M516.50,402.49h-2.0M401.70,411.72h2.0M516.50,411.72h-2.0M401.70,420.95h2.0M516.50,420.95h-2.0M401.70,430.18h2.0M516.50,430.18h-2.0M401.70,439.41h2.0M516.50,439.41h-2.0M401.70,448.64h2.0M516.50,448.64h-2.0M401.70,457.87h2.0M516.50,457.87h-2.0" stroke="#333" stroke-width="0.7" fill="none"/>
<rect x="401.7" y="374.8" width="114.80" height="92.30" fill="none" stroke="#3c3c3c" stroke-width="1.0"/>
<path d="M419.70,583.40v-2.0M419.70,491.50v2.0M438.90,583.40v-2.0M438.90,491.50v2.0M458.10,583.40v-2.0M458.10,491.50v2.0M477.30,583.40v-2.0M477.30,491.50v2.0M496.50,583.40v-2.0M496.50,491.50v2.0M400.50,500.69h2.0M515.70,500.69h-2.0M400.50,509.88h2.0M515.70,509.88h-2.0M400.50,519.07h2.0M515.70,519.07h-2.0M400.50,528.26h2.0M515.70,528.26h-2.0M400.50,537.45h2.0M515.70,537.45h-2.0M400.50,546.64h2.0M515.70,546.64h-2.0M400.50,555.83h2.0M515.70,555.83h-2.0M400.50,565.02h2.0M515.70,565.02h-2.0M400.50,574.21h2.0M515.70,574.21h-2.0" stroke="#333" stroke-width="0.7" fill="none"/>
<rect x="400.5" y="491.5" width="115.20" height="91.90" fill="none" stroke="#3c3c3c" stroke-width="1.0"/>
<path d="M576.80,118.30v-2.0M576.80,26.60v2.0M596.00,118.30v-2.0M596.00,26.60v2.0M615.20,118.30v-2.0M615.20,26.60v2.0M634.40,118.30v-2.0M634.40,26.60v2.0M653.60,118.30v-2.0M653.60,26.60v2.0M557.60,39.70h2.0M672.80,39.70h-2.0M557.60,52.80h2.0M672.80,52.80h-2.0M557.60,65.90h2.0M672.80,65.90h-2.0M557.60,79.00h2.0M672.80,79.00h-2.0M557.60,92.10h2.0M672.80,92.10h-2.0M557.60,105.20h2.0M672.80,105.20h-2.0" stroke="#333" stroke-width="0.7" fill="none"/>
<rect x="557.6" y="26.6" width="115.20" height="91.70" fill="none" stroke="#3c3c3c" stroke-width="1.0"/>
<path d="M580.62,234.30v-2.0M580.62,142.40v2.0M603.64,234.30v-2.0M603.64,142.40v2.0M626.66,234.30v-2.0M626.66,142.40v2.0M649.68,234.30v-2.0M649.68,142.40v2.0M557.60,153.89h2.0M672.70,153.89h-2.0M557.60,165.38h2.0M672.70,165.38h-2.0M557.60,176.86h2.0M672.70,176.86h-2.0M557.60,188.35h2.0M672.70,188.35h-2.0M557.60,199.84h2.0M672.70,199.84h-2.0M557.60,211.33h2.0M672.70,211.33h-2.0M557.60,222.81h2.0M672.70,222.81h-2.0" stroke="#333" stroke-width="0.7" fill="none"/>
<rect x="557.6" y="142.4" width="115.10" height="91.90" fill="none" stroke="#3c3c3c" stroke-width="1.0"/>
<path d="M576.78,351.00v-2.0M576.78,258.50v2.0M595.97,351.00v-2.0M595.97,258.50v2.0M615.15,351.00v-2.0M615.15,258.50v2.0M634.33,351.00v-2.0M634.33,258.50v2.0M653.52,351.00v-2.0M653.52,258.50v2.0M557.60,270.06h2.0M672.70,270.06h-2.0M557.60,281.62h2.0M672.70,281.62h-2.0M557.60,293.19h2.0M672.70,293.19h-2.0M557.60,304.75h2.0M672.70,304.75h-2.0M557.60,316.31h2.0M672.70,316.31h-2.0M557.60,327.88h2.0M672.70,327.88h-2.0M557.60,339.44h2.0M672.70,339.44h-2.0" stroke="#333" stroke-width="0.7" fill="none"/>
<rect x="557.6" y="258.5" width="115.10" height="92.50" fill="none" stroke="#3c3c3c" stroke-width="1.0"/>
<path d="M576.78,467.10v-2.0M576.78,374.50v2.0M595.97,467.10v-2.0M595.97,374.50v2.0M615.15,467.10v-2.0M615.15,374.50v2.0M634.33,467.10v-2.0M634.33,374.50v2.0M653.52,467.10v-2.0M653.52,374.50v2.0M557.60,386.07h2.0M672.70,386.07h-2.0M557.60,397.65h2.0M672.70,397.65h-2.0M557.60,409.23h2.0M672.70,409.23h-2.0M557.60,420.80h2.0M672.70,420.80h-2.0M557.60,432.38h2.0M672.70,432.38h-2.0M557.60,443.95h2.0M672.70,443.95h-2.0M557.60,455.53h2.0M672.70,455.53h-2.0" stroke="#333" stroke-width="0.7" fill="none"/>
<rect x="557.6" y="374.5" width="115.10" height="92.60" fill="none" stroke="#3c3c3c" stroke-width="1.0"/>
<path d="M576.78,583.30v-2.0M576.78,491.50v2.0M595.97,583.30v-2.0M595.97,491.50v2.0M615.15,583.30v-2.0M615.15,491.50v2.0M634.33,583.30v-2.0M634.33,491.50v2.0M653.52,583.30v-2.0M653.52,491.50v2.0M557.60,502.98h2.0M672.70,502.98h-2.0M557.60,514.45h2.0M672.70,514.45h-2.0M557.60,525.92h2.0M672.70,525.92h-2.0M557.60,537.40h2.0M672.70,537.40h-2.0M557.60,548.88h2.0M672.70,548.88h-2.0M557.60,560.35h2.0M672.70,560.35h-2.0M557.60,571.82h2.0M672.70,571.82h-2.0" stroke="#333" stroke-width="0.7" fill="none"/>
<rect x="557.6" y="491.5" width="115.10" height="91.80" fill="none" stroke="#3c3c3c" stroke-width="1.0"/>
<path d="M72.54,176.20v-1.6M72.54,84.40v1.6M95.88,176.20v-1.6M95.88,84.40v1.6M119.22,176.20v-1.6M119.22,84.40v1.6M142.56,176.20v-1.6M142.56,84.40v1.6M49.20,107.35h1.6M165.90,107.35h-1.6M49.20,130.30h1.6M165.90,130.30h-1.6M49.20,153.25h1.6M165.90,153.25h-1.6" stroke="#222" stroke-width="0.6" fill="none"/>
<rect x="49.2" y="84.4" width="116.70" height="91.80" fill="none" stroke="#2a2020" stroke-width="0.7"/>
<path d="M73.34,410.50v-1.6M73.34,319.10v1.6M96.48,410.50v-1.6M96.48,319.10v1.6M119.62,410.50v-1.6M119.62,319.10v1.6M142.76,410.50v-1.6M142.76,319.10v1.6M50.20,341.95h1.6M165.90,341.95h-1.6M50.20,364.80h1.6M165.90,364.80h-1.6M50.20,387.65h1.6M165.90,387.65h-1.6" stroke="#222" stroke-width="0.6" fill="none"/>
<rect x="50.2" y="319.1" width="115.70" height="91.40" fill="none" stroke="#2a2020" stroke-width="0.7"/>
<path d="M73.32,582.20v-1.6M73.32,490.90v1.6M96.44,582.20v-1.6M96.44,490.90v1.6M119.56,582.20v-1.6M119.56,490.90v1.6M142.68,582.20v-1.6M142.68,490.90v1.6M50.20,513.73h1.6M165.80,513.73h-1.6M50.20,536.55h1.6M165.80,536.55h-1.6M50.20,559.38h1.6M165.80,559.38h-1.6" stroke="#222" stroke-width="0.6" fill="none"/>
<rect x="50.2" y="490.9" width="115.60" height="91.30" fill="none" stroke="#2a2020" stroke-width="0.7"/>
<path d="M260.55,118.40v-1.6M260.55,26.30v1.6M279.90,118.40v-1.6M279.90,26.30v1.6M299.25,118.40v-1.6M299.25,26.30v1.6M318.60,118.40v-1.6M318.60,26.30v1.6M337.95,118.40v-1.6M337.95,26.30v1.6M241.20,35.51h1.6M357.30,35.51h-1.6M241.20,44.72h1.6M357.30,44.72h-1.6M241.20,53.93h1.6M357.30,53.93h-1.6M241.20,63.14h1.6M357.30,63.14h-1.6M241.20,72.35h1.6M357.30,72.35h-1.6M241.20,81.56h1.6M357.30,81.56h-1.6M241.20,90.77h1.6M357.30,90.77h-1.6M241.20,99.98h1.6M357.30,99.98h-1.6M241.20,109.19h1.6M357.30,109.19h-1.6" stroke="#222" stroke-width="0.6" fill="none"/>
<rect x="241.2" y="26.3" width="116.10" height="92.10" fill="none" stroke="#2a2020" stroke-width="0.7"/>
<path d="M259.78,234.30v-1.6M259.78,142.40v1.6M279.17,234.30v-1.6M279.17,142.40v1.6M298.55,234.30v-1.6M298.55,142.40v1.6M317.93,234.30v-1.6M317.93,142.40v1.6M337.32,234.30v-1.6M337.32,142.40v1.6M240.40,151.59h1.6M356.70,151.59h-1.6M240.40,160.78h1.6M356.70,160.78h-1.6M240.40,169.97h1.6M356.70,169.97h-1.6M240.40,179.16h1.6M356.70,179.16h-1.6M240.40,188.35h1.6M356.70,188.35h-1.6M240.40,197.54h1.6M356.70,197.54h-1.6M240.40,206.73h1.6M356.70,206.73h-1.6M240.40,215.92h1.6M356.70,215.92h-1.6M240.40,225.11h1.6M356.70,225.11h-1.6" stroke="#222" stroke-width="0.6" fill="none"/>
<rect x="240.4" y="142.4" width="116.30" height="91.90" fill="none" stroke="#2a2020" stroke-width="0.7"/>
<path d="M259.78,350.70v-1.6M259.78,258.70v1.6M279.17,350.70v-1.6M279.17,258.70v1.6M298.55,350.70v-1.6M298.55,258.70v1.6M317.93,350.70v-1.6M317.93,258.70v1.6M337.32,350.70v-1.6M337.32,258.70v1.6M240.40,267.90h1.6M356.70,267.90h-1.6M240.40,277.10h1.6M356.70,277.10h-1.6M240.40,286.30h1.6M356.70,286.30h-1.6M240.40,295.50h1.6M356.70,295.50h-1.6M240.40,304.70h1.6M356.70,304.70h-1.6M240.40,313.90h1.6M356.70,313.90h-1.6M240.40,323.10h1.6M356.70,323.10h-1.6M240.40,332.30h1.6M356.70,332.30h-1.6M240.40,341.50h1.6M356.70,341.50h-1.6" stroke="#222" stroke-width="0.6" fill="none"/>
<rect x="240.4" y="258.7" width="116.30" height="92.00" fill="none" stroke="#2a2020" stroke-width="0.7"/>
<path d="M259.78,467.00v-1.6M259.78,375.00v1.6M279.17,467.00v-1.6M279.17,375.00v1.6M298.55,467.00v-1.6M298.55,375.00v1.6M317.93,467.00v-1.6M317.93,375.00v1.6M337.32,467.00v-1.6M337.32,375.00v1.6M240.40,384.20h1.6M356.70,384.20h-1.6M240.40,393.40h1.6M356.70,393.40h-1.6M240.40,402.60h1.6M356.70,402.60h-1.6M240.40,411.80h1.6M356.70,411.80h-1.6M240.40,421.00h1.6M356.70,421.00h-1.6M240.40,430.20h1.6M356.70,430.20h-1.6M240.40,439.40h1.6M356.70,439.40h-1.6M240.40,448.60h1.6M356.70,448.60h-1.6M240.40,457.80h1.6M356.70,457.80h-1.6" stroke="#222" stroke-width="0.6" fill="none"/>
<rect x="240.4" y="375.0" width="116.30" height="92.00" fill="none" stroke="#2a2020" stroke-width="0.7"/>
<path d="M258.72,583.10v-1.6M258.72,491.10v1.6M278.13,583.10v-1.6M278.13,491.10v1.6M297.55,583.10v-1.6M297.55,491.10v1.6M316.97,583.10v-1.6M316.97,491.10v1.6M336.38,583.10v-1.6M336.38,491.10v1.6M239.30,500.30h1.6M355.80,500.30h-1.6M239.30,509.50h1.6M355.80,509.50h-1.6M239.30,518.70h1.6M355.80,518.70h-1.6M239.30,527.90h1.6M355.80,527.90h-1.6M239.30,537.10h1.6M355.80,537.10h-1.6M239.30,546.30h1.6M355.80,546.30h-1.6M239.30,555.50h1.6M355.80,555.50h-1.6M239.30,564.70h1.6M355.80,564.70h-1.6M239.30,573.90h1.6M355.80,573.90h-1.6" stroke="#222" stroke-width="0.6" fill="none"/>
<rect x="239.3" y="491.1" width="116.50" height="92.00" fill="none" stroke="#2a2020" stroke-width="0.7"/>
<rect x="117.0" y="136.8" width="47.10" height="37.40" fill="#fff" stroke="#8a8a8a" stroke-width="0.5"/>
<path d="M126.42,136.80v1M126.42,174.20v-1M135.84,136.80v1M135.84,174.20v-1M145.26,136.80v1M145.26,174.20v-1M154.68,136.80v1M154.68,174.20v-1M117.00,141.48h0.8M164.10,141.48h-0.8M117.00,146.15h0.8M164.10,146.15h-0.8M117.00,150.82h0.8M164.10,150.82h-0.8M117.00,155.50h0.8M164.10,155.50h-0.8M117.00,160.18h0.8M164.10,160.18h-0.8M117.00,164.85h0.8M164.10,164.85h-0.8M117.00,169.52h0.8M164.10,169.52h-0.8" stroke="#777" stroke-width="0.4" fill="none"/>
<path d="M117.00,152.60 C119.75,152.60 130.42,152.65 133.50,152.60 C136.58,152.55 134.87,152.53 135.50,152.30 C136.13,152.07 136.67,151.55 137.30,151.20 C137.93,150.85 138.63,150.23 139.30,150.20 C139.97,150.17 140.65,150.67 141.30,151.00 C141.95,151.33 142.55,151.93 143.20,152.20 C143.85,152.47 141.72,152.53 145.20,152.60 C148.68,152.67 160.95,152.60 164.10,152.60" stroke="#d84848" stroke-width="0.55" fill="none"/>
<path d="M117.00,163.30 C119.75,163.32 130.42,163.32 133.50,163.40 C136.58,163.48 134.87,163.53 135.50,163.80 C136.13,164.07 136.67,164.63 137.30,165.00 C137.93,165.37 138.63,165.98 139.30,166.00 C139.97,166.02 140.65,165.45 141.30,165.10 C141.95,164.75 142.55,164.18 143.20,163.90 C143.85,163.62 141.72,163.50 145.20,163.40 C148.68,163.30 160.95,163.32 164.10,163.30" stroke="#333" stroke-width="0.55" fill="none"/>
<text x="117.60" y="151.50" font-size="5.2" text-anchor="start" fill="#222">0.02</text>
<text x="117.60" y="162.00" font-size="5.2" text-anchor="start" fill="#222">0</text>
<text x="117.60" y="173.30" font-size="5.2" text-anchor="start" fill="#222">-0.02</text>
<rect x="117.2" y="371.5" width="47.60" height="37.90" fill="#fff" stroke="#8a8a8a" stroke-width="0.5"/>
<path d="M126.72,371.50v1M126.72,409.40v-1M136.24,371.50v1M136.24,409.40v-1M145.76,371.50v1M145.76,409.40v-1M155.28,371.50v1M155.28,409.40v-1M117.20,376.24h0.8M164.80,376.24h-0.8M117.20,380.98h0.8M164.80,380.98h-0.8M117.20,385.71h0.8M164.80,385.71h-0.8M117.20,390.45h0.8M164.80,390.45h-0.8M117.20,395.19h0.8M164.80,395.19h-0.8M117.20,399.92h0.8M164.80,399.92h-0.8M117.20,404.66h0.8M164.80,404.66h-0.8" stroke="#777" stroke-width="0.4" fill="none"/>
<path d="M117.50,389.30 C119.55,389.37 126.57,389.50 129.80,389.70 C133.03,389.90 135.60,390.30 136.90,390.50 C138.20,390.70 137.08,391.30 137.60,390.90 C138.12,390.50 139.33,388.70 140.00,388.10 C140.67,387.50 140.68,387.27 141.60,387.30 C142.52,387.33 143.53,388.00 145.50,388.30 C147.47,388.60 150.23,388.93 153.40,389.10 C156.57,389.27 162.65,389.27 164.50,389.30" stroke="#d84848" stroke-width="0.55" fill="none"/>
<path d="M117.50,398.20 C119.55,398.13 126.45,397.97 129.80,397.80 C133.15,397.63 136.03,397.10 137.60,397.20 C139.17,397.30 138.60,397.88 139.20,398.40 C139.80,398.92 140.40,400.07 141.20,400.30 C142.00,400.53 142.62,400.03 144.00,399.80 C145.38,399.57 146.08,399.13 149.50,398.90 C152.92,398.67 162.00,398.48 164.50,398.40" stroke="#333" stroke-width="0.55" fill="none"/>
<text x="117.80" y="386.90" font-size="5.2" text-anchor="start" fill="#222">0.02</text>
<text x="117.80" y="397.20" font-size="5.2" text-anchor="start" fill="#222">0</text>
<text x="117.80" y="408.60" font-size="5.2" text-anchor="start" fill="#222">-0.02</text>
<rect x="117.2" y="543.2" width="47.60" height="37.80" fill="#fff" stroke="#8a8a8a" stroke-width="0.5"/>
<path d="M126.72,543.20v1M126.72,581.00v-1M136.24,543.20v1M136.24,581.00v-1M145.76,543.20v1M145.76,581.00v-1M155.28,543.20v1M155.28,581.00v-1M117.20,547.93h0.8M164.80,547.93h-0.8M117.20,552.65h0.8M164.80,552.65h-0.8M117.20,557.38h0.8M164.80,557.38h-0.8M117.20,562.10h0.8M164.80,562.10h-0.8M117.20,566.83h0.8M164.80,566.83h-0.8M117.20,571.55h0.8M164.80,571.55h-0.8M117.20,576.27h0.8M164.80,576.27h-0.8" stroke="#777" stroke-width="0.4" fill="none"/>
<path d="M117.50,559.30 C120.20,559.35 130.35,559.33 133.70,559.60 C137.05,559.87 136.35,560.10 137.60,560.90 C138.85,561.70 140.02,564.40 141.20,564.40 C142.38,564.40 143.45,561.70 144.70,560.90 C145.95,560.10 145.40,559.87 148.70,559.60 C152.00,559.33 161.87,559.35 164.50,559.30" stroke="#d84848" stroke-width="0.55" fill="none"/>
<path d="M117.50,570.00 C120.20,569.93 130.35,569.93 133.70,569.60 C137.05,569.27 136.35,568.83 137.60,568.00 C138.85,567.17 140.02,564.60 141.20,564.60 C142.38,564.60 143.45,567.17 144.70,568.00 C145.95,568.83 145.40,569.27 148.70,569.60 C152.00,569.93 161.87,569.93 164.50,570.00" stroke="#333" stroke-width="0.55" fill="none"/>
<text x="117.80" y="557.70" font-size="5.2" text-anchor="start" fill="#222">0.02</text>
<text x="117.80" y="568.40" font-size="5.2" text-anchor="start" fill="#222">0</text>
<text x="117.80" y="579.40" font-size="5.2" text-anchor="start" fill="#222">-0.02</text>
<text transform="translate(54.6 98.6) scale(1.25 1)" x="0" y="0" font-size="11.6" fill="#fff" font-weight="bold"><tspan font-style="italic">θ</tspan> = 0</text>
<text transform="translate(55.0 333.6) scale(1.25 1)" x="0" y="0" font-size="11.6" fill="#fff" font-weight="bold"><tspan font-style="italic">θ</tspan> = π/4</text>
<text transform="translate(55.0 505.1) scale(1.25 1)" x="0" y="0" font-size="11.6" fill="#fff" font-weight="bold"><tspan font-style="italic">θ</tspan> = π/2</text>
<text transform="translate(246.0 41.5) scale(1.25 1)" x="0" y="0" font-size="11.6" fill="#fff" font-weight="bold"><tspan font-style="italic">θ</tspan> = 0</text>
<text transform="translate(245.9 157.0) scale(1.25 1)" x="0" y="0" font-size="11.6" fill="#fff" font-weight="bold"><tspan font-style="italic">θ</tspan> = π</text>
<text transform="translate(245.9 273.5) scale(1.25 1)" x="0" y="0" font-size="11.6" fill="#fff" font-weight="bold"><tspan font-style="italic">θ</tspan> = π/4</text>
<text transform="translate(245.9 390.0) scale(1.25 1)" x="0" y="0" font-size="11.6" fill="#fff" font-weight="bold"><tspan font-style="italic">θ</tspan> = 3π/4</text>
<text transform="translate(245.8 506.5) scale(1.25 1)" x="0" y="0" font-size="11.6" fill="#fff" font-weight="bold"><tspan font-style="italic">θ</tspan> = π/2</text>
<rect x="74.7" y="75.1" width="69.10" height="4.70" fill="url(#cbA)"/>
<text x="75.40" y="72.50" font-size="9.4" text-anchor="middle" fill="#1c1c1c">0</text>
<text x="142.00" y="72.50" font-size="9.4" text-anchor="middle" fill="#1c1c1c">-40</text>
<text x="94.3" y="68.8" font-size="8.6" fill="#1c1c1c">S<tspan font-size="5.8" dy="2.0">21</tspan><tspan dy="-2.0">(dB)</tspan></text>
<rect x="262.9" y="19.7" width="68.60" height="4.90" fill="url(#cbB)"/>
<text x="263.00" y="16.80" font-size="9.4" text-anchor="middle" fill="#1c1c1c">0</text>
<text x="330.30" y="16.80" font-size="9.4" text-anchor="middle" fill="#1c1c1c">-50</text>
<text x="282.4" y="13.4" font-size="8.6" fill="#1c1c1c">S<tspan font-size="5.8" dy="2.0">21</tspan><tspan dy="-2.0">(dB)</tspan></text>
<path d="M176.10,93.40 L185.00,89.10 L182.10,84.20 L194.80,87.90 L191.40,100.20 L189.70,95.60 L180.70,100.50Z" fill="#d0d0d0" stroke="#000" stroke-width="1.45" stroke-linejoin="miter"/>
<path d="M180.80,155.20 L189.50,160.30 L191.50,155.50 L194.60,168.20 L182.20,171.60 L185.30,167.90 L176.50,162.60Z" fill="#d0d0d0" stroke="#000" stroke-width="1.45" stroke-linejoin="miter"/>
<path d="M176.10,330.40 L185.00,326.10 L182.10,321.20 L194.80,324.90 L191.40,337.20 L189.70,332.60 L180.70,337.50Z" fill="#d0d0d0" stroke="#000" stroke-width="1.45" stroke-linejoin="miter"/>
<path d="M180.80,392.00 L189.50,397.10 L191.50,392.30 L194.60,405.00 L182.20,408.40 L185.30,404.70 L176.50,399.40Z" fill="#d0d0d0" stroke="#000" stroke-width="1.45" stroke-linejoin="miter"/>
<path d="M177.40,532.50 L187.30,532.50 L187.30,527.90 L195.80,536.40 L187.30,545.20 L187.30,541.00 L177.40,541.00Z" fill="#d0d0d0" stroke="#000" stroke-width="1.45" stroke-linejoin="miter"/>
<text x="0.60" y="13.40" font-size="17.4" text-anchor="start" fill="#1c1c1c">(a)</text>
<text x="195.50" y="13.40" font-size="17.4" text-anchor="start" fill="#1c1c1c">(b)</text>
<text x="356.40" y="13.40" font-size="17.4" text-anchor="start" fill="#1c1c1c">(c)</text>
<text x="517.80" y="13.40" font-size="17.4" text-anchor="start" fill="#1c1c1c">(d)</text>
<text x="616.20" y="18.70" font-size="12.2" text-anchor="middle" fill="#1c1c1c">Damping Constant</text>
<text x="42.40" y="88.75" font-size="12" text-anchor="end" fill="#1c1c1c">4.6</text>
<text x="42.40" y="111.15" font-size="12" text-anchor="end" fill="#1c1c1c">4.1</text>
<text x="42.40" y="133.55" font-size="12" text-anchor="end" fill="#1c1c1c">3.6</text>
<text x="42.40" y="155.95" font-size="12" text-anchor="end" fill="#1c1c1c">3.1</text>
<text x="42.40" y="178.35" font-size="12" text-anchor="end" fill="#1c1c1c">2.6</text>
<text x="49.20" y="188.50" font-size="12" text-anchor="middle" fill="#1c1c1c">40</text>
<text x="72.54" y="188.50" font-size="12" text-anchor="middle" fill="#1c1c1c">50</text>
<text x="95.88" y="188.50" font-size="12" text-anchor="middle" fill="#1c1c1c">60</text>
<text x="119.22" y="188.50" font-size="12" text-anchor="middle" fill="#1c1c1c">70</text>
<text x="142.56" y="188.50" font-size="12" text-anchor="middle" fill="#1c1c1c">80</text>
<text x="165.90" y="188.50" font-size="12" text-anchor="middle" fill="#1c1c1c">90</text>
<text x="108.80" y="206.20" font-size="12.4" text-anchor="middle" fill="#1c1c1c">Magnetic field (mT)</text>
<text x="43.50" y="323.55" font-size="12" text-anchor="end" fill="#1c1c1c">4.35</text>
<text x="43.50" y="346.40" font-size="12" text-anchor="end" fill="#1c1c1c">3.85</text>
<text x="43.50" y="369.25" font-size="12" text-anchor="end" fill="#1c1c1c">3.35</text>
<text x="43.50" y="392.10" font-size="12" text-anchor="end" fill="#1c1c1c">2.85</text>
<text x="43.50" y="414.95" font-size="12" text-anchor="end" fill="#1c1c1c">2.35</text>
<text x="50.20" y="422.80" font-size="12" text-anchor="middle" fill="#1c1c1c">39</text>
<text x="73.34" y="422.80" font-size="12" text-anchor="middle" fill="#1c1c1c">49</text>
<text x="96.48" y="422.80" font-size="12" text-anchor="middle" fill="#1c1c1c">59</text>
<text x="119.62" y="422.80" font-size="12" text-anchor="middle" fill="#1c1c1c">69</text>
<text x="142.76" y="422.80" font-size="12" text-anchor="middle" fill="#1c1c1c">79</text>
<text x="165.90" y="422.80" font-size="12" text-anchor="middle" fill="#1c1c1c">89</text>
<text x="108.80" y="440.60" font-size="12.4" text-anchor="middle" fill="#1c1c1c">Magnetic field (mT)</text>
<text x="42.60" y="495.25" font-size="12" text-anchor="end" fill="#1c1c1c">4.3</text>
<text x="42.60" y="518.00" font-size="12" text-anchor="end" fill="#1c1c1c">3.8</text>
<text x="42.60" y="540.75" font-size="12" text-anchor="end" fill="#1c1c1c">3.3</text>
<text x="42.60" y="563.50" font-size="12" text-anchor="end" fill="#1c1c1c">2.8</text>
<text x="42.60" y="586.25" font-size="12" text-anchor="end" fill="#1c1c1c">2.3</text>
<text x="50.20" y="594.50" font-size="12" text-anchor="middle" fill="#1c1c1c">30</text>
<text x="73.32" y="594.50" font-size="12" text-anchor="middle" fill="#1c1c1c">40</text>
<text x="96.44" y="594.50" font-size="12" text-anchor="middle" fill="#1c1c1c">50</text>
<text x="119.56" y="594.50" font-size="12" text-anchor="middle" fill="#1c1c1c">60</text>
<text x="142.68" y="594.50" font-size="12" text-anchor="middle" fill="#1c1c1c">70</text>
<text x="165.80" y="594.50" font-size="12" text-anchor="middle" fill="#1c1c1c">80</text>
<text x="108.80" y="612.40" font-size="12.4" text-anchor="middle" fill="#1c1c1c">Magnetic field (mT)</text>
<text x="15.20" y="129.35" font-size="12.3" text-anchor="middle" fill="#1c1c1c" transform="rotate(-90 15.2 129.35000000000002)">Frequency(GHz)</text>
<text x="15.20" y="363.85" font-size="12.3" text-anchor="middle" fill="#1c1c1c" transform="rotate(-90 15.2 363.85)">Frequency(GHz)</text>
<text x="15.20" y="535.60" font-size="12.3" text-anchor="middle" fill="#1c1c1c" transform="rotate(-90 15.2 535.5999999999999)">Frequency(GHz)</text>
<text x="235.90" y="27.85" font-size="12" text-anchor="end" fill="#1c1c1c">4.6</text>
<text x="235.90" y="46.73" font-size="12" text-anchor="end" fill="#1c1c1c">4.2</text>
<text x="235.90" y="65.61" font-size="12" text-anchor="end" fill="#1c1c1c">3.8</text>
<text x="235.90" y="84.49" font-size="12" text-anchor="end" fill="#1c1c1c">3.4</text>
<text x="235.90" y="103.37" font-size="12" text-anchor="end" fill="#1c1c1c">3.0</text>
<text x="235.90" y="122.25" font-size="12" text-anchor="end" fill="#1c1c1c">2.6</text>
<text x="211.20" y="71.35" font-size="12.3" text-anchor="middle" fill="#1c1c1c" transform="rotate(-90 211.2 71.35000000000001)">Frequency(GHz)</text>
<text x="235.90" y="147.85" font-size="12" text-anchor="end" fill="#1c1c1c">4.6</text>
<text x="235.90" y="166.75" font-size="12" text-anchor="end" fill="#1c1c1c">4.2</text>
<text x="235.90" y="185.65" font-size="12" text-anchor="end" fill="#1c1c1c">3.8</text>
<text x="235.90" y="204.55" font-size="12" text-anchor="end" fill="#1c1c1c">3.4</text>
<text x="235.90" y="223.45" font-size="12" text-anchor="end" fill="#1c1c1c">3.0</text>
<text x="235.90" y="242.35" font-size="12" text-anchor="end" fill="#1c1c1c">2.6</text>
<text x="211.20" y="191.50" font-size="12.3" text-anchor="middle" fill="#1c1c1c" transform="rotate(-90 211.2 191.50000000000003)">Frequency(GHz)</text>
<text x="235.90" y="260.05" font-size="12" text-anchor="end" fill="#1c1c1c">4.6</text>
<text x="235.90" y="278.87" font-size="12" text-anchor="end" fill="#1c1c1c">4.2</text>
<text x="235.90" y="297.69" font-size="12" text-anchor="end" fill="#1c1c1c">3.8</text>
<text x="235.90" y="316.51" font-size="12" text-anchor="end" fill="#1c1c1c">3.4</text>
<text x="235.90" y="335.33" font-size="12" text-anchor="end" fill="#1c1c1c">3.0</text>
<text x="235.90" y="354.15" font-size="12" text-anchor="end" fill="#1c1c1c">2.6</text>
<text x="211.20" y="303.70" font-size="12.3" text-anchor="middle" fill="#1c1c1c" transform="rotate(-90 211.2 303.7)">Frequency(GHz)</text>
<text x="235.90" y="376.85" font-size="12" text-anchor="end" fill="#1c1c1c">4.6</text>
<text x="235.90" y="395.65" font-size="12" text-anchor="end" fill="#1c1c1c">4.2</text>
<text x="235.90" y="414.45" font-size="12" text-anchor="end" fill="#1c1c1c">3.8</text>
<text x="235.90" y="433.25" font-size="12" text-anchor="end" fill="#1c1c1c">3.4</text>
<text x="235.90" y="452.05" font-size="12" text-anchor="end" fill="#1c1c1c">3.0</text>
<text x="235.90" y="470.85" font-size="12" text-anchor="end" fill="#1c1c1c">2.6</text>
<text x="211.20" y="419.80" font-size="12.3" text-anchor="middle" fill="#1c1c1c" transform="rotate(-90 211.2 419.8)">Frequency(GHz)</text>
<text x="235.90" y="492.65" font-size="12" text-anchor="end" fill="#1c1c1c">4.6</text>
<text x="235.90" y="511.45" font-size="12" text-anchor="end" fill="#1c1c1c">4.2</text>
<text x="235.90" y="530.25" font-size="12" text-anchor="end" fill="#1c1c1c">3.8</text>
<text x="235.90" y="549.05" font-size="12" text-anchor="end" fill="#1c1c1c">3.4</text>
<text x="235.90" y="567.85" font-size="12" text-anchor="end" fill="#1c1c1c">3.0</text>
<text x="235.90" y="586.65" font-size="12" text-anchor="end" fill="#1c1c1c">2.6</text>
<text x="211.20" y="536.10" font-size="12.3" text-anchor="middle" fill="#1c1c1c" transform="rotate(-90 211.2 536.1)">Frequency(GHz)</text>
<text x="240.10" y="595.90" font-size="12" text-anchor="middle" fill="#1c1c1c">40</text>
<text x="277.70" y="595.90" font-size="12" text-anchor="middle" fill="#1c1c1c">60</text>
<text x="317.10" y="595.90" font-size="12" text-anchor="middle" fill="#1c1c1c">80</text>
<text x="359.80" y="595.90" font-size="12" text-anchor="middle" fill="#1c1c1c">100</text>
<text x="299.50" y="614.40" font-size="12.4" text-anchor="middle" fill="#1c1c1c">Magnetic field (mT)</text>
<text x="396.40" y="28.15" font-size="12" text-anchor="end" fill="#1c1c1c">4.6</text>
<text x="396.40" y="46.99" font-size="12" text-anchor="end" fill="#1c1c1c">4.2</text>
<text x="396.40" y="65.83" font-size="12" text-anchor="end" fill="#1c1c1c">3.8</text>
<text x="396.40" y="84.67" font-size="12" text-anchor="end" fill="#1c1c1c">3.4</text>
<text x="396.40" y="103.51" font-size="12" text-anchor="end" fill="#1c1c1c">3.0</text>
<text x="396.40" y="122.35" font-size="12" text-anchor="end" fill="#1c1c1c">2.6</text>
<text x="372.20" y="70.65" font-size="12.3" text-anchor="middle" fill="#1c1c1c" transform="rotate(-90 372.2 70.64999999999999)">Frequency(GHz)</text>
<text x="396.40" y="147.95" font-size="12" text-anchor="end" fill="#1c1c1c">4.6</text>
<text x="396.40" y="166.81" font-size="12" text-anchor="end" fill="#1c1c1c">4.2</text>
<text x="396.40" y="185.67" font-size="12" text-anchor="end" fill="#1c1c1c">3.8</text>
<text x="396.40" y="204.53" font-size="12" text-anchor="end" fill="#1c1c1c">3.4</text>
<text x="396.40" y="223.39" font-size="12" text-anchor="end" fill="#1c1c1c">3.0</text>
<text x="396.40" y="242.25" font-size="12" text-anchor="end" fill="#1c1c1c">2.6</text>
<text x="372.20" y="190.60" font-size="12.3" text-anchor="middle" fill="#1c1c1c" transform="rotate(-90 372.2 190.6)">Frequency(GHz)</text>
<text x="396.40" y="260.05" font-size="12" text-anchor="end" fill="#1c1c1c">4.6</text>
<text x="396.40" y="278.93" font-size="12" text-anchor="end" fill="#1c1c1c">4.2</text>
<text x="396.40" y="297.81" font-size="12" text-anchor="end" fill="#1c1c1c">3.8</text>
<text x="396.40" y="316.69" font-size="12" text-anchor="end" fill="#1c1c1c">3.4</text>
<text x="396.40" y="335.57" font-size="12" text-anchor="end" fill="#1c1c1c">3.0</text>
<text x="396.40" y="354.45" font-size="12" text-anchor="end" fill="#1c1c1c">2.6</text>
<text x="372.20" y="302.95" font-size="12.3" text-anchor="middle" fill="#1c1c1c" transform="rotate(-90 372.2 302.95000000000005)">Frequency(GHz)</text>
<text x="396.40" y="376.65" font-size="12" text-anchor="end" fill="#1c1c1c">4.6</text>
<text x="396.40" y="395.51" font-size="12" text-anchor="end" fill="#1c1c1c">4.2</text>
<text x="396.40" y="414.37" font-size="12" text-anchor="end" fill="#1c1c1c">3.8</text>
<text x="396.40" y="433.23" font-size="12" text-anchor="end" fill="#1c1c1c">3.4</text>
<text x="396.40" y="452.09" font-size="12" text-anchor="end" fill="#1c1c1c">3.0</text>
<text x="396.40" y="470.95" font-size="12" text-anchor="end" fill="#1c1c1c">2.6</text>
<text x="372.20" y="418.85" font-size="12.3" text-anchor="middle" fill="#1c1c1c" transform="rotate(-90 372.2 418.85)">Frequency(GHz)</text>
<text x="396.40" y="493.05" font-size="12" text-anchor="end" fill="#1c1c1c">4.6</text>
<text x="396.40" y="511.83" font-size="12" text-anchor="end" fill="#1c1c1c">4.2</text>
<text x="396.40" y="530.61" font-size="12" text-anchor="end" fill="#1c1c1c">3.8</text>
<text x="396.40" y="549.39" font-size="12" text-anchor="end" fill="#1c1c1c">3.4</text>
<text x="396.40" y="568.17" font-size="12" text-anchor="end" fill="#1c1c1c">3.0</text>
<text x="396.40" y="586.95" font-size="12" text-anchor="end" fill="#1c1c1c">2.6</text>
<text x="372.20" y="535.55" font-size="12.3" text-anchor="middle" fill="#1c1c1c" transform="rotate(-90 372.2 535.5500000000001)">Frequency(GHz)</text>
<text x="400.50" y="596.30" font-size="12" text-anchor="middle" fill="#1c1c1c">40</text>
<text x="438.90" y="596.30" font-size="12" text-anchor="middle" fill="#1c1c1c">60</text>
<text x="477.30" y="596.30" font-size="12" text-anchor="middle" fill="#1c1c1c">80</text>
<text x="515.70" y="596.30" font-size="12" text-anchor="middle" fill="#1c1c1c">100</text>
<text x="458.50" y="614.40" font-size="12.4" text-anchor="middle" fill="#1c1c1c">Magnetic field (mT)</text>
<text x="554.60" y="42.95" font-size="12" text-anchor="end" fill="#1c1c1c">0.04</text>
<text x="554.60" y="69.15" font-size="12" text-anchor="end" fill="#1c1c1c">0.02</text>
<text x="554.60" y="95.35" font-size="12" text-anchor="end" fill="#1c1c1c">0</text>
<text x="554.60" y="121.55" font-size="12" text-anchor="end" fill="#1c1c1c">-0.02</text>
<text x="554.60" y="146.75" font-size="12" text-anchor="end" fill="#1c1c1c">0.03</text>
<text x="554.60" y="169.73" font-size="12" text-anchor="end" fill="#1c1c1c">0.02</text>
<text x="554.60" y="192.70" font-size="12" text-anchor="end" fill="#1c1c1c">0.01</text>
<text x="554.60" y="215.68" font-size="12" text-anchor="end" fill="#1c1c1c">0</text>
<text x="554.60" y="238.65" font-size="12" text-anchor="end" fill="#1c1c1c">-0.01</text>
<text x="554.60" y="263.05" font-size="12" text-anchor="end" fill="#1c1c1c">0.03</text>
<text x="554.60" y="286.18" font-size="12" text-anchor="end" fill="#1c1c1c">0.02</text>
<text x="554.60" y="309.30" font-size="12" text-anchor="end" fill="#1c1c1c">0.01</text>
<text x="554.60" y="332.43" font-size="12" text-anchor="end" fill="#1c1c1c">0</text>
<text x="554.60" y="355.55" font-size="12" text-anchor="end" fill="#1c1c1c">-0.01</text>
<text x="554.60" y="378.75" font-size="12" text-anchor="end" fill="#1c1c1c">0.03</text>
<text x="554.60" y="401.90" font-size="12" text-anchor="end" fill="#1c1c1c">0.02</text>
<text x="554.60" y="425.05" font-size="12" text-anchor="end" fill="#1c1c1c">0.01</text>
<text x="554.60" y="448.20" font-size="12" text-anchor="end" fill="#1c1c1c">0</text>
<text x="554.60" y="471.35" font-size="12" text-anchor="end" fill="#1c1c1c">-0.01</text>
<text x="554.60" y="495.25" font-size="12" text-anchor="end" fill="#1c1c1c">0.03</text>
<text x="554.60" y="518.20" font-size="12" text-anchor="end" fill="#1c1c1c">0.02</text>
<text x="554.60" y="541.15" font-size="12" text-anchor="end" fill="#1c1c1c">0.01</text>
<text x="554.60" y="564.10" font-size="12" text-anchor="end" fill="#1c1c1c">0</text>
<text x="554.60" y="587.05" font-size="12" text-anchor="end" fill="#1c1c1c">-0.01</text>
<text x="557.60" y="596.30" font-size="12" text-anchor="middle" fill="#1c1c1c">40</text>
<text x="595.97" y="596.30" font-size="12" text-anchor="middle" fill="#1c1c1c">60</text>
<text x="634.33" y="596.30" font-size="12" text-anchor="middle" fill="#1c1c1c">80</text>
<text x="672.70" y="596.30" font-size="12" text-anchor="middle" fill="#1c1c1c">100</text>
<text x="615.00" y="614.40" font-size="12.4" text-anchor="middle" fill="#1c1c1c">Magnetic field (mT)</text>
</svg></body></html>
